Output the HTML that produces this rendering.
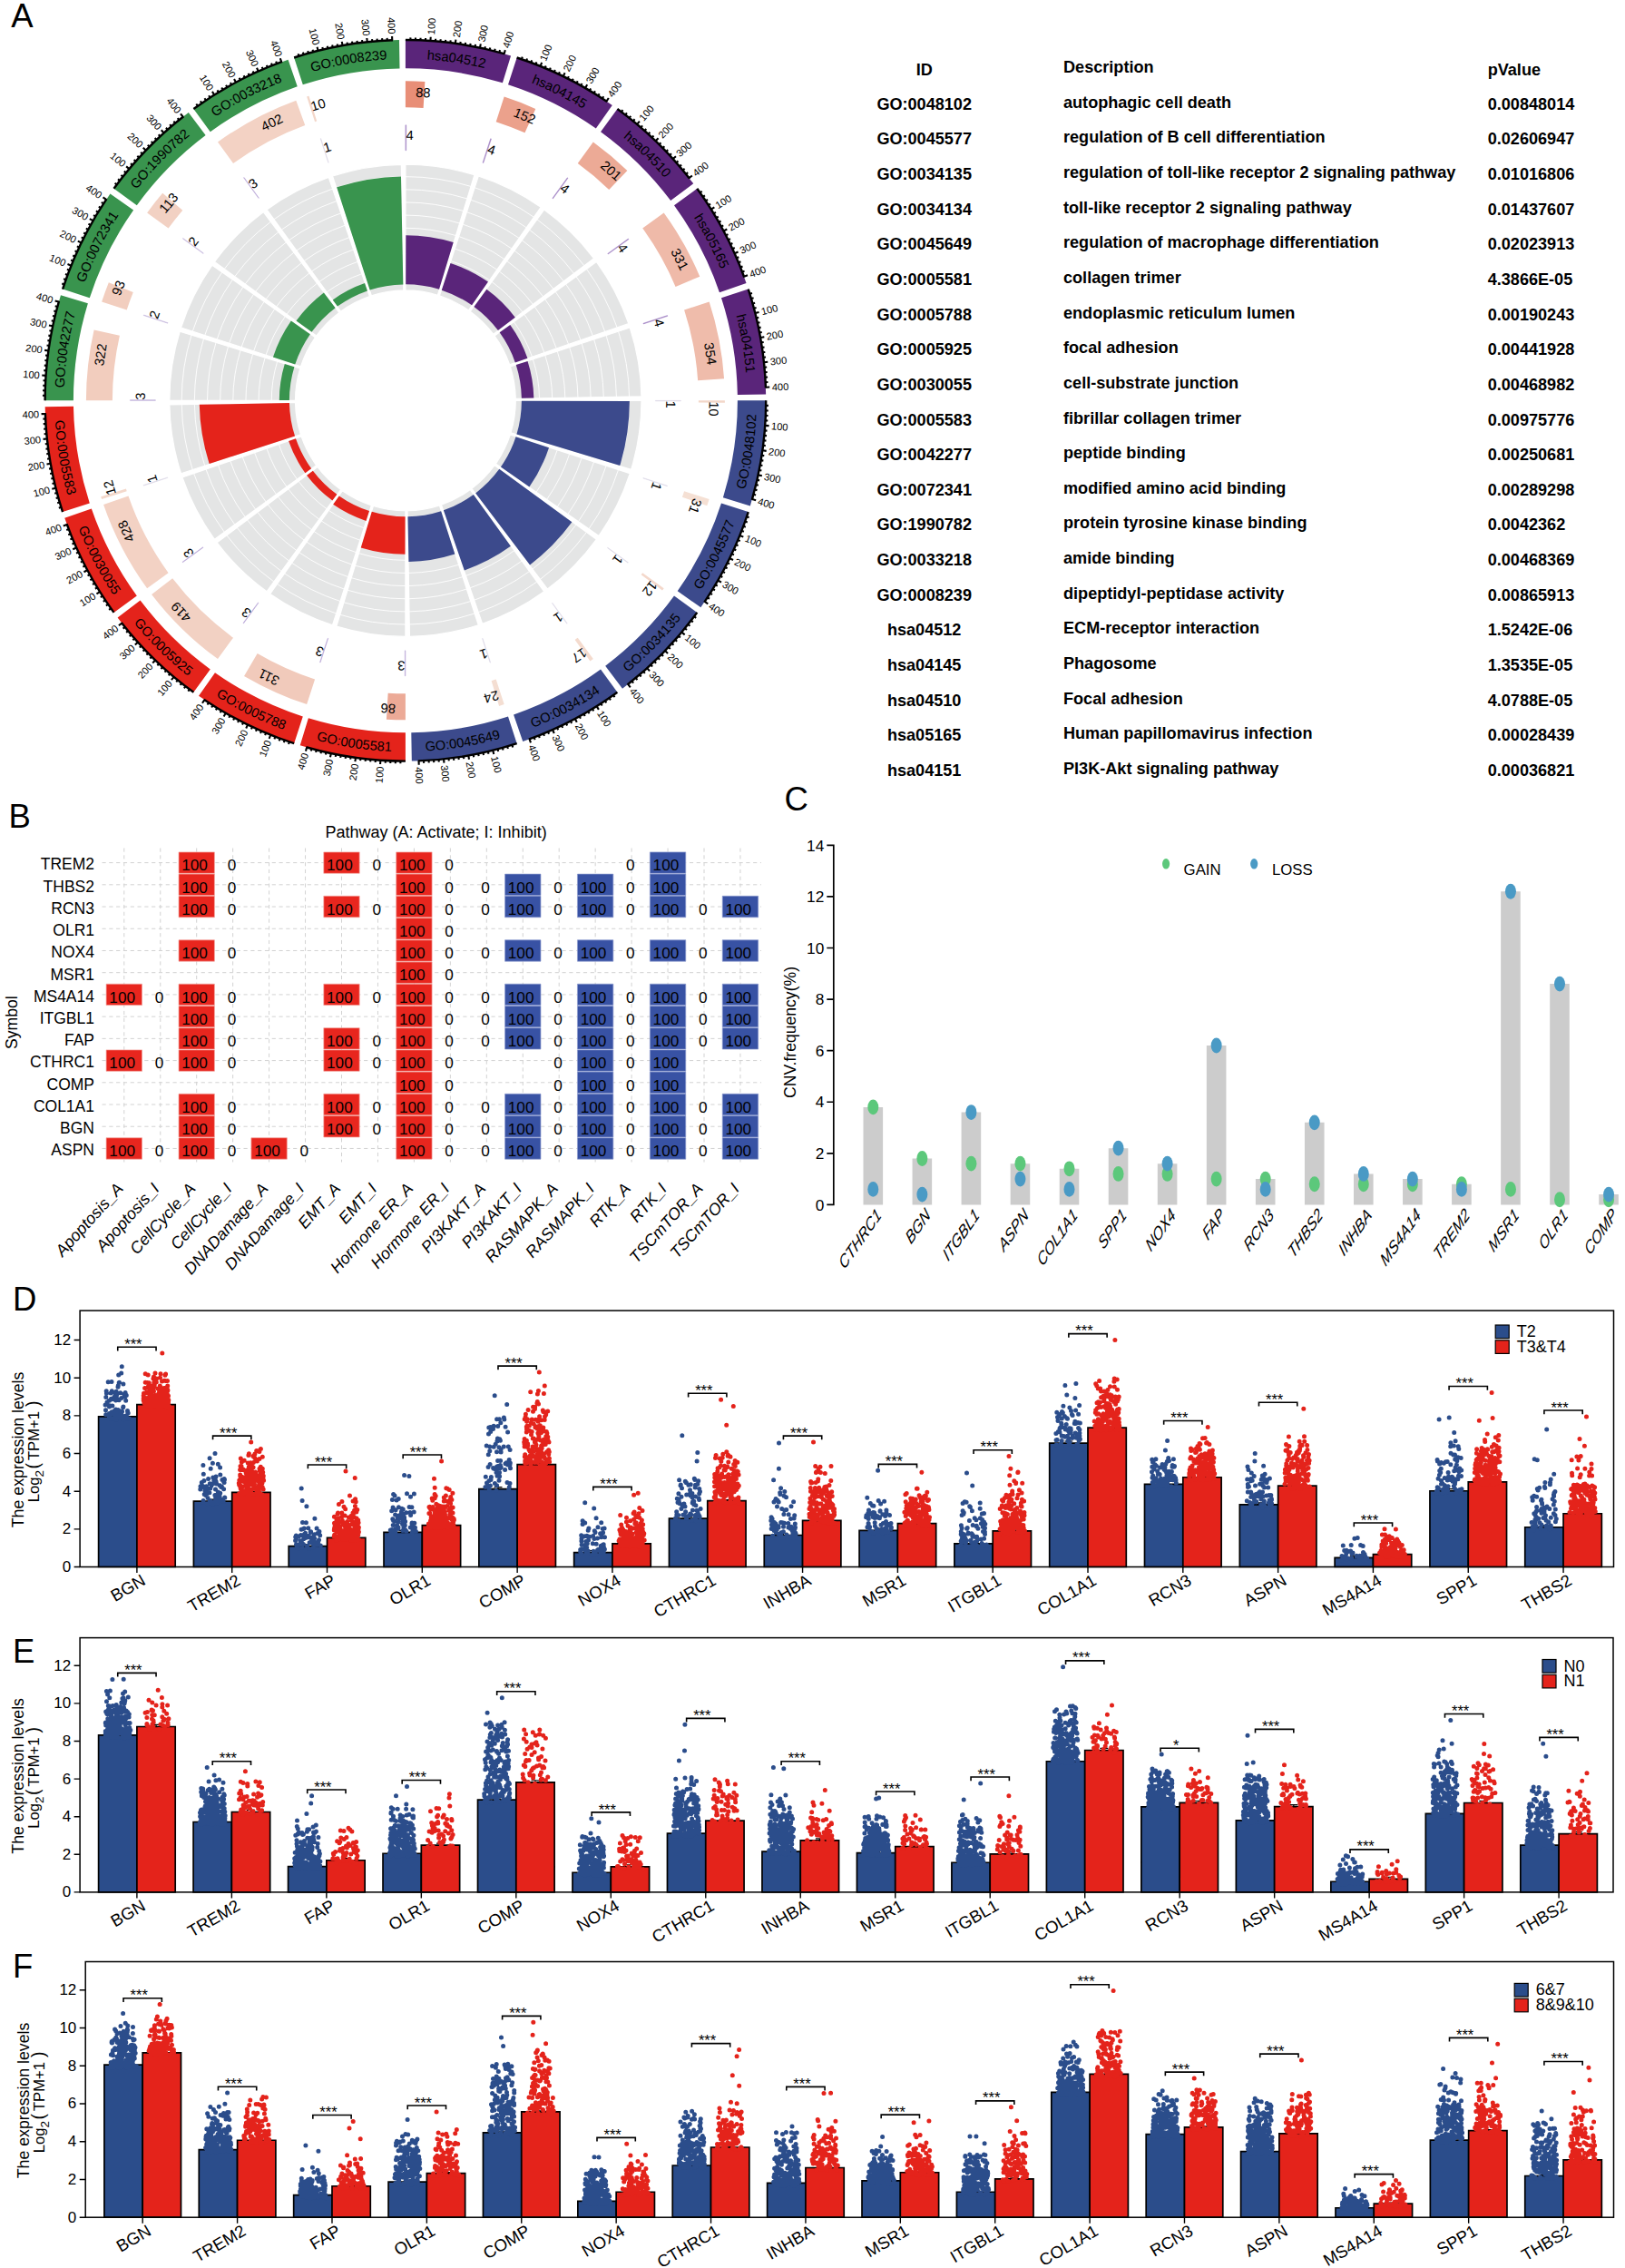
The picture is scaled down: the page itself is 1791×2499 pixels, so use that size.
<!DOCTYPE html>
<html lang="en"><head><meta charset="utf-8"><title>Figure</title>
<style>html,body{margin:0;padding:0;background:#fff}svg{display:block}text{fill:#000}</style></head>
<body>
<svg width="1791" height="2499" viewBox="0 0 1791 2499">
<rect width="1791" height="2499" fill="#fff"/>
<g font-family="'Liberation Sans', Arial, Helvetica, sans-serif" font-size="36.5">
<text x="12.3" y="29.5">A</text>
<text x="9.5" y="911.8">B</text>
<text x="864.5" y="893.4">C</text>
<text x="14" y="1443.8">D</text>
<text x="14" y="1831.5">E</text>
<text x="14" y="2178.5">F</text>
</g>
<g font-family="'Liberation Sans', Arial, Helvetica, sans-serif">
<path d="M446.9 181.25A260.1 260.1 0 0 1 522.95 192.62L482.39 325.25A121.4 121.4 0 0 0 446.9 319.95ZM527.28 193.98A260.1 260.1 0 0 1 596.09 228.29L516.53 341.9A121.4 121.4 0 0 0 484.41 325.89ZM599.78 230.92A260.1 260.1 0 0 1 654.63 284.82L543.85 368.29A121.4 121.4 0 0 0 518.26 343.14ZM657.33 288.47A260.1 260.1 0 0 1 692.83 356.67L561.69 401.83A121.4 121.4 0 0 0 545.11 369.99ZM694.27 360.97A260.1 260.1 0 0 1 706.96 436.81L568.28 439.23A121.4 121.4 0 0 0 562.36 403.84ZM707 441.35A260.1 260.1 0 0 1 695.63 517.4L563 476.84A121.4 121.4 0 0 0 568.3 441.35ZM694.27 521.73A260.1 260.1 0 0 1 659.96 590.54L546.35 510.98A121.4 121.4 0 0 0 562.36 478.86ZM657.33 594.23A260.1 260.1 0 0 1 603.43 649.08L519.96 538.3A121.4 121.4 0 0 0 545.11 512.71ZM599.78 651.78A260.1 260.1 0 0 1 531.58 687.28L486.42 556.14A121.4 121.4 0 0 0 518.26 539.56ZM527.28 688.72A260.1 260.1 0 0 1 451.44 701.41L449.02 562.73A121.4 121.4 0 0 0 484.41 556.81ZM446.9 701.45A260.1 260.1 0 0 1 370.85 690.08L411.41 557.45A121.4 121.4 0 0 0 446.9 562.75ZM366.52 688.72A260.1 260.1 0 0 1 297.71 654.41L377.27 540.8A121.4 121.4 0 0 0 409.39 556.81ZM294.02 651.78A260.1 260.1 0 0 1 239.17 597.88L349.95 514.41A121.4 121.4 0 0 0 375.54 539.56ZM236.47 594.23A260.1 260.1 0 0 1 200.97 526.03L332.11 480.87A121.4 121.4 0 0 0 348.69 512.71ZM199.53 521.73A260.1 260.1 0 0 1 186.84 445.89L325.52 443.47A121.4 121.4 0 0 0 331.44 478.86ZM186.8 441.35A260.1 260.1 0 0 1 198.17 365.3L330.8 405.86A121.4 121.4 0 0 0 325.5 441.35ZM199.53 360.97A260.1 260.1 0 0 1 233.84 292.16L347.45 371.72A121.4 121.4 0 0 0 331.44 403.84ZM236.47 288.47A260.1 260.1 0 0 1 290.37 233.62L373.84 344.4A121.4 121.4 0 0 0 348.69 369.99ZM294.02 230.92A260.1 260.1 0 0 1 362.22 195.42L407.38 326.56A121.4 121.4 0 0 0 375.54 343.14ZM366.52 193.98A260.1 260.1 0 0 1 442.36 181.29L444.78 319.97A121.4 121.4 0 0 0 409.39 325.89Z" fill="#e4e5e5" stroke="#fff" stroke-width="1.2"/>
<path d="M446.9 194.65A246.7 246.7 0 0 1 519.03 205.43M446.9 208.8A232.55 232.55 0 0 1 514.89 218.96M446.9 222.95A218.4 218.4 0 0 1 510.75 232.49M446.9 237.1A204.25 204.25 0 0 1 506.62 246.02M446.9 251.25A190.1 190.1 0 0 1 502.48 259.56M446.9 265.4A175.95 175.95 0 0 1 498.34 273.09M446.9 279.55A161.8 161.8 0 0 1 494.21 286.62M446.9 293.7A147.65 147.65 0 0 1 490.07 300.15M446.9 307.85A133.5 133.5 0 0 1 485.93 313.68M523.13 206.72A246.7 246.7 0 0 1 588.4 239.27M518.76 220.18A232.55 232.55 0 0 1 580.29 250.86M514.39 233.64A218.4 218.4 0 0 1 572.17 262.45M510.02 247.1A204.25 204.25 0 0 1 564.05 274.04M505.64 260.55A190.1 190.1 0 0 1 555.94 285.63M501.27 274.01A175.95 175.95 0 0 1 547.82 297.22M496.9 287.47A161.8 161.8 0 0 1 539.7 308.81M492.53 300.93A147.65 147.65 0 0 1 531.59 320.4M488.15 314.38A133.5 133.5 0 0 1 523.47 331.99M591.91 241.77A246.7 246.7 0 0 1 643.92 292.88M583.59 253.21A232.55 232.55 0 0 1 632.62 301.4M575.27 264.66A218.4 218.4 0 0 1 621.32 309.91M566.96 276.11A204.25 204.25 0 0 1 610.02 318.43M558.64 287.56A190.1 190.1 0 0 1 598.72 326.94M550.32 299A175.95 175.95 0 0 1 587.42 335.46M542 310.45A161.8 161.8 0 0 1 576.12 343.98M533.69 321.9A147.65 147.65 0 0 1 564.82 352.49M525.37 333.35A133.5 133.5 0 0 1 553.52 361.01M646.48 296.34A246.7 246.7 0 0 1 680.16 361.03M635.04 304.66A232.55 232.55 0 0 1 666.78 365.64M623.59 312.98A218.4 218.4 0 0 1 653.4 370.25M612.14 321.29A204.25 204.25 0 0 1 640.02 374.85M600.69 329.61A190.1 190.1 0 0 1 626.64 379.46M589.25 337.93A175.95 175.95 0 0 1 613.26 384.07M577.8 346.25A161.8 161.8 0 0 1 599.88 388.67M566.35 354.56A147.65 147.65 0 0 1 586.51 393.28M554.9 362.88A133.5 133.5 0 0 1 573.13 397.89M681.53 365.12A246.7 246.7 0 0 1 693.56 437.04M668.07 369.49A232.55 232.55 0 0 1 679.41 437.29M654.61 373.86A218.4 218.4 0 0 1 665.27 437.54M641.15 378.23A204.25 204.25 0 0 1 651.12 437.79M627.7 382.61A190.1 190.1 0 0 1 636.97 438.03M614.24 386.98A175.95 175.95 0 0 1 622.82 438.28M600.78 391.35A161.8 161.8 0 0 1 608.68 438.53M587.32 395.72A147.65 147.65 0 0 1 594.53 438.77M573.87 400.1A133.5 133.5 0 0 1 580.38 439.02M693.6 441.35A246.7 246.7 0 0 1 682.82 513.48M679.45 441.35A232.55 232.55 0 0 1 669.29 509.34M665.3 441.35A218.4 218.4 0 0 1 655.76 505.2M651.15 441.35A204.25 204.25 0 0 1 642.23 501.07M637 441.35A190.1 190.1 0 0 1 628.69 496.93M622.85 441.35A175.95 175.95 0 0 1 615.16 492.79M608.7 441.35A161.8 161.8 0 0 1 601.63 488.66M594.55 441.35A147.65 147.65 0 0 1 588.1 484.52M580.4 441.35A133.5 133.5 0 0 1 574.57 480.38M681.53 517.58A246.7 246.7 0 0 1 648.98 582.85M668.07 513.21A232.55 232.55 0 0 1 637.39 574.74M654.61 508.84A218.4 218.4 0 0 1 625.8 566.62M641.15 504.47A204.25 204.25 0 0 1 614.21 558.5M627.7 500.09A190.1 190.1 0 0 1 602.62 550.39M614.24 495.72A175.95 175.95 0 0 1 591.03 542.27M600.78 491.35A161.8 161.8 0 0 1 579.44 534.15M587.32 486.98A147.65 147.65 0 0 1 567.85 526.04M573.87 482.6A133.5 133.5 0 0 1 556.26 517.92M646.48 586.36A246.7 246.7 0 0 1 595.37 638.37M635.04 578.04A232.55 232.55 0 0 1 586.85 627.07M623.59 569.72A218.4 218.4 0 0 1 578.34 615.77M612.14 561.41A204.25 204.25 0 0 1 569.82 604.47M600.69 553.09A190.1 190.1 0 0 1 561.31 593.17M589.25 544.77A175.95 175.95 0 0 1 552.79 581.87M577.8 536.45A161.8 161.8 0 0 1 544.27 570.57M566.35 528.14A147.65 147.65 0 0 1 535.76 559.27M554.9 519.82A133.5 133.5 0 0 1 527.24 547.97M591.91 640.93A246.7 246.7 0 0 1 527.22 674.61M583.59 629.49A232.55 232.55 0 0 1 522.61 661.23M575.27 618.04A218.4 218.4 0 0 1 518 647.85M566.96 606.59A204.25 204.25 0 0 1 513.4 634.47M558.64 595.14A190.1 190.1 0 0 1 508.79 621.09M550.32 583.7A175.95 175.95 0 0 1 504.18 607.71M542 572.25A161.8 161.8 0 0 1 499.58 594.33M533.69 560.8A147.65 147.65 0 0 1 494.97 580.96M525.37 549.35A133.5 133.5 0 0 1 490.36 567.58M523.13 675.98A246.7 246.7 0 0 1 451.21 688.01M518.76 662.52A232.55 232.55 0 0 1 450.96 673.86M514.39 649.06A218.4 218.4 0 0 1 450.71 659.72M510.02 635.6A204.25 204.25 0 0 1 450.46 645.57M505.64 622.15A190.1 190.1 0 0 1 450.22 631.42M501.27 608.69A175.95 175.95 0 0 1 449.97 617.27M496.9 595.23A161.8 161.8 0 0 1 449.72 603.13M492.53 581.77A147.65 147.65 0 0 1 449.48 588.98M488.15 568.32A133.5 133.5 0 0 1 449.23 574.83M446.9 688.05A246.7 246.7 0 0 1 374.77 677.27M446.9 673.9A232.55 232.55 0 0 1 378.91 663.74M446.9 659.75A218.4 218.4 0 0 1 383.05 650.21M446.9 645.6A204.25 204.25 0 0 1 387.18 636.68M446.9 631.45A190.1 190.1 0 0 1 391.32 623.14M446.9 617.3A175.95 175.95 0 0 1 395.46 609.61M446.9 603.15A161.8 161.8 0 0 1 399.59 596.08M446.9 589A147.65 147.65 0 0 1 403.73 582.55M446.9 574.85A133.5 133.5 0 0 1 407.87 569.02M370.67 675.98A246.7 246.7 0 0 1 305.4 643.43M375.04 662.52A232.55 232.55 0 0 1 313.51 631.84M379.41 649.06A218.4 218.4 0 0 1 321.63 620.25M383.78 635.6A204.25 204.25 0 0 1 329.75 608.66M388.16 622.15A190.1 190.1 0 0 1 337.86 597.07M392.53 608.69A175.95 175.95 0 0 1 345.98 585.48M396.9 595.23A161.8 161.8 0 0 1 354.1 573.89M401.27 581.77A147.65 147.65 0 0 1 362.21 562.3M405.65 568.32A133.5 133.5 0 0 1 370.33 550.71M301.89 640.93A246.7 246.7 0 0 1 249.88 589.82M310.21 629.49A232.55 232.55 0 0 1 261.18 581.3M318.53 618.04A218.4 218.4 0 0 1 272.48 572.79M326.84 606.59A204.25 204.25 0 0 1 283.78 564.27M335.16 595.14A190.1 190.1 0 0 1 295.08 555.76M343.48 583.7A175.95 175.95 0 0 1 306.38 547.24M351.8 572.25A161.8 161.8 0 0 1 317.68 538.72M360.11 560.8A147.65 147.65 0 0 1 328.98 530.21M368.43 549.35A133.5 133.5 0 0 1 340.28 521.69M247.32 586.36A246.7 246.7 0 0 1 213.64 521.67M258.76 578.04A232.55 232.55 0 0 1 227.02 517.06M270.21 569.72A218.4 218.4 0 0 1 240.4 512.45M281.66 561.41A204.25 204.25 0 0 1 253.78 507.85M293.11 553.09A190.1 190.1 0 0 1 267.16 503.24M304.55 544.77A175.95 175.95 0 0 1 280.54 498.63M316 536.45A161.8 161.8 0 0 1 293.92 494.03M327.45 528.14A147.65 147.65 0 0 1 307.29 489.42M338.9 519.82A133.5 133.5 0 0 1 320.67 484.81M212.27 517.58A246.7 246.7 0 0 1 200.24 445.66M225.73 513.21A232.55 232.55 0 0 1 214.39 445.41M239.19 508.84A218.4 218.4 0 0 1 228.53 445.16M252.65 504.47A204.25 204.25 0 0 1 242.68 444.91M266.1 500.09A190.1 190.1 0 0 1 256.83 444.67M279.56 495.72A175.95 175.95 0 0 1 270.98 444.42M293.02 491.35A161.8 161.8 0 0 1 285.12 444.17M306.48 486.98A147.65 147.65 0 0 1 299.27 443.93M319.93 482.6A133.5 133.5 0 0 1 313.42 443.68M200.2 441.35A246.7 246.7 0 0 1 210.98 369.22M214.35 441.35A232.55 232.55 0 0 1 224.51 373.36M228.5 441.35A218.4 218.4 0 0 1 238.04 377.5M242.65 441.35A204.25 204.25 0 0 1 251.57 381.63M256.8 441.35A190.1 190.1 0 0 1 265.11 385.77M270.95 441.35A175.95 175.95 0 0 1 278.64 389.91M285.1 441.35A161.8 161.8 0 0 1 292.17 394.04M299.25 441.35A147.65 147.65 0 0 1 305.7 398.18M313.4 441.35A133.5 133.5 0 0 1 319.23 402.32M212.27 365.12A246.7 246.7 0 0 1 244.82 299.85M225.73 369.49A232.55 232.55 0 0 1 256.41 307.96M239.19 373.86A218.4 218.4 0 0 1 268 316.08M252.65 378.23A204.25 204.25 0 0 1 279.59 324.2M266.1 382.61A190.1 190.1 0 0 1 291.18 332.31M279.56 386.98A175.95 175.95 0 0 1 302.77 340.43M293.02 391.35A161.8 161.8 0 0 1 314.36 348.55M306.48 395.72A147.65 147.65 0 0 1 325.95 356.66M319.93 400.1A133.5 133.5 0 0 1 337.54 364.78M247.32 296.34A246.7 246.7 0 0 1 298.43 244.33M258.76 304.66A232.55 232.55 0 0 1 306.95 255.63M270.21 312.98A218.4 218.4 0 0 1 315.46 266.93M281.66 321.29A204.25 204.25 0 0 1 323.98 278.23M293.11 329.61A190.1 190.1 0 0 1 332.49 289.53M304.55 337.93A175.95 175.95 0 0 1 341.01 300.83M316 346.25A161.8 161.8 0 0 1 349.53 312.13M327.45 354.56A147.65 147.65 0 0 1 358.04 323.43M338.9 362.88A133.5 133.5 0 0 1 366.56 334.73M301.89 241.77A246.7 246.7 0 0 1 366.58 208.09M310.21 253.21A232.55 232.55 0 0 1 371.19 221.47M318.53 264.66A218.4 218.4 0 0 1 375.8 234.85M326.84 276.11A204.25 204.25 0 0 1 380.4 248.23M335.16 287.56A190.1 190.1 0 0 1 385.01 261.61M343.48 299A175.95 175.95 0 0 1 389.62 274.99M351.8 310.45A161.8 161.8 0 0 1 394.22 288.37M360.11 321.9A147.65 147.65 0 0 1 398.83 301.74M368.43 333.35A133.5 133.5 0 0 1 403.44 315.12M370.67 206.72A246.7 246.7 0 0 1 442.59 194.69M375.04 220.18A232.55 232.55 0 0 1 442.84 208.84M379.41 233.64A218.4 218.4 0 0 1 443.09 222.98M383.78 247.1A204.25 204.25 0 0 1 443.34 237.13M388.16 260.55A190.1 190.1 0 0 1 443.58 251.28M392.53 274.01A175.95 175.95 0 0 1 443.83 265.43M396.9 287.47A161.8 161.8 0 0 1 444.08 279.57M401.27 300.93A147.65 147.65 0 0 1 444.32 293.72M405.65 314.38A133.5 133.5 0 0 1 444.57 307.87" fill="none" stroke="#fff" stroke-width="0.9"/>
<path d="M446.9 44.05A397.3 397.3 0 0 1 563.06 61.41L553.91 91.34A366 366 0 0 0 446.9 75.35ZM569.67 63.5A397.3 397.3 0 0 1 674.78 115.9L656.83 141.54A366 366 0 0 0 560 93.26ZM680.43 119.93A397.3 397.3 0 0 1 764.2 202.25L739.2 221.09A366 366 0 0 0 662.03 145.25ZM768.32 207.82A397.3 397.3 0 0 1 822.55 312L792.96 322.19A366 366 0 0 0 743 226.22ZM824.75 318.58A397.3 397.3 0 0 1 844.14 434.42L812.84 434.96A366 366 0 0 0 794.99 328.25Z" fill="#5a257a"/>
<path d="M447.34 259.26A182.09 182.09 0 0 1 499.71 267.09L484.02 318.85A128 128 0 0 0 447.21 313.35ZM496.5 289.95A159.32 159.32 0 0 1 537.96 310.62L520.06 336.32A128 128 0 0 0 486.75 319.71ZM536.36 318.86A151.68 151.68 0 0 1 567.81 349.77L548.94 364.07A128 128 0 0 0 522.39 337.98ZM562.29 357.94A142.38 142.38 0 0 1 581.41 394.67L567.82 399.38A128 128 0 0 0 550.64 366.37ZM581.53 397.97A141.45 141.45 0 0 1 588.32 438.54L574.87 438.8A128 128 0 0 0 568.73 402.09Z" fill="#5a257a"/>
<path d="M844.2 441.35A397.3 397.3 0 0 1 826.84 557.51L796.91 548.36A366 366 0 0 0 812.9 441.35ZM824.75 564.12A397.3 397.3 0 0 1 772.35 669.23L746.71 651.28A366 366 0 0 0 794.99 554.45ZM768.32 674.88A397.3 397.3 0 0 1 686 758.65L667.16 733.65A366 366 0 0 0 743 656.48ZM680.43 762.77A397.3 397.3 0 0 1 576.25 817L566.06 787.41A366 366 0 0 0 662.03 737.45ZM569.67 819.2A397.3 397.3 0 0 1 453.83 838.59L453.29 807.29A366 366 0 0 0 560 789.44Z" fill="#3c4a8c"/>
<path d="M693.9 441.95A247 247 0 0 1 683.28 512.99L569.4 478.47A128 128 0 0 0 574.9 441.66ZM605.02 493.15A166.39 166.39 0 0 1 583.43 536.45L551.93 514.51A128 128 0 0 0 568.54 481.2ZM630.35 575.32A227.17 227.17 0 0 1 584.06 622.44L524.18 543.39A128 128 0 0 0 550.27 516.84ZM562.89 601.82A198 198 0 0 1 511.82 628.4L488.87 562.27A128 128 0 0 0 521.88 545.09ZM501.36 610.38A177.58 177.58 0 0 1 450.43 618.9L449.45 569.32A128 128 0 0 0 486.16 563.18Z" fill="#3c4a8c"/>
<path d="M446.9 838.65A397.3 397.3 0 0 1 330.74 821.29L339.89 791.36A366 366 0 0 0 446.9 807.35ZM324.13 819.2A397.3 397.3 0 0 1 219.02 766.8L236.97 741.16A366 366 0 0 0 333.8 789.44ZM213.37 762.77A397.3 397.3 0 0 1 129.6 680.45L154.6 661.61A366 366 0 0 0 231.77 737.45ZM125.48 674.88A397.3 397.3 0 0 1 71.25 570.7L100.84 560.51A366 366 0 0 0 150.8 656.48ZM69.05 564.12A397.3 397.3 0 0 1 49.66 448.28L80.96 447.74A366 366 0 0 0 98.81 554.45Z" fill="#e4231b"/>
<path d="M446.49 610.86A169.51 169.51 0 0 1 397.74 603.58L409.78 563.85A128 128 0 0 0 446.59 569.35ZM403.47 573.9A139.48 139.48 0 0 1 367.18 555.8L373.74 546.38A128 128 0 0 0 407.05 562.99ZM366.39 551.6A136.52 136.52 0 0 1 338.07 523.78L344.86 518.63A128 128 0 0 0 371.41 544.72ZM336.4 521.22A136.34 136.34 0 0 1 318.1 486.05L325.98 483.32A128 128 0 0 0 343.16 516.33ZM230.68 511.02A227.17 227.17 0 0 1 219.78 445.87L318.93 443.9A128 128 0 0 0 325.07 480.61Z" fill="#e4231b"/>
<path d="M49.6 441.35A397.3 397.3 0 0 1 66.96 325.19L96.89 334.34A366 366 0 0 0 80.9 441.35ZM69.05 318.58A397.3 397.3 0 0 1 121.45 213.47L147.09 231.42A366 366 0 0 0 98.81 328.25ZM125.48 207.82A397.3 397.3 0 0 1 207.8 124.05L226.64 149.05A366 366 0 0 0 150.8 226.22ZM213.37 119.93A397.3 397.3 0 0 1 317.55 65.7L327.74 95.29A366 366 0 0 0 231.77 145.25ZM324.13 63.5A397.3 397.3 0 0 1 439.97 44.11L440.51 75.41A366 366 0 0 0 333.8 93.26Z" fill="#39944e"/>
<path d="M307.81 441.01A139.09 139.09 0 0 1 313.79 401.01L324.4 404.23A128 128 0 0 0 318.9 441.04ZM300.94 393.53A153.59 153.59 0 0 1 320.87 353.56L341.87 368.19A128 128 0 0 0 325.26 401.5ZM326.52 353.44A149.06 149.06 0 0 1 356.9 322.52L369.62 339.31A128 128 0 0 0 343.53 365.86ZM366.71 330.42A136.88 136.88 0 0 1 402.02 312.04L404.93 320.43A128 128 0 0 0 371.92 337.61ZM371.15 206.25A247 247 0 0 1 441.99 194.4L444.35 313.38A128 128 0 0 0 407.64 319.52Z" fill="#39944e"/>
<path d="M446.9 89.35A352 352 0 0 1 468.36 90L466.59 118.95A323 323 0 0 0 446.9 118.35Z" fill="#e88e77"/>
<path d="M446.9 137.85A303.5 303.5 0 0 1 447.74 137.85L447.66 165.85A275.5 275.5 0 0 0 446.9 165.85Z" fill="#a284c4" stroke="#a284c4" stroke-width="0.5"/>
<path d="M555.67 106.58A352 352 0 0 1 590.28 119.88L578.47 146.36A323 323 0 0 0 546.71 134.16Z" fill="#eba18c"/>
<path d="M540.69 152.7A303.5 303.5 0 0 1 541.49 152.97L532.76 179.57A275.5 275.5 0 0 0 532.03 179.33Z" fill="#a284c4" stroke="#a284c4" stroke-width="0.5"/>
<path d="M653.8 156.58A352 352 0 0 1 691.35 188.07L671.21 208.94A323 323 0 0 0 636.75 180.04Z" fill="#ecaa96"/>
<path d="M625.29 195.81A303.5 303.5 0 0 1 625.97 196.31L609.45 218.92A275.5 275.5 0 0 0 608.83 218.47Z" fill="#a284c4" stroke="#a284c4" stroke-width="0.5"/>
<path d="M731.67 234.45A352 352 0 0 1 771.27 304.65L744.55 315.91A323 323 0 0 0 708.21 251.5Z" fill="#efbaa9"/>
<path d="M692.44 262.96A303.5 303.5 0 0 1 692.93 263.64L670.23 280.03A275.5 275.5 0 0 0 669.78 279.42Z" fill="#a284c4" stroke="#a284c4" stroke-width="0.5"/>
<path d="M781.67 332.58A352 352 0 0 1 798.07 417.17L769.14 419.16A323 323 0 0 0 754.09 341.54Z" fill="#efbcab"/>
<path d="M735.55 347.56A303.5 303.5 0 0 1 735.8 348.36L709.15 356.94A275.5 275.5 0 0 0 708.92 356.22Z" fill="#a284c4" stroke="#a284c4" stroke-width="0.5"/>
<path d="M798.9 441.35A352 352 0 0 1 798.89 443.79L769.89 443.59A323 323 0 0 0 769.9 441.35Z" fill="#f3d7c9"/>
<path d="M750.4 441.35A303.5 303.5 0 0 1 750.4 441.99L722.4 441.93A275.5 275.5 0 0 0 722.4 441.35Z" fill="#dcd8e6" stroke="#dcd8e6" stroke-width="0.5"/>
<path d="M781.67 550.12A352 352 0 0 1 779.26 557.29L751.88 547.74A323 323 0 0 0 754.09 541.16Z" fill="#f5e0d4"/>
<path d="M735.55 535.14A303.5 303.5 0 0 1 735.35 535.74L708.74 527.03A275.5 275.5 0 0 0 708.92 526.48Z" fill="#dcd8e6" stroke="#dcd8e6" stroke-width="0.5"/>
<path d="M731.67 648.25A352 352 0 0 1 729.94 650.61L706.62 633.37A323 323 0 0 0 708.21 631.2Z" fill="#f4d8cb"/>
<path d="M692.44 619.74A303.5 303.5 0 0 1 692.06 620.26L669.44 603.75A275.5 275.5 0 0 0 669.78 603.28Z" fill="#dcd8e6" stroke="#dcd8e6" stroke-width="0.5"/>
<path d="M653.8 726.12A352 352 0 0 1 650.43 728.54L633.66 704.88A323 323 0 0 0 636.75 702.66Z" fill="#f4dbce"/>
<path d="M625.29 686.89A303.5 303.5 0 0 1 624.78 687.26L608.37 664.57A275.5 275.5 0 0 0 608.83 664.23Z" fill="#dcd8e6" stroke="#dcd8e6" stroke-width="0.5"/>
<path d="M555.67 776.12A352 352 0 0 1 550.09 777.89L541.59 750.16A323 323 0 0 0 546.71 748.54Z" fill="#f4ded2"/>
<path d="M540.69 730A303.5 303.5 0 0 1 540.08 730.19L531.49 703.54A275.5 275.5 0 0 0 532.03 703.37Z" fill="#dcd8e6" stroke="#dcd8e6" stroke-width="0.5"/>
<path d="M446.9 793.35A352 352 0 0 1 425.93 792.72L427.65 763.78A323 323 0 0 0 446.9 764.35Z" fill="#ecaa97"/>
<path d="M446.9 744.85A303.5 303.5 0 0 1 446.26 744.85L446.32 716.85A275.5 275.5 0 0 0 446.9 716.85Z" fill="#b9a6d6" stroke="#b9a6d6" stroke-width="0.5"/>
<path d="M338.13 776.12A352 352 0 0 1 269.03 745.1L283.68 720.08A323 323 0 0 0 347.09 748.54Z" fill="#f1cabb"/>
<path d="M353.11 730A303.5 303.5 0 0 1 352.51 729.8L361.22 703.19A275.5 275.5 0 0 0 361.77 703.37Z" fill="#b9a6d6" stroke="#b9a6d6" stroke-width="0.5"/>
<path d="M240 726.12A352 352 0 0 1 167.11 654.94L190.16 637.34A323 323 0 0 0 257.05 702.66Z" fill="#f2d1c3"/>
<path d="M268.51 686.89A303.5 303.5 0 0 1 267.99 686.51L284.5 663.89A275.5 275.5 0 0 0 284.97 664.23Z" fill="#b9a6d6" stroke="#b9a6d6" stroke-width="0.5"/>
<path d="M162.13 648.25A352 352 0 0 1 114.08 555.95L141.5 546.51A323 323 0 0 0 185.59 631.2Z" fill="#f3d2c4"/>
<path d="M201.36 619.74A303.5 303.5 0 0 1 200.99 619.23L223.68 602.82A275.5 275.5 0 0 0 224.02 603.28Z" fill="#b9a6d6" stroke="#b9a6d6" stroke-width="0.5"/>
<path d="M112.13 550.12A352 352 0 0 1 111.23 547.34L138.89 538.6A323 323 0 0 0 139.71 541.16Z" fill="#f3d8cb"/>
<path d="M158.25 535.14A303.5 303.5 0 0 1 158.06 534.53L184.71 525.94A275.5 275.5 0 0 0 184.88 526.48Z" fill="#dcd8e6" stroke="#dcd8e6" stroke-width="0.5"/>
<path d="M94.9 441.35A352 352 0 0 1 103.63 363.43L131.91 369.85A323 323 0 0 0 123.9 441.35Z" fill="#f2cdbe"/>
<path d="M143.4 441.35A303.5 303.5 0 0 1 143.4 440.71L171.4 440.77A275.5 275.5 0 0 0 171.4 441.35Z" fill="#b9a6d6" stroke="#b9a6d6" stroke-width="0.5"/>
<path d="M112.13 332.58A352 352 0 0 1 119.83 311.23L146.78 321.95A323 323 0 0 0 139.71 341.54Z" fill="#f2cebf"/>
<path d="M158.25 347.56A303.5 303.5 0 0 1 158.45 346.96L185.06 355.67A275.5 275.5 0 0 0 184.88 356.22Z" fill="#c4b6dc" stroke="#c4b6dc" stroke-width="0.5"/>
<path d="M162.13 234.45A352 352 0 0 1 179.19 212.8L201.25 231.63A323 323 0 0 0 185.59 251.5Z" fill="#f2d1c3"/>
<path d="M201.36 262.96A303.5 303.5 0 0 1 201.74 262.44L224.36 278.95A275.5 275.5 0 0 0 224.02 279.42Z" fill="#c4b6dc" stroke="#c4b6dc" stroke-width="0.5"/>
<path d="M240 156.58A352 352 0 0 1 326.32 110.65L336.25 137.89A323 323 0 0 0 257.05 180.04Z" fill="#f3d2c4"/>
<path d="M268.51 195.81A303.5 303.5 0 0 1 269.02 195.44L285.43 218.13A275.5 275.5 0 0 0 284.97 218.47Z" fill="#b9a6d6" stroke="#b9a6d6" stroke-width="0.5"/>
<path d="M338.13 106.58A352 352 0 0 1 340.45 105.83L349.22 133.47A323 323 0 0 0 347.09 134.16Z" fill="#f3d7ca"/>
<path d="M353.11 152.7A303.5 303.5 0 0 1 353.72 152.51L362.31 179.16A275.5 275.5 0 0 0 361.77 179.33Z" fill="#dcd8e6" stroke="#dcd8e6" stroke-width="0.5"/>
<path d="M446.9 44.05A397.3 397.3 0 0 1 556.46 59.46M569.67 63.5A397.3 397.3 0 0 1 669.11 112M680.43 119.93A397.3 397.3 0 0 1 760.01 196.79M768.32 207.82A397.3 397.3 0 0 1 820.26 305.52M824.75 318.58A397.3 397.3 0 0 1 843.96 427.54M844.2 441.35A397.3 397.3 0 0 1 828.79 550.91M824.75 564.12A397.3 397.3 0 0 1 776.25 663.56M768.32 674.88A397.3 397.3 0 0 1 691.46 754.46M680.43 762.77A397.3 397.3 0 0 1 582.73 814.71M569.67 819.2A397.3 397.3 0 0 1 460.71 838.41M446.9 838.65A397.3 397.3 0 0 1 337.34 823.24M324.13 819.2A397.3 397.3 0 0 1 224.69 770.7M213.37 762.77A397.3 397.3 0 0 1 133.79 685.91M125.48 674.88A397.3 397.3 0 0 1 73.54 577.18M69.05 564.12A397.3 397.3 0 0 1 49.84 455.16M49.6 441.35A397.3 397.3 0 0 1 65.01 331.79M69.05 318.58A397.3 397.3 0 0 1 117.55 219.14M125.48 207.82A397.3 397.3 0 0 1 202.34 128.24M213.37 119.93A397.3 397.3 0 0 1 311.07 67.99M324.13 63.5A397.3 397.3 0 0 1 433.09 44.29" fill="none" stroke="#000" stroke-width="2.4"/>
<path d="M452.41 44.09L452.45 41.39M457.92 44.2L457.99 41.5M463.42 44.39L463.53 41.7M468.92 44.66L469.07 41.96M474.42 45L474.72 40.71M479.91 45.42L480.14 42.73M485.4 45.92L485.66 43.23M490.88 46.49L491.18 43.81M496.35 47.14L496.68 44.46M501.81 47.86L502.4 43.6M507.26 48.66L507.67 45.99M512.7 49.54L513.14 46.87M518.12 50.49L518.61 47.83M523.54 51.51L524.06 48.86M528.93 52.61L529.82 48.4M534.31 53.79L534.91 51.15M539.68 55.03L540.31 52.41M545.03 56.36L545.69 53.74M550.35 57.76L551.06 55.15M555.66 59.23L556.84 55.09M574.9 65.23L575.77 62.68M580.1 67.04L581.01 64.5M585.28 68.93L586.22 66.4M590.43 70.88L591.4 68.36M595.55 72.91L597.16 68.92M600.64 75L601.69 72.51M605.71 77.17L606.79 74.7M610.74 79.41L611.86 76.95M615.75 81.71L616.89 79.27M620.72 84.09L622.6 80.22M625.65 86.53L626.87 84.12M630.55 89.05L631.8 86.65M635.42 91.63L636.7 89.25M640.25 94.27L641.57 91.91M645.04 96.99L647.19 93.26M649.8 99.77L651.18 97.45M654.52 102.61L655.93 100.31M659.19 105.52L660.64 103.24M663.83 108.5L665.3 106.24M668.42 111.54L670.82 107.97M684.86 123.2L686.48 121.03M689.25 126.53L690.9 124.39M693.59 129.92L695.27 127.8M697.88 133.37L699.59 131.27M702.13 136.88L704.89 133.58M706.33 140.44L708.09 138.4M710.47 144.07L712.27 142.05M714.57 147.75L716.39 145.76M718.62 151.49L720.46 149.52M722.61 155.29L725.59 152.19M726.55 159.14L728.45 157.22M730.43 163.04L732.36 161.15M734.26 167L736.22 165.13M738.04 171.01L740.02 169.17M741.76 175.07L744.95 172.19M745.42 179.18L747.45 177.4M749.03 183.35L751.08 181.6M752.58 187.56L754.66 185.84M756.07 191.82L758.17 190.13M759.5 196.14L762.88 193.48M771.53 212.3L773.74 210.75M774.67 216.82L776.9 215.3M777.76 221.39L780 219.9M780.77 226L783.04 224.54M783.73 230.65L787.37 228.37M786.62 235.34L788.92 233.94M789.44 240.07L791.77 238.7M792.2 244.84L794.54 243.5M794.89 249.64L797.25 248.34M797.51 254.49L801.31 252.46M800.07 259.36L802.47 258.13M802.56 264.28L804.98 263.08M804.98 269.23L807.41 268.06M807.33 274.21L809.78 273.07M809.61 279.22L813.54 277.47M811.83 284.27L814.31 283.2M813.97 289.34L816.46 288.31M816.04 294.44L818.55 293.45M818.04 299.58L820.57 298.61M819.97 304.73L824.01 303.26M826.42 323.83L829 323.03M828.01 329.1L830.6 328.34M829.53 334.4L832.13 333.67M830.98 339.71L833.59 339.02M832.35 345.05L836.52 344M833.65 350.4L836.28 349.78M834.87 355.77L837.51 355.19M836.02 361.16L838.67 360.61M837.1 366.56L839.75 366.05M838.1 371.98L842.33 371.23M839.02 377.41L841.69 376.97M839.87 382.85L842.54 382.45M840.64 388.3L843.32 387.94M841.34 393.77L844.02 393.44M841.96 399.24L846.24 398.79M842.51 404.72L845.2 404.47M842.98 410.21L845.67 410M843.37 415.7L846.07 415.53M843.69 421.2L846.39 421.07M843.93 426.71L848.23 426.55M844.16 446.86L846.86 446.9M844.05 452.37L846.75 452.44M843.86 457.87L846.55 457.98M843.59 463.37L846.29 463.52M843.25 468.87L847.54 469.17M842.83 474.36L845.52 474.59M842.33 479.85L845.02 480.11M841.76 485.33L844.44 485.63M841.11 490.8L843.79 491.13M840.39 496.26L844.65 496.85M839.59 501.71L842.26 502.12M838.71 507.15L841.38 507.59M837.76 512.57L840.42 513.06M836.74 517.99L839.39 518.51M835.64 523.38L839.85 524.27M834.46 528.76L837.1 529.36M833.22 534.13L835.84 534.76M831.89 539.48L834.51 540.14M830.49 544.8L833.1 545.51M829.02 550.11L833.16 551.29M823.02 569.35L825.57 570.22M821.21 574.55L823.75 575.46M819.32 579.73L821.85 580.67M817.37 584.88L819.89 585.85M815.34 590L819.33 591.61M813.25 595.09L815.74 596.14M811.08 600.16L813.55 601.24M808.84 605.19L811.3 606.31M806.54 610.2L808.98 611.34M804.16 615.17L808.03 617.05M801.72 620.1L804.13 621.32M799.2 625L801.6 626.25M796.62 629.87L799 631.15M793.98 634.7L796.34 636.02M791.26 639.49L794.99 641.64M788.48 644.25L790.8 645.63M785.64 648.97L787.94 650.38M782.73 653.64L785.01 655.09M779.75 658.28L782.01 659.75M776.71 662.87L780.28 665.27M765.05 679.31L767.22 680.93M761.72 683.7L763.86 685.35M758.33 688.04L760.45 689.72M754.88 692.33L756.98 694.04M751.37 696.58L754.67 699.34M747.81 700.78L749.85 702.54M744.18 704.92L746.2 706.72M740.5 709.02L742.49 710.84M736.76 713.07L738.73 714.91M732.96 717.06L736.06 720.04M729.11 721L731.03 722.9M725.21 724.88L727.1 726.81M721.25 728.71L723.12 730.67M717.24 732.49L719.08 734.47M713.18 736.21L716.06 739.4M709.07 739.87L710.85 741.9M704.9 743.48L706.65 745.53M700.69 747.03L702.41 749.11M696.43 750.52L698.12 752.62M692.11 753.95L694.77 757.33M675.95 765.98L677.5 768.19M671.43 769.12L672.95 771.35M666.86 772.21L668.35 774.45M662.25 775.22L663.71 777.49M657.6 778.18L659.88 781.82M652.91 781.07L654.31 783.37M648.18 783.89L649.55 786.22M643.41 786.65L644.75 788.99M638.61 789.34L639.91 791.7M633.76 791.96L635.79 795.76M628.89 794.52L630.12 796.92M623.97 797.01L625.17 799.43M619.02 799.43L620.19 801.86M614.04 801.78L615.18 804.23M609.03 804.06L610.78 807.99M603.98 806.28L605.05 808.76M598.91 808.42L599.94 810.91M593.81 810.49L594.8 813M588.67 812.49L589.64 815.02M583.52 814.42L584.99 818.46M564.42 820.87L565.22 823.45M559.15 822.46L559.91 825.05M553.85 823.98L554.58 826.58M548.54 825.43L549.23 828.04M543.2 826.8L544.25 830.97M537.85 828.1L538.47 830.73M532.48 829.32L533.06 831.96M527.09 830.47L527.64 833.12M521.69 831.55L522.2 834.2M516.27 832.55L517.02 836.78M510.84 833.47L511.28 836.14M505.4 834.32L505.8 836.99M499.95 835.09L500.31 837.77M494.48 835.79L494.81 838.47M489.01 836.41L489.46 840.69M483.53 836.96L483.78 839.65M478.04 837.43L478.25 840.12M472.55 837.82L472.72 840.52M467.05 838.14L467.18 840.84M461.54 838.38L461.7 842.68M441.39 838.61L441.35 841.31M435.88 838.5L435.81 841.2M430.38 838.31L430.27 841M424.88 838.04L424.73 840.74M419.38 837.7L419.08 841.99M413.89 837.28L413.66 839.97M408.4 836.78L408.14 839.47M402.92 836.21L402.62 838.89M397.45 835.56L397.12 838.24M391.99 834.84L391.4 839.1M386.54 834.04L386.13 836.71M381.1 833.16L380.66 835.83M375.68 832.21L375.19 834.87M370.26 831.19L369.74 833.84M364.87 830.09L363.98 834.3M359.49 828.91L358.89 831.55M354.12 827.67L353.49 830.29M348.77 826.34L348.11 828.96M343.45 824.94L342.74 827.55M338.14 823.47L336.96 827.61M318.9 817.47L318.03 820.02M313.7 815.66L312.79 818.2M308.52 813.77L307.58 816.3M303.37 811.82L302.4 814.34M298.25 809.79L296.64 813.78M293.16 807.7L292.11 810.19M288.09 805.53L287.01 808M283.06 803.29L281.94 805.75M278.05 800.99L276.91 803.43M273.08 798.61L271.2 802.48M268.15 796.17L266.93 798.58M263.25 793.65L262 796.05M258.38 791.07L257.1 793.45M253.55 788.43L252.23 790.79M248.76 785.71L246.61 789.44M244 782.93L242.62 785.25M239.28 780.09L237.87 782.39M234.61 777.18L233.16 779.46M229.97 774.2L228.5 776.46M225.38 771.16L222.98 774.73M208.94 759.5L207.32 761.67M204.55 756.17L202.9 758.31M200.21 752.78L198.53 754.9M195.92 749.33L194.21 751.43M191.67 745.82L188.91 749.12M187.47 742.26L185.71 744.3M183.33 738.63L181.53 740.65M179.23 734.95L177.41 736.94M175.18 731.21L173.34 733.18M171.19 727.41L168.21 730.51M167.25 723.56L165.35 725.48M163.37 719.66L161.44 721.55M159.54 715.7L157.58 717.57M155.76 711.69L153.78 713.53M152.04 707.63L148.85 710.51M148.38 703.52L146.35 705.3M144.77 699.35L142.72 701.1M141.22 695.14L139.14 696.86M137.73 690.88L135.63 692.57M134.3 686.56L130.92 689.22M122.27 670.4L120.06 671.95M119.13 665.88L116.9 667.4M116.04 661.31L113.8 662.8M113.03 656.7L110.76 658.16M110.07 652.05L106.43 654.33M107.18 647.36L104.88 648.76M104.36 642.63L102.03 644M101.6 637.86L99.26 639.2M98.91 633.06L96.55 634.36M96.29 628.21L92.49 630.24M93.73 623.34L91.33 624.57M91.24 618.42L88.82 619.62M88.82 613.47L86.39 614.64M86.47 608.49L84.02 609.63M84.19 603.48L80.26 605.23M81.97 598.43L79.49 599.5M79.83 593.36L77.34 594.39M77.76 588.26L75.25 589.25M75.76 583.12L73.23 584.09M73.83 577.97L69.79 579.44M67.38 558.87L64.8 559.67M65.79 553.6L63.2 554.36M64.27 548.3L61.67 549.03M62.82 542.99L60.21 543.68M61.45 537.65L57.28 538.7M60.15 532.3L57.52 532.92M58.93 526.93L56.29 527.51M57.78 521.54L55.13 522.09M56.7 516.14L54.05 516.65M55.7 510.72L51.47 511.47M54.78 505.29L52.11 505.73M53.93 499.85L51.26 500.25M53.16 494.4L50.48 494.76M52.46 488.93L49.78 489.26M51.84 483.46L47.56 483.91M51.29 477.98L48.6 478.23M50.82 472.49L48.13 472.7M50.43 467L47.73 467.17M50.11 461.5L47.41 461.63M49.87 455.99L45.57 456.15M49.64 435.84L46.94 435.8M49.75 430.33L47.05 430.26M49.94 424.83L47.25 424.72M50.21 419.33L47.51 419.18M50.55 413.83L46.26 413.53M50.97 408.34L48.28 408.11M51.47 402.85L48.78 402.59M52.04 397.37L49.36 397.07M52.69 391.9L50.01 391.57M53.41 386.44L49.15 385.85M54.21 380.99L51.54 380.58M55.09 375.55L52.42 375.11M56.04 370.13L53.38 369.64M57.06 364.71L54.41 364.19M58.16 359.32L53.95 358.43M59.34 353.94L56.7 353.34M60.58 348.57L57.96 347.94M61.91 343.22L59.29 342.56M63.31 337.9L60.7 337.19M64.78 332.59L60.64 331.41M70.78 313.35L68.23 312.48M72.59 308.15L70.05 307.24M74.48 302.97L71.95 302.03M76.43 297.82L73.91 296.85M78.46 292.7L74.47 291.09M80.55 287.61L78.06 286.56M82.72 282.54L80.25 281.46M84.96 277.51L82.5 276.39M87.26 272.5L84.82 271.36M89.64 267.53L85.77 265.65M92.08 262.6L89.67 261.38M94.6 257.7L92.2 256.45M97.18 252.83L94.8 251.55M99.82 248L97.46 246.68M102.54 243.21L98.81 241.06M105.32 238.45L103 237.07M108.16 233.73L105.86 232.32M111.07 229.06L108.79 227.61M114.05 224.42L111.79 222.95M117.09 219.83L113.52 217.43M128.75 203.39L126.58 201.77M132.08 199L129.94 197.35M135.47 194.66L133.35 192.98M138.92 190.37L136.82 188.66M142.43 186.12L139.13 183.36M145.99 181.92L143.95 180.16M149.62 177.78L147.6 175.98M153.3 173.68L151.31 171.86M157.04 169.63L155.07 167.79M160.84 165.64L157.74 162.66M164.69 161.7L162.77 159.8M168.59 157.82L166.7 155.89M172.55 153.99L170.68 152.03M176.56 150.21L174.72 148.23M180.62 146.49L177.74 143.3M184.73 142.83L182.95 140.8M188.9 139.22L187.15 137.17M193.11 135.67L191.39 133.59M197.37 132.18L195.68 130.08M201.69 128.75L199.03 125.37M217.85 116.72L216.3 114.51M222.37 113.58L220.85 111.35M226.94 110.49L225.45 108.25M231.55 107.48L230.09 105.21M236.2 104.52L233.92 100.88M240.89 101.63L239.49 99.33M245.62 98.81L244.25 96.48M250.39 96.05L249.05 93.71M255.19 93.36L253.89 91M260.04 90.74L258.01 86.94M264.91 88.18L263.68 85.78M269.83 85.69L268.63 83.27M274.78 83.27L273.61 80.84M279.76 80.92L278.62 78.47M284.77 78.64L283.02 74.71M289.82 76.42L288.75 73.94M294.89 74.28L293.86 71.79M299.99 72.21L299 69.7M305.13 70.21L304.16 67.68M310.28 68.28L308.81 64.24M329.38 61.83L328.58 59.25M334.65 60.24L333.89 57.65M339.95 58.72L339.22 56.12M345.26 57.27L344.57 54.66M350.6 55.9L349.55 51.73M355.95 54.6L355.33 51.97M361.32 53.38L360.74 50.74M366.71 52.23L366.16 49.58M372.11 51.15L371.6 48.5M377.53 50.15L376.78 45.92M382.96 49.23L382.52 46.56M388.4 48.38L388 45.71M393.85 47.61L393.49 44.93M399.32 46.91L398.99 44.23M404.79 46.29L404.34 42.01M410.27 45.74L410.02 43.05M415.76 45.27L415.55 42.58M421.25 44.88L421.08 42.18M426.75 44.56L426.62 41.86M432.26 44.32L432.1 40.02" fill="none" stroke="#000" stroke-width="2.1"/>
<g font-size="11.1">
<text transform="translate(474.89 38.22) rotate(-86.03)" text-anchor="start" dy="0.36em">100</text>
<text transform="translate(502.75 41.13) rotate(-82.06)" text-anchor="start" dy="0.36em">200</text>
<text transform="translate(530.34 45.96) rotate(-78.08)" text-anchor="start" dy="0.36em">300</text>
<text transform="translate(557.52 52.69) rotate(-74.11)" text-anchor="start" dy="0.36em">400</text>
<text transform="translate(598.1 66.6) rotate(-68.03)" text-anchor="start" dy="0.36em">100</text>
<text transform="translate(623.69 77.97) rotate(-64.06)" text-anchor="start" dy="0.36em">200</text>
<text transform="translate(648.44 91.09) rotate(-60.08)" text-anchor="start" dy="0.36em">300</text>
<text transform="translate(672.21 105.89) rotate(-56.11)" text-anchor="start" dy="0.36em">400</text>
<text transform="translate(706.5 131.66) rotate(-50.03)" text-anchor="start" dy="0.36em">100</text>
<text transform="translate(727.33 150.39) rotate(-46.06)" text-anchor="start" dy="0.36em">200</text>
<text transform="translate(746.81 170.51) rotate(-42.08)" text-anchor="start" dy="0.36em">300</text>
<text transform="translate(764.85 191.94) rotate(-38.11)" text-anchor="start" dy="0.36em">400</text>
<text transform="translate(789.49 227.04) rotate(-32.03)" text-anchor="start" dy="0.36em">100</text>
<text transform="translate(803.51 251.29) rotate(-28.06)" text-anchor="start" dy="0.36em">200</text>
<text transform="translate(815.82 276.45) rotate(-24.08)" text-anchor="start" dy="0.36em">300</text>
<text transform="translate(826.36 302.4) rotate(-20.11)" text-anchor="start" dy="0.36em">400</text>
<text transform="translate(838.95 343.4) rotate(-14.03)" text-anchor="start" dy="0.36em">100</text>
<text transform="translate(844.79 370.79) rotate(-10.06)" text-anchor="start" dy="0.36em">200</text>
<text transform="translate(848.72 398.52) rotate(-6.08)" text-anchor="start" dy="0.36em">300</text>
<text transform="translate(850.73 426.46) rotate(-2.11)" text-anchor="start" dy="0.36em">400</text>
<text transform="translate(850.03 469.34) rotate(3.97)" text-anchor="start" dy="0.36em">100</text>
<text transform="translate(847.12 497.2) rotate(7.94)" text-anchor="start" dy="0.36em">200</text>
<text transform="translate(842.29 524.79) rotate(11.92)" text-anchor="start" dy="0.36em">300</text>
<text transform="translate(835.56 551.97) rotate(15.89)" text-anchor="start" dy="0.36em">400</text>
<text transform="translate(821.65 592.55) rotate(21.97)" text-anchor="start" dy="0.36em">100</text>
<text transform="translate(810.28 618.14) rotate(25.94)" text-anchor="start" dy="0.36em">200</text>
<text transform="translate(797.16 642.89) rotate(29.92)" text-anchor="start" dy="0.36em">300</text>
<text transform="translate(782.36 666.66) rotate(33.89)" text-anchor="start" dy="0.36em">400</text>
<text transform="translate(756.59 700.95) rotate(39.97)" text-anchor="start" dy="0.36em">100</text>
<text transform="translate(737.86 721.78) rotate(43.94)" text-anchor="start" dy="0.36em">200</text>
<text transform="translate(717.74 741.26) rotate(47.92)" text-anchor="start" dy="0.36em">300</text>
<text transform="translate(696.31 759.3) rotate(51.89)" text-anchor="start" dy="0.36em">400</text>
<text transform="translate(661.21 783.94) rotate(57.97)" text-anchor="start" dy="0.36em">100</text>
<text transform="translate(636.96 797.96) rotate(61.94)" text-anchor="start" dy="0.36em">200</text>
<text transform="translate(611.8 810.27) rotate(65.92)" text-anchor="start" dy="0.36em">300</text>
<text transform="translate(585.85 820.81) rotate(69.89)" text-anchor="start" dy="0.36em">400</text>
<text transform="translate(544.85 833.4) rotate(75.97)" text-anchor="start" dy="0.36em">100</text>
<text transform="translate(517.46 839.24) rotate(79.94)" text-anchor="start" dy="0.36em">200</text>
<text transform="translate(489.73 843.17) rotate(83.92)" text-anchor="start" dy="0.36em">300</text>
<text transform="translate(461.79 845.18) rotate(87.89)" text-anchor="start" dy="0.36em">400</text>
<text transform="translate(418.91 844.48) rotate(273.97)" text-anchor="end" dy="0.36em">100</text>
<text transform="translate(391.05 841.57) rotate(277.94)" text-anchor="end" dy="0.36em">200</text>
<text transform="translate(363.46 836.74) rotate(281.92)" text-anchor="end" dy="0.36em">300</text>
<text transform="translate(336.28 830.01) rotate(285.89)" text-anchor="end" dy="0.36em">400</text>
<text transform="translate(295.7 816.1) rotate(291.97)" text-anchor="end" dy="0.36em">100</text>
<text transform="translate(270.11 804.73) rotate(295.94)" text-anchor="end" dy="0.36em">200</text>
<text transform="translate(245.36 791.61) rotate(299.92)" text-anchor="end" dy="0.36em">300</text>
<text transform="translate(221.59 776.81) rotate(303.89)" text-anchor="end" dy="0.36em">400</text>
<text transform="translate(187.3 751.04) rotate(309.97)" text-anchor="end" dy="0.36em">100</text>
<text transform="translate(166.47 732.31) rotate(313.94)" text-anchor="end" dy="0.36em">200</text>
<text transform="translate(146.99 712.19) rotate(317.92)" text-anchor="end" dy="0.36em">300</text>
<text transform="translate(128.95 690.76) rotate(321.89)" text-anchor="end" dy="0.36em">400</text>
<text transform="translate(104.31 655.66) rotate(327.97)" text-anchor="end" dy="0.36em">100</text>
<text transform="translate(90.29 631.41) rotate(331.94)" text-anchor="end" dy="0.36em">200</text>
<text transform="translate(77.98 606.25) rotate(335.92)" text-anchor="end" dy="0.36em">300</text>
<text transform="translate(67.44 580.3) rotate(339.89)" text-anchor="end" dy="0.36em">400</text>
<text transform="translate(54.85 539.3) rotate(345.97)" text-anchor="end" dy="0.36em">100</text>
<text transform="translate(49.01 511.91) rotate(349.94)" text-anchor="end" dy="0.36em">200</text>
<text transform="translate(45.08 484.18) rotate(353.92)" text-anchor="end" dy="0.36em">300</text>
<text transform="translate(43.07 456.24) rotate(357.89)" text-anchor="end" dy="0.36em">400</text>
<text transform="translate(43.77 413.36) rotate(3.97)" text-anchor="end" dy="0.36em">100</text>
<text transform="translate(46.68 385.5) rotate(7.94)" text-anchor="end" dy="0.36em">200</text>
<text transform="translate(51.51 357.91) rotate(11.92)" text-anchor="end" dy="0.36em">300</text>
<text transform="translate(58.24 330.73) rotate(15.89)" text-anchor="end" dy="0.36em">400</text>
<text transform="translate(72.15 290.15) rotate(21.97)" text-anchor="end" dy="0.36em">100</text>
<text transform="translate(83.52 264.56) rotate(25.94)" text-anchor="end" dy="0.36em">200</text>
<text transform="translate(96.64 239.81) rotate(29.92)" text-anchor="end" dy="0.36em">300</text>
<text transform="translate(111.44 216.04) rotate(33.89)" text-anchor="end" dy="0.36em">400</text>
<text transform="translate(137.21 181.75) rotate(39.97)" text-anchor="end" dy="0.36em">100</text>
<text transform="translate(155.94 160.92) rotate(43.94)" text-anchor="end" dy="0.36em">200</text>
<text transform="translate(176.06 141.44) rotate(47.92)" text-anchor="end" dy="0.36em">300</text>
<text transform="translate(197.49 123.4) rotate(51.89)" text-anchor="end" dy="0.36em">400</text>
<text transform="translate(232.59 98.76) rotate(57.97)" text-anchor="end" dy="0.36em">100</text>
<text transform="translate(256.84 84.74) rotate(61.94)" text-anchor="end" dy="0.36em">200</text>
<text transform="translate(282 72.43) rotate(65.92)" text-anchor="end" dy="0.36em">300</text>
<text transform="translate(307.95 61.89) rotate(69.89)" text-anchor="end" dy="0.36em">400</text>
<text transform="translate(348.95 49.3) rotate(75.97)" text-anchor="end" dy="0.36em">100</text>
<text transform="translate(376.34 43.46) rotate(79.94)" text-anchor="end" dy="0.36em">200</text>
<text transform="translate(404.07 39.53) rotate(83.92)" text-anchor="end" dy="0.36em">300</text>
<text transform="translate(432.01 37.52) rotate(87.89)" text-anchor="end" dy="0.36em">400</text>
</g>
<defs>
<path id="sp0" d="M420.64 65.82A376.45 376.45 0 0 1 581.81 89.9"/>
<path id="sp1" d="M537.97 76.08A376.45 376.45 0 0 1 683.81 148.79"/>
<path id="sp2" d="M646.39 122.1A376.45 376.45 0 0 1 762.62 236.32"/>
<path id="sp3" d="M735.28 199.37A376.45 376.45 0 0 1 810.52 343.92"/>
<path id="sp4" d="M795.94 300.33A376.45 376.45 0 0 1 822.83 461.05"/>
<path id="sp5" d="M808.06 579.98A386.85 386.85 0 0 0 832.81 414.36"/>
<path id="sp6" d="M747.54 684.8A386.85 386.85 0 0 0 822.26 534.94"/>
<path id="sp7" d="M657.59 765.79A386.85 386.85 0 0 0 774.97 646.35"/>
<path id="sp8" d="M547.02 815.02A386.85 386.85 0 0 0 695.56 737.69"/>
<path id="sp9" d="M426.65 827.67A386.85 386.85 0 0 0 591.82 800.03"/>
<path id="sp10" d="M308.27 802.51A386.85 386.85 0 0 0 473.89 827.26"/>
<path id="sp11" d="M203.45 741.99A386.85 386.85 0 0 0 353.31 816.71"/>
<path id="sp12" d="M122.46 652.04A386.85 386.85 0 0 0 241.9 769.42"/>
<path id="sp13" d="M73.23 541.47A386.85 386.85 0 0 0 150.56 690.01"/>
<path id="sp14" d="M60.58 421.1A386.85 386.85 0 0 0 88.22 586.27"/>
<path id="sp15" d="M71.37 467.61A376.45 376.45 0 0 1 95.45 306.44"/>
<path id="sp16" d="M81.63 350.28A376.45 376.45 0 0 1 154.34 204.44"/>
<path id="sp17" d="M127.65 241.86A376.45 376.45 0 0 1 241.87 125.63"/>
<path id="sp18" d="M204.92 152.97A376.45 376.45 0 0 1 349.47 77.73"/>
<path id="sp19" d="M305.88 92.31A376.45 376.45 0 0 1 466.6 65.42"/>
</defs>
<g font-size="14.7" text-anchor="middle">
<text><textPath href="#sp0" startOffset="50%">hsa04512</textPath></text>
<text><textPath href="#sp1" startOffset="50%">hsa04145</textPath></text>
<text><textPath href="#sp2" startOffset="50%">hsa04510</textPath></text>
<text><textPath href="#sp3" startOffset="50%">hsa05165</textPath></text>
<text><textPath href="#sp4" startOffset="50%">hsa04151</textPath></text>
<text><textPath href="#sp5" startOffset="50%">GO:0048102</textPath></text>
<text><textPath href="#sp6" startOffset="50%">GO:0045577</textPath></text>
<text><textPath href="#sp7" startOffset="50%">GO:0034135</textPath></text>
<text><textPath href="#sp8" startOffset="50%">GO:0034134</textPath></text>
<text><textPath href="#sp9" startOffset="50%">GO:0045649</textPath></text>
<text><textPath href="#sp10" startOffset="50%">GO:0005581</textPath></text>
<text><textPath href="#sp11" startOffset="50%">GO:0005788</textPath></text>
<text><textPath href="#sp12" startOffset="50%">GO:0005925</textPath></text>
<text><textPath href="#sp13" startOffset="50%">GO:0030055</textPath></text>
<text><textPath href="#sp14" startOffset="50%">GO:0005583</textPath></text>
<text><textPath href="#sp15" startOffset="50%">GO:0042277</textPath></text>
<text><textPath href="#sp16" startOffset="50%">GO:0072341</textPath></text>
<text><textPath href="#sp17" startOffset="50%">GO:1990782</textPath></text>
<text><textPath href="#sp18" startOffset="50%">GO:0033218</textPath></text>
<text><textPath href="#sp19" startOffset="50%">GO:0008239</textPath></text>
<text transform="translate(466.39 101.81) rotate(3.29)" dy="0.36em">88</text>
<text transform="translate(451.77 148.89) rotate(0.95)" dy="0.36em">4</text>
<text transform="translate(578.27 127.64) rotate(22.72)" dy="0.36em">152</text>
<text transform="translate(541.9 164.71) rotate(18.95)" dy="0.36em">4</text>
<text transform="translate(673.68 187.9) rotate(41.82)" dy="0.36em">201</text>
<text transform="translate(622.74 207.61) rotate(36.95)" dy="0.36em">4</text>
<text transform="translate(749.22 285.57) rotate(62.74)" dy="0.36em">331</text>
<text transform="translate(686.37 273.38) rotate(54.95)" dy="0.36em">4</text>
<text transform="translate(783.05 389.64) rotate(81.26)" dy="0.36em">354</text>
<text transform="translate(726.55 355.6) rotate(72.95)" dy="0.36em">4</text>
<text transform="translate(786.88 450.46) rotate(91.54)" dy="0.36em">10</text>
<text transform="translate(739.37 445.61) rotate(90.83)" dy="0.36em">1</text>
<text transform="translate(766.48 557.71) rotate(110.01)" dy="0.36em">31</text>
<text transform="translate(723.74 535.78) rotate(108.83)" dy="0.36em">1</text>
<text transform="translate(716.43 648.77) rotate(127.58)" dy="0.36em">12</text>
<text transform="translate(681.01 616.7) rotate(126.83)" dy="0.36em">1</text>
<text transform="translate(638.59 722.28) rotate(145.69)" dy="0.36em">17</text>
<text transform="translate(615.36 680.47) rotate(144.83)" dy="0.36em">1</text>
<text transform="translate(541.5 768.03) rotate(163.85)" dy="0.36em">24</text>
<text transform="translate(533.23 720.82) rotate(162.83)" dy="0.36em">1</text>
<text transform="translate(427.67 780.91) rotate(183.24)" dy="0.36em">86</text>
<text transform="translate(442.24 733.81) rotate(180.91)" dy="0.36em">3</text>
<text transform="translate(296.26 746.27) rotate(206.29)" dy="0.36em">311</text>
<text transform="translate(352.09 718.06) rotate(198.91)" dy="0.36em">3</text>
<text transform="translate(199.33 674.54) rotate(226.71)" dy="0.36em">419</text>
<text transform="translate(271.22 675.22) rotate(216.91)" dy="0.36em">3</text>
<text transform="translate(138.88 585.54) rotate(244.92)" dy="0.36em">428</text>
<text transform="translate(207.55 609.48) rotate(234.91)" dy="0.36em">3</text>
<text transform="translate(120.67 537.49) rotate(253.58)" dy="0.36em">12</text>
<text transform="translate(167.43 527.68) rotate(252.83)" dy="0.36em">1</text>
<text transform="translate(110.57 390.86) rotate(278.54)" dy="0.36em">322</text>
<text transform="translate(154.44 436.69) rotate(270.91)" dy="0.36em">3</text>
<text transform="translate(130.24 317.27) rotate(291.4)" dy="0.36em">93</text>
<text transform="translate(170.13 346.73) rotate(288.87)" dy="0.36em">2</text>
<text transform="translate(185.78 223.44) rotate(309.85)" dy="0.36em">113</text>
<text transform="translate(212.91 265.83) rotate(306.87)" dy="0.36em">2</text>
<text transform="translate(299.59 134.81) rotate(334.33)" dy="0.36em">402</text>
<text transform="translate(278.77 202) rotate(324.91)" dy="0.36em">3</text>
<text transform="translate(350.51 115.2) rotate(343.54)" dy="0.36em">10</text>
<text transform="translate(360.57 161.88) rotate(342.83)" dy="0.36em">1</text>
</g>
<g font-size="18.1" font-weight="bold">
<text x="1018.7" y="82.6" text-anchor="middle">ID</text>
<text x="1172" y="80.3">Description</text>
<text x="1639.7" y="82.6">pValue</text>
<text x="1018.7" y="120.8" text-anchor="middle">GO:0048102</text>
<text x="1172" y="118.8">autophagic cell death</text>
<text x="1639.7" y="120.8">0.00848014</text>
<text x="1018.7" y="159.44" text-anchor="middle">GO:0045577</text>
<text x="1172" y="157.44">regulation of B cell differentiation</text>
<text x="1639.7" y="159.44">0.02606947</text>
<text x="1018.7" y="198.08" text-anchor="middle">GO:0034135</text>
<text x="1172" y="196.08">regulation of toll-like receptor 2 signaling pathway</text>
<text x="1639.7" y="198.08">0.01016806</text>
<text x="1018.7" y="236.72" text-anchor="middle">GO:0034134</text>
<text x="1172" y="234.72">toll-like receptor 2 signaling pathway</text>
<text x="1639.7" y="236.72">0.01437607</text>
<text x="1018.7" y="275.36" text-anchor="middle">GO:0045649</text>
<text x="1172" y="273.36">regulation of macrophage differentiation</text>
<text x="1639.7" y="275.36">0.02023913</text>
<text x="1018.7" y="314" text-anchor="middle">GO:0005581</text>
<text x="1172" y="312">collagen trimer</text>
<text x="1639.7" y="314">4.3866E-05</text>
<text x="1018.7" y="352.64" text-anchor="middle">GO:0005788</text>
<text x="1172" y="350.64">endoplasmic reticulum lumen</text>
<text x="1639.7" y="352.64">0.00190243</text>
<text x="1018.7" y="391.28" text-anchor="middle">GO:0005925</text>
<text x="1172" y="389.28">focal adhesion</text>
<text x="1639.7" y="391.28">0.00441928</text>
<text x="1018.7" y="429.92" text-anchor="middle">GO:0030055</text>
<text x="1172" y="427.92">cell-substrate junction</text>
<text x="1639.7" y="429.92">0.00468982</text>
<text x="1018.7" y="468.56" text-anchor="middle">GO:0005583</text>
<text x="1172" y="466.56">fibrillar collagen trimer</text>
<text x="1639.7" y="468.56">0.00975776</text>
<text x="1018.7" y="507.2" text-anchor="middle">GO:0042277</text>
<text x="1172" y="505.2">peptide binding</text>
<text x="1639.7" y="507.2">0.00250681</text>
<text x="1018.7" y="545.84" text-anchor="middle">GO:0072341</text>
<text x="1172" y="543.84">modified amino acid binding</text>
<text x="1639.7" y="545.84">0.00289298</text>
<text x="1018.7" y="584.48" text-anchor="middle">GO:1990782</text>
<text x="1172" y="582.48">protein tyrosine kinase binding</text>
<text x="1639.7" y="584.48">0.0042362</text>
<text x="1018.7" y="623.12" text-anchor="middle">GO:0033218</text>
<text x="1172" y="621.12">amide binding</text>
<text x="1639.7" y="623.12">0.00468369</text>
<text x="1018.7" y="661.76" text-anchor="middle">GO:0008239</text>
<text x="1172" y="659.76">dipeptidyl-peptidase activity</text>
<text x="1639.7" y="661.76">0.00865913</text>
<text x="1018.7" y="700.4" text-anchor="middle">hsa04512</text>
<text x="1172" y="698.4">ECM-receptor interaction</text>
<text x="1639.7" y="700.4">1.5242E-06</text>
<text x="1018.7" y="739.04" text-anchor="middle">hsa04145</text>
<text x="1172" y="737.04">Phagosome</text>
<text x="1639.7" y="739.04">1.3535E-05</text>
<text x="1018.7" y="777.68" text-anchor="middle">hsa04510</text>
<text x="1172" y="775.68">Focal adhesion</text>
<text x="1639.7" y="777.68">4.0788E-05</text>
<text x="1018.7" y="816.32" text-anchor="middle">hsa05165</text>
<text x="1172" y="814.32">Human papillomavirus infection</text>
<text x="1639.7" y="816.32">0.00028439</text>
<text x="1018.7" y="854.96" text-anchor="middle">hsa04151</text>
<text x="1172" y="852.96">PI3K-Akt signaling pathway</text>
<text x="1639.7" y="854.96">0.00036821</text>
</g>
</g>
<g font-family="'Liberation Sans', Arial, Helvetica, sans-serif">
<path d="M112.5 950.6H839M112.5 974.82H839M112.5 999.04H839M112.5 1023.26H839M112.5 1047.48H839M112.5 1071.7H839M112.5 1095.92H839M112.5 1120.14H839M112.5 1144.36H839M112.5 1168.58H839M112.5 1192.8H839M112.5 1217.02H839M112.5 1241.24H839M112.5 1265.46H839M136.8 934.5V1280.5M176.75 934.5V1280.5M216.7 934.5V1280.5M256.65 934.5V1280.5M296.6 934.5V1280.5M336.55 934.5V1280.5M376.5 934.5V1280.5M416.45 934.5V1280.5M456.4 934.5V1280.5M496.35 934.5V1280.5M536.3 934.5V1280.5M576.25 934.5V1280.5M616.2 934.5V1280.5M656.15 934.5V1280.5M696.1 934.5V1280.5M736.05 934.5V1280.5M776 934.5V1280.5M815.95 934.5V1280.5" stroke="#d2d2d2" stroke-width="1" stroke-dasharray="4.2 3.6" fill="none"/>
<path d="M197 938.9h39.4v23.4h-39.4zM356.8 938.9h39.4v23.4h-39.4zM436.7 938.9h39.4v23.4h-39.4zM197 963.12h39.4v23.4h-39.4zM436.7 963.12h39.4v23.4h-39.4zM197 987.34h39.4v23.4h-39.4zM356.8 987.34h39.4v23.4h-39.4zM436.7 987.34h39.4v23.4h-39.4zM436.7 1011.56h39.4v23.4h-39.4zM197 1035.78h39.4v23.4h-39.4zM436.7 1035.78h39.4v23.4h-39.4zM436.7 1060h39.4v23.4h-39.4zM117.1 1084.22h39.4v23.4h-39.4zM197 1084.22h39.4v23.4h-39.4zM356.8 1084.22h39.4v23.4h-39.4zM436.7 1084.22h39.4v23.4h-39.4zM197 1108.44h39.4v23.4h-39.4zM436.7 1108.44h39.4v23.4h-39.4zM197 1132.66h39.4v23.4h-39.4zM356.8 1132.66h39.4v23.4h-39.4zM436.7 1132.66h39.4v23.4h-39.4zM117.1 1156.88h39.4v23.4h-39.4zM197 1156.88h39.4v23.4h-39.4zM356.8 1156.88h39.4v23.4h-39.4zM436.7 1156.88h39.4v23.4h-39.4zM436.7 1181.1h39.4v23.4h-39.4zM197 1205.32h39.4v23.4h-39.4zM356.8 1205.32h39.4v23.4h-39.4zM436.7 1205.32h39.4v23.4h-39.4zM197 1229.54h39.4v23.4h-39.4zM356.8 1229.54h39.4v23.4h-39.4zM436.7 1229.54h39.4v23.4h-39.4zM117.1 1253.76h39.4v23.4h-39.4zM197 1253.76h39.4v23.4h-39.4zM276.9 1253.76h39.4v23.4h-39.4zM436.7 1253.76h39.4v23.4h-39.4z" fill="#e8261e" stroke="#f3a59f" stroke-width="0.7"/>
<path d="M716.35 938.9h39.4v23.4h-39.4zM556.55 963.12h39.4v23.4h-39.4zM636.45 963.12h39.4v23.4h-39.4zM716.35 963.12h39.4v23.4h-39.4zM556.55 987.34h39.4v23.4h-39.4zM636.45 987.34h39.4v23.4h-39.4zM716.35 987.34h39.4v23.4h-39.4zM796.25 987.34h39.4v23.4h-39.4zM556.55 1035.78h39.4v23.4h-39.4zM636.45 1035.78h39.4v23.4h-39.4zM716.35 1035.78h39.4v23.4h-39.4zM796.25 1035.78h39.4v23.4h-39.4zM556.55 1084.22h39.4v23.4h-39.4zM636.45 1084.22h39.4v23.4h-39.4zM716.35 1084.22h39.4v23.4h-39.4zM796.25 1084.22h39.4v23.4h-39.4zM556.55 1108.44h39.4v23.4h-39.4zM636.45 1108.44h39.4v23.4h-39.4zM716.35 1108.44h39.4v23.4h-39.4zM796.25 1108.44h39.4v23.4h-39.4zM556.55 1132.66h39.4v23.4h-39.4zM636.45 1132.66h39.4v23.4h-39.4zM716.35 1132.66h39.4v23.4h-39.4zM796.25 1132.66h39.4v23.4h-39.4zM636.45 1156.88h39.4v23.4h-39.4zM716.35 1156.88h39.4v23.4h-39.4zM636.45 1181.1h39.4v23.4h-39.4zM716.35 1181.1h39.4v23.4h-39.4zM556.55 1205.32h39.4v23.4h-39.4zM636.45 1205.32h39.4v23.4h-39.4zM716.35 1205.32h39.4v23.4h-39.4zM796.25 1205.32h39.4v23.4h-39.4zM556.55 1229.54h39.4v23.4h-39.4zM636.45 1229.54h39.4v23.4h-39.4zM716.35 1229.54h39.4v23.4h-39.4zM796.25 1229.54h39.4v23.4h-39.4zM556.55 1253.76h39.4v23.4h-39.4zM636.45 1253.76h39.4v23.4h-39.4zM716.35 1253.76h39.4v23.4h-39.4zM796.25 1253.76h39.4v23.4h-39.4z" fill="#3852a4" stroke="#8c9bd0" stroke-width="0.7"/>
<g font-size="17.2" text-anchor="middle">
<text x="214.6" y="959.3">100</text>
<text x="374.4" y="959.3">100</text>
<text x="454.3" y="959.3">100</text>
<text x="733.95" y="959.3">100</text>
<text x="214.6" y="983.52">100</text>
<text x="454.3" y="983.52">100</text>
<text x="574.15" y="983.52">100</text>
<text x="654.05" y="983.52">100</text>
<text x="733.95" y="983.52">100</text>
<text x="214.6" y="1007.74">100</text>
<text x="374.4" y="1007.74">100</text>
<text x="454.3" y="1007.74">100</text>
<text x="574.15" y="1007.74">100</text>
<text x="654.05" y="1007.74">100</text>
<text x="733.95" y="1007.74">100</text>
<text x="813.85" y="1007.74">100</text>
<text x="454.3" y="1031.96">100</text>
<text x="214.6" y="1056.18">100</text>
<text x="454.3" y="1056.18">100</text>
<text x="574.15" y="1056.18">100</text>
<text x="654.05" y="1056.18">100</text>
<text x="733.95" y="1056.18">100</text>
<text x="813.85" y="1056.18">100</text>
<text x="454.3" y="1080.4">100</text>
<text x="134.7" y="1104.62">100</text>
<text x="214.6" y="1104.62">100</text>
<text x="374.4" y="1104.62">100</text>
<text x="454.3" y="1104.62">100</text>
<text x="574.15" y="1104.62">100</text>
<text x="654.05" y="1104.62">100</text>
<text x="733.95" y="1104.62">100</text>
<text x="813.85" y="1104.62">100</text>
<text x="214.6" y="1128.84">100</text>
<text x="454.3" y="1128.84">100</text>
<text x="574.15" y="1128.84">100</text>
<text x="654.05" y="1128.84">100</text>
<text x="733.95" y="1128.84">100</text>
<text x="813.85" y="1128.84">100</text>
<text x="214.6" y="1153.06">100</text>
<text x="374.4" y="1153.06">100</text>
<text x="454.3" y="1153.06">100</text>
<text x="574.15" y="1153.06">100</text>
<text x="654.05" y="1153.06">100</text>
<text x="733.95" y="1153.06">100</text>
<text x="813.85" y="1153.06">100</text>
<text x="134.7" y="1177.28">100</text>
<text x="214.6" y="1177.28">100</text>
<text x="374.4" y="1177.28">100</text>
<text x="454.3" y="1177.28">100</text>
<text x="654.05" y="1177.28">100</text>
<text x="733.95" y="1177.28">100</text>
<text x="454.3" y="1201.5">100</text>
<text x="654.05" y="1201.5">100</text>
<text x="733.95" y="1201.5">100</text>
<text x="214.6" y="1225.72">100</text>
<text x="374.4" y="1225.72">100</text>
<text x="454.3" y="1225.72">100</text>
<text x="574.15" y="1225.72">100</text>
<text x="654.05" y="1225.72">100</text>
<text x="733.95" y="1225.72">100</text>
<text x="813.85" y="1225.72">100</text>
<text x="214.6" y="1249.94">100</text>
<text x="374.4" y="1249.94">100</text>
<text x="454.3" y="1249.94">100</text>
<text x="574.15" y="1249.94">100</text>
<text x="654.05" y="1249.94">100</text>
<text x="733.95" y="1249.94">100</text>
<text x="813.85" y="1249.94">100</text>
<text x="134.7" y="1274.16">100</text>
<text x="214.6" y="1274.16">100</text>
<text x="294.5" y="1274.16">100</text>
<text x="454.3" y="1274.16">100</text>
<text x="574.15" y="1274.16">100</text>
<text x="654.05" y="1274.16">100</text>
<text x="733.95" y="1274.16">100</text>
<text x="813.85" y="1274.16">100</text>
<text x="255.45" y="959.3">0</text>
<text x="415.25" y="959.3">0</text>
<text x="495.15" y="959.3">0</text>
<text x="694.9" y="959.3">0</text>
<text x="255.45" y="983.52">0</text>
<text x="495.15" y="983.52">0</text>
<text x="535.1" y="983.52">0</text>
<text x="615" y="983.52">0</text>
<text x="694.9" y="983.52">0</text>
<text x="255.45" y="1007.74">0</text>
<text x="415.25" y="1007.74">0</text>
<text x="495.15" y="1007.74">0</text>
<text x="535.1" y="1007.74">0</text>
<text x="615" y="1007.74">0</text>
<text x="694.9" y="1007.74">0</text>
<text x="774.8" y="1007.74">0</text>
<text x="495.15" y="1031.96">0</text>
<text x="255.45" y="1056.18">0</text>
<text x="495.15" y="1056.18">0</text>
<text x="535.1" y="1056.18">0</text>
<text x="615" y="1056.18">0</text>
<text x="694.9" y="1056.18">0</text>
<text x="774.8" y="1056.18">0</text>
<text x="495.15" y="1080.4">0</text>
<text x="175.55" y="1104.62">0</text>
<text x="255.45" y="1104.62">0</text>
<text x="415.25" y="1104.62">0</text>
<text x="495.15" y="1104.62">0</text>
<text x="535.1" y="1104.62">0</text>
<text x="615" y="1104.62">0</text>
<text x="694.9" y="1104.62">0</text>
<text x="774.8" y="1104.62">0</text>
<text x="255.45" y="1128.84">0</text>
<text x="495.15" y="1128.84">0</text>
<text x="535.1" y="1128.84">0</text>
<text x="615" y="1128.84">0</text>
<text x="694.9" y="1128.84">0</text>
<text x="774.8" y="1128.84">0</text>
<text x="255.45" y="1153.06">0</text>
<text x="415.25" y="1153.06">0</text>
<text x="495.15" y="1153.06">0</text>
<text x="535.1" y="1153.06">0</text>
<text x="615" y="1153.06">0</text>
<text x="694.9" y="1153.06">0</text>
<text x="774.8" y="1153.06">0</text>
<text x="175.55" y="1177.28">0</text>
<text x="255.45" y="1177.28">0</text>
<text x="415.25" y="1177.28">0</text>
<text x="495.15" y="1177.28">0</text>
<text x="615" y="1177.28">0</text>
<text x="694.9" y="1177.28">0</text>
<text x="495.15" y="1201.5">0</text>
<text x="615" y="1201.5">0</text>
<text x="694.9" y="1201.5">0</text>
<text x="255.45" y="1225.72">0</text>
<text x="415.25" y="1225.72">0</text>
<text x="495.15" y="1225.72">0</text>
<text x="535.1" y="1225.72">0</text>
<text x="615" y="1225.72">0</text>
<text x="694.9" y="1225.72">0</text>
<text x="774.8" y="1225.72">0</text>
<text x="255.45" y="1249.94">0</text>
<text x="415.25" y="1249.94">0</text>
<text x="495.15" y="1249.94">0</text>
<text x="535.1" y="1249.94">0</text>
<text x="615" y="1249.94">0</text>
<text x="694.9" y="1249.94">0</text>
<text x="774.8" y="1249.94">0</text>
<text x="175.55" y="1274.16">0</text>
<text x="255.45" y="1274.16">0</text>
<text x="335.35" y="1274.16">0</text>
<text x="495.15" y="1274.16">0</text>
<text x="535.1" y="1274.16">0</text>
<text x="615" y="1274.16">0</text>
<text x="694.9" y="1274.16">0</text>
<text x="774.8" y="1274.16">0</text>
</g>
<g font-size="17.5" text-anchor="end">
<text x="104" y="958.4">TREM2</text>
<text x="104" y="982.62">THBS2</text>
<text x="104" y="1006.84">RCN3</text>
<text x="104" y="1031.06">OLR1</text>
<text x="104" y="1055.28">NOX4</text>
<text x="104" y="1079.5">MSR1</text>
<text x="104" y="1103.72">MS4A14</text>
<text x="104" y="1127.94">ITGBL1</text>
<text x="104" y="1152.16">FAP</text>
<text x="104" y="1176.38">CTHRC1</text>
<text x="104" y="1200.6">COMP</text>
<text x="104" y="1224.82">COL1A1</text>
<text x="104" y="1249.04">BGN</text>
<text x="104" y="1273.26">ASPN</text>
</g>
<text x="480.6" y="923.3" font-size="18" text-anchor="middle">Pathway (A: Activate; I: Inhibit)</text>
<text transform="translate(19 1126.7) rotate(-90)" font-size="17.6" text-anchor="middle">Symbol</text>
<g font-size="18" font-style="italic" text-anchor="end">
<text transform="translate(126.8 1301.5) rotate(-48)" dy="0.74em">Apoptosis_A</text>
<text transform="translate(166.75 1301.5) rotate(-48)" dy="0.74em">Apoptosis_I</text>
<text transform="translate(206.7 1301.5) rotate(-48)" dy="0.74em">CellCycle_A</text>
<text transform="translate(246.65 1301.5) rotate(-48)" dy="0.74em">CellCycle_I</text>
<text transform="translate(286.6 1301.5) rotate(-48)" dy="0.74em">DNADamage_A</text>
<text transform="translate(326.55 1301.5) rotate(-48)" dy="0.74em">DNADamage_I</text>
<text transform="translate(366.5 1301.5) rotate(-48)" dy="0.74em">EMT_A</text>
<text transform="translate(406.45 1301.5) rotate(-48)" dy="0.74em">EMT_I</text>
<text transform="translate(446.4 1301.5) rotate(-48)" dy="0.74em">Hormone ER_A</text>
<text transform="translate(486.35 1301.5) rotate(-48)" dy="0.74em">Hormone ER_I</text>
<text transform="translate(526.3 1301.5) rotate(-48)" dy="0.74em">PI3KAKT_A</text>
<text transform="translate(566.25 1301.5) rotate(-48)" dy="0.74em">PI3KAKT_I</text>
<text transform="translate(606.2 1301.5) rotate(-48)" dy="0.74em">RASMAPK_A</text>
<text transform="translate(646.15 1301.5) rotate(-48)" dy="0.74em">RASMAPK_I</text>
<text transform="translate(686.1 1301.5) rotate(-48)" dy="0.74em">RTK_A</text>
<text transform="translate(726.05 1301.5) rotate(-48)" dy="0.74em">RTK_I</text>
<text transform="translate(766 1301.5) rotate(-48)" dy="0.74em">TSCmTOR_A</text>
<text transform="translate(805.95 1301.5) rotate(-48)" dy="0.74em">TSCmTOR_I</text>
</g></g>
<g font-family="'Liberation Sans', Arial, Helvetica, sans-serif">
<path d="M951.5 1327.4v-107.5h21.6v107.5zM1005.55 1327.4v-50.92h21.6v50.92zM1059.6 1327.4v-101.84h21.6v101.84zM1113.65 1327.4v-45.26h21.6v45.26zM1167.7 1327.4v-39.61h21.6v39.61zM1221.75 1327.4v-62.24h21.6v62.24zM1275.8 1327.4v-45.26h21.6v45.26zM1329.85 1327.4v-175.4h21.6v175.4zM1383.9 1327.4v-28.29h21.6v28.29zM1437.95 1327.4v-90.53h21.6v90.53zM1492 1327.4v-33.95h21.6v33.95zM1546.05 1327.4v-28.29h21.6v28.29zM1600.1 1327.4v-22.63h21.6v22.63zM1654.15 1327.4v-345.14h21.6v345.14zM1708.2 1327.4v-243.29h21.6v243.29zM1762.25 1327.4v-11.32h21.6v11.32z" fill="#cccccc"/>
<ellipse cx="962.3" cy="1219.9" rx="6" ry="8.4" fill="#5cc87b"/>
<ellipse cx="962.3" cy="1310.43" rx="6" ry="8.4" fill="#4a9ac5"/>
<ellipse cx="1016.35" cy="1276.48" rx="6" ry="8.4" fill="#5cc87b"/>
<ellipse cx="1016.35" cy="1316.08" rx="6" ry="8.4" fill="#4a9ac5"/>
<ellipse cx="1070.4" cy="1282.14" rx="6" ry="8.4" fill="#5cc87b"/>
<ellipse cx="1070.4" cy="1225.56" rx="6" ry="8.4" fill="#4a9ac5"/>
<ellipse cx="1124.45" cy="1282.14" rx="6" ry="8.4" fill="#5cc87b"/>
<ellipse cx="1124.45" cy="1299.11" rx="6" ry="8.4" fill="#4a9ac5"/>
<ellipse cx="1178.5" cy="1287.79" rx="6" ry="8.4" fill="#5cc87b"/>
<ellipse cx="1178.5" cy="1310.43" rx="6" ry="8.4" fill="#4a9ac5"/>
<ellipse cx="1232.55" cy="1293.45" rx="6" ry="8.4" fill="#5cc87b"/>
<ellipse cx="1232.55" cy="1265.16" rx="6" ry="8.4" fill="#4a9ac5"/>
<ellipse cx="1286.6" cy="1293.45" rx="6" ry="8.4" fill="#5cc87b"/>
<ellipse cx="1286.6" cy="1282.14" rx="6" ry="8.4" fill="#4a9ac5"/>
<ellipse cx="1340.65" cy="1299.11" rx="6" ry="8.4" fill="#5cc87b"/>
<ellipse cx="1340.65" cy="1152" rx="6" ry="8.4" fill="#4a9ac5"/>
<ellipse cx="1394.7" cy="1299.11" rx="6" ry="8.4" fill="#5cc87b"/>
<ellipse cx="1394.7" cy="1310.43" rx="6" ry="8.4" fill="#4a9ac5"/>
<ellipse cx="1448.75" cy="1304.77" rx="6" ry="8.4" fill="#5cc87b"/>
<ellipse cx="1448.75" cy="1236.87" rx="6" ry="8.4" fill="#4a9ac5"/>
<ellipse cx="1502.8" cy="1304.77" rx="6" ry="8.4" fill="#5cc87b"/>
<ellipse cx="1502.8" cy="1293.45" rx="6" ry="8.4" fill="#4a9ac5"/>
<ellipse cx="1556.85" cy="1304.77" rx="6" ry="8.4" fill="#5cc87b"/>
<ellipse cx="1556.85" cy="1299.11" rx="6" ry="8.4" fill="#4a9ac5"/>
<ellipse cx="1610.9" cy="1304.77" rx="6" ry="8.4" fill="#5cc87b"/>
<ellipse cx="1610.9" cy="1310.43" rx="6" ry="8.4" fill="#4a9ac5"/>
<ellipse cx="1664.95" cy="1310.43" rx="6" ry="8.4" fill="#5cc87b"/>
<ellipse cx="1664.95" cy="982.26" rx="6" ry="8.4" fill="#4a9ac5"/>
<ellipse cx="1719" cy="1321.74" rx="6" ry="8.4" fill="#5cc87b"/>
<ellipse cx="1719" cy="1084.11" rx="6" ry="8.4" fill="#4a9ac5"/>
<ellipse cx="1773.05" cy="1321.74" rx="6" ry="8.4" fill="#5cc87b"/>
<ellipse cx="1773.05" cy="1316.08" rx="6" ry="8.4" fill="#4a9ac5"/>
<path d="M918.8 930.54V1328.2M918.8 1327.4h-7.5M918.8 1270.82h-7.5M918.8 1214.24h-7.5M918.8 1157.66h-7.5M918.8 1101.08h-7.5M918.8 1044.5h-7.5M918.8 987.92h-7.5M918.8 931.34h-7.5" stroke="#000" stroke-width="1.7" fill="none"/>
<g font-size="17.3" text-anchor="end">
<text x="908.3" y="1333.6">0</text>
<text x="908.3" y="1277.02">2</text>
<text x="908.3" y="1220.44">4</text>
<text x="908.3" y="1163.86">6</text>
<text x="908.3" y="1107.28">8</text>
<text x="908.3" y="1050.7">10</text>
<text x="908.3" y="994.12">12</text>
<text x="908.3" y="937.54">14</text>
</g>
<text transform="translate(876.5 1137.5) rotate(-90)" font-size="17.6" text-anchor="middle">CNV.frequency(%)</text>
<ellipse cx="1285.1" cy="951.8" rx="4.1" ry="5.8" fill="#5cc87b"/>
<ellipse cx="1382.2" cy="951.8" rx="4.1" ry="5.8" fill="#4a9ac5"/>
<text x="1304.6" y="963.6" font-size="16.8">GAIN</text>
<text x="1401.9" y="963.6" font-size="16.8">LOSS</text>
<g font-size="17.3" font-style="italic" text-anchor="end">
<text transform="translate(964.8 1329.5) scale(0.84 1.2) rotate(-45)" dy="0.72em">CTHRC1</text>
<text transform="translate(1018.85 1329.5) scale(0.84 1.2) rotate(-45)" dy="0.72em">BGN</text>
<text transform="translate(1072.9 1329.5) scale(0.84 1.2) rotate(-45)" dy="0.72em">ITGBL1</text>
<text transform="translate(1126.95 1329.5) scale(0.84 1.2) rotate(-45)" dy="0.72em">ASPN</text>
<text transform="translate(1181 1329.5) scale(0.84 1.2) rotate(-45)" dy="0.72em">COL1A1</text>
<text transform="translate(1235.05 1329.5) scale(0.84 1.2) rotate(-45)" dy="0.72em">SPP1</text>
<text transform="translate(1289.1 1329.5) scale(0.84 1.2) rotate(-45)" dy="0.72em">NOX4</text>
<text transform="translate(1343.15 1329.5) scale(0.84 1.2) rotate(-45)" dy="0.72em">FAP</text>
<text transform="translate(1397.2 1329.5) scale(0.84 1.2) rotate(-45)" dy="0.72em">RCN3</text>
<text transform="translate(1451.25 1329.5) scale(0.84 1.2) rotate(-45)" dy="0.72em">THBS2</text>
<text transform="translate(1505.3 1329.5) scale(0.84 1.2) rotate(-45)" dy="0.72em">INHBA</text>
<text transform="translate(1559.35 1329.5) scale(0.84 1.2) rotate(-45)" dy="0.72em">MS4A14</text>
<text transform="translate(1613.4 1329.5) scale(0.84 1.2) rotate(-45)" dy="0.72em">TREM2</text>
<text transform="translate(1667.45 1329.5) scale(0.84 1.2) rotate(-45)" dy="0.72em">MSR1</text>
<text transform="translate(1721.5 1329.5) scale(0.84 1.2) rotate(-45)" dy="0.72em">OLR1</text>
<text transform="translate(1775.55 1329.5) scale(0.84 1.2) rotate(-45)" dy="0.72em">COMP</text>
</g></g>
<g font-family="'Liberation Sans', Arial, Helvetica, sans-serif">
<path d="M108.6 1726.5v-165.6h42.3v165.6zM213.41 1726.5v-72.28h42.3v72.28zM318.22 1726.5v-22.91h42.3v22.91zM423.03 1726.5v-38.12h42.3v38.12zM527.84 1726.5v-85.82h42.3v85.82zM632.65 1726.5v-15.83h42.3v15.83zM737.46 1726.5v-53.32h42.3v53.32zM842.27 1726.5v-34.99h42.3v34.99zM947.08 1726.5v-40.2h42.3v40.2zM1051.89 1726.5v-25.62h42.3v25.62zM1156.7 1726.5v-136.44h42.3v136.44zM1261.51 1726.5v-91.03h42.3v91.03zM1366.32 1726.5v-68.53h42.3v68.53zM1471.13 1726.5v-10.21h42.3v10.21zM1575.94 1726.5v-83.74h42.3v83.74zM1680.75 1726.5v-43.74h42.3v43.74z" fill="#2b4d8b" stroke="#000" stroke-width="1.7"/>
<path d="M150.9 1726.5v-178.93h42.3v178.93zM255.71 1726.5v-82.07h42.3v82.07zM360.52 1726.5v-32.08h42.3v32.08zM465.33 1726.5v-45.83h42.3v45.83zM570.14 1726.5v-112.9h42.3v112.9zM674.95 1726.5v-25.62h42.3v25.62zM779.76 1726.5v-72.91h42.3v72.91zM884.57 1726.5v-51.03h42.3v51.03zM989.38 1726.5v-47.91h42.3v47.91zM1094.19 1726.5v-39.58h42.3v39.58zM1199 1726.5v-153.31h42.3v153.31zM1303.81 1726.5v-98.73h42.3v98.73zM1408.62 1726.5v-89.36h42.3v89.36zM1513.43 1726.5v-13.96h42.3v13.96zM1618.24 1726.5v-93.53h42.3v93.53zM1723.05 1726.5v-58.74h42.3v58.74z" fill="#e4231b" stroke="#000" stroke-width="1.7"/>
<path d="M129.75 1560.9v-2.08m-4.5 0h9M172.05 1547.57v-1.04m-4.5 0h9M234.56 1654.22v-2.08m-4.5 0h9M276.86 1644.43v-1.04m-4.5 0h9M339.37 1703.59v-2.08m-4.5 0h9M381.67 1694.42v-1.04m-4.5 0h9M444.18 1688.38v-2.08m-4.5 0h9M486.48 1680.67v-1.04m-4.5 0h9M548.99 1640.68v-2.08m-4.5 0h9M591.29 1613.6v-1.04m-4.5 0h9M653.8 1710.67v-2.08m-4.5 0h9M696.1 1700.88v-1.04m-4.5 0h9M758.61 1673.18v-2.08m-4.5 0h9M800.91 1653.6v-1.04m-4.5 0h9M863.42 1691.51v-2.08m-4.5 0h9M905.72 1675.47v-1.04m-4.5 0h9M968.23 1686.3v-2.08m-4.5 0h9M1010.53 1678.59v-1.04m-4.5 0h9M1073.04 1700.88v-2.08m-4.5 0h9M1115.34 1686.92v-1.04m-4.5 0h9M1177.85 1590.06v-2.08m-4.5 0h9M1220.15 1573.19v-1.04m-4.5 0h9M1282.66 1635.47v-2.08m-4.5 0h9M1324.96 1627.77v-1.04m-4.5 0h9M1387.47 1657.97v-2.08m-4.5 0h9M1429.77 1637.14v-1.04m-4.5 0h9M1492.28 1716.29v-2.08m-4.5 0h9M1534.58 1712.54v-1.04m-4.5 0h9M1597.09 1642.76v-2.08m-4.5 0h9M1639.39 1632.97v-1.04m-4.5 0h9M1701.9 1682.76v-2.08m-4.5 0h9M1744.2 1667.76v-1.04m-4.5 0h9" fill="none" stroke="#000" stroke-width="1.2"/>
<path d="M136.7 1536.3h0m-13.4-3.5h0m10.5 7.7h0m4.3 22.9h0m1.3-3.7h0m-11.6 1.5h0m.4 2.7h0m8-1.3h0m5-5.5h0m-10.3 2.1h0m11.6 3.9h0m-14.9-10.1h0m-11.1 .8h0m13.1 6.1h0m-7.1-18.6h0m6.1 20.9h0m-4.7-13.2h0m7.3-25.6h0m2.6 35.1h0m5.5-20.9h0m-3.4 12.4h0m-.3 .7h0m3.1-7.4h0m-4.1 12h0m5.9-.7h0m-1.5-17.6h0m-21.6-1.7h0m4.9 27.8h0m-1.9-5.6h0m10.7-14.8h0m-4.9 11.9h0m1.9-21.4h0m2.2-6.5h0m-3.6 35.3h0m-10-3.2h0m19 4.9h0m-8.8-28.4h0m-6.6 25.7h0m17.3 2.2h0m-14.6-40.6h0m7.1 30.9h0m-1.4-16.5h0m-5.5 18.7h0m-7.1-7.7h0m24.6 7.7h0m-4.8-30.7h0m-4.4 29.6h0m-3.7-14.8h0m3.7-16.6h0m-10.1 25.8h0m4.5-9.8h0m-.6 24.1h0m7.4-28.5h0m-4.1 22h0m-7.8-8.1h0m11.4 12.6h0m5.5-22h0m.4-4.8h0m-3.3 28.2h0m-15.6-40h0m17.9 37.7h0m-14.6 3.2h0m3.1-22.9h0m-7.6 4.2h0m2.5 5h0m3.1-8.1h0m1.1 16.6h0m4.3-17.4h0m-1.4 2h0m-6.8 17.9h0m9.2-32.7h0m-7.9 6.7h0m-4.9-2.1h0m-.4 6.8h0m3.7 3.7h0m13.8-37.6h0m-.6 7.3h0m-3 2.1h0m105.1 116.3h0m11.3 2.1h0m-23 19.9h0m5.5-23.8h0m5 27.7h0m-13.8-16.2h0m12.2-4.2h0m-1.2 3.2h0m10.8 11.6h0m-3.9-4.4h0m-7.4-12.6h0m-3.2 22.1h0m9.3-1.3h0m-2.6-27.6h0m12.7 2.4h0m-15.3-12.1h0m9.3 29.5h0m-16-8.4h0m12.5 16.6h0m-17-18.2h0m10.4 15.8h0m13-15.5h0m-7.5 9.6h0m4.8 5.1h0m-7.3-40.5h0m4.5 44.3h0m-.9-29.5h0m.1 5.4h0m8.5 8.4h0m-4.5 8.2h0m.5-31.9h0m-14.5 24.7h0m12.3 3.4h0m-15.4-6.6h0m18.7-.2h0m-21.4-4.8h0m12.6 21.4h0m-4.5 1.6h0m8.4-21.5h0m7.7-2.8h0m-6.5 21.9h0m-2.6-23.4h0m-10.8 7.8h0m1.5 7.1h0m-4.2-31.1h0m7 30.2h0m4-10.1h0m4.1 21.6h0m1.5-11.8h0m-2.8 6.2h0m-10.5-8.8h0m15.5 3.3h0m2.4 7.3h0m2.6-2.4h0m-7.4-6h0m5.8 10.3h0m-8-1.5h0m3.8-4.7h0m.4-11.5h0m-17.1 9.7h0m21.9-16.8h0m-6.8-16.3h0m-2.8 27.7h0m-13.4 14.4h0m.8-24h0m16.9 21.6h0m-14.3-15.3h0m1.5 12.9h0m-4.7-26.4h0m-.6 13.4h0m2.2 4.8h0m19-12h0m-18.3 17.2h0m16.2-22.6h0m5 25.2h0m-10.8-48.7h0m-5.9 5.2h0m100.5 84.9h0m15 3.4h0m-21 2.5h0m27.1-5.8h0m-.8-4.2h0m-18.4-9.9h0m12.9 13.2h0m2.8 11.8h0m-3.9 2.5h0m-8.4-10.5h0m4.2 5.2h0m1.1-.4h0m.1-10.9h0m-13 13.5h0m15.5-5.9h0m-12 4.2h0m5.7 3.2h0m-3.6-11h0m15.2 6.6h0m-5.2 1.7h0m-10.5 .7h0m10.5 4.1h0m5-16h0m-15.4-5h0m-5.3 8.5h0m-.3 13.1h0m11.6 .2h0m4.6-6.2h0m-13-14.9h0m-1.2 12.5h0m6.5-20h0m-11.7 15.8h0m16.8 .2h0m-15.2 11.3h0m26-2.1h0m-18.1-19.1h0m-8.8 8h0m8.2 3.9h0m12.4 3.5h0m-2.5-1.5h0m1.3 3h0m-17.9 4.3h0m-1.4-3.3h0m-.2-6.1h0m25.2 1.1h0m-8.3-1.9h0m-10.4 10.7h0m7-21.9h0m-4.4 6.8h0m11.5-17.3h0m-4.7 14.9h0m6.9-4.2h0m-6.5 3.8h0m-2.5 6.1h0m-3.6-4.5h0m14.1 10h0m-23.5-5.5h0m12.5-1.4h0m-7.4-52.3h0m.9 13.5h0m4.8 6.2h0m107.7 12.2h0m-3.4-4.1h0m4.4 8.6h0m.1 9.3h0m7.3-7h0m-1.7 4.2h0m6.2 4.4h0m-6.6-21h0m-5.6 14.4h0m-16 5.2h0m10.3-12.7h0m5 5.4h0m-1.8-8.3h0m4-3.6h0m-3.6 9.4h0m8.4-6.6h0m-13.3 7.4h0m-3.4 14.2h0m-2.7-10.7h0m5.8 2.5h0m17.4-37.1h0m-2.1 43.1h0m-22.6-2.8h0m16.2 1h0m9.6-3.9h0m-11.9-9.3h0m-12.5-13h0m2 15.2h0m-2.3-2.5h0m5.2 10.2h0m-2.2 4.7h0m2.3-16.1h0m1.1-20.9h0m15.7 35h0m-21.3-40.2h0m5.3 38.2h0m-3.9-36.6h0m7.6 21.6h0m-10.9-4.9h0m7.7-4h0m-8.6 30.7h0m23.1-30.7h0m-11.8 11.7h0m-8.5 3h0m-.1 13.4h0m4.1-8h0m-2.1 4.2h0m4.2-14.9h0m-2.6-17h0m19.3 29.6h0m-25.6 4.7h0m-.9 3.5h0m21.2-30.5h0m-18.7-7.9h0m12.5 16h0m-1 17.9h0m-3.2-14.5h0m-4.6-8.2h0m-.5 5.3h0m20.8 14.2h0m-14.2-10.6h0m-11.7 13.7h0m2.2 4.3h0m23.5-24.7h0m-13.8-.2h0m-10.4 19.9h0m10-15.9h0m14.8 8.5h0m-4.3-29h0m-8.3 13.7h0m-.6 16.5h0m10.5-1.5h0m-11.2-15.6h0m5.6-16.5h0m-3.6 37.3h0m.7-57.6h0m5.3 1h0m108.7-48.6h0m-2.6 34.9h0m-20.8-19.8h0m14.3 29.6h0m-9.9-50.2h0m10.8 42h0m5.7-42.2h0m-9.8 47.6h0m-3.7-2.4h0m-5.1-37.5h0m.7 61.7h0m8.3-41.9h0m3.2-13.9h0m-2 29.6h0m-13.8 23h0m1.6-4.3h0m25.8-22h0m-.2-14.5h0m.4 20.1h0m-18.2 .5h0m7.8-18.2h0m-5.1 22.5h0m.9-34.4h0m4.3 28.6h0m9.8 17.9h0m-18.5-60h0m-3.7 24.1h0m-1.7 39.7h0m17.1-44.5h0m-3.1 3.1h0m-4.5-33.3h0m10.5 48.1h0m-19.3-38.8h0m7.1 45.8h0m1.7-2.9h0m11.4 17.5h0m3-19.6h0m-14.4 23h0m8.2-72.7h0m-15.1 13.5h0m15.9 42h0m-6 7.1h0m10.7 11.9h0m-19.9-11.2h0m18.2-13.3h0m-21.3-11.3h0m22-8.8h0m-12.3 32.3h0m2.1-10.6h0m-3.2 26.8h0m1.5-57.5h0m-8.6 8.9h0m12-26.1h0m-10.8 62.6h0m-2.9-14h0m1 15.1h0m6.3 3h0m-10.1-7.3h0m13.3-17.7h0m-4.5-38.3h0m7.1 46.6h0m-11.1-4.3h0m8.6-42.1h0m1.3 23.4h0m0 31.6h0m11.2-18h0m-10.8-44.6h0m-6.2 30.4h0m7.2-7h0m-5.2 4.1h0m3.8 39.9h0m-9.6 5.7h0m11.2-27.3h0m9.1 31.8h0m-5.3-79.3h0m-10.2-24.3h0m13.5 9.6h0m97.8 162.3h0m-9.2-9h0m14.6 9.2h0m-17.9-3.3h0m22.4 .5h0m-2.2-22.6h0m.4 4.3h0m-3 21.1h0m-13.4-23.6h0m14.2 19.3h0m-20.3-29.9h0m13.9 12.7h0m10.5 5.3h0m-12.9-1.3h0m-13.2 14.6h0m21.9-3.7h0m-3.6 4.4h0m6.6 2.2h0m-15.6-16.6h0m-8.6 8.6h0m7.2 7.2h0m-.1 2.4h0m14.9-21h0m.9 17.7h0m.3-5.9h0m-17.2-9.8h0m10-19.7h0m1.9 10h0m3.7 10.9h0m-23 13.7h0m13.6-6.7h0m-8.9-8h0m2.5-.5h0m-1.5 14.5h0m-.9-4.2h0m18.2-24.8h0m-5.5 23.6h0m-11.3-2.7h0m-3.8-19.2h0m17.4 27.9h0m-10.6-23.2h0m5.2 25.1h0m7.5-19.5h0m-20 17.3h0m4.4 4.4h0m9.3-24.6h0m-15.6 23h0m15.2-14.2h0m-9.9 12.6h0m11.9 5.1h0m8.3-11.5h0m-17.6 10.6h0m-6.7-14.5h0m25.2-14h0m-25.5 27.9h0m7.9-14.7h0m-1.8 7.9h0m-1.5 1.1h0m20.1-.5h0m-6.9-10.6h0m-17.4 .5h0m5 14.2h0m7.1 3.5h0m-12.4-21.4h0m4-13.9h0m20.7 26.6h0m-20.7-48.8h0m10 6.2h0m110-4.1h0m-3.9-13.3h0m2.7 10.2h0m3.1 18.4h0m-10.2-39.4h0m-.8 32.1h0m16.5-3.3h0m-9.2-17.1h0m-1.6-9.7h0m10.5 39.7h0m-7-21.2h0m2.1 4.5h0m-4.4 16.5h0m-10.2-15.6h0m-7.8 13.4h0m3.8-18.2h0m-.2-2.3h0m21.6-20.7h0m-24 34h0m2.9-35.1h0m-2.3 20.6h0m9.9 20.3h0m11.4-2.4h0m1.3-34h0m1.9 5.3h0m-20.8-3.8h0m10.5 5h0m-10.2-5.6h0m16.6 .2h0m-.4 12.8h0m-3.3 6.9h0m6.9-5.3h0m-25.4 22.3h0m16-5.1h0m8.4-1.4h0m-23.3 2.7h0m25.2 2.4h0m-.4-19h0m-22.9 16.9h0m23-23.8h0m-4.2 23.9h0m-7.6-33.3h0m-3.6-4.1h0m1.3 40.9h0m6.8-9h0m2.7 8h0m-15.1-22.9h0m-.1 13.3h0m11 6.5h0m-7.3 .5h0m2.1-22.6h0m5.2-.8h0m-9.1 23.1h0m6.2 1.1h0m9.2-.1h0m-16.6-12.3h0m19.9-14.4h0m-6.2-14.2h0m-17.4 16.4h0m18.3-6.6h0m-9.7 34h0m-7.6-16.5h0m14.1-6.6h0m2.9-19.4h0m2.1 33.7h0m-14.1-7.2h0m-5.5 18.5h0m3.1-35.9h0m9.6 8.3h0m10 23.1h0m-3.8 4.7h0m2.9-6.6h0m-23.2-13.7h0m8 4.4h0m11.5-23.6h0m-14.7-54.6h0m17 18.8h0m-.7 9.4h0m82.9 74.7h0m7.1-1.7h0m.1-27.9h0m12.7 38.6h0m-12.5-3.1h0m5.2 3.7h0m6.5-12.1h0m-19.9-7.7h0m14.5-10.5h0m-3.4 30h0m.4-31.4h0m14.6 16.4h0m-9.2 12.3h0m9.8 3h0m-3.9-9.7h0m-22.5-4.5h0m22.6 6.4h0m-18.7-3.5h0m9.1-.6h0m5.3-3.8h0m7.2 5.9h0m-2.8 9.4h0m-12.4-4.1h0m15.9-.6h0m-21.7-10h0m22.1 10.9h0m-2-17.1h0m-3.1-13.2h0m.1 22.6h0m-15.6-22.3h0m-3.6 19.4h0m18.1 4.8h0m-4.5-34.5h0m-14.9 42.5h0m12.9-14h0m-3.7 13.5h0m10.6-18.3h0m-2.2-4.6h0m5.4-14h0m-14.7-8.4h0m.8 31.1h0m12.6 14.7h0m-23.2-20.5h0m5.3 9.2h0m11.3-17.5h0m-13.7-8.5h0m5 26.8h0m-2.9-30.1h0m.3 37.1h0m21.1-5.6h0m-25.4-9.5h0m11.3 4.2h0m14.5 14.9h0m-12.8-44.5h0m10.3 35.5h0m-17.4-30.4h0m18 31.8h0m-14.1 3.6h0m2.5-1h0m-2.8-47.9h0m-4.3 45.4h0m7.6-16.7h0m-14.1 6.9h0m3.7 11.1h0m21.9 0h0m-21-32.9h0m5.3-8.8h0m16 25h0m-10.9-26.4h0m9.2 46h0m-20.8-2.8h0m15.7-3.7h0m-15.5-5.3h0m21.1 12.7h0m-24.3-5.7h0m8.3-94.5h0m-.1 28.1h0m-5.8 12.5h0m122 23.6h0m-18.7 28.4h0m14.1-17.5h0m-5.6 16.2h0m11.2-11h0m-16.2-2.3h0m14 17.9h0m-10.7 3.2h0m9.9-.2h0m-14.2-21.7h0m3.2-8.3h0m18 20.4h0m-11.2 7.3h0m6.5-17.4h0m-5.5 3.4h0m-2.9-.7h0m-4.2-5.5h0m2.6 3.1h0m15.6-.1h0m-14 14.9h0m-7.2-27.8h0m13.6 12.2h0m-8.8 3.6h0m6.8 15.4h0m2.4-9.3h0m-9.7-7h0m12.9 5.1h0m-20.1-7.4h0m20.5-2.7h0m-20.1 .7h0m-2.2 4.6h0m1.9 10.2h0m22.2 6h0m3.7-5h0m-16.2 4.4h0m-2-9.6h0m12.7-13.9h0m-12.6 6.4h0m1.7 15.1h0m-8.9-7h0m-2.2-8.6h0m20.9 13.9h0m-4.8-3.4h0m2.1 7.4h0m-14.5-5.2h0m5-15.8h0m13.4 20h0m-1-17.9h0m-9.1 1.8h0m15.1 8h0m-10.2 7.8h0m-14.6-7.6h0m4 9h0m8.9-23h0m-1.9-11.3h0m11.3 27h0m-7.2 4.2h0m-13.4 1.9h0m11.7-29.6h0m10 23.6h0m-21.2 6.6h0m2.6-15.8h0m-4.7-2.2h0m19.7 14.5h0m-7.5-11.9h0m7.9 8.4h0m4.7 4.3h0m-24.9-11h0m18.7 14.2h0m-18.4-23.6h0m23.8 15.3h0m-25.5-29.1h0m7.1 8.9h0m4.7-38.9h0m103.8 44.4h0m4.5 10.1h0m-4.1 17.8h0m-3.1-32.9h0m8 38.2h0m-15.6-33.1h0m19.1-8.9h0m-20.9 31.6h0m9.1-12.1h0m7.9 5.8h0m-17.1 16.8h0m24-15.7h0m-13.1 14.7h0m13.4-9.4h0m-10.9 13.5h0m-5.5-12.2h0m-4.2 2.7h0m0 1.1h0m0 6.3h0m1.5 1.1h0m-3.3-43.6h0m24.7 22.7h0m-4.6 16.7h0m-21.8-15.2h0m11.3 18.8h0m12.7 2.9h0m-7.1-20.3h0m6-14.1h0m-20.2 22.4h0m18.1-28.1h0m2 38.2h0m-8.6-7.2h0m1.4 5.6h0m9.5 3.4h0m-1.1-19.8h0m3.8 21.1h0m-24.9-36.8h0m8.6 22.9h0m7-5.4h0m-17.8-.6h0m.1 12.1h0m5.4-11.6h0m-6.5 18.3h0m13.2-11h0m-6.9 5.9h0m-3.5-29.2h0m14.8 26.5h0m10.6 7.3h0m-22.2-46.7h0m9.1 17.4h0m10.4 22.5h0m-24.5-25.7h0m12.1 10.9h0m-11.4 19.1h0m24.7-9h0m-5.1-17.7h0m1 5.9h0m-9.6 12.9h0m12.7-24h0m1 16.1h0m-16.1-23.2h0m13.3 42.4h0m-6.3-.2h0m9-14.8h0m-.9-10.9h0m-18.3 6.6h0m-7.5 19.2h0m17.9-9.6h0m-17.4-2.8h0m23.4-15.8h0m-15.6 15.4h0m-3.8-35.3h0m-2.2 42h0m2.9-1.6h0m-4-3.3h0m5.6-68.8h0m6.2 13.9h0m92.5-44.8h0m6.1-9.8h0m19.6 0h0m-11.2-3.4h0m-12.7-13.4h0m15.7 18.9h0m-8.3-23.9h0m15.2 12.9h0m-23.8-17.1h0m15.3 17.7h0m-16.2 5.4h0m.2 7.3h0m6.2-23.6h0m11.8-3.7h0m7 28.1h0m-8.8-11.5h0m-11.5-3.3h0m18.5 8.4h0m-22.1 5.3h0m2.8-8.3h0m21.9-2.9h0m-4.7 3.7h0m5.2-10.8h0m-.8-19.7h0m-1 9.8h0m-20 34.9h0m5.1-19.9h0m-3.3 19.7h0m-.2-10.8h0m.3-26.7h0m1.4-6.2h0m15 42.5h0m3.5-6h0m-6.1-17.2h0m-10.4 14.7h0m11-42.6h0m-15.1 27.6h0m8.4 23.4h0m-7.7-19.2h0m8.5 16.9h0m5.9-23.1h0m5 12.9h0m-22.8-18.7h0m2.2 30.2h0m.7-21h0m8.6 4.2h0m9.5 18.3h0m-7.6-37.5h0m-14.1 38.1h0m15-34.3h0m4.8 25.9h0m-12-9.3h0m1.6-12.5h0m9.8-8.5h0m2.5 38.8h0m-21.8-15.4h0m11.3-.7h0m-6.2-19.9h0m3.8 12.6h0m1.6 18.7h0m-6.6-.6h0m-2.2-13.4h0m20-6.6h0m-9.1-16.6h0m1.2 27.5h0m-3.6-15.1h0m-3.9 19.1h0m-2.2-10.1h0m-4.9-10.7h0m19.9 6.9h0m-3.1 13.5h0m-14-23.8h0m9.6 26.9h0m-1.5-2.8h0m-.6-45.3h0m10.1-12.6h0m-12 2.1h0m96.8 99.5h0m21.5-11.5h0m-4.5-8h0m-4.5 12.7h0m.7 9.9h0m2.4-18.7h0m-3.6 23.7h0m5.6-5.8h0m-2.5-5.7h0m-16.1-14.3h0m24.2 7.9h0m-23.9 12h0m13.6-8.7h0m-2-2.3h0m-11.8-.9h0m.4 17.3h0m3.3-1.4h0m1-16.9h0m12.9 11.7h0m-8.8-9.9h0m14.2 13.6h0m-20.9-11.6h0m20.9 7.2h0m1.4 .3h0m-23.1 8.9h0m14.9-10.1h0m-1.6-27.4h0m.4 15.3h0m-3.9 19.2h0m10 5.2h0m-7.4-20.4h0m-7.2 7h0m15.9 5.3h0m-21.7-18.7h0m11.9 6.2h0m12.1-1.6h0m-5.8 9.3h0m-1.7-15.3h0m-6 4h0m-5.6 17.9h0m12.2-.3h0m-12.1 5.6h0m2.7-12.2h0m15.2-16.8h0m2.6 23.1h0m-18.3 .6h0m7.3 .4h0m11.3 2.3h0m-11.7-13.7h0m5.7 10.2h0m-17.3-16.8h0m19 2.4h0m-5.2 18.6h0m-17.1 3.7h0m21.7-16.9h0m-13.7 10.3h0m17.9-3.3h0m-7.1-19.1h0m-14.3 19.2h0m5.3 .3h0m-3.2 5h0m-2.4-26.2h0m11.7 14.5h0m-14.1-13.4h0m12.4 10.7h0m-8.2 1.5h0m8.2-4.2h0m-12.5 21.6h0m17.1-17.2h0m-9.4 14.1h0m2.1 1.8h0m-9.5-7.4h0m3.9 3h0m-6.1-11h0m16.2 15.3h0m.9-49.5h0m92.9 59h0m22 5.8h0m-19.9-4.1h0m9.7-22.2h0m-16.6 4h0m15.1 27.7h0m.7-10.1h0m1.4 1.4h0m-13 8.2h0m14.3-27.3h0m-3 .3h0m-11.3 14.7h0m20.5-16.1h0m-9.6 23h0m9.4 1.7h0m-7.7 7.3h0m2.2-1.6h0m-5.1-13.2h0m-3.8 .4h0m13.6 9.2h0m-7.9-6.7h0m-6.3-2.6h0m-7.7-8.4h0m2.2 11.4h0m21.5 7.3h0m-6.3-24.4h0m-11.7-5.8h0m9.9 10.8h0m4.4-6h0m-4.9 29.2h0m4.4-30h0m-7.6 13.2h0m10.7 9.4h0m-7-4.3h0m3.8-.9h0m-20.5-9.5h0m18.7-14.2h0m-1.5-8.9h0m-17.3 28.8h0m26.3 12.6h0m-27.3-2.9h0m4.4-22h0m.6-8.8h0m12.2 20.9h0m-15.6-24.3h0m15 15.7h0m6.8 3.8h0m-6.7 9.7h0m-2.4-13.6h0m-8.6 21.7h0m-1.4-12.8h0m20.2 3.3h0m-15.3-10.5h0m16 21.9h0m-12.8-12.1h0m6.8-7.7h0m-.2 17.6h0m-10.7-3h0m-5 1.9h0m1.1 3h0m7.9-13.1h0m-6.4-14.1h0m-1.5-1.8h0m7.5 19.2h0m-11.2-32.7h0m.3 19.5h0m18 18.6h0m-8.6 .4h0m7.7-27.3h0m3.6 6.4h0m-11.7 21.4h0m-2-3.6h0m18.5-3.8h0m.6 3.9h0m-11.4-1.8h0m-6.8-48.2h0m-.3 8.4h0m115.3 107.6h0m-3-3.2h0m11.4 2.7h0m-22.5 .9h0m15.5-15.5h0m-10.4 0h0m10.7 14.5h0m3.4 1.7h0m-17-9.1h0m16.2 .9h0m-20.8-1.9h0m20.4 4.9h0m-3.3 .8h0m-8.8-2.2h0m14.6 2.7h0m-24.3-11.7h0m22.8 16.3h0m-23-2.4h0m15-1.9h0m-16.8 4.2h0m5.7-10.9h0m5.3 9.4h0m-3.7-.6h0m16.6-13.7h0m-11.2 7.5h0m-12 3.5h0m10.7 2.7h0m-6.6-2.3h0m.6-2.7h0m4.9-3h0m15.4 3.5h0m-7.8-18h0m-3.3 .7h0m91.6-51.4h0m26-17.5h0m-9.4 5.9h0m1.6-11.5h0m8-.8h0m-.5-13.6h0m-6.7-3.3h0m3.9 23.2h0m-17.5 19.1h0m-1.5-34h0m-2 13.9h0m17.1 14.9h0m.6-23.3h0m-17.4 3.7h0m5 22.4h0m12-13.2h0m-8.1 12.6h0m1.4-12.5h0m1.7-36.2h0m-13.1 46.8h0m4.3-5.8h0m-5.9 8h0m27-2h0m-8.7-3.2h0m1.4-4.6h0m2.1-23.1h0m-2.1-1.7h0m4.1-11.6h0m-3.7-8.8h0m-15.8 30.5h0m6.9 23.2h0m6.6-38.5h0m-7.4 41.6h0m12.5-14.8h0m-10.8 8.1h0m4.2-10.6h0m-9-14.9h0m.9 16.2h0m16.6-10.4h0m-9.9-28.3h0m-10.4 45.5h0m18.7-41.6h0m-23.8 49.2h0m11.9-11.9h0m11.6-10.8h0m-11.7-9.7h0m-1.9 .3h0m-3 30.3h0m2.1-4.4h0m-4.7-14.2h0m22.4 22.1h0m-4.7-30.6h0m-9.3 8.4h0m-10.8 17h0m-1.2-30.9h0m20.9 36.8h0m-11.7-4.3h0m-9.1-2.2h0m24.6 2.8h0m-20.3-10h0m10.5-30.4h0m4.5 33.9h0m-4.6-21.3h0m-.5 16.7h0m2.2-2.9h0m-16.2-17.5h0m12.1 16.8h0m11.6-5.1h0m-15.1 22.1h0m9.3-50.9h0m-15.7 20h0m20.4-7.2h0m-.5 36.8h0m-21.4-13.3h0m-1.9 15.9h0m14-83.3h0m-11.1 2.1h0m16.6 14.6h0m96.2 73.6h0m-1.1 12.1h0m-7.3 21.4h0m3.2-36.4h0m13 27.8h0m-4.7-11.1h0m-7.7-25.5h0m8.3 22.1h0m11.7 .4h0m-22.4 11.4h0m17.3-44.4h0m-4.7 51h0m-12.9 .5h0m1.3-15.8h0m-4.2-15.9h0m15.4 11.2h0m9.2-6.7h0m-4.8-20.9h0m.3 49.5h0m-7.9-10.3h0m13.1-3h0m1.3 4h0m-4.2-21.9h0m-6.8 30.2h0m-13.5-14.2h0m13.2 7.5h0m-10.3-10.8h0m8.7-26.2h0m10.3-14h0m-3.4 56.9h0m-7.4-16.6h0m-2.9 15.6h0m14.9-36.7h0m-15.4 9.9h0m-8.2-4.4h0m6.8 28.9h0m-5.8-.9h0m7.7-14.4h0m-.8 20.1h0m14.1-24.7h0m-20.3 19.5h0m10.9-44h0m-3.4 22.6h0m8.3 6.4h0m-11.1-23.1h0m-7.7 43h0m.2-29.1h0m6.5 20h0m11.9 11.6h0m-8.6-17.5h0m9.4-31.6h0m.9 36.6h0m-4.3-12.3h0m-5.4-2.7h0m-7 17.7h0m-4.5 2.6h0m14.6-4.9h0m1.2 9h0m-.4-11.9h0m9.1-21.4h0m-21.9-.2h0m19 35.8h0m-11.7 .3h0m-6.4-3.3h0m3.5-39h0m17.3 4.9h0m-9.6-7.4h0m11.6 37.3h0m-1.5-31.8h0m-20.7 24.8h0m1.4-9.3h0m-.4 20.9h0m8.9-20.2h0m10.3 6.6h0m-19.1 4h0m11.4-96.7h0m-13.5 32.7h0m3.1 1h0" stroke="#2b4d8b" stroke-width="5" stroke-linecap="round" fill="none"/>
<path d="M164.5 1527.9h0m8-9h0m-8.4 26.9h0m10.1-5.8h0m-7.1-3.8h0m-.8 10.2h0m19.2-.3h0m-3.4-6.3h0m-15.4 .1h0m3.1-16.7h0m-4.7 16.5h0m-4.9-25.9h0m21.1 34.9h0m-18.1-20.7h0m19.4 17.2h0m-10.3-22.2h0m-3.7 23.1h0m8.4-2.4h0m-6.8-3h0m6.6 7.1h0m-10.5-5h0m16-8.1h0m1.4 16h0m-16.5-12h0m19 10.6h0m-22.4-1.9h0m13.1-12.7h0m-9.1-5.8h0m14.1-13.7h0m3.9 27.5h0m-21-11.1h0m-2.3 17.9h0m21.2-6.3h0m-8.8 .5h0m6.1-22.5h0m-14.8 18.4h0m16.1-1h0m-.3-23.4h0m-19.6 8.4h0m-3.4 19.1h0m.7 5.3h0m21.3-18.4h0m-13.2-2.5h0m1 .1h0m5.2 2.7h0m-8.7 19.6h0m17.9-6.1h0m-12.2-30.3h0m-5.1 21.5h0m-7.7 8.3h0m18.3-25h0m6.5 25.3h0m-24.1 2.7h0m10.9 1.3h0m-5.1-4.6h0m14.3 .9h0m-10.1-24.4h0m15.8 7.8h0m-19.5 11.2h0m6.2 4.5h0m-11.8-13h0m-1.1 5.7h0m16.2 .4h0m-4.1 13.4h0m13.4-.9h0m1.5-3.5h0m-21.5-2.6h0m11.5 6.9h0m1.6-20.6h0m-.4 19.5h0m-10.2 1.5h0m-1.3-21.1h0m20.3 9.7h0m-14.9 5.6h0m13.7-7.8h0m-15.2-6.2h0m-2.3 15.5h0m14.9-9.4h0m-14.3 3h0m5.9 2.5h0m-8.2-11.8h0m-6.5 9.8h0m14.9 11.2h0m-13.7-6.7h0m6.6-15.7h0m13.8 11.1h0m-17-24.2h0m8.9 34.3h0m12.9-.5h0m-22.2-4.9h0m18.3-1.6h0m-8.6 4.9h0m11.4-4.1h0m-21.9-2.6h0m20.6-26.4h0m.6 21.3h0m-2.4 12.3h0m-2.3-25.7h0m-1.3 9.8h0m-14.8 10.6h0m15.6-8.8h0m-18.3 10.4h0m25.3-5.1h0m-11.8 3.8h0m8.4-13.1h0m-14 3.9h0m-2.5 12.1h0m4.7-20.4h0m4.3 21.6h0m-12-11.6h0m-.7 9.2h0m7.7 4.5h0m.4-31.8h0m-11.3 23.7h0m14.7 1.5h0m-2.5-17.5h0m7.1 25.8h0m-5.6-1.3h0m-.4-11.7h0m2.3 10.3h0m9.4-15.4h0m-7.1 5.8h0m-16.9 5.4h0m23.1-12.3h0m-19.9 10h0m4.2 5.7h0m10.4-33.3h0m.7 26.9h0m.9-4h0m3.9-15.2h0m2.1 9.5h0m-19.6 9.7h0m-1 5.3h0m-3.8-22.6h0m16.9 14.6h0m-4.6 9.4h0m-9.7-12.9h0m23.2 15.6h0m-5.1-4.4h0m2.8-4.7h0m1.3-.4h0m-3.6-9.7h0m-5.1-3.9h0m7.9 17.8h0m.7-12.6h0m-14.7-5.3h0m-7.2 2.1h0m20.8 17.5h0m1.3-4h0m-15.6-9.5h0m-8 1.2h0m17.7 12.8h0m-21-9.2h0m.2 5.9h0m17.1-10.9h0m-11.2-8.9h0m1.9 5.9h0m8.2 7.1h0m-9.5 10.1h0m15.8-9.1h0m3.8-16.2h0m-2.8 9.1h0m-2 14.1h0m-13.6-10.1h0m-5.2 8.4h0m17.9-52h0m103.6 150.3h0m-17-3.8h0m8.1-12.1h0m-5.8 6h0m8.1 11.1h0m3.1-38h0m-6.8 34.2h0m7.2-27.2h0m-14-4.5h0m6.5 26.9h0m2.1-30.5h0m.5-1.7h0m12.7 20.5h0m1.8 24.5h0m-25.6-12.6h0m1.5-7.8h0m8.8-6.1h0m12.6 9.4h0m1.8-1.1h0m-1.5 10.9h0m-22.9 6.2h0m1.4 .1h0m-1.4-9.8h0m18.3-13.5h0m4.1-4.3h0m-5.5 17.3h0m9.2-7.8h0m-25.2 8.9h0m24.5-2.6h0m-9.2-4.7h0m-1.2 6.6h0m-5.9 3.5h0m1.6 7h0m.5-13.9h0m6.1-30.6h0m2.2 36.9h0m.3-28.7h0m-16.7 36.8h0m19.2-39.3h0m-21.2 17.5h0m11.4-13.4h0m-2.7 12.7h0m4.4 16.5h0m-2.6 6h0m7.4-15.6h0m4.8-.6h0m-21.4-11.3h0m19.5 23.8h0m-12-.9h0m10.1 2.1h0m1.7-1.6h0m.2-6.6h0m-10.7-.9h0m-5-3.4h0m2.6-3.9h0m12.5 12.2h0m-18.5-22.4h0m14.8 21.4h0m1.6-13.7h0m-5 3.6h0m9.5-12.8h0m-20.1 21.8h0m6.1-7.4h0m-.8 6.4h0m6.5 9.1h0m1.7-39.9h0m-9.1 29.7h0m.3 5.1h0m11.7-14.3h0m-16.1-7.8h0m21.4 28.4h0m-24.2-9.3h0m25.3-9h0m-2.6-32.7h0m2.8 44.6h0m-1.9-14.8h0m-4-27.4h0m-5.4 29.9h0m11.4-2.4h0m-6.4 13.6h0m-10.6-27.9h0m1 4.2h0m1.6 19.5h0m-7.9-16.7h0m-1.3 24.9h0m21.6-7.9h0m-19.8-16.2h0m-3.5-4.2h0m.9 12h0m.1 2.4h0m4 12.4h0m-4.7-14.1h0m-.1-1.8h0m2.7 1.3h0m18.6-7.3h0m-.2 4.9h0m-3.4 19.1h0m-3.3-7.3h0m6.3-37.7h0m-4.2 28.9h0m-3.6 3.8h0m4.5-23.9h0m3 25.1h0m-17-3.8h0m15.4 17.7h0m-7.5-3.3h0m-2.2-24.3h0m4.8-3h0m-14.5 2.9h0m3.7 12.6h0m3.1-5.4h0m-5.6 19.9h0m5.4-1.4h0m18.1-27.1h0m-11.3 4.2h0m-.5-1.4h0m.5 13.6h0m-3.6-11.2h0m-3.1 10.5h0m5.7-.9h0m12.7-10.7h0m-22.2 10h0m15.2-33.9h0m-8.5 28.7h0m15 11.5h0m-1.7-18.5h0m.9 6.2h0m-12.5 8.2h0m9.1-5.8h0m-8.6-8.2h0m-3.9-.8h0m.3 16.7h0m1.6 8h0m-4.2-11.1h0m17 12.6h0m3.4-14.6h0m-20.6 6h0m11.8-27.9h0m-6.9 34.8h0m8.1-1.2h0m-6.4-22h0m-10.3-9.9h0m0 29.9h0m-2.5-9.9h0m6 12.9h0m4.2-3.7h0m-8.8-.1h0m14.5-36.3h0m-1.9 14.2h0m-5.4 28.7h0m-6.4-19.7h0m15.5-2.6h0m-15.5 15.1h0m10.3 6.1h0m8.6-16.9h0m-3.3-6.9h0m-15.6-6.3h0m5.4 5.3h0m5.7 4.5h0m9.8 12.6h0m-21.3 3h0m3.6-31.7h0m8.2 5.1h0m11.9-9.1h0m-18.1 17.8h0m5.5-34.1h0m98.6 95.9h0m7.2 8.9h0m-11.7-13.7h0m7.2 14.5h0m4.9-9.4h0m8.2-5.6h0m-22.9 13.5h0m8.3-21.6h0m17 21.9h0m-21.9-5.1h0m19.7 .4h0m.2 .5h0m-19.1-10.3h0m18.4-12.6h0m-19.8 17.5h0m13.5 1.1h0m5.8 9.5h0m-5.9-22.4h0m7.8-17.3h0m-6.4 40.6h0m6.4-14h0m-11.7 .9h0m-1.1 11.1h0m14-18.8h0m-23.9 3.2h0m11.4 6.9h0m-12.5-13.4h0m.2 20h0m13.3-1h0m-4.3 1.2h0m15.7-.4h0m-7.8-42.9h0m-11 39.1h0m15.3-20.1h0m-12.2 29h0m-5.2-20.8h0m4 15.7h0m15-31.6h0m4 23.7h0m-6.3-6.5h0m-10.8 3.5h0m-2.5 11.1h0m11.5-1.2h0m-1.9-9.6h0m1.2 11.3h0m6.4 5.1h0m-11.7-11h0m-3.9-10.3h0m-9.1 10.4h0m23.3-34.2h0m-18.7 21.4h0m14.6 2.4h0m7.3 9.3h0m-8.7 3.5h0m-5.3 5.1h0m.7-14.7h0m-8.6 14.8h0m7.2-23.5h0m13.1 5.7h0m-1.8 15.9h0m-20.7-4h0m-2.2-3.7h0m20.7 3.8h0m-2.7 4.9h0m-14.7 .7h0m23-9.4h0m-26.3-5.7h0m10.5-18h0m14 18.4h0m-10.3-2.2h0m7.8 19.8h0m5.1 .2h0m-18.2-20.2h0m-3 7.3h0m20.4 7.7h0m-21.4-33.8h0m6.3 22.2h0m10.2 7.3h0m-2.9-15h0m0 14.7h0m-12.4-1.3h0m14.7-5.5h0m-10.7-.6h0m4.7 1.4h0m11.7 4.4h0m-20.5-2.9h0m2.4-27.7h0m-1.6 39.8h0m19.6-16.8h0m-7.4 8.3h0m-7.3 2.9h0m1.5-10.6h0m-3 10.4h0m-.2 3.9h0m-.8-4.5h0m-5.2-20.8h0m16.5-.1h0m-3.9 17h0m-13.8 11.8h0m3.6-13.8h0m5.9 7.4h0m-9-3.2h0m1.3 2.4h0m17.1-.6h0m-10.5-1.6h0m12.7 8.5h0m-13.7-16.8h0m-5.6 9.2h0m16.8 5.4h0m-20.9 0h0m18 4.6h0m-2.8-16.7h0m-14.3 2.2h0m4.6-.8h0m11.7 5.2h0m9.2 .8h0m-21.2-11h0m13.1-5.3h0m-17.1 13.5h0m20.5-5.1h0m-15 12.6h0m14.5-13.8h0m-1.6-1.3h0m-13.8 6.8h0m2-17.2h0m13.6 18.8h0m-19.4-11.9h0m20.8 17h0m-18.4-2.2h0m8.5-1h0m5.3-17.5h0m3 1.1h0m-18.2-3.2h0m15.4 3.1h0m-16.8 26.2h0m2.4-1.4h0m8.1 0h0m3.7-15.4h0m1.8 14.1h0m6.4-21.9h0m.8-9.5h0m-4.3 33.5h0m-19.1-11.5h0m20.7 5.6h0m-10.7-8.7h0m-11.3-.9h0m13.7 9h0m10-24.4h0m-6.1 25.1h0m-18.2 2.2h0m25.8-12.3h0m-9.9 7.8h0m-2.1 1.1h0m-8.9-11.6h0m21.3-3.4h0m-5.7-4.8h0m-8.4-7.3h0m10.3 19.9h0m2.4 10.5h0m-17.7-4.5h0m19.5-10.9h0m-3.8 14.3h0m-2.2-38.1h0m1.5 10.3h0m2.5 22.7h0m-12.1-66.1h0m10.2 7.7h0m89.9 42.2h0m8.3 2.6h0m7.8-12.3h0m-18.4 16h0m19.1-24.5h0m-5.9 19.8h0m-7.3-3.4h0m5.8-.2h0m-17.5-8.3h0m20.3-6.2h0m-20.9 28.6h0m9.6-17.4h0m14.4-13.6h0m-18 11.9h0m22 10.6h0m-9.8 4.1h0m8.5-17.4h0m-9.7-1h0m2.8 17.7h0m-13.7-48.6h0m10.1 52h0m-5.8-22.6h0m4.4 19.1h0m-1.8-15.4h0m-7.5 15.9h0m21.1-.7h0m-9-16.8h0m-10.6 4.5h0m-2.7 7h0m23.7 2.6h0m-28.3 7.3h0m19.7-42.3h0m-.3 35.1h0m-17.9-14.6h0m23.3 4.8h0m-10.1-1.1h0m2 7.8h0m-8-14.6h0m-7.9 10.2h0m8.2 11.3h0m5.4-16.2h0m10.4 8.4h0m3.8 12.4h0m-20.5-35.1h0m-5 24.8h0m11.7-.3h0m11.5-.2h0m1.9 10.5h0m-26.5-.8h0m19.4 .9h0m-20.8-4.1h0m15.2-1.5h0m-15.3 4.2h0m5.9-1.5h0m9.7-1.9h0m-8.3-11.6h0m18.1 15.6h0m-18.5-13.2h0m2.6-7.4h0m2 14.1h0m6.6-5.6h0m3.6 12.2h0m4.2-1.2h0m-23-10.5h0m1.3 .9h0m18.7-30h0m-14.9 38.5h0m1.7-1.4h0m12.6-14.5h0m-3.5 7.2h0m2.3 1.8h0m-17.8 .8h0m3.5-27.6h0m1.3 25.9h0m-1.2 11.2h0m-5.6-22.2h0m8.5 22.3h0m3.1-13.9h0m4.5-8h0m6.8-.2h0m-17.1 5.2h0m16.3 2.3h0m-6.4-19h0m-13.1 1h0m20.5-1.6h0m-9.3 17.6h0m5.7-26.7h0m-10.2 19.9h0m.7 4.4h0m2.1 13.8h0m-8.6-5.7h0m11.3 9.9h0m-11.5-22.2h0m8.4-1h0m-10.8 16.4h0m15.2-.3h0m-12.7 5.5h0m19.1-27.9h0m-8.2 22.4h0m9.2-12.8h0m-5.7-14.7h0m-16.8 15.1h0m25.6 10.4h0m-7.5-14.1h0m7 17.2h0m-13-11.6h0m7.4-10.2h0m-4.2-1.8h0m-14.2 20.9h0m23.3-7h0m-9.3 .2h0m10.2 13.2h0m-3.4-.5h0m-14.9-11.6h0m-7.7-1h0m25 5h0m-24.1 10.8h0m1.2-1.6h0m.8-28.2h0m2.4-2.5h0m18.7 23.5h0m-10.3-14.1h0m-3 1.7h0m12.3 6.7h0m-10.1-6h0m-4.4 9.5h0m-4.3 4.1h0m15.9 4.3h0m-17.1-6.4h0m5.7-1.1h0m6.9-8.4h0m2.1 13.1h0m-1 0h0m-12.8-.6h0m18.1-8.6h0m-4.7-8h0m-10 19.3h0m4.7 3.7h0m-3.2-6.4h0m5.5 5.2h0m-6.9-3.7h0m12.1-.8h0m-4.1-23.7h0m-3.3 8.2h0m-1.9 3.8h0m6.9 10.8h0m5.8 3.6h0m-15.2-10h0m-.5 11.8h0m-.1-6.6h0m5.1-5.9h0m4.1-3h0m-16.6 11.7h0m5.6-39.2h0m3.3 24.1h0m6.1 4.8h0m.9-7.1h0m-7.2 14.3h0m1.3-8.4h0m13-10.5h0m-13.1 23.5h0m15.4-34.6h0m-19.7 25.8h0m14.2 10.7h0m-19.8-14h0m13-57.9h0m107.4-13.2h0m1.7-9.7h0m4.8-26.2h0m-15 19.9h0m11.5 30h0m-1.1-31.6h0m6.7 20.7h0m1.2-16.6h0m-3.6-18.7h0m-16.4 12.1h0m4.4-7.5h0m9 26.7h0m2.8 10h0m-19.7-27.9h0m11.9 20.6h0m5.7 6.3h0m-15.8-51.2h0m7.4 58h0m7.1-46.9h0m8.1 37.9h0m-22.9-10.1h0m22.9 15h0m-23.4-43.8h0m12.1-31.1h0m-6.8 70.2h0m13-.9h0m-18.6 5.1h0m6.4-21.9h0m3.8 18.9h0m-.2-11.9h0m1.2 10.1h0m.9 6.9h0m-11.9-14.7h0m20.9-5.6h0m-11.5 19.9h0m1.5-3.3h0m-8.7-34.5h0m18.9 6.6h0m-22.9-19.3h0m21.1 56.7h0m-.5-23.3h0m-1.7-37.7h0m-17.9 33.4h0m17 5h0m-2.1-21.6h0m.8 44.3h0m-9-21h0m11.1-5.8h0m-5.6-2.3h0m-9.5 11.7h0m-5.1-6.5h0m18.1 14.5h0m-3-39.4h0m-14.4 36.5h0m-1-13.8h0m11.8-36.4h0m12.1 55.5h0m-5-29.5h0m2.2-5.6h0m-5.3-25.8h0m2.9 29.8h0m-4.5 27.6h0m8.8-18h0m-16.6 12.4h0m-2.5-8.1h0m-3.5-5.2h0m12.4 9.7h0m-12.4-1.3h0m25.6-38.9h0m-14.3 34h0m-8.8-22.9h0m11.8 40.8h0m2.7-32.1h0m-2.7-39h0m-.5 10.4h0m-1.2 25.8h0m-11.9 40.5h0m15-36.3h0m-13.7 16.2h0m.3-2.9h0m15.2 11.8h0m-16 5.1h0m5.1-72.8h0m1.1 76.6h0m7.1-31.4h0m-4.6 6h0m-2.9-17.4h0m9.3 36.3h0m10.3-14.8h0m-18.8 16.3h0m6-31h0m-7.5 34.6h0m5.4-19.5h0m3.4-25.3h0m2.2 34h0m2.6-22.6h0m-1.8 21.6h0m-2.6-14.2h0m-7.7-19h0m-7.4 45.3h0m22.7-53.3h0m-2.1-20.5h0m.2 77.2h0m-7.3-68.1h0m13.3 66.3h0m-.3-11.1h0m-7.6-7.3h0m4.8-8.8h0m2.1 14.2h0m-12.2 13.8h0m-13.6-1.4h0m11.5-45.9h0m13.7 22.7h0m-7.2 27.5h0m-.3-14.7h0m-2.2 9.5h0m8.6-30.1h0m-13-6.4h0m3.8 8.3h0m2.5 5.8h0m-15.9 25h0m-2-7h0m20.8-18.6h0m-17.4 19.5h0m-1.4-33.6h0m7.2-16.9h0m-2.8 43.5h0m-3.2-27.3h0m19.7 20h0m-16.6 11.8h0m9.9 6.2h0m-9.5 4h0m14.6-36.8h0m-17.3 33.6h0m12.9 5.3h0m5.3-8.8h0m-12.9-56.6h0m-.3 34.9h0m11.5-29.7h0m-11.3 49.7h0m12.8-78h0m-15.9 78.1h0m12.2-12.3h0m-15.8-21.7h0m15.8 39.6h0m-18.4-47.1h0m8 13.7h0m19.2 29.6h0m-3.7-48.3h0m-13.8 40.8h0m-8.8-38h0m22.7 50.5h0m-20.4-36.8h0m20.4 7.5h0m-5.1-8.6h0m-16.2 .6h0m3.6 24.2h0m3.2-3.3h0m8.1 10.4h0m-5.8-55.6h0m3.1 21.4h0m1.9-11h0m8.9 26h0m-18.1 17.5h0m9.2-2.9h0m-.3-89.4h0m92.9 191.1h0m2.2-12.3h0m7.9 12.5h0m-.3-13.4h0m-7-.2h0m3.1 6.4h0m14.1-8.9h0m-24.1 15.8h0m7.7-2.6h0m16.2 .4h0m-4.6-12.9h0m3.8-9.5h0m-22.1 8.6h0m9.4 13.8h0m-.5-4.8h0m-5.8 7.3h0m14.8-4.2h0m-18.3-29.6h0m14.4 25h0m-1 2.3h0m-10.3-11.2h0m-3.1 2.5h0m22 6.1h0m-.9 7.6h0m1.1 .4h0m-10.5-19.2h0m-8.6 15.6h0m18.1-3.4h0m3.1-10.3h0m-1.9-4.5h0m-22.5 19.1h0m12.8-5.2h0m-4-6.1h0m13.5 7h0m-11.4-10.9h0m15.3 5.4h0m-11.8 8.8h0m-12.8-10.8h0m16.1 .5h0m-16.6-8.1h0m9.2 6.6h0m9.7 12.4h0m4 1.9h0m.6-16.5h0m-13.3-.2h0m5.8-14.3h0m-11 31.5h0m15.7-21.1h0m-19.6 8.8h0m16.3 2.4h0m.2-9.2h0m6.5 5.6h0m-19.8 14.9h0m-5 .3h0m15.7-2.8h0m3.3-2.4h0m-16.2-3.8h0m17-6.3h0m-9-.6h0m6 10.1h0m4.5-10.6h0m2.6-2.2h0m-25 11.4h0m7.8 3.6h0m6.5 3.9h0m-14.3-17.7h0m23.5 1.6h0m-14.7 13.3h0m13.1-39.2h0m-8.4 41.7h0m-3.4-2.6h0m.2-8.4h0m-6.6 11.3h0m12.8-19.8h0m-13.1 19.7h0m22.3-5.4h0m-7.6-3.9h0m4.4-7.3h0m-6.3 14.1h0m-2.7-.6h0m-6.6-12.7h0m-5.2-2.9h0m20.2-12.4h0m-10.7 31.7h0m11.5-9.7h0m-9.4-9.7h0m-9.6 18.3h0m3.8-25.9h0m1.3 25.4h0m5.9-7.1h0m-7.1-23.1h0m16.4 18.9h0m-5.2-3h0m-1 15.4h0m-11.4-2.7h0m20.9-3.7h0m-5.5 .2h0m.7 6.7h0m-20.5-2.9h0m2-6.4h0m-2.1-3.8h0m19-9.6h0m-20.3 15.5h0m19.2-10.3h0m-14.9 11.7h0m19.7-.7h0m-.7 2h0m-22.3-10.4h0m20.7 8.6h0m-11.1-7.8h0m8 8.7h0m-12.7 3h0m-2.9-14.9h0m21.5-22.2h0m-23.9 25.9h0m14-23h0m10.6 12.4h0m-3.2 8.3h0m-19.9-4.7h0m3 9.4h0m10.5-26.7h0m4.4 16h0m-13 8.4h0m2.7 8.3h0m2.6-2h0m-12 6h0m8.5-2.9h0m2.3-15.9h0m3.9-9.7h0m8.9 .8h0m-.2 14.4h0m-3.5-5.1h0m4.1 8.7h0m-20.6-6.3h0m-5.1 10.9h0m20.1-6.7h0m-8.9 11h0m16-10.5h0m-1.1 9.1h0m-23.5 2h0m8.5-14.6h0m-2.5 14.6h0m10.4-24.8h0m-1.3 1h0m-9.7 21h0m17.6-.1h0m-6.5-28h0m2 12.2h0m-12.3 12h0m10.5-13.2h0m1.8 2.1h0m-8.5-9.1h0m6.7 18.9h0m1.3-.6h0m3.4-3.9h0m2 10.8h0m-4 3h0m-12.1-22.7h0m1.5 7.2h0m10.5-20.6h0m-7.4 26.8h0m2-47.3h0m4.6-2h0m106-1.6h0m-12.6-7.7h0m16-14.9h0m-4.8 13.5h0m-19.1 18h0m20.4-21.1h0m-9 14.3h0m-3.5-5.2h0m7.1 14.8h0m10.1-5.2h0m-5.4-15.3h0m-6.6-18.5h0m2.5 23.7h0m-15.1-6.8h0m21.1 2.5h0m-10.1-8.9h0m-1.7 .6h0m10.4 16.3h0m-4-38.8h0m-11.6 23.6h0m-5.4 15.5h0m7.7-20h0m9.6 27.7h0m-9.7-15.3h0m.5 3.7h0m-1.2-1.8h0m8.1-4.5h0m-2.1-34.1h0m8.8 54.9h0m-13.2-20.5h0m9.3 6.5h0m7.2-5.8h0m-21.2 5.9h0m19.6-11.8h0m2-7.4h0m-17.6 26.2h0m2.9-14.2h0m-8.9 19.8h0m1.4-28.1h0m-3.3 2.8h0m11.2 27.2h0m7.6-24.2h0m-19.4 18.6h0m12.1 6.1h0m8.3-23.5h0m1.1-18.9h0m.4 29.4h0m-14.1 1.3h0m2.8 8.7h0m16.1-2.7h0m-16.3-9.5h0m1.6-20.7h0m-2.4-17.6h0m-3.9 27.5h0m8.3 10.3h0m-2.7-24.8h0m6.6 15.5h0m8.7 22.1h0m.5-15.9h0m-9.5 9.2h0m1.3 9.5h0m-11.4-8.4h0m.1-37.1h0m12.9 13.8h0m-1.4 13.3h0m-18.1 11.6h0m3.8-13.8h0m-4.4 21.1h0m10.5-18.2h0m-10.4-13.6h0m9.8 30.3h0m8.9-11.3h0m-17.6 4h0m16.1 1.5h0m-3.2-32.8h0m-3.5 37.3h0m-10.6-15.7h0m16.4-9.4h0m10.4 27.7h0m-1.5-4.1h0m-15-2.9h0m-8.4-6.1h0m10 5.6h0m5.5-43.2h0m-12.7 36.7h0m2.1-27.1h0m1 13.1h0m-4.6 25.1h0m16.3-13.8h0m-6.2-1.8h0m1.1 8.7h0m-12.9-42.7h0m6.7 50h0m-4.2-13.1h0m6.3-6.6h0m-3.5-6.7h0m13.9 12.1h0m2.6-2.4h0m-15.6 7.6h0m15.5-4.3h0m-6.7-5.9h0m7 17.5h0m-10.6-16.6h0m-9.4 .9h0m-1.9-8.8h0m3.3 26.5h0m17.6-44.2h0m-22.6 23.2h0m18.8 17.8h0m2.9-29.7h0m2.5 4.2h0m-7.8 8.5h0m-3.4 11.1h0m-2.7 2h0m13.6-17.2h0m-5.1-11.2h0m5.9 17.1h0m-21.1-17.5h0m20.1 21.1h0m-20.4-17.7h0m2.5 23.5h0m12.9 1.7h0m-12.9-14.6h0m7.8 4.1h0m8.5 6.5h0m3.5-3.5h0m-10.5-2.1h0m3.3 6.9h0m2-16.7h0m-5.6-23.9h0m-13.8 3.5h0m-.1 38.7h0m7.8-39h0m10.9 44.2h0m-3.7-6.7h0m-14.7 7.2h0m4.5-43.9h0m-.4 46.3h0m5.3-33.7h0m-9.5 27.2h0m12.3-3.9h0m-7.2 1.9h0m-.8-27.9h0m9.2-12.7h0m10.7 6.9h0m-10-.1h0m-5.6 43.2h0m-4.9-27.1h0m10.5 13.6h0m.1-16h0m-.3 17.8h0m-11.8-17.1h0m20.8 15.9h0m-12.3 13.9h0m3.3-24.8h0m11.5-5.5h0m-25.3 6.1h0m21.5-15.6h0m-10.3 1.9h0m-2.7 30.1h0m3-1h0m-5.5-5h0m0 5.4h0m14.8-26.4h0m-10.8 19.5h0m-4.2-97.8h0m13.7 7.2h0m-7.6 20.9h0m95 99h0m8.8 4.6h0m7.4-3.3h0m-16.7 3.1h0m8.5-16.6h0m-3.7 3.7h0m5-3.7h0m-7.1 18.3h0m17.9 2.7h0m-21-44.3h0m25.1 44.6h0m-20.8-44.8h0m12.8 44.3h0m6.6-13.4h0m-20.1-25.1h0m-1.4 17.9h0m1.1-7.1h0m3.3-18.1h0m.2 16.7h0m5.6-3.4h0m-9.4 1.2h0m16.2 23.1h0m-2.7-21.6h0m5.2 8.7h0m-19.8 11.7h0m13.9-30.6h0m6.6 10.5h0m-13.2-32.1h0m-4.9 27.4h0m3.6 20.2h0m3.5-.7h0m2.3-1.4h0m-6.7-32.1h0m10.4 25.6h0m-11.3 15.9h0m-2.9-3.2h0m12.7-2.1h0m-13.2-23.1h0m-1.3 26h0m11.7-24.2h0m-8.4-1.2h0m8.7 22h0m-.9-23.8h0m.4 21.7h0m-14.9 14.9h0m12.7-28.4h0m6.8-.9h0m4.9 23.7h0m2.3-6.4h0m-13.5 7h0m6.1-2.9h0m3.6 4.3h0m-4.2-12.1h0m-14.7 12.8h0m9.7-7.5h0m3.4-4.7h0m-11.6 1.1h0m-.6 8.9h0m12.5 1.2h0m-18-2.8h0m14.8-1.5h0m5.4 5.6h0m-17.8-19.8h0m13.7 3.7h0m-15.3 .8h0m.5-17.1h0m16 20.8h0m9.2 6.5h0m-3-11.9h0m-15.8 11.2h0m-4.6-14.9h0m16.1-11.9h0m-7.8 24.9h0m-5.1 1.4h0m18.2-25.6h0m-18-28.3h0m1.4 40.4h0m7.2 4.2h0m4.3-3.2h0m-17.8 14.8h0m-.8-20.7h0m15.9-12.5h0m-11.6 32.1h0m22.2-8h0m-10.2-39.1h0m5.8 32.5h0m-3 10.8h0m-20.1 1.5h0m7.9-46.4h0m2.2-3.5h0m-7.6 57.8h0m.4-4.1h0m15.8-30.9h0m7.2 17.1h0m-2.9 3.1h0m-12.3-22.1h0m-.6 33.7h0m4-.3h0m-10.1-1.5h0m9.8-7.9h0m11.2 6.7h0m-16.3-48.1h0m-5.3 44.2h0m15.1 5.4h0m-2.6-19.1h0m-9.9 3.9h0m21.6 12.8h0m-2.7 1.4h0m-2.6-19.1h0m-14.3-8.3h0m16.3 31.7h0m-11.9-52.1h0m6.3 31.4h0m3.8 .2h0m.6 5.3h0m-15.7-37.1h0m-3.6 53h0m7.4-9.2h0m-9.6-33.7h0m.2 29.6h0m2.4 8.6h0m17.7-12.1h0m-16 5h0m1.8-1.1h0m-3.8 3.8h0m14.8 11.2h0m.2-19.7h0m-.4-14.7h0m-16.1 22.9h0m20.4 8.2h0m-19.5-26.2h0m5.3-3.9h0m18.7 21.4h0m-18 3.4h0m6-16.6h0m-7.9 11.2h0m16.6-48.1h0m-1.6 40h0m2.8 21h0m-14.7-12.9h0m-5.9-9.4h0m-3.3-14.6h0m16.4 34.4h0m-2 3.7h0m6.3-41h0m-21.3 19h0m10.1-14.3h0m-7.1 3.1h0m6.7 30h0m3.3 2.1h0m9.4-5.4h0m-10.1-25.6h0m-13 17.1h0m12.9 11.6h0m-10.8 4.3h0m10.4-36.1h0m-10.4-8.4h0m22.8 40h0m-2.8-27.9h0m1.7-14.7h0m-14 37.7h0m6.6 4.7h0m7.6-13.6h0m-18.2-14.4h0m3.3 11.4h0m-4.6-68.2h0m127.6 83.8h0m-12.2-.7h0m6.4-11.6h0m-3.8 12.3h0m2.8-10.2h0m-.9-3.3h0m3.5 16.4h0m4.2 5.7h0m-15.5-4.8h0m8.8 2.8h0m3-31.1h0m-7.2 22.4h0m-6.2-9.4h0m-4.6 2.1h0m17.3 5.8h0m-8.7 4.6h0m10.6 5.7h0m-2.3-31.2h0m1.4 16.5h0m-6.5-15h0m4.5 14.3h0m.6 5.5h0m-4.3 1.4h0m8.5-18.5h0m-8.3-.2h0m-10.1 16.8h0m13.5-9.8h0m-12.3 10.3h0m15.5-25.3h0m-1.6 26.6h0m-10.9-19h0m14 8.5h0m-10.2-12.7h0m-11 20.9h0m-1.8 7.8h0m23.6-13h0m-24.8 .8h0m19.5-5.6h0m1.3 16.8h0m-2.7-11.7h0m-11.3-5.6h0m-8-11.4h0m22.4 17.1h0m-21.1-18.3h0m20.3 5h0m-9.2 15.9h0m9.9 14.2h0m.8-17.8h0m-.9 9.8h0m-12.4 4.9h0m-5.5-18.2h0m-1.3 19.6h0m7.4-6h0m-9.6 8.3h0m5-30.1h0m-1.7 6.6h0m17.7 18.1h0m-19.1-10.2h0m7.4 14.4h0m2.4-39.8h0m11.4 32.8h0m-22.5 3.2h0m20.2 4h0m-4.6-4.3h0m-6.3-14.6h0m-4.9 17.5h0m-5.8-.4h0m-.9 0h0m20.3-9.5h0m-16.4 9.2h0m23.1 2.7h0m-24.8-22.1h0m11.9-18.4h0m-2.7 35.3h0m9.5-25.6h0m-10 15.2h0m16.1 9.2h0m-25.2-6.4h0m22.3-4.1h0m2.5-2.4h0m-16.7-9.1h0m4 5.4h0m5.5 22.5h0m-8-10.3h0m8.8-5.4h0m1.9 12.1h0m-12.2-7.2h0m-1.4-15.8h0m.2 11.6h0m15.6 4.2h0m-21.3 8.9h0m9.9-7.1h0m-1.4-8.7h0m4.1-3.1h0m6.5 9.7h0m-12.9 2.8h0m8.5 2.5h0m-4.9-.6h0m-6.5-14.1h0m14.5-10.3h0m6.7 22.2h0m-22.9-12.3h0m2.6 5.2h0m9.6 7.7h0m-14.9-4h0m5.1-3.7h0m-6.5 13.1h0m6.3-16.7h0m-1.4 4.2h0m4.7 13.3h0m-1.3-27.3h0m3.9 5h0m12.3 4.9h0m-21.4 17.9h0m-2.4-8.4h0m18.3 10.7h0m-6.3-15.4h0m-12-11.2h0m14.5 23.1h0m-4.9 1.8h0m.8-2h0m12-11.4h0m-3.5-12.1h0m-16.8 5.3h0m2.3-2.2h0m14-1h0m-12.5-1.6h0m-.1 5h0m17.8 13.1h0m-17.2 7h0m-6.9 0h0m9.4-8.4h0m-10.2-5.1h0m24.8 9.9h0m-21.3-9.1h0m.7-7.7h0m3.3 10.8h0m-2 10.5h0m-.3-2.3h0m20.3-24.7h0m-7.3 1.3h0m-5.6 6.3h0m-10.7 .8h0m24.4 15.9h0m-24.1 .2h0m8.1-1.7h0m-1.5 .4h0m15.8-17h0m-.3 8.2h0m-11.6 7.4h0m3.7-1.3h0m3.8 5.9h0m-4.5-3.2h0m6.9-3h0m-19.1 1.4h0m21.7 1.2h0m-5.1-9.5h0m-14.3 1.3h0m11.1-1.2h0m8.6-4.7h0m-22-2.6h0m12.4 5.7h0m-5.2 4h0m.5-3.2h0m1.1-.8h0m6.7-43.1h0m99.5 56.6h0m5.6-12.2h0m5.7-32.4h0m-.6 25.7h0m-12.1 12.4h0m1.1 15.2h0m4.6-53.8h0m8.1 51.3h0m-19-14.9h0m-6.6-7.8h0m4.4 4.7h0m3.7 22.3h0m-2.2-5h0m13.7 4.1h0m4.6-36.3h0m-11.1 33.6h0m-4.1-9.3h0m11.2 5.3h0m-15.9 5.3h0m7.8-10h0m10.9-18.2h0m-17 20.6h0m1.8 2.1h0m1.6 2.7h0m0-26.6h0m-3 1.2h0m10.4 20.8h0m4.4-37.9h0m-10.7 38h0m1.6 .1h0m-10.9-.2h0m-.1-1.6h0m6.4 1.8h0m8.5-4.5h0m-3.4-16.4h0m-2.8 30.8h0m2.1-26.9h0m5.6 5.1h0m-9.1 9.1h0m-5.2 2.8h0m1.3 3.4h0m11.1-51.6h0m-7.4 36.8h0m-6.2 10.7h0m10.4-25.9h0m-3.9-3.7h0m-5.1 4.4h0m9.7 26h0m10.4 8.8h0m-16.7-41.6h0m1.1 36.2h0m.7-3.3h0m2.1 5.9h0m.2-7.4h0m-8.9-18.1h0m8.1-3.2h0m6.3 14.8h0m-2.8 2.3h0m-11.5-15.3h0m23.9 7.8h0m-20.8-16.3h0m7.2 33.6h0m2.4 3h0m8.7-17.8h0m-4.9-7.9h0m6.6 23.4h0m-5.2 .9h0m-9.5-60.1h0m0 55.5h0m8.4-7.4h0m-17.7 9.7h0m24.6 2.1h0m-1.9-40.7h0m-7.7 20.5h0m6.1-.5h0m-3.5-14.2h0m-13.1 38h0m5.1-52.5h0m-.5 53.3h0m16.1-35.6h0m-23.1 21.4h0m5.2 10.3h0m11.3-63.6h0m-8.8 40.4h0m3.2 8.3h0m5.1 10.1h0m5.3-12.5h0m-15.5-8.5h0m15.8 28.9h0m-12.7-7.7h0m-9.9-28.3h0m11.2-9.6h0m-6.9 24.7h0m5.3 15.7h0m13.8-3h0m-.9-6.5h0m-13.8 9.8h0m-5-22.2h0m2.4 12.6h0m5.3-5.6h0m6.2-21.6h0m1.5 39.9h0m-16-12.3h0m9.6 4.4h0m7.4-10.7h0m-22.5 16.5h0m9.1-6h0m8.6-9.5h0m-6.9-10.3h0m2.7-14.9h0m1.4 38.3h0m5.3 5.6h0m-5.4-12.4h0m6.9 6.5h0m-10.8 2h0m7.4-12.4h0m-2.1 6.9h0m9.9-4.7h0m-15.1-26.3h0m7.9 29.1h0m-9.5-15.1h0m18 25.1h0m-27.8 3.3h0m8.8-29.8h0m15.8 23.2h0m-12.6-1.3h0m9.7-15.1h0m-20.7 9.3h0m10.9-22.6h0m-4.2 35h0m-4.5-22h0m21.4 4.7h0m.7 .7h0m-8.4-5.4h0m1-32.2h0m-14.1 43.7h0m6.7-27.5h0m-7.4 33.9h0m19.7-9.1h0m-6.4-12h0m10.9 6.3h0m-.8 13.7h0m-6.4-61h0m-13.2 38.8h0m10.4 21.6h0m6.3-26.6h0m-8.1 19.7h0m-5.1-27.5h0m5.7 32.2h0m7.4 7.7h0m-9.2-41.9h0m.8 25.5h0m-11.4 2.8h0m9.5-22.5h0m-7.7 17.6h0m9.3-2h0m1.2-11.1h0m-12.6 30.3h0m19.7-7.4h0m4.1-13.2h0m-17-11.4h0m14.6 12.2h0m-7.9-2h0m-11 10.4h0m10.9 6h0m-6.5-77.1h0m1.9 13.6h0m98.8-88.2h0m7.7 25.5h0m-11.6 2.8h0m1.5-28.2h0m17.6-7.9h0m-.1 44.4h0m5.6 .6h0m-3.4 1.7h0m-1.7-41h0m-19.3 17.8h0m18.4 24.1h0m3.8-49.7h0m-12.1 18.6h0m11.2 36.7h0m-18.6-25.9h0m2.3 10.1h0m-3 9.9h0m9.9-38.1h0m11.3 44.2h0m-17.6-1.5h0m11.1-1h0m-11.6 .8h0m17.4-3.1h0m-17.1 1.9h0m6-12.7h0m10.1 5.1h0m-11.7-27.6h0m-11.5 34.5h0m15.8-13.1h0m-6.2 5.4h0m-9.2-10.6h0m2.7 10h0m20.9 2.9h0m-12.2-7.9h0m-3-20.4h0m15.3 5.8h0m-19.3 26.2h0m16.3-13.5h0m-20.8 14h0m13.6 1.3h0m11.9-19.7h0m.6 18.4h0m-23.3-26h0m7.6 29.9h0m-1.3-11.8h0m13.4-18.8h0m-4.5 9.2h0m-12.1-20.4h0m5.2 18.7h0m-10.7 22.2h0m23.5-42.6h0m-19.9-9.6h0m18 25.6h0m-6.3 19h0m-16.5 5.1h0m25.8-1.3h0m-13.3-23.6h0m-1.2 25.6h0m-4-6.3h0m-1.6 3.5h0m12.1-15.6h0m6.8 4.9h0m-16.8 16.5h0m8.9-47.3h0m-8.6 33.4h0m7.7-2.9h0m-11.1 10.8h0m7.6 6.7h0m-6.8-8h0m-4.6-42.9h0m10.4 39.4h0m-5 6.8h0m7.2-21.6h0m-3.5-5.7h0m13-.2h0m-21-16.6h0m3.7 40.7h0m7.1-5h0m-10.1-11h0m23.7 1h0m.6 21.1h0m-.6-34.8h0m-9.3 12.7h0m3 9.2h0m-7.3-25.9h0m3.4 33.2h0m-1.8 2.7h0m-6.7-.6h0m7.6-19.2h0m-6.1 6.8h0m-.6 8.6h0m2.7 5.2h0m2-.6h0m-6.6-20.6h0m19.9 21.5h0m-20.2 4h0m1.1-9.7h0m18 6.8h0m-6.5-19.2h0m-1.1-12.8h0m-3.8-3.9h0m1.2 23.9h0m-1.3 5.5h0m-8.4 2h0m11.9-26h0m-.6 7.3h0m8.6-7.9h0m-9.3 5.7h0m4.6-3.1h0m2.7-3.4h0m-22.4 34.4h0m20.3-7.9h0m1.4-5.5h0m-23.4 3.9h0m25.1-8h0m-22.1 9.1h0m13.6-27.7h0m6.6-.4h0m-14.4 25.3h0m9 10.2h0m-2.1-16.3h0m-5-15.6h0m-1.1 18.6h0m17.4 7.7h0m-16.6-19.1h0m1.6 11.2h0m13.5-8h0m-21.7 14.4h0m21.4-13.8h0m-.6 4.5h0m-13.9-25h0m10.4 36h0m-17.6-1.3h0m.2 4h0m16.9-1.3h0m-17.4 5.1h0m3.4-7.1h0m-2.1-10.8h0m.8 16.7h0m11.3-14.5h0m-3.8-.5h0m4.5-22.7h0m-16.2 19.7h0m13.2-5.4h0m-8-5.7h0m8.3 1.3h0m-.3 7.6h0m5.7-14.7h0m-.8 14.9h0m-3.1-6.5h0m9.3 17.4h0m-17.1-.8h0m13.7 6.7h0m-17.3 3.7h0m16.2-17h0m-3.1 17.2h0m4.2-56h0m-8.4 52.6h0m5.3-34.2h0m8.1 25.7h0m-9.4 4.4h0m1-13.3h0m7.9 2.2h0m-5 6.5h0m-14.1-23.2h0m15.3-63.3h0m96.1 135.9h0m-1.5 2h0m8-1.3h0m1.7 15.1h0m-19-5.1h0m7.4 3.7h0m13.2-9.4h0m-21.2 1h0m16.2-.5h0m7.1-6.3h0m-7.8 18.5h0m-6.7-32.8h0m-.7 31.1h0m-9.2-32.4h0m.6 22h0m9.3-13.1h0m13.3-5.3h0m1.4 6.3h0m-14.7 1.9h0m-11 17.5h0m13.2-2.2h0m-1.7-31.8h0m-6.9 37.1h0m5.5-11.8h0m16.2 2.9h0m-22.3-11.6h0m23.3 15.9h0m-11.3-2.8h0m-14.6-22.4h0m11.8 13h0m13 16.4h0m-5.4 .4h0m-10.2-37.9h0m11.9 32.4h0m-1.4-18h0m2.9 8.9h0m-14.8 7.7h0m16.9-.2h0m-3.2-5h0m-14.5 3.4h0m7.8 3.6h0m-5.7-18.9h0m4.3 26.4h0m.2-2.7h0m9.6-25.6h0m1.4 8.4h0m-26.2 8.5h0m15.5-7.1h0m-6.7-5.4h0m15.3 10.9h0m-7.2-33.4h0m-12.4 41.6h0m11.1-19.6h0m9.5 21h0m-12.1-15.8h0m11.8 15.9h0m-1.5-24.9h0m-21.6 17.3h0m22-2.3h0m-6.9-2.2h0m-10.4-14.8h0m16.7 28.2h0m-21.7-11.6h0m15.5-15.4h0m-8.1-7.6h0m17.9 12.2h0m-5.9 18h0m1.5-7.3h0m-3.7-12.7h0m-9.8-10.9h0m-5 37h0m16.3-13.8h0m2.2-10.7h0m-16 23.7h0m20.2-23.5h0m-16.5-11.1h0m9.1-5.7h0m-1 18.1h0m.6-2.7h0m6.2-3.1h0m-10.6 21.1h0m-14.6 .2h0m-.1 1h0m10.5 2.1h0m4-5.3h0m2.6-10.2h0m-2.5 5.7h0m-9.6 10.9h0m13.4-22.7h0m-15.2-7.3h0m23.6 32.1h0m-18.7-7.2h0m15.8-5.3h0m-6.8 7.9h0m-17.1 2h0m26.1 2.9h0m-13.6-2.2h0m-8.3-4.6h0m5.6-13.1h0m13.2 13h0m-5.6 .6h0m2.9-5.4h0m-15.2-7.7h0m19.2-5.5h0m-22.3 26h0m1.9-6.7h0m3.7-24h0m2.6 27.9h0m4.5-43.1h0m-13.5 32.1h0m1.5 7.2h0m19.4-32.5h0m-7.8 14.7h0m-9.7 23.6h0m17.9-6.9h0m-7.3-4.8h0m-7.3-8.6h0m14.6 21h0m-15.5-18.7h0m8.5 14.4h0m5.3-9.7h0m-8.9-11.8h0m13-4.2h0m-2.9 21.5h0m-8.5 3.3h0m-7.9 4.3h0m12.1-19.2h0m8.4 5.8h0m-5.2-14.9h0m-8.3 28.4h0m8.8-5.5h0m-3-7.2h0m6-7.1h0m-23.4-3h0m10 10.7h0m11.1-18.8h0m-6.1 13.3h0m5.9 18.1h0m-10.9-23.3h0m.2 14.6h0m-1.2 1.5h0m10.7 5h0m-18.9-22.7h0m25.9 18.9h0m-1.8-.8h0m-17.2-11.8h0m-1-15.8h0m12 20.5h0m-3.2-12.5h0m2.3-13.9h0m-15.5 25.1h0m16.1-.4h0m3.3-5.6h0m-16.3 10.6h0m11.1-2.7h0m-4.2-14.2h0m10.9 9.2h0m-3 4.7h0m-5 1.5h0m9.4-20.2h0m-10.4 13.3h0m7.3-4.9h0m-11.5 10h0m6.4 5.3h0m10.1 7.7h0m-7.1-57h0m98.7 29.4h0m11.5 29.4h0m-9.8-5.5h0m.1-9.1h0m-3.6-12.5h0m-9.5 17h0m11.6-13.6h0m-1.5 18.9h0m9.9 11h0m-7-38.8h0m3.8 13.2h0m6.8 12.6h0m-23-2.9h0m12.2 12h0m-5.8 .6h0m15.3-4.4h0m-23.7 2.4h0m21.6-6h0m-10.2-12.6h0m-9.3 2.5h0m13-.6h0m-4.6 14.3h0m2.3 5.7h0m12-17.9h0m-21.5 9.2h0m13.3-15.9h0m5.2 14.2h0m1.6-32.6h0m-3.6 45.5h0m.6-16.5h0m-16.7 14.9h0m-4.5-17h0m11.7 12.3h0m-5.9-31h0m18.3 26.4h0m-1.5 9.4h0m-8.4-7.4h0m-10.2 2h0m1.4-5.3h0m15.5-4.4h0m-17.3 8.8h0m5.1-13.2h0m12.5 18.1h0m-4 5.2h0m-16-20.4h0m10.1 14h0m-10.7-35.5h0m15.4 0h0m5.9 32.9h0m2.6-33.6h0m-20.9 25.6h0m16.5-19.4h0m-5.1-5.3h0m-.1 2.2h0m-7.6 33.5h0m.6-26.7h0m-7.1 22.8h0m8.8 8.3h0m-2.3-23.5h0m11.8 3.1h0m-10.1-5.3h0m17.2-.7h0m-13.1-11.2h0m-2.4 38.6h0m1.8-9.9h0m-1-3.1h0m.7-12.1h0m1.4 14.1h0m-3.7 10.7h0m-9.5-11h0m3.6-25.4h0m17.5 11.2h0m5.5 23.8h0m-24.5-28.8h0m20.1-8.3h0m-23 34.4h0m7.2-8.9h0m2.3-12.7h0m11.3 24.3h0m-13.5-9.2h0m19.8-19.5h0m-16.8 6h0m6.5-22h0m3 45.2h0m-14.9-18.8h0m20.9-14.3h0m-8.4 24.1h0m-11.1-4.1h0m-1.8-24.3h0m14 15.7h0m-2.3-28.4h0m7.6 40.8h0m-4.7-36.6h0m-16.4 30.8h0m13.1 13.1h0m-10-5.5h0m-1.3-2.3h0m3.6-13.9h0m-2 14.9h0m-1.7-46.6h0m21.4 42.5h0m-16.3 9.8h0m15-26h0m-10.1 9.3h0m-5-3.7h0m5.1 9.2h0m-.2-3.2h0m-5.6 11.8h0m-4.2-25.6h0m.1-.4h0m1.6 9.1h0m19.1 14.9h0m-17.9-18.4h0m16.3 .6h0m-6.1-1.1h0m-15.8 .9h0m13.7 14.5h0m-7.6 13h0m-4.2-40.4h0m6.1 40.2h0m-4.9-46.5h0m16.8-5.3h0m.5 30.2h0m-8.7-18.1h0m-3.6 5.6h0m-8.7 25.5h0m17.6-15.6h0m-16.1 2.2h0m0-20.2h0m-2.5 25.3h0m16.5-26.8h0m3.1 24.1h0m-4.5 15h0m3.7-26.1h0m-14.7 10.2h0m-2.6-4.5h0m.1-22.9h0m10.7 11.2h0m-11.5 17.7h0m9.5 5.2h0m7-34.2h0m-3 47.4h0m-9.7-6.9h0m-1.6-9.6h0m12.7 2.3h0m-2.7 0h0m7.5-19.6h0m-5.3 33.1h0m6.1-55.9h0m-15.4 50.8h0m3.1-6.9h0m11.8-10.7h0m-1.2 14.7h0m.6 5.1h0m-18.9-44.4h0m13.5 25.5h0m-7.2 22.5h0m18.7-36.8h0m-11.3 25.7h0m-1.3-18.4h0m9.8 9.2h0m-9.9 8.2h0m-.8-20.4h0m5.7 17.2h0m-15.8-7.8h0m17.9-64.1h0m91.4 162.2h0m2.3 .8h0m2-5.5h0m10.9-5.3h0m-9.8-.9h0m-10.2 8h0m17.4-13.6h0m-14.6 16h0m4.3-20.9h0m11.5 7h0m-19.9 8.4h0m25.1-.7h0m-3.9 2.6h0m-14.3 2.4h0m3.9-.6h0m2.6-3.9h0m-9.2-4.9h0m11 2.7h0m-.3 7.6h0m1.4-28.7h0m-7 11.3h0m-2.9 9.7h0m2 5.2h0m5.2 1.5h0m-6.9-2.2h0m5.4 2.1h0m-3.9-.6h0m8.6-12.5h0m-15.7 3.9h0m.2-12.2h0m1.3 20.1h0m1.8-20.3h0m-3.6 11.1h0m8.6 8h0m-1.1 1.2h0m1.5-1.4h0m15.1 2.3h0m-16 1.7h0m6.5-16.2h0m2.2-1.7h0m-11.3 18.8h0m18.4 .2h0m-20.4-7.9h0m16.1 8.4h0m-19-2.8h0m15.4 1.4h0m-4.4-1.5h0m-7.3-12.1h0m12.6 14h0m8.6-1.9h0m-1 1.3h0m-8.6-10.7h0m-13.1 8.9h0m.7-.9h0m-5.6-.2h0m11.3-17.2h0m-.9-1h0m-1.7 19.8h0m10.4-2.3h0m-6.6-1.2h0m11.6-.5h0m-4.2-5.8h0m-6.4-8.1h0m-7.9 1.4h0m11.6 10.1h0m-13.8-8.2h0m10.8 6.8h0m-7.9-6.8h0m9 12.7h0m-3.8-1.3h0m-2.1-13.1h0m1.8-1.2h0m13.3 7.5h0m-.8 5.7h0m-23.8 2.9h0m15.8 1.1h0m6.6 2.3h0m-21.9-3.6h0m4.3-8.4h0m8-2.4h0m-12.9 10.8h0m6.8-15.5h0m8.1 13.9h0m1.5-9.5h0m7.1 14.8h0m-3.9-15.9h0m-6 13.7h0m-7.6-5.6h0m1.1-6.4h0m-2.2 2.1h0m3.9-6.2h0m17.5 12.7h0m-24.5 3.1h0m5.1 3.2h0m3.4-18.8h0m-3.6 9.9h0m-4.4-2.1h0m-.7 4.6h0m13.6 5.5h0m.4-8.9h0m-3.9-.7h0m4.9 4.4h0m7.1-6.8h0m-9.6 1.9h0m4.6 10.9h0m-11.1-18.1h0m15.2 18h0m-14.5-8.5h0m8.8-4h0m-11.7-17.8h0m108-79h0m4.7-3.9h0m-13.4 20.6h0m16.8 8.1h0m-5.9-7h0m16.6 9.5h0m-18.6-30.8h0m-9 28.7h0m27.3-26.4h0m-9.2 27h0m9.3 .1h0m-21.1-19.8h0m14.1 2h0m-6.1 6.3h0m8.6 2.9h0m-5.1 8.9h0m5.9-33.5h0m-12.2-10.1h0m5.4 19.3h0m-12.7 18.2h0m-2.6 4.2h0m13.5-12.7h0m11.5-35.9h0m-5.5 28.2h0m-10.4 9.9h0m14.2-8.4h0m-.4 23.1h0m-19.4-19.8h0m1.7 19.6h0m14.3-3.9h0m1.8-13.2h0m-20.1 9h0m18.8-6.7h0m-11.4 9.8h0m5.3-14.7h0m-2.8 14.6h0m-9.1-21.8h0m13.4 16.3h0m-6.3 11.4h0m-7.5-27.7h0m-2.7 10.7h0m4.8-13.1h0m-4.1 7.5h0m19.5 10.2h0m-19.5-.1h0m26.6-18.4h0m-14.9-4.9h0m11.1 30.7h0m-3.9-21.6h0m-18 22.6h0m10-3.2h0m1.9-47.7h0m3.7 32.9h0m-1.5 12.3h0m-13.4 4.7h0m18.6-30.1h0m5 22h0m-20.4 10.1h0m14.8 3.3h0m-2.8-22.7h0m.2-4h0m-4.2 6.7h0m4.8 14.4h0m-16.2 3.8h0m21.8-12.3h0m-14.5 14.4h0m6.9-6.7h0m-10.7-7.4h0m-2.8-8.1h0m1.4 .3h0m14.9 17h0m-4.8 .2h0m8.4-17.9h0m-4-1.6h0m1.4-11.4h0m-4.8 22.3h0m-8.6-10.8h0m4.7 2.9h0m-2.6 9.3h0m13.4 3.5h0m-17.6-18.7h0m5.5-5.4h0m8 1.6h0m6.4-8.1h0m.7 2.7h0m-13.7 10.1h0m4.6 16h0m1.2 .6h0m.4-10h0m-3.9 17.9h0m-.1-37h0m-.5 21.5h0m7.9 16.9h0m1.5-51.3h0m-15.9 33.7h0m-2.1-52.3h0m-2.2 51.2h0m-.7-15.1h0m-.2 7.1h0m12.1 9.5h0m-.1 12.6h0m-6.1 4.3h0m16.1-2.3h0m-15-25.7h0m17.2-5.1h0m-19.1-2.7h0m20.4 27.3h0m-7 9.4h0m-17.6-10.8h0m18.3-33.4h0m-16.6 28.7h0m16.4-2.5h0m7.3 6.4h0m-22.9 10.2h0m-4.4-1.5h0m8.7-33.2h0m.7 18.6h0m6.9 .2h0m-4 6h0m5.8-30.1h0m-18.3 19.6h0m13.7-16.8h0m9.2 35.4h0m-16.8-.2h0m12.6 3.1h0m.4-73h0m6.9 36.8h0m-16.2 36.3h0m17-24.7h0m-21.9 6.5h0m16.4 14.4h0m-1.7-17.6h0m-9.3 15.3h0m-2-12.3h0m10.3 10.9h0m-6.3-7.1h0m-4.2 1.1h0m-2-6.7h0m20-20h0m.4 32.2h0m-2.2-20.4h0m-15.3-10h0m9.7 2.7h0m-.4 22.6h0m-16.7-25.6h0m10.7 36.3h0m13-46h0m-21.1 16.3h0m3.5 29h0m2.7-11.2h0m5.8-.7h0m-16.7 9.6h0m7.5-22.1h0m7.9-3.8h0m-4.4-17.6h0m4.8 23.4h0m-10.6 18.9h0m7.9 6.1h0m-4.1-16.7h0m4.5 15.1h0m-5.9-37.8h0m-3.5 37.4h0m19.5-39.9h0m-1.2 13.4h0m-10 25.6h0m6.2-97.7h0m100 122.4h0m-6.5 8.3h0m-3.6-22.7h0m1.9 7.8h0m6.2 11h0m2.6-6.4h0m11.4 5.8h0m-4.7 5.6h0m-16 .1h0m2.8-30.3h0m11.7 11.4h0m-9.9 6.3h0m9-16.9h0m-8.2 1.7h0m1.5 29.3h0m-10.8-5.5h0m4.6-.8h0m9.7-8.3h0m.7 2.5h0m-.6-3.5h0m-3.9 10.5h0m12.7-8.5h0m-19.8-.3h0m14.7 7.5h0m-6.2-11.8h0m-7.6-5.1h0m3.5-.4h0m2.9 4h0m12.6-11.1h0m-22.1 9.9h0m3 14.3h0m18.8 4.4h0m-24.5 .8h0m6.8-4.9h0m10.1-43.2h0m6.7 44.5h0m-22.6-6.6h0m19 12h0m-15.6-31.9h0m5.6-29.5h0m12.5 43.2h0m-13.9 17h0m4.6-4.1h0m-7.1-9.6h0m2.5-9.8h0m-.2-.1h0m-.3 10.4h0m15.9-40.7h0m-19.2 38.4h0m21.6-13.4h0m1.9 27.3h0m-21.7-2.5h0m-1.5-15.6h0m10.2-11.9h0m-7.4-30.5h0m12.2 63.1h0m-17.8-10.9h0m1.2-2h0m5.5-18.7h0m18.2 9.3h0m-2.7 23.5h0m-20.2-29.9h0m6.9 19.9h0m2.2-1.2h0m4.7 0h0m-3.2 2.5h0m-2.7-55.9h0m-3.9 35.4h0m9.8 23.1h0m6.5-37.1h0m-21 41.2h0m11.1-28.4h0m.8 25.5h0m9.5 3.6h0m-9.5-2.8h0m-5.6-56h0m14.1 9.3h0m3.8 26.7h0m-22.5-3.2h0m22.5 19.6h0m-20.5-17.9h0m15.7 19.7h0m-11.4-21.2h0m-6.4 19.1h0m-2.7-37.9h0m1.4 19.3h0m4.9 21.7h0m13.6-14.4h0m-12.4-5.2h0m-5.3 13.2h0m3.9-39.9h0m1.9 25.7h0m-8.8-2.9h0m16.7 26.6h0m-12.3-11.4h0m20.5-9.9h0m-7 22.9h0m-2.7-34h0m1.3 5h0m6.1 30.8h0m-21.6-45.1h0m19.1-3.8h0m-10.2 15.5h0m5.9 28h0m6.5-9.9h0m-11 8.5h0m-1.6 5.6h0m10.2-43.7h0m1.8 31.9h0m1.9-20.3h0m-6.1 9.7h0m.5-3.3h0m2.1-5.3h0m-10.8 17h0m-10.3-.8h0m1.5-46.1h0m21.4 49.5h0m-12.1-4.5h0m12.3 9.8h0m-21.6-3.8h0m3.2 2.3h0m20.8-6.4h0m-6.7-12.7h0m.9 14h0m-14-5.2h0m17.4-8.8h0m4.2 9.2h0m-.4-13.4h0m-15.4-14h0m-9.4 15.2h0m20 12h0m1.5-5h0m-7.4-1.6h0m10.5 18.9h0m-17.1-7.9h0m-4.7 3.9h0m21.7-10.8h0m-1.4 7.6h0m.5-14.3h0m-13.6 14.6h0m3.6 5h0m-3.9 1.4h0m10.8-13.6h0m-21.3 11.7h0m13.7-19.1h0m-4.7 13.1h0m14.6-.7h0m-18.3 9.1h0m-.2-5.5h0m10.5 6.4h0m3.4-17.2h0m3 13.7h0m-14-18.6h0m4.1 13.8h0m9.3 13.1h0m-3.9-23.2h0m-7.1 19.2h0m11.7-4h0m-12 1.3h0m-1.2-4.9h0m-8.7-10.5h0m4 7.5h0m-.4-18.8h0m.4 29.4h0m5-38.2h0m7.3-66.8h0m-7.5 24.6h0m5.4 7.7h0" stroke="#e4231b" stroke-width="5" stroke-linecap="round" fill="none"/>
<path d="M129.75 1488.45V1484.25H172.05V1488.45M234.56 1586.35V1582.15H276.86V1586.35M339.37 1618.22V1614.02H381.67V1618.22M444.18 1607.18V1602.98H486.48V1607.18M548.99 1509.28V1505.08H591.29V1509.28M653.8 1642.59V1638.39H696.1V1642.59M758.61 1539.48V1535.28H800.91V1539.48M863.42 1586.35V1582.15H905.72V1586.35M968.23 1617.59V1613.39H1010.53V1617.59M1073.04 1601.97V1597.77H1115.34V1601.97M1177.85 1473.87V1469.67H1220.15V1473.87M1282.66 1569.68V1565.48H1324.96V1569.68M1387.47 1549.48V1545.28H1429.77V1549.48M1492.28 1682.17V1677.97H1534.58V1682.17M1597.09 1531.77V1527.57H1639.39V1531.77M1701.9 1558.23V1554.03H1744.2V1558.23" fill="none" stroke="#000" stroke-width="1.6"/>
<text x="146.9" y="1486.85" text-anchor="middle" font-size="16.5">***</text>
<text x="251.71" y="1584.75" text-anchor="middle" font-size="16.5">***</text>
<text x="356.52" y="1616.62" text-anchor="middle" font-size="16.5">***</text>
<text x="461.33" y="1605.58" text-anchor="middle" font-size="16.5">***</text>
<text x="566.14" y="1507.68" text-anchor="middle" font-size="16.5">***</text>
<text x="670.95" y="1640.99" text-anchor="middle" font-size="16.5">***</text>
<text x="775.76" y="1537.88" text-anchor="middle" font-size="16.5">***</text>
<text x="880.57" y="1584.75" text-anchor="middle" font-size="16.5">***</text>
<text x="985.38" y="1615.99" text-anchor="middle" font-size="16.5">***</text>
<text x="1090.19" y="1600.37" text-anchor="middle" font-size="16.5">***</text>
<text x="1195" y="1472.27" text-anchor="middle" font-size="16.5">***</text>
<text x="1299.81" y="1568.08" text-anchor="middle" font-size="16.5">***</text>
<text x="1404.62" y="1547.88" text-anchor="middle" font-size="16.5">***</text>
<text x="1509.43" y="1680.57" text-anchor="middle" font-size="16.5">***</text>
<text x="1614.24" y="1530.17" text-anchor="middle" font-size="16.5">***</text>
<text x="1719.05" y="1556.63" text-anchor="middle" font-size="16.5">***</text>
<rect x="88.1" y="1444.1" width="1690.4" height="282.4" fill="none" stroke="#000" stroke-width="1.5"/>
<path d="M88.1 1726.5h-6.5M88.1 1684.84h-6.5M88.1 1643.18h-6.5M88.1 1601.52h-6.5M88.1 1559.86h-6.5M88.1 1518.2h-6.5M88.1 1476.54h-6.5M150.9 1726.5v6.5M255.71 1726.5v6.5M360.52 1726.5v6.5M465.33 1726.5v6.5M570.14 1726.5v6.5M674.95 1726.5v6.5M779.76 1726.5v6.5M884.57 1726.5v6.5M989.38 1726.5v6.5M1094.19 1726.5v6.5M1199 1726.5v6.5M1303.81 1726.5v6.5M1408.62 1726.5v6.5M1513.43 1726.5v6.5M1618.24 1726.5v6.5M1723.05 1726.5v6.5" stroke="#000" stroke-width="1.4" fill="none"/>
<g font-size="17" text-anchor="end">
<text x="78.2" y="1732">0</text>
<text x="78.2" y="1690.34">2</text>
<text x="78.2" y="1648.68">4</text>
<text x="78.2" y="1607.02">6</text>
<text x="78.2" y="1565.36">8</text>
<text x="78.2" y="1523.7">10</text>
<text x="78.2" y="1482.04">12</text>
</g>
<g font-size="18.6" text-anchor="end">
<text transform="translate(154.9 1733.5) rotate(-30)" dy="0.72em">BGN</text>
<text transform="translate(259.71 1733.5) rotate(-30)" dy="0.72em">TREM2</text>
<text transform="translate(364.52 1733.5) rotate(-30)" dy="0.72em">FAP</text>
<text transform="translate(469.33 1733.5) rotate(-30)" dy="0.72em">OLR1</text>
<text transform="translate(574.14 1733.5) rotate(-30)" dy="0.72em">COMP</text>
<text transform="translate(678.95 1733.5) rotate(-30)" dy="0.72em">NOX4</text>
<text transform="translate(783.76 1733.5) rotate(-30)" dy="0.72em">CTHRC1</text>
<text transform="translate(888.57 1733.5) rotate(-30)" dy="0.72em">INHBA</text>
<text transform="translate(993.38 1733.5) rotate(-30)" dy="0.72em">MSR1</text>
<text transform="translate(1098.19 1733.5) rotate(-30)" dy="0.72em">ITGBL1</text>
<text transform="translate(1203 1733.5) rotate(-30)" dy="0.72em">COL1A1</text>
<text transform="translate(1307.81 1733.5) rotate(-30)" dy="0.72em">RCN3</text>
<text transform="translate(1412.62 1733.5) rotate(-30)" dy="0.72em">ASPN</text>
<text transform="translate(1517.43 1733.5) rotate(-30)" dy="0.72em">MS4A14</text>
<text transform="translate(1622.24 1733.5) rotate(-30)" dy="0.72em">SPP1</text>
<text transform="translate(1727.05 1733.5) rotate(-30)" dy="0.72em">THBS2</text>
</g>
<text transform="translate(26 1597.4) rotate(-90)" font-size="17.76" text-anchor="middle">The expression levels</text>
<text transform="translate(43.2 1599.4) rotate(-90)" font-size="16.6" text-anchor="middle">Log<tspan font-size="13.5" dy="5">2</tspan><tspan dy="-5" dx="1.5" font-size="19.5">(</tspan><tspan dx="3">TPM+1</tspan><tspan dx="5" font-size="19.5">)</tspan></text>
<rect x="1648.2" y="1460" width="15" height="14.6" fill="#2b4d8b" stroke="#000" stroke-width="1.2"/>
<rect x="1648.2" y="1476.8" width="15" height="14.6" fill="#e4231b" stroke="#000" stroke-width="1.2"/>
<text x="1671.7" y="1473" font-size="18">T2</text>
<text x="1671.7" y="1489.7" font-size="18">T3&amp;T4</text>
</g>
<g font-family="'Liberation Sans', Arial, Helvetica, sans-serif">
<path d="M108.6 2084.9v-173.06h42.3v173.06zM213.08 2084.9v-77.38h42.3v77.38zM317.56 2084.9v-28.29h42.3v28.29zM422.04 2084.9v-42.64h42.3v42.64zM526.52 2084.9v-101.71h42.3v101.71zM631 2084.9v-21.63h42.3v21.63zM735.48 2084.9v-64.69h42.3v64.69zM839.96 2084.9v-44.72h42.3v44.72zM944.44 2084.9v-43.26h42.3v43.26zM1048.92 2084.9v-32.66h42.3v32.66zM1153.4 2084.9v-144.14h42.3v144.14zM1257.88 2084.9v-94.02h42.3v94.02zM1362.36 2084.9v-79.04h42.3v79.04zM1466.84 2084.9v-11.65h42.3v11.65zM1571.32 2084.9v-86.53h42.3v86.53zM1675.8 2084.9v-51.79h42.3v51.79z" fill="#2b4d8b" stroke="#000" stroke-width="1.7"/>
<path d="M150.9 2084.9v-182.42h42.3v182.42zM255.38 2084.9v-88.4h42.3v88.4zM359.86 2084.9v-35.15h42.3v35.15zM464.34 2084.9v-51.79h42.3v51.79zM568.82 2084.9v-121.06h42.3v121.06zM673.3 2084.9v-28.08h42.3v28.08zM777.78 2084.9v-78.83h42.3v78.83zM882.26 2084.9v-56.99h42.3v56.99zM986.74 2084.9v-50.34h42.3v50.34zM1091.22 2084.9v-42.02h42.3v42.02zM1195.7 2084.9v-156.42h42.3v156.42zM1300.18 2084.9v-98.59h42.3v98.59zM1404.66 2084.9v-94.22h42.3v94.22zM1509.14 2084.9v-14.56h42.3v14.56zM1613.62 2084.9v-98.38h42.3v98.38zM1718.1 2084.9v-64.27h42.3v64.27z" fill="#e4231b" stroke="#000" stroke-width="1.7"/>
<path d="M129.75 1911.84v-1.04m-4.5 0h9M172.05 1902.48v-2.08m-4.5 0h9M234.23 2007.52v-1.04m-4.5 0h9M276.53 1996.5v-2.08m-4.5 0h9M338.71 2056.61v-1.04m-4.5 0h9M381.01 2049.75v-2.08m-4.5 0h9M443.19 2042.26v-1.04m-4.5 0h9M485.49 2033.11v-2.08m-4.5 0h9M547.67 1983.19v-1.04m-4.5 0h9M589.97 1963.84v-2.08m-4.5 0h9M652.15 2063.27v-1.04m-4.5 0h9M694.45 2056.82v-2.08m-4.5 0h9M756.63 2020.21v-1.04m-4.5 0h9M798.93 2006.07v-2.08m-4.5 0h9M861.11 2040.18v-1.04m-4.5 0h9M903.41 2027.91v-2.08m-4.5 0h9M965.59 2041.64v-1.04m-4.5 0h9M1007.89 2034.56v-2.08m-4.5 0h9M1070.07 2052.24v-1.04m-4.5 0h9M1112.37 2042.88v-2.08m-4.5 0h9M1174.55 1940.76v-1.04m-4.5 0h9M1216.85 1928.48v-2.08m-4.5 0h9M1279.03 1990.88v-1.04m-4.5 0h9M1321.33 1986.31v-2.08m-4.5 0h9M1383.51 2005.86v-1.04m-4.5 0h9M1425.81 1990.68v-2.08m-4.5 0h9M1487.99 2073.25v-1.04m-4.5 0h9M1530.29 2070.34v-2.08m-4.5 0h9M1592.47 1998.37v-1.04m-4.5 0h9M1634.77 1986.52v-2.08m-4.5 0h9M1696.95 2033.11v-1.04m-4.5 0h9M1739.25 2020.63v-2.08m-4.5 0h9" fill="none" stroke="#000" stroke-width="1.2"/>
<path d="M118.6 1867h0m-.4 34.4h0m16.2-3.6h0m-9.8-11.6h0m7.4 6.7h0m-11.7 4.7h0m15.6-1.2h0m7.9 9.9h0m-15.5-15.8h0m-5.1 16.4h0m5.5 3.3h0m-4.2 3.7h0m5.9-30.5h0m1 1.9h0m-6.7 29.3h0m-5.4-4.1h0m15.5-.3h0m3.1-13.3h0m-2.1-21.5h0m1.7 10.6h0m-11.8 9.7h0m-4.3-32.8h0m15.6 45.8h0m-6.4 1.3h0m-1.1-17.3h0m9.3 .7h0m-13.2 10.6h0m3.1-21.7h0m2.9 3.1h0m-2.2 .7h0m-7.4 13.1h0m-1.6 1.4h0m20.2-14h0m-16.3 23.2h0m17-39.7h0m-11 38.3h0m3.6-16.8h0m-12.3 8.3h0m8.5 5.8h0m-11.8-17h0m20.5 14.7h0m-17.8 4.8h0m15-37.5h0m-12.3 16.4h0m-1.6 17.1h0m8.3 3.9h0m9.4 0h0m1 6.4h0m-13.2-13.6h0m-1.8 13h0m-5.4-4h0m22.4 1.1h0m-26.5-3.6h0m6.4 7h0m16-3.6h0m-3.5-3h0m-8.7-3.7h0m-6.4-5.8h0m12.8-1.7h0m3.8 14.1h0m-20-9.8h0m11.6 1.9h0m13 8.8h0m-4.8-30.1h0m-7.5 12.6h0m-6.7-3.5h0m-3.8 14.9h0m9.8-5.7h0m3.9 7.6h0m-5.5 0h0m16-3.8h0m-19.9 10.3h0m-6.4-15.8h0m15 3.6h0m-15 8.8h0m3.7-1h0m9.9-18.5h0m13.1 7.5h0m-20.5-10.2h0m9.7 12h0m1 9.4h0m-10.4-4.7h0m4.8-20.7h0m-11.4 28.7h0m10.8 1.6h0m-4.3-24.8h0m-4 4h0m2.9 15h0m8.6-7.4h0m3.4-3.7h0m-12.2 13.3h0m14.1-39.9h0m-7.6 14.7h0m-10.3 2.2h0m9.7 25h0m-9-10.9h0m20.1 10.8h0m2.9-14.5h0m-8.6-1.9h0m-6.6 4h0m-7-16.5h0m5 27.2h0m-7.9-12.8h0m12.1-9.3h0m-6.6 5.8h0m10.4 7.5h0m-6-2.5h0m15.9 7.6h0m-20.5-23.1h0m10.1 14.6h0m5-1.8h0m-9.9 3.4h0m-9 6.8h0m21.9 .3h0m-4.9-25.6h0m-17.3-7.4h0m18.4 21h0m-6.2-10.7h0m8.4 15.8h0m-14.7-3.5h0m18.7-5.4h0m-3.6 19.2h0m-14.1-31.7h0m-2.1 19.4h0m5.4 .3h0m7.2 14.7h0m3.5-22.6h0m-19.9 10.4h0m2.3-30.9h0m-2.8 37.7h0m23.1 2.8h0m-21.2-25.8h0m4 27.4h0m11.1-1.3h0m-6.9-26.9h0m2.8 20.5h0m11.9 8.4h0m-12.6 1.1h0m5.6-8.9h0m-7.2 7.3h0m6.3-41.6h0m2.2 5.6h0m-9 27.7h0m-11.8 5.2h0m5.1-30h0m8.6 11.2h0m5.5 3.1h0m6.9 18.5h0m.5-4.2h0m-17.8-15.8h0m12.2 21.4h0m1.8-29.2h0m-12.1 25.6h0m7.2-23.8h0m-17.5-.6h0m12 24.7h0m5.3-6h0m3.8-31.1h0m-2.3-7.6h0m-2.7 43.6h0m-13.5-30.1h0m19 11.5h0m-1.5 22.4h0m-4.6-12.2h0m-12.6 .3h0m13.1-21.2h0m-1.1 20.2h0m-2.8 8.1h0m-10.9-8.7h0m-.5-36.5h0m16.4 12.5h0m3.3 35.4h0m-11.7-27.1h0m-2.4 27.8h0m-5.3-2h0m19.4 4.8h0m.5-15.7h0m-10.4-14.6h0m12.6 14h0m-19.7-15.8h0m8.7 21.7h0m-4.7-6.7h0m18.2-9h0m-16.4 24.5h0m2.3-17.9h0m12.2 14.8h0m-11.1-5.9h0m1.5-17.1h0m8.2 20.7h0m-14.9 2.9h0m9.8-18h0m-7-6.9h0m6.7 24.2h0m-6.9-2.8h0m10.7-31.6h0m-4 31.6h0m-4.9 2.3h0m-6.2-8.6h0m-3.5 5.1h0m18.9-42h0m-13 36.7h0m-6.8 .7h0m10.2 1.5h0m-4.3 8.7h0m4.4-33.3h0m5.3 8.1h0m-14.8 12h0m3.6 8.7h0m3.9-3.7h0m-.3-17.2h0m10.3-36h0m-12.3 .2h0m123.4 137h0m.5 8.8h0m-16 1.3h0m3.1-7.3h0m13.3 10.3h0m-24.7 7h0m21.7-27.5h0m-22.8 17.9h0m-1.9-.8h0m3.5-23.4h0m.2 28.9h0m14.8-3h0m-1.1-38h0m-15.5 17h0m11.3 18.8h0m2.2 3.5h0m-13.8-7h0m3.9-3.2h0m8.8-15.7h0m4.4 15.6h0m-5.2 11.4h0m-10.2 .1h0m2.2 .6h0m-4.5 .8h0m16.2 2.4h0m6.3-16.2h0m-9.6-7.9h0m11.2 9h0m-2.3 14.4h0m-5.5-3.5h0m-9.4 3.6h0m3.9-15.4h0m10.1 .8h0m.6 10.2h0m-14.6-13.3h0m13.3 13.5h0m-1.8-6.3h0m.1 14.4h0m-4.3-1.6h0m-10-1.6h0m12.6-5.3h0m-.7-17.3h0m-4.1 25.5h0m-11.1-32.4h0m21.4 28.4h0m-7.1-34.7h0m-13.4 26.3h0m14.8 10.6h0m8.8-10.1h0m1.1 9.7h0m-19.5-15.9h0m-2.4 5.3h0m2-.8h0m16.8-15.2h0m-13 9.9h0m8.6 11.1h0m-16.2-21.4h0m15.7 21.9h0m-13.9 2.2h0m4-40.9h0m4.8 26.4h0m11.5 16.1h0m-6.7-6.2h0m2-24.6h0m-11.6 13.1h0m3.4 15.1h0m0 7.3h0m-7.8-13.8h0m3.5-13.8h0m-4.4 22.6h0m2.2-28.9h0m10.3 7.7h0m1.8 1.9h0m-9.8-13.5h0m-.7 27.2h0m-6.8-29.2h0m7.2 30.3h0m.1-.6h0m.6 9.2h0m3-33.8h0m-11-1.1h0m14.7 16.1h0m.9 11.7h0m-6.6-.8h0m14.6-17.6h0m-7 15.3h0m6.6-27.8h0m-20.8 38.2h0m21.9-16.1h0m-1.2 7.3h0m-8.2-22.7h0m-9.9 24.8h0m-.2-17.7h0m-1.8-4.5h0m12.9 17.7h0m9.6-5.8h0m-16 3.3h0m-4.7-6.3h0m-.2 17.8h0m-2.6-36.2h0m23.2 31.3h0m-6.7 4.9h0m-8.8-3.1h0m3.1-3.6h0m.3 9.1h0m5.3-4.9h0m.4-22.5h0m-6.9 27.5h0m-10-4h0m11.7-7.3h0m2.1-2.9h0m-13.6-16.7h0m11.9-9.9h0m-3.1 13.7h0m-8.3 11.1h0m9.2 4.9h0m12.5-18h0m.1 17.7h0m-8.9-3.5h0m-6.6-14.3h0m15.7 6.1h0m-1.5-2.1h0m-10.3-3.8h0m-4.8 25h0m14.3 3.8h0m3.3-31.6h0m-6.8 31h0m-5.1-4h0m2-1h0m4.7-14.4h0m-17.4 12h0m21.9-19.2h0m-3.1 20h0m2.2-.3h0m-24.2-7.7h0m24.2 15.4h0m-14-37.7h0m5.3 29.6h0m-15.1 3.2h0m-2 4.3h0m11.7-12.7h0m6.8-3.7h0m-17.2 17.8h0m10.4-26.6h0m14.6 23.7h0m-13.1-13.2h0m-2.4-.4h0m4-11.6h0m-2.2 23.4h0m9.1-45h0m-3.3 29.1h0m-14.4 5.2h0m6.3-9.6h0m16.5-8.8h0m-8.5 28.9h0m-5.6-10.1h0m.6 8h0m-6.8-8.3h0m14.9 7.3h0m-3.9-30.8h0m-16.4 26.9h0m26.4-1.6h0m-11.9-26.2h0m-8 9.5h0m12.6 16.2h0m-6.9-14h0m5.3-3.8h0m-5.3 6.4h0m13.8 16.1h0m-12.6 8.7h0m10.6-22.2h0m2.5 22.2h0m-23.3-31.2h0m8.8 6.8h0m14 7.3h0m-9.6-3.6h0m4.5 16.9h0m.8-2.5h0m-12.6-12.7h0m8.2 .1h0m-6.5-6.3h0m11.4 25.4h0m-7.2-39.8h0m-4.3 13.6h0m13.3 3.5h0m-6.3-7.4h0m-17.4 19.5h0m11.7-8.2h0m-2.3-20.2h0m6.3 5h0m6.9 33h0m-14.5-12.2h0m2.2-12.3h0m14.3 11.6h0m-25.3 5.2h0m.1 5.8h0m1.8-31.3h0m6.8 33.2h0m16.7-44.9h0m-1.1 40h0m-18.3-12.1h0m10.7-3.5h0m6.3 12.6h0m-7.5-6.7h0m-8.2 12.4h0m6.4-20.6h0m9.5 9.6h0m4.1 7.4h0m-4.8 .4h0m-2.7-8h0m-12.2-48.2h0m7.9 8.3h0m96.2 88.3h0m-4-29.3h0m19.8 33.2h0m-4.7 9.2h0m-1.3-10.7h0m-8.7 6.5h0m5.4-19h0m-2.8 23.8h0m-7.9-21.6h0m7.5 21.2h0m4.8-17.3h0m-.1 19.2h0m-6.1-16.2h0m17.8 14.8h0m-1.2-9.9h0m-22 5.3h0m-1.2-5.1h0m-2.9 4.4h0m11.9-14.4h0m-6.5 6.4h0m-4.3-22.5h0m7.6 31.7h0m-4.1-14.2h0m2.4 18.1h0m-.4-14.8h0m2.5-22.2h0m2.5 34.6h0m9.2-36.5h0m7.1 36.6h0m-19.5-13.7h0m7.6-16.3h0m-6.8 6.7h0m-7.5 22.8h0m21.9-44.1h0m-10.7 46.4h0m1.2-32h0m-.9 12.6h0m-7.2 13.8h0m16.9-1.6h0m-10.8 3.7h0m2.1-38.1h0m10.9 36.1h0m-2.1 3.7h0m-19.2-2.7h0m14.9-27.8h0m-12.7 31.4h0m9.8 1.9h0m9.6-4.7h0m2.3-11.2h0m-7.2 12.1h0m5.7-6.5h0m-10.3-32.2h0m-8.8 32.6h0m.9-11.2h0m9.5 22.2h0m-6.3-4.5h0m10.9-1h0m-16.9 2.1h0m21.8-4.2h0m-8.9-8h0m-16.7 2.6h0m8.8 10.6h0m8.6-20.1h0m6.1 19.1h0m-13.2-14.2h0m-5.5 12.4h0m-2.1-18.4h0m15.2 2.3h0m-14.5 12.6h0m16.9-20.9h0m4.5-5.3h0m-10 15.6h0m10.8-.6h0m-8.6 17.5h0m8.4 1.4h0m-1.8-22.9h0m-21.8 2.6h0m-2.7 3.1h0m23.3 9.1h0m-2.7-23.3h0m-20.6 28.7h0m6.5 .6h0m18.5-24.7h0m0 24.9h0m-6.9-21.5h0m-.3 5.2h0m6.5 6.2h0m.7 5.1h0m-24.8 2.6h0m7.3-20.5h0m-2.2 25.1h0m12.9-14.9h0m6.8 10.3h0m-25.5-6.4h0m17.9-15.1h0m-10.1 19.4h0m-2-8h0m-1.2-25h0m-1.9 36.9h0m11.1-11.9h0m-6 10h0m-5.4-7.9h0m15.9 2.1h0m-9.9-13.5h0m19.8 16.4h0m-25.4-45.1h0m10.5 50.3h0m5.2-5.2h0m8.4-6.9h0m-9.4 3h0m.4-9.9h0m-15.5 22h0m4.5-29.6h0m10.6 23.2h0m-.5-9.2h0m-3.5-1.5h0m-3 9.5h0m7.8-3.3h0m-8.8-1.7h0m-1 7.2h0m4.7-12.6h0m-3.9-3.2h0m-6.7-25.7h0m.2 46.9h0m23.5-9.8h0m-5.6-26h0m-19.8 25.2h0m3.1-28.3h0m12.6 18.3h0m.9 3.3h0m2.9-16.1h0m-15.6 22.4h0m17.6-29.1h0m-19.7 15h0m12.4 19.7h0m-7.3-19.4h0m13.9 19.7h0m-12.8-32.8h0m10.3 37.5h0m-18.5-8.2h0m17.6-1h0m9.8 9.6h0m-11.8-29.6h0m7.5 23.8h0m-14.1-32.5h0m-7.9 31.3h0m19.4-6.1h0m3.1 2.8h0m-12.5 3.8h0m11.9-5.3h0m-15.5-27.9h0m2.5 9h0m5.6 .9h0m-3.9 23.5h0m1.3-34.8h0m9.1 31.1h0m-9.9-5.1h0m5.5-15.5h0m1.4 16.3h0m-8.3-12.7h0m6.4-.1h0m.7 22.8h0m-3.8-.7h0m-6.8-3.4h0m13.1 2.7h0m-.7-40.7h0m3.3 5.1h0m-4.3 35.8h0m5-5.4h0m-4.6 11.1h0m-8.8-16.9h0m7.7-14.4h0m-14.8 17.3h0m1.7 9.5h0m17.7-1.1h0m-1.9-8.1h0m-16.4 5.4h0m-2.4-11.2h0m9.5 19.5h0m-8.3-39.3h0m4.3 26.2h0m-.6-1.3h0m15.8 14.3h0m-9.8-13.4h0m1.2 8.1h0m12.3 2.5h0m-12.2-18.1h0m3.5 16h0m-14.6-33.6h0m9.2 31.3h0m-8.2 1.2h0m12.6-5.1h0m-13.7-5h0m1.9-4.8h0m11.6 2.4h0m-.2-13.4h0m10.3 17.3h0m-10.5-.5h0m-9.8 9.9h0m9.6-.2h0m-14.2-26.3h0m20.4 22.9h0m-17.5 2.4h0m-2.9-21.2h0m14.7 24.4h0m2.5-20.9h0m-10.4 6h0m5.8 6.1h0m8.1 11.9h0m-13.4-16.2h0m9.3-64.3h0m-.9 8.3h0m-4.8 11.5h0m92.8 29h0m25.6 3.6h0m-17.6 4.7h0m-4.2 2.9h0m21-11.2h0m-11.5-10.1h0m-5.4 13.5h0m-3.2 12.4h0m2.8-50.2h0m8.5 21.9h0m4.4 27.7h0m-9.1-31h0m-10.7-20h0m3.4 24.7h0m19.1 13.5h0m-16.4-11.1h0m-4.4 8.1h0m15.4 12.2h0m-.4-31.5h0m.2-7.6h0m.1 36.1h0m6.6-42.5h0m-9.3 44.2h0m5.7-22.8h0m-3.2 16.6h0m-2 9.9h0m-10.1-18.8h0m8.2 18.5h0m5.6 1.9h0m3.5-23.8h0m-18.5 9.7h0m4.2-17.4h0m1.2 31.2h0m12.5-33.9h0m-14.3 10.4h0m9.7-6.6h0m-2.6 14h0m-14.6-28.7h0m20.4 36.8h0m-3.2 2.1h0m-6.2-6.3h0m-11.5 8.8h0m6.2-3.1h0m-1.4-24.8h0m4.7 10.4h0m11.6-13.2h0m-4.7 16.8h0m-1.9 16.8h0m-5.5-11.2h0m9.3 11.3h0m-9.4-15.5h0m11.2 15.2h0m-7.2-13.3h0m-12.2-31.9h0m13.4 34.7h0m8 4.2h0m-16.4-8h0m-2.8-6.4h0m4.6 8.6h0m8.7-16.1h0m11.1 30.6h0m-1.8-22.4h0m-24 17.1h0m16.3-13.4h0m-2.5-6.8h0m-2.7-.3h0m-3.1 20.4h0m-8.6 3.1h0m11-40.8h0m5.4 28.5h0m7.8-28.9h0m-2.6 42.6h0m-6.7-24.9h0m3.8-2.7h0m-1.1 8.7h0m-7.7-24.7h0m8.8 33.1h0m-16.3-15.9h0m20.8 11.3h0m-24.4 12.5h0m10.9-13.5h0m-6.4-22.2h0m5.3 11.3h0m.8 28h0m-7.6-5.1h0m-.3 2.9h0m-.2-19.4h0m-.3 11.7h0m-1.1-29.5h0m18.7 39.6h0m.6-7.3h0m-19.9-15.7h0m18.8 18.6h0m7.9 3.3h0m-21-32h0m7.8 22.7h0m-3.5-15.5h0m-10.7 16.8h0m21.9-21.2h0m-9.2 29h0m3.2-22.9h0m-6 24.1h0m6.8-12.8h0m4.8-6.2h0m5.1 15.9h0m-22.8-16.5h0m8.9-5.9h0m-1.2 21h0m.4-17.6h0m-4.3 9.3h0m16.9-20.9h0m-23.4 22.2h0m-1-7.3h0m2.5 8.5h0m-1.6-14.9h0m24.4 22.3h0m-16.1-14.3h0m8.3 .7h0m-14.3-.6h0m-2.6 16.2h0m14.4-12h0m9.1 10.4h0m-17.1 2.9h0m1.9-3.4h0m-7.6-2.1h0m2.9-23.8h0m20.1 28.6h0m-17.9-38h0m12.9 16.4h0m-14.9 7h0m20.4-27.7h0m.3 32.7h0m-17.5 7.5h0m-6.4-11.4h0m12.4 3.3h0m3.3-26.9h0m-7.6 26h0m-6.4 10h0m12.5-30h0m-11.6 12h0m2.7-6.8h0m-7 23.1h0m11.5-35.5h0m-7.5-5h0m10.1 12.8h0m12.5 21.3h0m-19.6-15.3h0m.7 2.7h0m-6.5 22h0m22.1-5.9h0m-10.2-31.7h0m12.7 22.1h0m-10.6-19.4h0m8.7 32.9h0m-1.7-29.6h0m-21.1 1.7h0m2.9-.8h0m9.4 2.3h0m-13.6 27.1h0m20.4-12.2h0m6-16.2h0m-8.5 26.4h0m-3.4-40h0m-6.4 38.8h0m13.6-41h0m3.8 26.8h0m-19.2-7.1h0m13.9 2.8h0m-15.9 4.3h0m12.2 .2h0m8.6 12.8h0m-14.4-23.4h0m3.2 17h0m-4.3 .7h0m8.7-40h0m-17 40.5h0m9.9-5.1h0m1.3-7.9h0m8.8 4.5h0m-5.9-19h0m11.2 27.3h0m-5.2-2.5h0m-13.1-10.7h0m-4.3 18.5h0m11.1-16.2h0m-7.4 1.6h0m20.3 12.6h0m-16.2-33.4h0m3.5 40.8h0m8.2-2.5h0m-4.5-12.2h0m-3.4 6.7h0m-13.5-16.5h0m16.4-31.7h0m-3.5 44.1h0m1.2 10.3h0m-8.7-14.9h0m-3.6-34.4h0m20.3 19.9h0m-7.3 25.9h0m3.1-23h0m-2.4 8.4h0m8.6-21.5h0m-14.7 29.5h0m1.1 8.1h0m2.9-12.3h0m11.5 6.1h0m-15.7-16.6h0m6.8-4.9h0m-11.7 30.8h0m12.8-75.2h0m-12 10.4h0m117.9-28.4h0m-1.2-47.2h0m3.6 81.3h0m-3.9-55.7h0m-10 43.1h0m1.1 8h0m15.6-63.1h0m-4.5 35.9h0m1.6-25.9h0m4.6 44.8h0m-22.2-49.2h0m18.1 21.8h0m-10.6 27h0m5.1-14.2h0m-2.8-5.2h0m-6.6-50.1h0m-7.7 69.9h0m15.9-34.5h0m-13.6-.1h0m11-25h0m-14.2 64.6h0m13.2-8.5h0m6.8 11h0m.2-.2h0m-12.2-39.7h0m11.8 35.6h0m-13.3 .6h0m14.6-50.8h0m-9.9 28.4h0m2.7-43.3h0m14 71.2h0m-17-23h0m-7.9 5.6h0m8.8-58.2h0m15.9 71.7h0m-14.1 1.1h0m-3.4-6.9h0m-8.5-6.5h0m24.9 18.4h0m.6-1.7h0m-22.3-7.3h0m-3.8-24.3h0m22.9-19.9h0m-10.5 47.6h0m-9-13.8h0m-3-21.4h0m1.8-23.2h0m23 9.9h0m-10-23.7h0m-12 52.4h0m10.2-46.2h0m6.8 46.2h0m-15.8-21.8h0m3.8 33.2h0m7.3-3.2h0m-8.8-.1h0m13.9 8.8h0m-17 10.8h0m22.3-45.8h0m1 36.1h0m-3.7-33.8h0m-4.1 36.5h0m-2.4-8.8h0m-10 16.1h0m18.6-5.5h0m-7-23h0m-11.4-34h0m17.5 24.7h0m-8.5 2.2h0m9.9-3.5h0m-7.7-46.3h0m-10.2 40.7h0m-1.8 28.8h0m2.4-51.5h0m-2.1-4.2h0m17.6 9.6h0m-13.2 22.1h0m11.4-4.7h0m-11.7-19.9h0m3.3 20.5h0m3.7 37h0m7.9-29.9h0m-9.4 18.4h0m-9.5-67.8h0m7.7 63.7h0m7.7-52h0m-8.2 28.4h0m-7.6-3.1h0m18.7-14.4h0m-9.2 47.5h0m9-34.6h0m-1.5 14.2h0m-23.3 34h0m5.8-9.4h0m-4.9-24.6h0m16.5 27.5h0m4-33.9h0m-7.6 21.7h0m11.3 6.2h0m-20 8.9h0m3-65.1h0m5.9-13.3h0m-9.5 61.6h0m15.1 9.9h0m-4.9 6.8h0m-5.5-26h0m3.7-23.9h0m-7.6-14.9h0m20.2 28.4h0m-.9 25.7h0m-18-7h0m16.6 6.2h0m-.1-8.2h0m-3.5-39.1h0m-2.8 40.1h0m7.1-15.3h0m-9.9-28h0m-2.4 40.8h0m6.4-6.1h0m3.1-.1h0m-15.4-40.7h0m7.8-3.4h0m-12.5 22h0m11.2 45.7h0m12-17h0m-24.9 20.4h0m7.5-69.6h0m-.8-9.9h0m14.7 47.5h0m-2-23.2h0m-2.8 42.9h0m-15-66.8h0m26 65.7h0m-20.7-36.7h0m16.8 25.6h0m-21.8-7.7h0m16.5-7.2h0m3.7 11.3h0m-6.5-18.6h0m-9.6-29h0m4.8 52.8h0m14.3 4.7h0m-5.5-46.8h0m-13.3 40.7h0m14.6-26.9h0m-10.7 44.5h0m1.7-16.9h0m-9 29.1h0m22.7-16.6h0m-21.4 12.9h0m-3.6-42.1h0m2.3-8.8h0m19.6-23.7h0m-16.1 44.1h0m12.5-40.1h0m-12.5 68.9h0m7.3-48.8h0m-1.1 51.9h0m-.6-32.8h0m13 18.7h0m.2-48.7h0m1.4 9.9h0m-23.9 18.6h0m20.8 34.8h0m-17.8-47.2h0m.4-14.7h0m1 21h0m-.9-43.7h0m9.9 80.9h0m-2.9-28.1h0m-7.1 20.8h0m-2.1-38h0m2.9 34.6h0m9-10.2h0m-6.9-13.7h0m.3 27.6h0m6.6-13.8h0m-6.4-10.5h0m2.9 26.1h0m9.9-21.8h0m-14 12h0m-5.6-2.1h0m11.5-22.4h0m12.6 24.7h0m-15.6 14.4h0m-9.1 7.3h0m7.3-57.9h0m11.3 55.3h0m-12.8-36.3h0m8.1 38.2h0m-3.2-73.4h0m1.3 71.1h0m-4.7-18.2h0m-7.3 8.8h0m7-6.3h0m8-53.9h0m-10.1 50.3h0m-3.2-38.2h0m17.8 28.1h0m-9.4-38.8h0m.5 .5h0m11 57h0m-7.3-2.9h0m-8.9 10.5h0m-3.6-9.9h0m21.9-4.7h0m-12.9-19.7h0m-1.5-4.2h0m-9.7 26.1h0m3.9-4.6h0m13.8-92.1h0m-16.2 16.6h0m19 10.4h0m87.5 153.9h0m21.4-9.4h0m-15.2 7.2h0m8.4 13.8h0m2.4-12.4h0m3.6 3.4h0m-15.1-27.4h0m-3.2-2.1h0m19.3 13.4h0m-14.4 7.6h0m-10.4 4.8h0m11.4 10h0m-10.6-1.6h0m22.4-14h0m-2.7 4.1h0m-11.4-12.1h0m11 3.3h0m1.5-4.1h0m-5.3 1.5h0m7.9 25.8h0m-12.8 .9h0m-4.6-14.1h0m6.6 15.8h0m-6.2-1.4h0m-5.3-.3h0m16.1-7.6h0m1.4 9.2h0m-1.8-35.6h0m-2.4 35.9h0m-3.3-33.7h0m12.3 7.9h0m-18.1 5.7h0m9.1 9.9h0m-4.2-7.7h0m-1.6 11.7h0m-9.8-1.4h0m12.3-.4h0m-1.7 2.8h0m-9.2 3.8h0m-2.7-11.8h0m5.9-22.4h0m14.7-5.3h0m-6.7 37.9h0m.6-37.1h0m7.1 37.6h0m3.7-7.9h0m-20.1 6.3h0m8.1-25.7h0m-3.6 15.6h0m-7.6-7.8h0m12.5 13.4h0m-5.1 .8h0m2.4 5.1h0m-4.2-4.7h0m-6.7 2.3h0m10.5 2.5h0m13.4-21.1h0m-18.4 19.7h0m-2.3-3.8h0m7.5-18.3h0m-8.9 2.6h0m-.4 21h0m2.5-18h0m-1.3 15.1h0m22.9-6.1h0m-13.5 9.9h0m11.5-2.9h0m-13.3 1.1h0m-4 2.5h0m7.2-7.7h0m5.4 3.5h0m-6.4-15.9h0m10.3 12.8h0m-19.6 3.7h0m22-21.9h0m-12.1 5.5h0m8.2 20.7h0m-9.5-30.3h0m4.3 25h0m-12.8-21.4h0m6 6.4h0m2.9 7.4h0m13.8-.8h0m-18.4-1.7h0m-1 13.8h0m14.9 1.7h0m1.8-33.4h0m-5.2 32.9h0m-13-41.3h0m11 28.3h0m7-17.5h0m-4.1 26.9h0m1-17.3h0m-14.7 2.6h0m-3.4 17.2h0m18.5-7.4h0m-14-21.1h0m15.4 7.2h0m-7.1 16.8h0m2.6 5.1h0m-4.8-3.4h0m6 3.5h0m-4.8-11.7h0m-14.9 11.1h0m13.2-7.2h0m-3-8.9h0m-7.9 15.1h0m6.5-16.7h0m14.4-11.7h0m-5.7 16.2h0m-7-6.6h0m6.9 21h0m-16.5-33.1h0m19.4-2.6h0m-2.8 21.1h0m-15 10.5h0m.8-37.5h0m2.3 9.8h0m.3 25.2h0m20.7-3.5h0m-4.5-9.9h0m-4 3.8h0m-3.5-3.2h0m10.8 16.8h0m-15-15.2h0m2.2-28.1h0m-3 37.5h0m10 2.4h0m-18-10h0m14.5-6.6h0m-9 5.2h0m-5.1-7.1h0m20.7 8.4h0m1.4 13.8h0m-11.6-31.6h0m-.7 19.3h0m-8.3-27.6h0m22.6 31.3h0m.6-9.1h0m-4.5 9h0m-2.4 .5h0m-4-14h0m-4.2 21h0m-4.3-11.7h0m9.2-18.9h0m-10.3 34.5h0m14.9-13.6h0m-5.1-19.2h0m-9.1 22.1h0m7.7-19.7h0m9.4 20.3h0m-1.5-14.1h0m-14.8 2.9h0m5.1 16.2h0m-5.6-30.6h0m-5 14.5h0m6.9 8.1h0m7.9-2.3h0m-3.9 7.5h0m.9-5.2h0m1-8.4h0m12.7 19.8h0m-15.8-19.8h0m7.5-5.2h0m7.2-4.8h0m-7.2 7.5h0m-.3 24h0m.1-7h0m3.3-13.6h0m2.2-11.1h0m-19.3 19.9h0m-5.5 4.7h0m10.1 6.2h0m11.3-10.5h0m-11.7 9.9h0m9.7-7.3h0m-3.7-30.7h0m4.2 37.1h0m-4-9.1h0m-3.4-2.4h0m-10 .4h0m13.1-10.6h0m-2 17.7h0m13.7-14.8h0m-22.8 3.3h0m17.1-3.9h0m-16.4-7.3h0m12.3 27.6h0m-8.2-32.9h0m-2.2 24.8h0m5.9-12.1h0m14.1 13.6h0m-7.5-27.5h0m6.9 26.9h0m-2 4.3h0m-22.3-12.6h0m6.9-14.1h0m-2.9 1.3h0m18.7 27.4h0m-1.1-33h0m-17 33.9h0m-3.6-8.4h0m-1.9-17.4h0m21.3-10.3h0m-12 29.3h0m-1.8-19.8h0m.4 22.6h0m10.2-7.4h0m-4 1.8h0m5.4 3.6h0m-7.3-54.9h0m8.2 4.1h0m88.1 2.8h0m2.3 5.5h0m18.3-18.7h0m-24.2 21.6h0m19.7-38.4h0m-8.2 42.3h0m-5.4-11.7h0m16.1-.7h0m1-24.8h0m1 31.9h0m-12.9-31.3h0m1.7-1.2h0m11.8-2.3h0m-17.6-1h0m-7.1 .2h0m23.2 12.9h0m-5.2-15.8h0m-11.4 26.7h0m2.1-9.4h0m-3.8 11.9h0m18.9 7.6h0m.7-13.5h0m-22.5 7.7h0m12.2 5.2h0m11.5-4.6h0m-9.1 8.5h0m4-41.8h0m-3.1-18.1h0m.7 61.8h0m6.8-2.4h0m-24.1-48.9h0m19.1 9.6h0m.7 28.1h0m-1.8 1.7h0m5.8-17.2h0m-2.4 27.3h0m-23.6 .3h0m0-21.3h0m25.1 10.3h0m-11.8 2.9h0m-3 9.7h0m-10.9 2h0m24.9-60.7h0m-17.9 34.2h0m-2.3 14.5h0m4.7-36h0m.3 22h0m-5.4 2.6h0m-.4 4.4h0m14.7 12.2h0m-8.4-1.5h0m-8.6-5.7h0m25.6-15.5h0m-23.7 29.3h0m14.3-40h0m-15.2-6.6h0m16.1 37.2h0m-.7-42.6h0m-12.6 35.2h0m1.7-14.6h0m17.6-1.7h0m-11.6 30.9h0m12.3-8.4h0m-14.4 3.8h0m13.7-15.5h0m-11.1-8.1h0m-6 17.9h0m2-16.5h0m12.4-27.5h0m-2.2 10.1h0m-2 46.3h0m-15.9-36h0m17 32.6h0m-6.1-10.5h0m-10.3-4.1h0m-2.7 15.7h0m10.2-17.2h0m4.4-32.1h0m6.1 45.3h0m-20.2-17.3h0m8.6-1.2h0m-.4-18.5h0m-3.4 40.7h0m1.1 1.7h0m7.1-.5h0m11.2-6.5h0m-1.8 4.7h0m.3-8.9h0m-2.4 9.7h0m-10.9-26.2h0m-9.9 17.6h0m22.4-4.7h0m-10.7 6.5h0m7.5-48h0m-6.5 37.9h0m-9.5 5.5h0m-1.7-6.5h0m18-22.3h0m8.6 40.2h0m-.1-7.3h0m-27.3-19.1h0m21.1 26.9h0m-20.1-.8h0m9.8-17.8h0m5.3 13.2h0m2.4-18h0m-14.9 9.1h0m17.8-19.8h0m-9.6-27.9h0m-1.2 54.9h0m10.4-21.2h0m-13.2 18.7h0m-3.4-31.9h0m-1 39.5h0m2.6-14.5h0m18.6-10.1h0m-17.2 5.3h0m-5.9-39.6h0m-1.1 46.9h0m16.3-9.8h0m2 19.4h0m8-23.4h0m.7 23.5h0m-19.4-35.2h0m10.4 34.9h0m-4-4.8h0m5.1 11.1h0m-16.5-36.3h0m15.6 12.2h0m1.9-3.3h0m-1.6-32.7h0m-12.6 59.3h0m17.6-39.9h0m-14.9 15.1h0m16.9 6.5h0m-9.5-21.5h0m-3.4 9.7h0m-7.9 14.5h0m6.1-7.7h0m5.2-6h0m-6.8-18.6h0m-.4 4.4h0m17.4 14.9h0m-5.4 3.3h0m-2.1 24.2h0m-6.2-33.4h0m1.5 21.1h0m5.2 3.6h0m-7.6 9.9h0m.5-1.1h0m-12.6-2.9h0m9.4-44.1h0m-6.5 17.4h0m23.6 26.5h0m-7-14h0m-5.5 16.7h0m12.4-17.1h0m-2.1 12.9h0m.7-36h0m-18.5 5.8h0m-1.4 32.3h0m14.2-25.5h0m-5.1 7.3h0m-3.5 21.7h0m9.7-43.6h0m-12.8 19.8h0m18.6 11.4h0m.7-3.2h0m-12.9 13.2h0m-10.9-25.1h0m2.6 .9h0m2.3-6.3h0m-4.5 1h0m15.5-31.5h0m7.6 31.1h0m-19.6-3.2h0m5.4 7.6h0m3.3 14.5h0m-14.9-19.6h0m23 22.5h0m-22.4 6.6h0m16-6h0m.9-.4h0m2.7-4h0m-15.4-31.8h0m6.1 21.7h0m-3.4 8.3h0m16.5-16.6h0m-4.4-6.6h0m2.3 24.9h0m-14.1-23.3h0m9.5 23.7h0m-4.9-17.3h0m-6.1 22.5h0m8.5 .6h0m-5-39.1h0m5.5 7.9h0m2.5 28.7h0m-14.8-21.3h0m-.1-5.9h0m3.1 34.6h0m2.1-8.8h0m-6.8-14h0m3.8 12.3h0m-1.1-33.3h0m-1.8 27.1h0m15.8-22.8h0m-12.7 21.8h0m10 14.7h0m-15-3.5h0m10.7-112h0m-.4 28.7h0m-6.1 11h0m125.9 84h0m-22 15.4h0m20.1-38.2h0m-7.4 8.1h0m-17.4 31.8h0m9.5-56.1h0m1.9 25.1h0m-7.2-14.4h0m6.4 32.9h0m3.6-.9h0m2.2 15h0m11.4-3h0m-23.5-42h0m11.4 22.7h0m9.5 11.7h0m-6.3-3.9h0m7.4 11.1h0m-10.4-7h0m.8-8.2h0m-1.8 1.3h0m-3.2-5.2h0m7.9 21.9h0m5.8-17.3h0m-18.7-4.3h0m1.8 10.9h0m-3.7-17.5h0m7.7 1.7h0m-2.9 24.9h0m9.2-20.5h0m-18.3 .2h0m4.3 14.9h0m1.6-30.2h0m2 10.7h0m8.2 20.5h0m-2.6-6.3h0m-10.9 4.5h0m9.7-32.9h0m-1.6 28.1h0m13.7-2.2h0m-3-5.1h0m-2.7-12.8h0m-11.5 10.4h0m3 21.3h0m2.7-32h0m4.8 6.3h0m-.2 13.3h0m1.4-12.1h0m-14.2 17.8h0m8.2-10.9h0m-5.7 11.5h0m8.3-15.7h0m-14.6 19.9h0m16.9-61.2h0m-15.5 24h0m8.1 38.1h0m12.7-14.4h0m-13.7 4.3h0m3.5 7.1h0m8.8-1.8h0m-9.6-27.7h0m6-7.2h0m-6.6 11.1h0m7.5-2.3h0m-4.3-10h0m5.1 22.1h0m-3.9-27.8h0m2.4 15.1h0m-12 11.4h0m18.2 7.8h0m-12.9 13.6h0m-11.2-2.1h0m19.1-34.3h0m-3.8 8.5h0m5.8 .8h0m-16.5-.2h0m1.4 28.6h0m5.4-16.8h0m1.7-12.8h0m.3 19.3h0m-7.3-36.1h0m17.1 11.8h0m-20.7-19.4h0m7.7 29.5h0m13.3 3.2h0m-22.5-11h0m18.9 28.2h0m-7.3-11.2h0m-7.9-27.5h0m10 37.9h0m-9.3-42.3h0m6.9 8.4h0m8.4 26.2h0m-16.7 11.9h0m16.2-2.1h0m4.7-21.8h0m-5.8 2.4h0m-13.4 11.1h0m12.6 10.9h0m3.7-32.6h0m-10 19.7h0m-11.9-2.4h0m4.3-15.9h0m-4-12h0m23.8 15h0m-23.8-22.4h0m4.4 8.8h0m-4.2 7.3h0m10.2 29.7h0m-2.4-2.7h0m5.5-8.6h0m5.3 9.3h0m-3.7-2h0m-8 1.8h0m-3.7-17.6h0m8.8 13.3h0m2.9 2.7h0m-8.7 .7h0m-5-7.4h0m11.3 8.1h0m5.2 6.6h0m1.2-31.9h0m-9.4 13.2h0m-9.1-37.1h0m17.6 56.4h0m-6.7-55h0m-12.8 52.1h0m16.6 1.1h0m7.9-3.4h0m-4.8-26.5h0m-14.6 25.4h0m19.9 .9h0m-24.8 1.8h0m14.4-22.5h0m-6.5 4.5h0m-4.5 14.9h0m17.6-10.7h0m-20.3 13.9h0m19.3-6.8h0m-14.8-9.3h0m-1.9-25.4h0m22.4 6.5h0m-6.4 .7h0m-11.3 .1h0m19.5 36.5h0m-6-26.8h0m-3.7 17.2h0m-4.9-10h0m-6.6 20.8h0m2-16.8h0m8.3 15.4h0m4.2-26.1h0m-16.5 2.1h0m-3 12.3h0m15.5-8.7h0m-7.8 21.9h0m6.5-40.4h0m-14.7 13h0m9.1-14.2h0m2.1-19h0m10.5 9.8h0m-10.1 37.5h0m-8.5 6.4h0m3.8-20.9h0m18.5 28.5h0m-24.3-26.1h0m8.5 25.2h0m16.4-26.7h0m-5-13.2h0m-20.4 15.9h0m22.2 16.6h0m-5.3-4.7h0m-16.8-11.8h0m11.3-10.2h0m9.7-11.1h0m-20.4-19.3h0m15.1 32.7h0m-15.1 11.9h0m12.7-32.7h0m8 47.7h0m-15.3-16h0m-4.2 .3h0m14.5 21.3h0m3.1-43.4h0m-7.3 8.8h0m-7.2 20.2h0m1.1-30.3h0m-1.3 11.4h0m5.4 17.6h0m-5.9-4.4h0m2.4 2h0m-6.5 16.8h0m5.6-30.3h0m16.4-2.2h0m-16.7 16.3h0m-4.5 14.8h0m8.4-50.6h0m-9.3 17.5h0m.6 7.2h0m19.9 28.1h0m-16.4-26h0m15.8 20.6h0m-3.2-18.8h0m-17.3-6.8h0m15.4 11.2h0m-15.5 5.6h0m12.7-1.9h0m.1-40.6h0m10.2 33.2h0m-9.9 6h0m-13.4-14.6h0m4.1-62.8h0m11.4 1.1h0m87.9 83.6h0m22.3 7.1h0m-18.8-23.3h0m18.4-13.3h0m4.9 25.4h0m-19.2-7.3h0m-7.2 21.5h0m10.7-6.8h0m4.4-11.9h0m-8.7-4.1h0m16.4 8.3h0m-4.6 2.7h0m4.6 .5h0m-14.5-3.2h0m15.4-2.3h0m-1.4 18.4h0m-16.1-14.5h0m5.1 4.3h0m6.5-8.5h0m-7.5-1.8h0m-6.8 9h0m-.5-17h0m-2-13.3h0m2.7 29h0m17.6-3h0m-6.4 7.6h0m-6.5 3.7h0m-1.4 2.9h0m-7-11.5h0m23.5 11.6h0m-17.3-17h0m-4.9 14h0m23.2 3.3h0m-3.8-32.5h0m-6.2 .8h0m-4.8 3.8h0m1 4.7h0m6.3-2.9h0m-17.2 24h0m11.2-15.2h0m15.5 2.1h0m-8.2 2.8h0m-16.3 9.7h0m16.1-2.9h0m-11.3 4h0m12.9-5.7h0m.1-.7h0m-5.7-17.4h0m7.8 7.4h0m-20.6 13.7h0m1.4 .2h0m21.9-10.9h0m-3 3.4h0m-20.7 2.5h0m14.2 5.6h0m8.1-19.5h0m-3.6 12.5h0m1.2 9.8h0m-20.2-1.8h0m7.7-6.9h0m2.1-1.4h0m10.3-3.2h0m7 10.8h0m-26-14.2h0m1.3 5.6h0m18.9 7.3h0m-7.5-37.6h0m-15.2 43.4h0m16.8-13.7h0m11.1 2.2h0m-13 .6h0m5.8-.9h0m-9.8-1.8h0m-9-22.5h0m2.7 18.3h0m12.4 17h0m-9 0h0m9.3-16.4h0m1.9 10.3h0m2.4-16h0m0-.1h0m-6.9-16.8h0m2.7 25.2h0m-.6 7.6h0m-15.4-1.1h0m23.7-23.4h0m-8.4 30.7h0m-10.8-41.7h0m-4.5 38.6h0m10-10.3h0m-1.5 6.3h0m9 8.1h0m-17.1-10.3h0m9.2-21.3h0m16.6 24.2h0m-11.2-6.2h0m-6.2 4.6h0m14.5-2.5h0m-8.4-4.9h0m-13.6-15.6h0m3.7 21.7h0m4.9 7.6h0m3-15.5h0m5.5-.2h0m-10.8 7.1h0m12.4 5.8h0m-1.2-8.1h0m-10.7 13.5h0m-8.9-3.2h0m21.6-7.4h0m-5.2-13.9h0m-4.2-4.4h0m-11-2.6h0m15.8 18.8h0m-14.8-2.2h0m12-7.7h0m-14.5 17.9h0m5.9 2.5h0m-3.2-2h0m1.1 3.2h0m2.3-38.9h0m7.6 16.3h0m-8.9 15h0m13.4-.6h0m0-32.9h0m-16.4 33.1h0m21.1-8.9h0m4.6 13.1h0m-6.3-29h0m-19.8 29.5h0m21.6-19.5h0m-21.7-.5h0m24.4 4.4h0m-23.8 16.1h0m13.3-6h0m-8-8.1h0m19 7.7h0m-16.6-18.6h0m-3.9 12.6h0m21.6 6.5h0m-2.5-26.9h0m-7.6 6.8h0m10.5 29.2h0m-3.8-21.5h0m-12.6 15.5h0m5.3-11.7h0m10.4 13.8h0m-19-1.2h0m-2.8-6.5h0m8.5-20.1h0m-5.5 12.5h0m-3-.2h0m16.6 12.8h0m-20.1-8.9h0m13.8-6.9h0m-5.6 23h0m10.3-15h0m-8.1 13.4h0m13.3-31.8h0m-21.6 13.9h0m17.2 17.8h0m4.5-29.9h0m-16.8 21.6h0m15.7-13.9h0m1.1 4.7h0m-7.6 9.5h0m4.9-.4h0m-11.2 .8h0m3.7-1.7h0m-.6 11.4h0m-7.6-7.3h0m7.2-8.2h0m11.6 9h0m-25.2-6.5h0m17.1 3h0m9-12.7h0m-20.8-7.7h0m14.4 10.6h0m3.7 0h0m-12.4 14.1h0m3.7-5.1h0m11 10.8h0m-1.6-38.1h0m-13 22h0m7.7-7.3h0m-10.9-5.2h0m6-1.6h0m4.1 17.8h0m-11.4-7.7h0m11.6-3.9h0m-2.2 17.5h0m-4.4 5.1h0m1.7-7.7h0m-8-7.4h0m1.4-6h0m0 13.8h0m11.6-.8h0m-4.8-24.5h0m7.9 12h0m-11.9-1.3h0m-.7-12.5h0m2.7 18.3h0m10.6-4.5h0m-6.5 19.7h0m6.1-10.6h0m-6 11.8h0m9.1 .4h0m-16.3-2.2h0m19.1 .8h0m-24-6.1h0m12.8-55.5h0m-3.1 1h0m110.8 51.1h0m-19-14h0m1.3 15.4h0m22.3 7.3h0m-12.8-2.3h0m7.4 12.6h0m-1.2-16.1h0m-12-25.7h0m7.3 44.7h0m14.2-2.5h0m-6-36h0m-15.9 35h0m-2.5 3.7h0m19-7.5h0m-16.1-3.3h0m11 8.4h0m-.6-4.4h0m8.1-33.5h0m-16.3 30.4h0m-2.1 9.4h0m11.8-35h0m-10 3.9h0m16.6 24.3h0m-14.4-6.7h0m12.8 9.9h0m-3.3-21.6h0m7.9 22.1h0m-16.8 0h0m3-36.7h0m-.9 30.2h0m-2-27.5h0m14.6 1.8h0m-20.7-1.2h0m5.1 35.8h0m6.4-1.3h0m-8.2 2.4h0m-6.8-17.8h0m26.4 6.7h0m-14.9-5.7h0m-.1-14.8h0m12.2 11.2h0m-21.2 17.4h0m22-2.5h0m-18.7 2.2h0m-4.4-9.8h0m7.4-28.7h0m-7.1 21.3h0m20.5 13.9h0m.4 1.1h0m-21.7-18h0m22.6 21.7h0m-20.5-3.3h0m15.4-6.8h0m.3-7h0m-6.3 5.6h0m2.7 3.6h0m5.6 1.3h0m-21 5.3h0m20.3-2.2h0m-21-10.1h0m4.3 10.9h0m7.4-5h0m-5.2-12.7h0m12.6 2.5h0m-13.9 14.9h0m18.2-36.2h0m-15.2 33.5h0m-3.1 1.1h0m13.3-11.5h0m-16.4-29.8h0m9.4 44.4h0m11.2-.5h0m-21.7-39.4h0m5.9 17.4h0m10.4 10.5h0m-17.3 5.9h0m10.7-15.5h0m-6.3-2.2h0m14.2 15.7h0m-3.6-23h0m-8.4 27.4h0m-5-9.1h0m5.6-5.8h0m13 10.9h0m-14.4-12.9h0m7.9-.5h0m5.9 19.1h0m-19.1-11h0m24-6.1h0m-13.2-14.5h0m15.8 16.6h0m-15.9-21h0m5.3 .8h0m-4.1 33.8h0m-4.1-9.1h0m16.1 14h0m-22.5 .1h0m8.7-4h0m9.5-3.6h0m-19.5 6.2h0m23.6-26.4h0m-17.7-2.4h0m5.8 26.3h0m-10.3 0h0m0 4h0m8.7-10.4h0m-.8-36.4h0m8.5 23.8h0m-11.3 8.9h0m.4-35.1h0m16.5 13.9h0m-12.4 23.2h0m-2.6-7.9h0m.2-12.3h0m9.2 30h0m-1.4-24.4h0m-17.5 21.3h0m18.7-15.5h0m-13.9 0h0m22 2.3h0m-8.3 17.2h0m4-18h0m2.6-18.3h0m-12.2 35.5h0m-4.4-4.6h0m17.6 5.5h0m-21.2-9.2h0m-4.9 4.9h0m27.1 1h0m-23.3-10.3h0m3.9-16.3h0m5.7 20.7h0m-.4 1.7h0m-4.7-22.3h0m-8.2 27.5h0m21.8-16.1h0m-17.4-33.7h0m4.5 48.5h0m7.7-31.8h0m-16.4 30.6h0m4.6-41.9h0m10.5 19.1h0m5.1 29.9h0m6-19.9h0m-23.8 15.4h0m20.7-18.4h0m-21.2 7h0m-.8-11.8h0m6.8 25.6h0m2.1-42.9h0m8.4 42.7h0m-5-2.8h0m-10.6-22.2h0m.1 22.9h0m8.8 2.7h0m3.7-35.2h0m2.3 32h0m-16.8-13.8h0m19-32.2h0m-13 18.2h0m10.8 2.7h0m3.8 26.7h0m2.1-45.4h0m-14.1 33.7h0m-2.5-20.8h0m-4.2 22.3h0m12.9 5.6h0m-12.4-1h0m-.2-33.3h0m-.5 10.8h0m19.1-15h0m.8 10h0m-20.3 36.5h0m2.7-54.9h0m13.5 39.3h0m-16 4.1h0m8.7 2.6h0m3.8-1.6h0m5.6 6.9h0m-.2-17.2h0m3.8 20.5h0m-11.1-10.4h0m-2.2-13.7h0m16 12.2h0m-9.8-3.6h0m-9.8-15.5h0m7.3 15.8h0m1.6 15.9h0m6.7-5.5h0m-20.6-2.3h0m12.1-.7h0m-11.4-30.4h0m17.9 19h0m-11.5-17.1h0m8.1 14.5h0m-11.7 8.5h0m2.9 5.3h0m6.4 2.4h0m-2.1-27.2h0m4.9 33.2h0m-15.6-.8h0m11.9-32.3h0m-10.5 28.1h0m5.8-25.6h0m-7 18.1h0m8.6-10.3h0m-2.4 4.5h0m12.9 17.3h0m-11.5-23h0m13.7 3.3h0m.8-69h0m-18.5 18.1h0m101.8-73.5h0m-.2-3.3h0m.1-4.4h0m12.4 19.9h0m10.8-11.7h0m-22.6-3.6h0m15.8 5.9h0m-13.1 10h0m14 13.8h0m3.9-54.5h0m-.1 6.6h0m-6.5 26.5h0m-3.2 3.5h0m-.8-6.9h0m10.8 22.5h0m-17.8-18.5h0m-2-8.3h0m10.3 5.1h0m9.8-8h0m-21 29.9h0m20.8-7.3h0m-17.6-8.7h0m6.4 19.8h0m5.9-23.7h0m6.2-5.7h0m-13.7-19.3h0m-5.2 35h0m12.8-6.2h0m6.8 11.2h0m-7.9 12h0m-11.3-51.9h0m.2 3.5h0m3.3 28.7h0m6.7 5.4h0m1.9 10.8h0m-2.1 4h0m-4.8-11.4h0m-11.3-25h0m8 29.9h0m12.6-55.3h0m-15.1 18.8h0m12.7 25.4h0m8 16.2h0m-21.3-.8h0m19.3-3.7h0m2.3-4.3h0m-16.3-.5h0m15.4-14.9h0m-22.3-7.1h0m15.4-13.3h0m-19 28.3h0m22-24.4h0m-15.3 17.9h0m0-21.9h0m12.1 19.4h0m-18.4 11.8h0m5.9-24h0m17.5 29.7h0m-16-18.8h0m8.9 22h0m-7.5 1.3h0m13.4-42.7h0m-16.3 25.3h0m15.6-17.6h0m-12.1 34h0m13.4-27.5h0m-4.6 9.3h0m-13.6 11.3h0m8.5 12.2h0m5.8-31.7h0m-3-8.5h0m4 9.9h0m-21 14.6h0m9.5-14.9h0m-1.3 21h0m-8.5 8.3h0m14.3 2.3h0m-.6-44h0m-4.1 2.8h0m14.9 26.5h0m-14.2 3.9h0m7.2-19.7h0m-6.6 4.6h0m-6.3 15.7h0m19.8-4.5h0m-19.7-24.9h0m15.5 28.9h0m-4.5 2h0m-11.7-5h0m17 3.2h0m-16.8-7.3h0m6.7 8.9h0m8 1.9h0m-10.2-8.8h0m6.6 1.4h0m10.1-45.4h0m-15.7 37.9h0m-8.6-12h0m15.6 33.1h0m-15.4-.7h0m14.9-12h0m-5.9 12.9h0m4.4-8.8h0m-13 4.8h0m24.2-3.2h0m-4-17.5h0m.1 13.5h0m4.8-1.5h0m-26.2 9.3h0m5.3 4.1h0m4.5-3.3h0m-1-33h0m-1.9 26.4h0m13.9-44.6h0m-12 29.5h0m15.5-20.4h0m-8.9 42.9h0m-11.3-39.4h0m1.5 8.1h0m11.4 19.2h0m-6.6 7.9h0m-6.3-15.9h0m21.8 11.6h0m-14.1-9.8h0m-1.5 4h0m-1.3-6.2h0m7.8 13h0m-14.3 6.3h0m11.6-29h0m4.4 33h0m6.8-15.4h0m-17.6 7.7h0m6.9-16.7h0m-5.1-12.5h0m10.7-6.8h0m5-1h0m-17.6 14.6h0m12.2-27.5h0m-2.7 26.2h0m-17.1 9.3h0m11.4 3.5h0m12.4-32.5h0m-3 45.2h0m5.4 2.5h0m-13.7-20.4h0m-2.5 15.1h0m-7 2.8h0m-.5 2.8h0m-1-9.5h0m24.1 1.7h0m-.4 .3h0m-4-24h0m-2.7-28h0m-13.6 49.2h0m16.4 11.4h0m-14.3-32.7h0m18.1 19.5h0m-23.6-41.6h0m-.3 37h0m23.8 6.2h0m-23.3-13.9h0m25 2.2h0m-1-1.1h0m-15.9 10.7h0m-2.8 4.1h0m2.4-7.7h0m12.1 0h0m3.6 11.1h0m-11.9-29.6h0m8.5 .6h0m-7.4 29.8h0m-8.4-33.9h0m20.1 38h0m-6.4-1.9h0m-5.3-15.4h0m.4 13.9h0m10.8-9h0m-5.3 15.1h0m-1.9-45.5h0m.3 27.8h0m-2.7-9h0m-7.4 11.7h0m5.5-40.9h0m0 56.4h0m8.1-22.8h0m-7.4-31.7h0m4.9 42.3h0m-3.3-31.4h0m-8.4-2.8h0m-6.1 40h0m2.6-31.5h0m18.7 1.8h0m-.3 25.8h0m-11.2 7.4h0m-1.5-28.7h0m-5.1 28.6h0m19.3-6.9h0m-11.6 2.8h0m13.8 4.1h0m-5.5-2.7h0m-19.6-33.7h0m.7 11.8h0m7.7-6h0m5.9 25.5h0m-12.2-50.7h0m17.1 28.9h0m-10.7 28.1h0m10.9-6.1h0m-18.5-38.4h0m22 29.8h0m-13.7-89.2h0m116.4 145.6h0m-10.6-9.5h0m-.9 11.8h0m6.8-25.4h0m0 23.6h0m-3.3 6.1h0m6.1-.1h0m-2.1-18.1h0m-12.7 16.4h0m9.8-9.7h0m7.1-1.6h0m-5.9-13.4h0m-9.2-10.3h0m2.9 36.5h0m1.7 2.1h0m.4-37.7h0m-4.4-2.1h0m1.9 32.9h0m10.6-32.1h0m-16.8 30.3h0m3.3-20.5h0m10 13.7h0m-5.2-11.4h0m-9.6-3.4h0m3 19.3h0m2.6-4.6h0m1.8 18.5h0m9.8-25.2h0m-12.1 19h0m-3.7-28.6h0m4 25.9h0m8.6 6.3h0m-.8-8.2h0m-9.5 5.9h0m9.4-6h0m-9.7-5.8h0m-3.8 11.7h0m5.6-27.3h0m11.5 8h0m7.4 20h0m-2.5-7.4h0m-15.2-3.4h0m2.9-.6h0m-8.5-7.6h0m17.1-5.4h0m-8.7 16.6h0m5.9-3h0m-9.1 14.2h0m-8.7-12.8h0m25.7 6.4h0m-12.1-11.3h0m4 13h0m10.1-4.3h0m-6.7 7.2h0m-5.1-9.2h0m1.4-1.8h0m-13.4-9.7h0m-.8 21.9h0m7.3-24.1h0m14.7 20.7h0m-24.4-2.3h0m12.7-20.6h0m-11.6 5.6h0m14.9 19.3h0m9.1-29.5h0m-3 32.5h0m-8.8-26.9h0m-5.9 26.2h0m13.3-2.4h0m-5.5-8.6h0m-12.9-3.5h0m21.8 12.8h0m-23.2-13.5h0m15.1 11.9h0m-8.8-21.6h0m16.1 3.8h0m3.7 18.5h0m-18.6 .7h0m-8.9 1.4h0m18.1-27.2h0m9.4 28.2h0m-.8-12.2h0m1.3 11.2h0m-9.2-26.1h0m-.7 9.1h0m-16.8 7.1h0m10.7-28.3h0m-9.1 38.6h0m22.9-2.6h0m2.1 .2h0m-24.6-4.1h0m.6-13.8h0m0-9.2h0m22.5 1.5h0m-23.9 18.4h0m19.9-25.1h0m4.7 27.6h0m-14.3-2.8h0m9.6-.9h0m-21.9-2.5h0m24 6.7h0m-12.5-25.8h0m0 8.9h0m2.6 16.3h0m1.8-6.3h0m-5.2-21.5h0m-7.8 24.7h0m11.8-16.8h0m-3.1 12.4h0m4.1-16.6h0m-12.6 26h0m-.2-32.8h0m5.5 28.7h0m16.9 10.3h0m-8.4-12.3h0m-15.2 6.3h0m14.2-8.1h0m8.1 13.2h0m-1.9-5.9h0m2.6 4.3h0m-17.8-13.9h0m-7.3-.9h0m5.1 12.4h0m5.1-11.7h0m11.1-25.6h0m-4 29.1h0m-13.7 10.6h0m16.4-3.2h0m-15.5-13.7h0m12.2-12.3h0m-2.6 13.4h0m8-.1h0m-12.3-20.6h0m12.5 37.3h0m-11.4-11.9h0m16.2-3.8h0m-.9-14.4h0m-2.9 29.5h0m-17.5-20.6h0m8.5 17.8h0m-3.5-1.6h0m12.1-33.9h0m-2 32.1h0m.9-12.5h0m-15.8 17.8h0m5.7-18.1h0m-7.3-5.2h0m-4.3 8.4h0m9.2 11.3h0m14.7-5.6h0m-6.8-20.1h0m-3.2 10.8h0m1.1 14.1h0m-6.8-10.4h0m-.2 9.9h0m-7.6 3.5h0m26.3-10.2h0m-20.7 14h0m.3-1h0m5.7-7.9h0m12.1-7.5h0m-4.5 5.3h0m-2.8 10.2h0m-12.7-17.7h0m8.3 6.8h0m-3.6-6.2h0m11.1-3.9h0m-16 5.6h0m4.5 10.9h0m.8-5.5h0m16.5 9.7h0m-24.6-10.9h0m17.9-26h0m-14.7 22.3h0m3.4 11.7h0m6.6 .6h0m-9.4-37.1h0m-.5-3.4h0m8 5.7h0m-3.3 36.8h0m8.3-6.9h0m1.2 8.4h0m-16.3-4.5h0m7.6-12.3h0m-8 4.2h0m1.5-8.5h0m14.8-8.5h0m-17 14.7h0m9.8 15.1h0m-1.5-32.8h0m10.5 12.8h0m-10 10.3h0m3.9-3.2h0m-8.3 4.4h0m14.9-29.2h0m-16.1 24.3h0m13.9-5.3h0m-13.2 11.5h0m20.9-17h0m-6.2 22.6h0m-19.3-10.8h0m5.9-4.8h0m2.9-.4h0m7.8-13.2h0m6.3 3.6h0m-6.8 26.5h0m-15.7-24.1h0m3.9 14.6h0m14.5-24.9h0m-16.9 35.2h0m12.2-60.3h0m91 56.6h0m7.7 1.2h0m-1.2-12.6h0m19.9 22.8h0m-9.7-21.3h0m-10.2-17.2h0m1.3 27.8h0m4-7.8h0m5 11.3h0m-5.5-6.4h0m10.7-6.1h0m-6.5 1.8h0m-6.8 12.1h0m-.8-32.8h0m-.6 42.8h0m-1.2 1.3h0m9.9-16.9h0m-14.9 4.4h0m3.3 4.3h0m11.1-12.1h0m1.7-10.3h0m-14.6 11.6h0m9-19.8h0m-5.5 32.3h0m5.6-4.2h0m-5.9-27.7h0m10.9 33.6h0m-15.6 2.9h0m.7-6.4h0m8.8-19.3h0m9.3 5.1h0m4.3-2.1h0m-5.2 8.8h0m-19.3 6.9h0m15.1 3.3h0m3.8-19h0m2.3-5.8h0m-13.4 .8h0m5.2-10.7h0m10.4 16h0m-5.8-9.6h0m8.4 11.9h0m-25.5-6h0m22.2 17.5h0m-20.7-4.2h0m24.6 5.6h0m-18.3 3.6h0m5.1-13.1h0m1.9 14h0m-7-32h0m3.8 15.6h0m-.9-14.6h0m-6.5 7.5h0m22 21.6h0m-3.9-15.1h0m-13.6-4.5h0m13.7 17.2h0m-8.5-14.4h0m-11.1 23h0m13.6-9.2h0m-5.4-38.3h0m-1.6 28.3h0m7.7-26h0m-6 39.9h0m13.7-17.8h0m-14.4-9.4h0m-6.9 32.6h0m6.7-25.9h0m6-20.7h0m-14.9 22.9h0m22.1-4.3h0m-15-7.7h0m-9.5 29.2h0m16.2-1.7h0m7.9-15.5h0m-.4-16h0m-11.5 28.7h0m9.7-11.1h0m-.4 19.7h0m-2.8 3.7h0m-17.6-38.4h0m10.6-.8h0m7.1 8.6h0m5.1-2.2h0m-21.5 24.6h0m14.9-8.6h0m-15.5-30.2h0m13.7 41.9h0m7.5-32h0m-6.3-1.4h0m-16.2 33.6h0m13-3.2h0m-6.6-24.8h0m6.7-14.3h0m.5 46.6h0m-13.2-1.5h0m12-33.5h0m-6 36.6h0m3.4-9.5h0m1.9-11.6h0m8.8 6.2h0m3-17.4h0m-17.5 1.7h0m-3.3 15h0m3.8-37h0m10.8 4.9h0m-17.7 35.2h0m8.8-11.3h0m15.3 19.7h0m-22.7-8h0m5.5-5.4h0m-4.7 15.6h0m6.7-29.5h0m17.1 25.1h0m-7.7-9.7h0m-10.9-12h0m1 6.7h0m14.3 8.6h0m-16.2-34.8h0m15.4 25h0m-20.7-4.4h0m12.1-8.2h0m11.1-2.7h0m-14.8 18.4h0m10-15.4h0m-12.1 33.2h0m1.3-4.5h0m15.5-10.8h0m1-22.1h0m-24.4 20.9h0m6.4 5.6h0m15.8-19.2h0m-6.4 13.9h0m-5.5 14.1h0m-4.7 2h0m2.8-22.6h0m6.2-17.6h0m7.3-6.3h0m1.9 40.9h0m-2-7.9h0m-7.2 5.6h0m4.3-12.3h0m-9.9 19.4h0m.8 .1h0m10-24.1h0m-1.3 5h0m-12.5 5.7h0m1.6 13.5h0m-6.6-30.2h0m2.4-20.3h0m6 21.8h0m-8.4 10.1h0m16.2 6.1h0m-1.6-18.5h0m-10.8-5h0m20.1 25h0m-13.2 3.2h0m-1.4 7.3h0m12-17.1h0m-6.6-9.8h0m-1.7 16.8h0m4.7-6.2h0m2.3 14.6h0m-20.1-8.3h0m14.1-5h0m-11.3-9.8h0m-1-2.3h0m19-5.3h0m-18.4 26.2h0m.5-42h0m-1.7 42.4h0m7.9 8h0m7.1-12h0m8.5 10.9h0m-12.6-47.3h0m1.4 23.1h0m4.8-7.9h0m-2 9.5h0m-4.1-16.3h0m7.3 40.5h0m6-7.7h0m-15-40.3h0m.8 38.3h0m5.8 8.5h0m5.2-20.3h0m-18.3-25.7h0m-3.2 43h0m.5-7.2h0m-2.5-9.9h0m.2 17.5h0m23-27.8h0m-21.1 22.5h0m1.8-30.6h0m20.5-4.6h0m-3.5 43.2h0m-1.1-36.8h0m-17.7-.6h0m21.2 3.6h0m-8.4-5.7h0m1.4 34.2h0m8.7-35.9h0m-17.1-10h0m5.5 12.4h0m3.3-11.7h0m-11.3 50h0m-4.1-12h0m20.8-31.5h0m-9.7 24h0m4 16.1h0m-13.6-36.6h0m1.2-54.7h0m6.2 29.7h0m-7 1.5h0m107.7 130.6h0m4-9.2h0m-9.9 11.2h0m1.3 .2h0m-2.1-6.2h0m24.4 3.9h0m-2.8 .4h0m-12.3 .6h0m14.1-2.8h0m2.6-4.1h0m-21 8.1h0m21.5-11.2h0m-22.6 4.4h0m.4 5.6h0m7.9-16.9h0m-12 15.2h0m5.4-13.2h0m-6.4 4.3h0m11.7-.9h0m-3.4 2.3h0m11 9.6h0m-2.1-2.4h0m5.1-7.6h0m-12.6 1.1h0m-2.4 3.5h0m16.8-1h0m-4.9 2.8h0m-1.6 3.6h0m4.6-7.1h0m-17-5.3h0m15.4-.6h0m-17.9 7.6h0m8.6-2.5h0m-.1 5.8h0m5.5-10.2h0m-1.9 11.5h0m8.7-3.3h0m3.7 2h0m-24-.4h0m-1.7-1.4h0m22.8 2.9h0m-23.8-2.1h0m22.3-6.7h0m-14.4 2.8h0m17.4 .9h0m1-2.3h0m.1-.2h0m-1.6 3.2h0m-20.9 1.6h0m12-.2h0m8.1 .7h0m-24 4.2h0m8.5-8.7h0m-7.9-2.3h0m3.2 5.8h0m9.5-7.5h0m5.3-4.9h0m-12.1 4h0m11.6 1.9h0m-12.3 6.9h0m5.7 3.1h0m-2.2-8.5h0m-2.8 2.2h0m-5.8 4h0m17.7-20.4h0m.5 19.2h0m.7 3.6h0m-14.2-25.7h0m15.7 8.3h0m-6.9 16.6h0m.1-.7h0m4.3 1.4h0m-2.6-26.1h0m-8.3 22.5h0m-5.4-9.3h0m7.7 8.9h0m-6.8-4.4h0m11 2.6h0m-6.2 2.9h0m17.4 3.3h0m-26.2-4.6h0m12.7 3.1h0m-4-4.1h0m14.7-3h0m-13.6 9.4h0m-3.5-6.3h0m-2.7-9.2h0m-.1 3.5h0m.7 3.6h0m5.3 .2h0m-6.7-12.5h0m-1.6 14.3h0m17.4-17.3h0m2.8 22.3h0m-12-20.8h0m-5 22.5h0m21.3-19h0m-2.3 15.5h0m-11.9-26.8h0m2.1 17h0m-5.3 12.5h0m1.3-2.5h0m2.4-2.7h0m-11 4.5h0m6.4 .6h0m1.9-30.4h0m104.8-79.3h0m6.2-12.6h0m-8.4 20.5h0m14.4-23.2h0m-15.5 18.5h0m11 23.6h0m.2-17.1h0m-6.1-18.1h0m-6.6 24.9h0m13.7-24.1h0m6.6 21.9h0m-21.4-.4h0m6.7-8h0m3.5-19.6h0m6.2 31.6h0m-5.7-42h0m3.7 52.9h0m-16.1-47.2h0m4.5 42.5h0m-1-22h0m10.6-24.1h0m5.9 38.1h0m-12.3 4.1h0m13.9-2.3h0m-2.7 13.3h0m-17-3h0m3.8-3h0m16.8-15.9h0m-17.3-8.9h0m-3.4 25.1h0m4.8 9.8h0m-4.7-14.2h0m-1.7 .4h0m11 .7h0m-5.9-8.2h0m-4.6-15.1h0m2.9 27.9h0m3.9-39.1h0m4 11.9h0m2.3-15.2h0m3.2 29.7h0m-12.9-.9h0m18.8 14.7h0m-20 5.3h0m18.7-38.2h0m-1.2 32.3h0m-13.4-24.9h0m-7.9 29.5h0m1.8-.4h0m11.7-15.5h0m-1.6-6.5h0m2.1 24.1h0m-4.9-1.2h0m10.7-56.6h0m7.2 57.6h0m-2.3-29.9h0m-14.5 30.7h0m.2-4.6h0m14.4 4.6h0m-8.2-29.7h0m-6.2-12.2h0m13.7 33.5h0m-7.9-2.8h0m-6.8 12.5h0m-9.8-25.8h0m2.8-10.6h0m6.2 30.3h0m3.4 5.3h0m8.8-49.3h0m5.5 37.7h0m-.2-12.7h0m-1.7 10.3h0m-1.1-4.6h0m3-14.6h0m-20.9-35.4h0m8.4 63.5h0m5.9-53.5h0m3.8 50.8h0m-23.4-26h0m1.5-5.7h0m4.9-32.6h0m-1.1 42h0m15.8 14.9h0m3.9-28.6h0m-17.9 25.9h0m13.2-61.1h0m.3 22.4h0m-8.3 21.9h0m-12 12.8h0m22.1 4.2h0m-9.6-6.6h0m12.5-22.1h0m-11.7 43.2h0m.6 2.6h0m1.3-52.6h0m-3.5-5.9h0m-10.4 2.8h0m21.8 10.7h0m-17.8 19.1h0m5.1-6h0m-7.9 26.3h0m6.2-2.8h0m7-27.3h0m-6.2 18.4h0m5.8-11.5h0m-11.7 5.2h0m-2.8 24.8h0m10.8-22.7h0m0-22.7h0m-8.4 6.4h0m7.9-34.9h0m12.7 36.2h0m-10.1 14.7h0m9 22.4h0m-23.2-20.6h0m4.6 18.7h0m13-49.3h0m.8 30.8h0m-12-36.7h0m9.5 56.3h0m-2.4 1.8h0m.7-22.6h0m1.7-10.4h0m4.3 26.9h0m-1.1-9.5h0m-1.4 9.9h0m-2.1-16.2h0m-14.3-13.1h0m9.7 9h0m12.5 13.3h0m-21 3.1h0m-1.8-48h0m15.2 33.2h0m4-23.5h0m1 17.4h0m-8.3-10.6h0m-9.7 28.6h0m1.3-1h0m4.3-40.8h0m1.9-29.2h0m-.6 39.1h0m3.1 22.8h0m-6.2-9.9h0m17.9 28.2h0m-2.6-6.9h0m-11.7 2.9h0m13.9 5.2h0m-24.5-12.7h0m4.1-10.3h0m15.4-.8h0m-.5 17.1h0m-6.6-1.3h0m-5.8 8h0m-1-19.7h0m8.2 14.5h0m1.6-25.6h0m2.5 15.7h0m-1-31.8h0m-16.7 32.4h0m11.5-28.1h0m7.4 39h0m-8-14h0m-10.4-12.8h0m3.5 20h0m-2.8-30.7h0m11.7 31.2h0m-7.4-14.1h0m-.8-40.8h0m7.5 21.4h0m-11.4 25.5h0m6 7.5h0m8.1 2.1h0m-10.3-12.8h0m10.9 4.3h0m2-29.9h0m-1.7 46.7h0m-3.7-23.1h0m3.5-5.6h0m-2.3 19.4h0m8.9-6.7h0m2.4-22.2h0m-5.1 23.3h0m-2.8 8.5h0m.7-25.2h0m-1.3-5.6h0m3.6 21.3h0m4-6.7h0m-20.1 3.6h0m7.5 18.4h0m-6.1-31.7h0m16.7 18.4h0m-19.1-12h0m3-37.4h0m-5 43h0m10-19.8h0m.2 22.4h0m-3.8 19.3h0m-6.8-40.1h0m6.1 20.9h0m8 16.9h0m4.4-16.1h0m-18.3 10.8h0m14.3-25.9h0m2.1 12.3h0m-5.3-22.5h0m-9.4 26.8h0m4.1 7.2h0m-6.5-30.4h0m8 12.5h0m13.6 16.1h0m-2-93.8h0m112 121.4h0m-9.7-21.3h0m2.9-2.4h0m-18.2-5.1h0m17.9-12.3h0m-17 35.3h0m2.6 8.1h0m-3.9-20.5h0m5-15.6h0m9.4 45.4h0m-13.4-28.6h0m-.1 24.2h0m8.9-7.2h0m11-9.6h0m-19.7 6.7h0m-1.4-22.2h0m18.2 20.2h0m-7.8 18.3h0m-7-57.3h0m4.2 43.5h0m-1.5 14.2h0m.2 .6h0m-7.5-8h0m23.4-21.7h0m-17.7 10.5h0m4.8 15.3h0m4.6-1.8h0m8.2-27.2h0m-23.6 35.7h0m10.1-20.3h0m3.7-2.9h0m13.9 23.3h0m-16.9-27.9h0m.3 27.9h0m-7.5-33.1h0m22.4 34.6h0m-14.6-18.6h0m-9.6-7.7h0m4.2-19.2h0m-3.1 31.4h0m4.6 4.1h0m12.4-42.4h0m-18.7 33.6h0m25.6 9.2h0m-10.2-13.2h0m-1.2 14.4h0m-.3-37.8h0m-2.6 34.8h0m-6.5-.2h0m20.2-4.6h0m-25.8-2.9h0m12.5-15.5h0m2.7 11.9h0m2.5 15.6h0m2.5-41.7h0m-4.6 20.8h0m-9.1 19.1h0m-1.3-3.5h0m3.1 1.3h0m0-13.1h0m-6.5-15.4h0m7.6 40h0m10.8-34.9h0m-8.3 34.8h0m11.5-40.1h0m-15.5 39.4h0m10.9-2.8h0m-2.9-11.1h0m-.5 3.2h0m-5.5 8.6h0m-6-14.5h0m7 16.8h0m-6.4-7.6h0m9.6-19.8h0m5.8 6.1h0m-5.7 18.9h0m-12.1-31.8h0m16.7 17.2h0m-9.8 10.4h0m.3 1h0m.3 4.3h0m16.4-39.1h0m-27.2 36.7h0m24.6-35.1h0m.2 32h0m-1.2 6.5h0m-23.4-7.3h0m12.3-24.5h0m4.4 26.8h0m-16.2-5.5h0m27-3h0m-3.7-20.1h0m-17 32.3h0m2.8-23.7h0m-4.6 1.3h0m4.9-6.5h0m11 3.7h0m-9.7-15.6h0m8.6-14.9h0m3.4 49.6h0m.6-16.6h0m-3.1-18.6h0m-6.3 27.6h0m-1.3-45.9h0m-3.4 48.6h0m8.6-24.6h0m3.5 24.3h0m-12.1-24.9h0m17.7 35.2h0m-22.6-45h0m-1.2 33.3h0m5.4-38.9h0m1.1 43.1h0m10.6-22.5h0m6.4 3.6h0m-.9 15.4h0m-10.3-13.5h0m-7 14.9h0m10.2-12.2h0m-9.6 9.2h0m12.7 13.4h0m-17-5.9h0m5.3-43.3h0m14.4 10h0m1 17.3h0m-21.3 24.5h0m9.7-14.5h0m5.3-12.7h0m-11.9 21.9h0m9.5-32.7h0m-13 24h0m8.8-12.2h0m8.7 23.2h0m-11.1-2.1h0m-8.3-2.6h0m10.6-7.6h0m7.3 4.6h0m-8.6-29.3h0m4.1 1.1h0m-1.2-5h0m-1.5 18.5h0m-1.6 18h0m8.6 4.1h0m-7.4-30.3h0m6.3 10.2h0m3 17.2h0m-7.1-41.9h0m-11.5 38.3h0m19.3-33h0m-11.5 4.9h0m7.3-8.5h0m1.1 .9h0m6.6 37.8h0m-12.5-2.6h0m14.1-2h0m-13.2 9.8h0m-13.4-27.4h0m11.9-36.8h0m-7 63.6h0m-5.8-2.7h0m12.4-5.8h0m6.7-9.5h0m-18.4-4.1h0m6.2-37.2h0m18.4 59.3h0m-9.8-33.5h0m-2.3-25h0m11.5 26.7h0m-14.3-24.9h0m4.7 14.2h0m5.3 4.7h0m-18.4 39.6h0m5.8-3.6h0m6.4 3.2h0m1.5-22.6h0m-5-1.3h0m4.9-24.1h0m10.3 35.1h0m-14.2-5h0m16.4 19.6h0m-6-60.4h0m-16 49.4h0m2.5 9h0m-4.9-3.2h0m13.7-9.6h0m1.1 9.4h0m-12.4-20.8h0m18.4 5.8h0m-13.8 10.9h0m-7.1 4.2h0m15.3-23.1h0m-13.4 19.6h0m-.9-28.5h0m7.1 3h0m1.8-4.5h0m11.6 31.2h0m-19.2-1.3h0m18.7-5.9h0m-11 5.9h0m-3.7 7.4h0m13.5-23.8h0m-17.7-.7h0m17.1-21.3h0m-19.3 13h0m17.4 19.4h0m-13.5-.4h0m-.4-52h0m-5.4 37h0m4.9 19.7h0m.8 7h0m10.2-111.4h0m3.2 14.1h0" stroke="#2b4d8b" stroke-width="5" stroke-linecap="round" fill="none"/>
<path d="M169.2 1897.7h0m11.6-12.5h0m2.9 3h0m-11.6-9.2h0m6.7 12.7h0m-.4-21.2h0m.4 10.4h0m5.8-1.8h0m-7.7 20.9h0m-8.4-15.3h0m16.5 13.3h0m-17.1 1.7h0m-3.9-26.5h0m21.2 27.6h0m-17.5 2.2h0m.3 0h0m10.9-25.3h0m-8.6 12h0m11.1 4.9h0m-12.5 8h0m-6.9-1.8h0m5.1-16.7h0m-5.2 15.3h0m1.6 3.1h0m1.3 3h0m2.9-16.1h0m7.6 16h0m-7.8-11.3h0m-7.4-6.9h0m2.3-.6h0m17.5 9.3h0m-18-3.5h0m5.9-16.4h0m11.9 25.3h0m6.2-7.6h0m-16.9 2h0m-1.9-11.3h0m14.7 17.7h0m-7.6-39.8h0m104.8 133.5h0m-5-11.5h0m1.7 14.3h0m-7.6-9.5h0m14-1.9h0m-2.5-10.2h0m-11.4 19.1h0m13.9-9.8h0m2.2 2.5h0m-16.6 10.7h0m18.2-10.2h0m-22.2-13.4h0m14.8 7.9h0m-2.7 .5h0m10.8-5.6h0m-21.8 2.2h0m.3 1h0m19.5-6h0m-14.1 16h0m-2.1-1.5h0m10.5-2.4h0m-3.4 5h0m-3.7 4.3h0m12.8-4.6h0m-4.8-3.6h0m.4-4.8h0m6 2.9h0m-18.2-22.6h0m-2.3 29.5h0m-.6 2.6h0m23.5-1.9h0m0-25.4h0m-15.8-3.8h0m16.5 23.5h0m-11.2 8.7h0m-14.6-15.1h0m18.4-19.7h0m5 32.6h0m-3.4 3.7h0m6.2-13.7h0m-18.8 .9h0m-5.7-13.3h0m21.1-9.5h0m-13.5 4.3h0m-1.9 23.1h0m7.5-3.8h0m-12.7-10.9h0m22.2 1.3h0m-18.6 2.4h0m-1.7 13.8h0m7.2-3.9h0m10.1-22.4h0m-12.8 12h0m.6-13.5h0m-4.7 16.6h0m-2.7-19.4h0m16.4 26h0m1.9-9.1h0m-13.2-28.4h0m96.4 96.3h0m23.5-16.5h0m3 21.1h0m-9.3-21.3h0m7.2 7.5h0m2.7 6h0m-22.7 7.8h0m14-4.4h0m-15.5-7.9h0m22.7-5.5h0m-15.8 4h0m-.8-14h0m16.8 4.6h0m-11.9 15.1h0m1.7-8.5h0m.5 14h0m-1.4-16.1h0m-2.2-7.5h0m-1.4 10.1h0m.2 4.9h0m10.6 9.8h0m-10.2-2.6h0m1.2-4.9h0m12.9-1.7h0m-3-5.1h0m-7.7-12.4h0m2.9 24.7h0m5.3-8.8h0m-22.8 1.8h0m.4 1.1h0m21.8-6.9h0m-1.6-18.6h0m-9.8 28.5h0m11.9 6h0m-14.7-35.4h0m-.8 22.2h0m16.6 .1h0m-19.1 8.5h0m17.3 4.8h0m-3.5-36.7h0m5.7 19.5h0m-21.9 13.1h0m8.9 1.7h0m-3.6-12.7h0m19.4 1.2h0m-15.3-21.3h0m-.4 27.5h0m-7-16.1h0m10.3 12.6h0m4.9 1.5h0m2.5-12.5h0m-15.3 .4h0m17.8 9h0m-5.9-6.3h0m5.7 19.3h0m-16.8-23.4h0m-1 21h0m19.2-2.6h0m-9-33.6h0m113.8 2.5h0m-9.2 6.1h0m7.9 11h0m2.6-12.2h0m-22.9-2.3h0m19.5-6.3h0m-3.2-8.5h0m-9.9-4.3h0m-8.4 30.9h0m12.9-.5h0m-15.7 4.6h0m1.7-17.1h0m23.8 8h0m-6.2-8.3h0m.1-8.6h0m1.7 2.3h0m-4.7 18.2h0m1.4-29.6h0m5.5 12.4h0m-.5 23.1h0m-7.6-14.5h0m-12.1-25.3h0m9.1 29.3h0m.1-32.4h0m2.8 41.7h0m-2.7-12.4h0m-6.7-4h0m15.6-8h0m-15.7 5h0m11.6 14.5h0m5.7-9.5h0m-12.7-18.2h0m1 5.6h0m-11 20.2h0m13.1 2.4h0m11.1-40.1h0m-13 19h0m6.6 18.1h0m-11.9-13h0m2.3-4.5h0m3.4 7.4h0m14.7 7.4h0m-22.2-15.9h0m10.7 25.4h0m12.3 .1h0m-10.7-31.6h0m10 3.5h0m-.3-1.4h0m-21.3 7.2h0m2.8 3h0m8.9 14.3h0m-7.1-36.4h0m-1.9 25.1h0m-2.1 17h0m18.4-57.9h0m-.4 4.2h0m96-61.1h0m-10.9 19.6h0m9.4-18.3h0m-13.3 34h0m18.4-44.3h0m-8.8 40h0m8.5-39.8h0m3.6 16h0m-14.8 12.6h0m-5.4-33.5h0m16.1 31.6h0m-13.6-18.5h0m5.8 2.8h0m4.2-9.8h0m4.6 32.7h0m-7.5 3.7h0m-1.4 1.9h0m-6.3-39.8h0m4.4 45.3h0m9.5-18.9h0m-14.7 9.3h0m25 11.5h0m-17.8-24.5h0m1.6 25.7h0m10.3-11.3h0m-18.4-7.1h0m1.6-13.4h0m17.6-15.1h0m-11.4-3.4h0m8 47h0m1.1 4.7h0m-10.4-35.1h0m-8.6-9.3h0m12.1 49.1h0m-1.1-17.4h0m3.1-1.9h0m4.7 15.4h0m-18.2 .3h0m15.6-22.9h0m-4.4-7.9h0m12.2 30.9h0m-4.8-26.1h0m-.1 17.4h0m1.1 7.3h0m-20.3-15.2h0m21.5 1.5h0m-15.2 7.5h0m16-6.4h0m1.4-7.7h0m-22.3-7.4h0m3.4 31.1h0m5.8-7.4h0m13.5-41.1h0m-22.7 30.9h0m5.2-21.1h0m-7.3 33.9h0m4.1-19.2h0m11.4-16.7h0m2.7-17h0m105.8 146.8h0m-3.1-8.8h0m-3.9 6.5h0m15.1 9.2h0m-2.2-18.3h0m-20.1-5.1h0m6.5 20.8h0m-12.4-.7h0m7.1-31.4h0m-4.2 6h0m13.1 21.8h0m-12.8-1.7h0m14.8 6h0m-2.9-8.4h0m-3.4-3.6h0m8.2 12.8h0m-11.9-17.3h0m11.4 17.8h0m3.4-29.7h0m-1.8 22.2h0m-2-11.7h0m-2.2 10.9h0m3.5-4.4h0m-13.3-9.7h0m4.7 14.8h0m-9.6-13.6h0m15.5 7.8h0m-8-12.4h0m4.6-.3h0m-8.8 16.4h0m18.8 8.7h0m1.5-3.2h0m-.9-29.5h0m-2.3 19.7h0m-20.2-5h0m15.3 19h0m-16.7-1.9h0m14-32.8h0m-4.8 25.2h0m-2.4 10.1h0m-1.7-9.7h0m-.9 9.5h0m6.3-10.7h0m-2.7-19.3h0m12.5 8.2h0m-1.4-12.6h0m-9.7 20.9h0m13.9 11.8h0m-3.8-3.3h0m-15.3-13.7h0m15.5 9.6h0m-10.9-10.7h0m-1.5 14.8h0m14.6-1.1h0m-11.3-27.3h0m4.4 16.7h0m8.9 9.9h0m-4.6-8.2h0m-14.5-21.3h0m121.2-31.3h0m-14.1-26h0m-4.8 25.3h0m6.7-5.3h0m7.5 1.7h0m-11.6-5.4h0m10.8 21.9h0m-9.2-30.4h0m10.4 22.9h0m-15.5-13.6h0m18.7 23.7h0m2.8-30.7h0m1.4-9.2h0m-18.1-2h0m-5 8.4h0m11.2 21.9h0m-8.2-9h0m3.1-16.9h0m2 25.9h0m-4.8 5.4h0m9.2-11.6h0m2.5-5.4h0m-3.6 21.9h0m14.5 .3h0m-9.2-26.7h0m-9.4-4.6h0m16.1 12h0m-14.7 18.7h0m-9.7-22.4h0m14.2 23.8h0m.5-25.2h0m-14.3 11.5h0m3 1.7h0m6.5 7.1h0m-8.9-22.7h0m24.6 0h0m-21.7 19h0m6.1-18.2h0m8.7 29.5h0m-14.7-24.9h0m3.3-17.2h0m.5 40.2h0m16.3-24.1h0m-8.1 7.4h0m-1.3-8.1h0m6.1-1.4h0m-9.8-3.5h0m5.1-11.1h0m-14.4 41.3h0m14.1-19.7h0m-17.1 19h0m.2-1h0m4.5-5.3h0m12.1-.5h0m7.4-4.4h0m.7-2.4h0m2.3 2.1h0m-10.5-32.7h0m-13.6-1.5h0m123.1 54.9h0m-14.1-26.3h0m-2.3 7.4h0m13.9 25.3h0m-2.2 6.7h0m-5.4 1.7h0m13.3-7.9h0m-13.9-.5h0m-3.2-3h0m-1.2-32.9h0m20.3 22.6h0m-14.6 5.8h0m11.9-3.1h0m.6-16.2h0m-14 21.4h0m-3.7 1.6h0m3.2-.6h0m6.2-30.4h0m.2 37.3h0m-9.1 5.2h0m19.8-6.9h0m-4.8-.5h0m-19-4.3h0m.4-3h0m2.4-6.4h0m19.1 9.5h0m-3 1.6h0m-17.6 1.6h0m13.8-2.2h0m-5.9 2.3h0m-6.7-17.9h0m15.1 1.1h0m-20.7 23.8h0m7.9-16.2h0m-8.2 15.6h0m20.2-3.6h0m-20.4 6.5h0m24.6-13.5h0m-18.5-12.2h0m13.2 19.6h0m-15.1-21.6h0m8.2 2.3h0m11.7 18.7h0m-22.7-10.3h0m25.7-3.9h0m-9.2-4h0m-7.1 4.8h0m-.2-6.1h0m17.2 22.2h0m-14-4.5h0m5.9 1.4h0m2.6-6.1h0m-8.9 2.9h0m-8.8-7.9h0m15.3 12.3h0m3.7 2.8h0m-3.7-55h0m87.1 34.5h0m11.2 16.3h0m-6.6 13.9h0m-4.4-5.3h0m21.2-7.7h0m.9-.7h0m-23.4 12.8h0m3.4-8.7h0m15.7 7.3h0m.8-19h0m5.8 14.1h0m-3.5 2.6h0m3.1-8.4h0m1.8 12.8h0m-16.4-28.7h0m8.3-3.5h0m-7.6 17.8h0m-3.2-2.8h0m-5-17.1h0m-3.5 27.9h0m2.4-26h0m-1.4 24.6h0m1.6-12.9h0m.1-15.9h0m21.9 26.1h0m-17.4 10.4h0m3.1-20.8h0m-3.4 9.9h0m7.7-12.3h0m-5 19h0m-9.7-6.7h0m2.9-14.2h0m-1.5 12.6h0m23.5-8.5h0m-9.9 16.6h0m-6.3-18.2h0m4.5 16.7h0m-8.2-10h0m12.5 4.7h0m-2.8-.4h0m-14.9 10.9h0m9.6-18.3h0m15 8.5h0m-3.8-10.4h0m4.7 18.7h0m1.3-3.1h0m-8-4h0m7.2 3.6h0m-7.4-5.2h0m-8.5 4h0m2.2-6.5h0m2-23.4h0m106.2 37h0m-2.7-31h0m-13.2 31.5h0m19.4 7h0m-16.8-32.1h0m4.5 19.2h0m5.1 12h0m10.2-18.5h0m-12.5 20.6h0m-2.8-11.1h0m-3.9-32.2h0m9.2 9.7h0m-6.6 33.1h0m-2.9-4.5h0m21.7-22.7h0m-15 21.1h0m8 0h0m-7.2-12.3h0m-7.9-25.7h0m-2.1 32.5h0m10.5-14.9h0m6.6 20.7h0m7.6-25.7h0m-13.1 25.5h0m6.6-37.2h0m4.5 14.6h0m-16.5 21.3h0m4.9-6.3h0m1.4 2.8h0m-9.6-23.5h0m21.7 1.9h0m-16.3 26.3h0m14.4-.2h0m-21.2-11.7h0m21.5 16.9h0m2.4-1h0m-2.1-25.1h0m-15.4 3.8h0m11.8 5.4h0m-7.2 3.3h0m2-4.6h0m-1-4.2h0m-4.1 17.8h0m15.7-5.5h0m-15.1 4.3h0m-5.7-4.1h0m20.1-7.1h0m-9.9-5.3h0m-9.1-12.4h0m-1.3-1.8h0m17.2 14h0m-11.3 3.3h0m13 19.9h0m-6.1-17.8h0m-8.6 10.6h0m15-7.4h0m-23.3 3.2h0m12.2-54.8h0m116.7-63.7h0m-18-1h0m-5 12h0m13.9-6.2h0m-8.1-21.1h0m19.1 28.2h0m-24.9-24.3h0m7.6 3.3h0m-8.2 13.2h0m14.5-15.3h0m8.1 3.3h0m-13.5 8.8h0m-7.9 2.4h0m23 1.1h0m-1.2 11.8h0m-19.2-8.3h0m15 4.9h0m-16.4-10.1h0m1.1 13.2h0m-1.9-27.2h0m23.9 18.3h0m-21.1-17.8h0m.4 25h0m6.3-1.8h0m-10.7 2.9h0m15-41.2h0m10.3 32h0m-24.4-9.3h0m-.4 7.3h0m18.7-8.9h0m-7.3-.6h0m-11.3-5.4h0m12.2 19.6h0m1.5-16.6h0m5 18.1h0m5.6-16.8h0m-1.4 19.3h0m-19.4-4.4h0m-5.5-9.2h0m18-4.9h0m7.2 14.1h0m-13.5-11.3h0m12.6 1.7h0m-18.8 10.2h0m-.6 1.1h0m.5 3.9h0m9-12.9h0m-8.6-3.9h0m15.7-33.3h0m96 108.6h0m.8-16h0m8.7 12.7h0m1.7-3.8h0m-4.8-4.4h0m-6.2-24.7h0m13 35h0m-19.6-6.8h0m16-8h0m-5.2 6.1h0m-16.2-11.6h0m5.7-4.5h0m15.8 13.1h0m-.3-4.9h0m-12.7-4.9h0m15 20h0m1.6-8.3h0m-20.3-11.6h0m14.9 10.8h0m-4.5-5.3h0m-9.6-5.5h0m.9 2h0m-1.4 11h0m14.1 11h0m-4.9-17.6h0m-11.3-2h0m-.9 17h0m19.5-27.7h0m-14.9 17.3h0m-1.2 8.2h0m3.5-4.8h0m-3.1 0h0m-6.1-1.8h0m.7 6.9h0m10-14.1h0m-12.7 7.2h0m1.9-9.9h0m20.5 1.5h0m-20.2-2.6h0m-.5 15.9h0m25.4 4.6h0m-12.1-23.5h0m3.3 19.8h0m-8.4-29.2h0m-.3 14.1h0m1.1 5.1h0m-9.4 12.4h0m15.6-2.3h0m-11.5-34.4h0m101.7 42.2h0m16.1-30.2h0m-18.3 25.9h0m20.7-19.9h0m-.8 9.8h0m-19.2 .8h0m-.2 14.2h0m1.4-15.4h0m7.9-7.9h0m10.5 18.3h0m3.5 1.6h0m-1.4-19.2h0m-17.8 1h0m-2.3 7.5h0m20.9 3.6h0m.8-18.7h0m-16.4 27.4h0m-3-7.6h0m21.8-6.5h0m-25.4-21.6h0m5 18.5h0m-1.6-6.7h0m7.2 11h0m-12.1 9.3h0m.8-20.9h0m9.4 .6h0m4.8 4.4h0m6.5 13.6h0m-19.1 6.6h0m18.8 .3h0m-2.7-15.9h0m-9.9 5.5h0m10 12.9h0m-11.9-23.6h0m-.2 23.3h0m15.1-24.9h0m5.9 21.5h0m-18.8-4.5h0m1.3-6.2h0m13.6-3h0m-5.9-19.9h0m-7.4 22.3h0m-7.5-8.4h0m1.1 19.2h0m10.2-20.8h0m-8.8 18h0m22.2-4.7h0m-.1 6.7h0m-16.9 3.1h0m16.2-12.5h0m-7.1 4.1h0m-1.6-7.2h0m-14.4-31.4h0m114.2 127.2h0m-9.1 .6h0m21.3-5.9h0m-5.2 6.1h0m6.9-4.8h0m-24.2-11.1h0m23.3 12.7h0m-8.6-15.3h0m-5.8 15.8h0m7.6 2.4h0m-18.7 .3h0m21.5-9.4h0m-14.1 5.1h0m14.2-8.6h0m-2.8 4.1h0m-8.3-2.5h0m-.5 10h0m.6 1.5h0m7.3-3.8h0m-11.9-5.8h0m8.4 9.5h0m-13.5-8.6h0m0-1.8h0m1.8 10.5h0m6.7 .1h0m-3.2-8.7h0m-4.7 1.1h0m9.7-.3h0m3.1-1.2h0m8.7-13.1h0m83-88.8h0m7 4.1h0m-.3 3h0m17.2-4.4h0m-10.1 16.1h0m-1.4-32.1h0m-8.4 16.2h0m1.5 16h0m-3.2-8.5h0m20.1-22.6h0m-17.3 4.6h0m-4.9 27.5h0m1.1-18.7h0m12.8-14.5h0m-9.8 5.4h0m-5.3 6.5h0m24.3 2.5h0m-9 20.6h0m-3.4-13.2h0m-4.5 18.3h0m11.1-19.3h0m-3.7-14h0m.2 14.4h0m3.1-25h0m-11.4 23.5h0m-5.3 15.5h0m2.1-19.3h0m3.3-21.8h0m4.8 43.7h0m14.1-11.1h0m-21.6-2.4h0m16.8-1.7h0m-2-19.2h0m-18.1 15.3h0m1.2 13.8h0m16.1 0h0m-9.8-7.3h0m6.9-29.9h0m-3.9 7.4h0m8.5 .2h0m-18.9 29.4h0m13.2-16.9h0m8.4 12.2h0m-1 3.5h0m-1.7 8.2h0m-17.8-13.7h0m.8-12.7h0m3.7 14h0m13-40.7h0m-15.1 50h0m1.3-36.5h0m0 10.6h0m2.4-14.2h0m5.2-12.2h0m-11.2 13.7h0m9.1 33.4h0m7.4-21h0m1.6 3.4h0m-6.6-40.7h0m95.9 74.3h0m9.6 5.6h0m-6.8 17.8h0m5.8 0h0m-6.7-23.9h0m12.9 8.9h0m-8.3-27.9h0m14 32.5h0m-20.2 14.5h0m14.7-1.8h0m-10-6.3h0m-2.1 7.9h0m15.9-26.9h0m-5.4 17h0m1.1-30h0m-2.9 6.4h0m7 12h0m-5.2 3.3h0m-5.8 10h0m-8.7-17.1h0m20.2-11.2h0m-9.5-7.2h0m.2-5.1h0m11.3 34.6h0m-14.2 6.3h0m11.6-10.4h0m-8.2-6.3h0m6.9 5.7h0m-18.7-5.7h0m.6 15.3h0m20.3 3.8h0m-10.8-40.7h0m5.6 36h0m-14.5 .1h0m21 1.7h0m-22.4-29.2h0m1.4 25.6h0m15.6-19.6h0m-12.6 23.8h0m-6.4-29.3h0m4.4 14h0m3.7-4.4h0m7.1 19.5h0m6.4-20.2h0m-10.9 10h0m.5 5.6h0m7.3-15.3h0m-14.7 4.4h0m2.6-7.4h0m7.5 22.1h0m2.5-26.2h0m-11.5 18.2h0m-1.8 16.9h0m10-14.6h0m8.6-5.6h0m-1.2 20.6h0m-19.6-50.2h0m.8 11.9h0m19.3-31.5h0m-5.3 8.5h0" stroke="#e4231b" stroke-width="5" stroke-linecap="round" fill="none"/>
<path d="M129.75 1847.61V1843.41H172.05V1847.61M234.23 1944.96V1940.76H276.53V1944.96M338.71 1976.16V1971.96H381.01V1976.16M443.19 1965.76V1961.56H485.49V1965.76M547.67 1868V1863.8H589.97V1868M652.15 2001.12V1996.92H694.45V2001.12M756.63 1897.53V1893.33H798.93V1897.53M861.11 1944.96V1940.76H903.41V1944.96M965.59 1978.24V1974.04H1007.89V1978.24M1070.07 1962.22V1958.02H1112.37V1962.22M1174.55 1834.09V1829.89H1216.85V1834.09M1279.03 1930.4V1926.2H1321.33V1930.4M1383.51 1909.6V1905.4H1425.81V1909.6M1487.99 2042.09V2037.89H1530.29V2042.09M1592.47 1892.75V1888.55H1634.77V1892.75M1696.95 1918.54V1914.34H1739.25V1918.54" fill="none" stroke="#000" stroke-width="1.6"/>
<text x="146.9" y="1846.01" text-anchor="middle" font-size="16.5">***</text>
<text x="251.38" y="1943.36" text-anchor="middle" font-size="16.5">***</text>
<text x="355.86" y="1974.56" text-anchor="middle" font-size="16.5">***</text>
<text x="460.34" y="1964.16" text-anchor="middle" font-size="16.5">***</text>
<text x="564.82" y="1866.4" text-anchor="middle" font-size="16.5">***</text>
<text x="669.3" y="1999.52" text-anchor="middle" font-size="16.5">***</text>
<text x="773.78" y="1895.93" text-anchor="middle" font-size="16.5">***</text>
<text x="878.26" y="1943.36" text-anchor="middle" font-size="16.5">***</text>
<text x="982.74" y="1976.64" text-anchor="middle" font-size="16.5">***</text>
<text x="1087.22" y="1960.62" text-anchor="middle" font-size="16.5">***</text>
<text x="1191.7" y="1832.49" text-anchor="middle" font-size="16.5">***</text>
<text x="1296.18" y="1928.8" text-anchor="middle" font-size="16.5">*</text>
<text x="1400.66" y="1908" text-anchor="middle" font-size="16.5">***</text>
<text x="1505.14" y="2040.49" text-anchor="middle" font-size="16.5">***</text>
<text x="1609.62" y="1891.15" text-anchor="middle" font-size="16.5">***</text>
<text x="1714.1" y="1916.94" text-anchor="middle" font-size="16.5">***</text>
<rect x="88.1" y="1804.6" width="1689.9" height="280.3" fill="none" stroke="#000" stroke-width="1.5"/>
<path d="M88.1 2084.9h-6.5M88.1 2043.3h-6.5M88.1 2001.7h-6.5M88.1 1960.1h-6.5M88.1 1918.5h-6.5M88.1 1876.9h-6.5M88.1 1835.3h-6.5M150.9 2084.9v6.5M255.38 2084.9v6.5M359.86 2084.9v6.5M464.34 2084.9v6.5M568.82 2084.9v6.5M673.3 2084.9v6.5M777.78 2084.9v6.5M882.26 2084.9v6.5M986.74 2084.9v6.5M1091.22 2084.9v6.5M1195.7 2084.9v6.5M1300.18 2084.9v6.5M1404.66 2084.9v6.5M1509.14 2084.9v6.5M1613.62 2084.9v6.5M1718.1 2084.9v6.5" stroke="#000" stroke-width="1.4" fill="none"/>
<g font-size="17" text-anchor="end">
<text x="78.2" y="2090.4">0</text>
<text x="78.2" y="2048.8">2</text>
<text x="78.2" y="2007.2">4</text>
<text x="78.2" y="1965.6">6</text>
<text x="78.2" y="1924">8</text>
<text x="78.2" y="1882.4">10</text>
<text x="78.2" y="1840.8">12</text>
</g>
<g font-size="18.6" text-anchor="end">
<text transform="translate(154.9 2091.9) rotate(-30)" dy="0.72em">BGN</text>
<text transform="translate(259.38 2091.9) rotate(-30)" dy="0.72em">TREM2</text>
<text transform="translate(363.86 2091.9) rotate(-30)" dy="0.72em">FAP</text>
<text transform="translate(468.34 2091.9) rotate(-30)" dy="0.72em">OLR1</text>
<text transform="translate(572.82 2091.9) rotate(-30)" dy="0.72em">COMP</text>
<text transform="translate(677.3 2091.9) rotate(-30)" dy="0.72em">NOX4</text>
<text transform="translate(781.78 2091.9) rotate(-30)" dy="0.72em">CTHRC1</text>
<text transform="translate(886.26 2091.9) rotate(-30)" dy="0.72em">INHBA</text>
<text transform="translate(990.74 2091.9) rotate(-30)" dy="0.72em">MSR1</text>
<text transform="translate(1095.22 2091.9) rotate(-30)" dy="0.72em">ITGBL1</text>
<text transform="translate(1199.7 2091.9) rotate(-30)" dy="0.72em">COL1A1</text>
<text transform="translate(1304.18 2091.9) rotate(-30)" dy="0.72em">RCN3</text>
<text transform="translate(1408.66 2091.9) rotate(-30)" dy="0.72em">ASPN</text>
<text transform="translate(1513.14 2091.9) rotate(-30)" dy="0.72em">MS4A14</text>
<text transform="translate(1617.62 2091.9) rotate(-30)" dy="0.72em">SPP1</text>
<text transform="translate(1722.1 2091.9) rotate(-30)" dy="0.72em">THBS2</text>
</g>
<text transform="translate(26 1956.85) rotate(-90)" font-size="17.76" text-anchor="middle">The expression levels</text>
<text transform="translate(43.2 1958.85) rotate(-90)" font-size="16.6" text-anchor="middle">Log<tspan font-size="13.5" dy="5">2</tspan><tspan dy="-5" dx="1.5" font-size="19.5">(</tspan><tspan dx="3">TPM+1</tspan><tspan dx="5" font-size="19.5">)</tspan></text>
<rect x="1700" y="1828.5" width="15" height="14.6" fill="#2b4d8b" stroke="#000" stroke-width="1.2"/>
<rect x="1700" y="1845.3" width="15" height="14.6" fill="#e4231b" stroke="#000" stroke-width="1.2"/>
<text x="1723.5" y="1841.5" font-size="18">N0</text>
<text x="1723.5" y="1858.2" font-size="18">N1</text>
</g>
<g font-family="'Liberation Sans', Arial, Helvetica, sans-serif">
<path d="M114.9 2443.2v-168h42.3v168zM219.29 2443.2v-74.51h42.3v74.51zM323.68 2443.2v-24.63h42.3v24.63zM428.07 2443.2v-39.03h42.3v39.03zM532.46 2443.2v-93.29h42.3v93.29zM636.85 2443.2v-17.74h42.3v17.74zM741.24 2443.2v-57.18h42.3v57.18zM845.63 2443.2v-37.77h42.3v37.77zM950.02 2443.2v-40.28h42.3v40.28zM1054.41 2443.2v-27.97h42.3v27.97zM1158.8 2443.2v-137.74h42.3v137.74zM1263.19 2443.2v-91.62h42.3v91.62zM1367.58 2443.2v-72.63h42.3v72.63zM1471.97 2443.2v-10.44h42.3v10.44zM1576.36 2443.2v-85.15h42.3v85.15zM1680.75 2443.2v-45.71h42.3v45.71z" fill="#2b4d8b" stroke="#000" stroke-width="1.7"/>
<path d="M157.2 2443.2v-181.36h42.3v181.36zM261.59 2443.2v-84.94h42.3v84.94zM365.98 2443.2v-34.44h42.3v34.44zM470.37 2443.2v-48.63h42.3v48.63zM574.76 2443.2v-116.25h42.3v116.25zM679.15 2443.2v-27.97h42.3v27.97zM783.54 2443.2v-77.22h42.3v77.22zM887.93 2443.2v-54.68h42.3v54.68zM992.32 2443.2v-49.46h42.3v49.46zM1096.71 2443.2v-42.37h42.3v42.37zM1201.1 2443.2v-157.78h42.3v157.78zM1305.49 2443.2v-99.34h42.3v99.34zM1409.88 2443.2v-92.25h42.3v92.25zM1514.27 2443.2v-15.03h42.3v15.03zM1618.66 2443.2v-95.58h42.3v95.58zM1723.05 2443.2v-63.24h42.3v63.24z" fill="#e4231b" stroke="#000" stroke-width="1.7"/>
<path d="M136.05 2275.2v-1.04m-4.5 0h9M178.35 2261.84v-1.04m-4.5 0h9M240.44 2368.69v-1.04m-4.5 0h9M282.74 2358.26v-1.04m-4.5 0h9M344.83 2418.57v-1.04m-4.5 0h9M387.13 2408.76v-1.04m-4.5 0h9M449.22 2404.17v-1.04m-4.5 0h9M491.52 2394.57v-1.04m-4.5 0h9M553.61 2349.91v-1.04m-4.5 0h9M595.91 2326.95v-1.04m-4.5 0h9M658 2425.46v-1.04m-4.5 0h9M700.3 2415.23v-1.04m-4.5 0h9M762.39 2386.02v-1.04m-4.5 0h9M804.69 2365.98v-1.04m-4.5 0h9M866.78 2405.43v-1.04m-4.5 0h9M909.08 2388.52v-1.04m-4.5 0h9M971.17 2402.92v-1.04m-4.5 0h9M1013.47 2393.74v-1.04m-4.5 0h9M1075.56 2415.23v-1.04m-4.5 0h9M1117.86 2400.83v-1.04m-4.5 0h9M1179.95 2305.46v-1.04m-4.5 0h9M1222.25 2285.42v-1.04m-4.5 0h9M1284.34 2351.58v-1.04m-4.5 0h9M1326.64 2343.86v-1.04m-4.5 0h9M1388.73 2370.57v-1.04m-4.5 0h9M1431.03 2350.95v-1.04m-4.5 0h9M1493.12 2432.76v-1.04m-4.5 0h9M1535.42 2428.17v-1.04m-4.5 0h9M1597.51 2358.05v-1.04m-4.5 0h9M1639.81 2347.62v-1.04m-4.5 0h9M1701.9 2397.49v-1.04m-4.5 0h9M1744.2 2379.96v-1.04m-4.5 0h9" fill="none" stroke="#000" stroke-width="1.2"/>
<path d="M132.3 2276.2h0m6.5-25.7h0m-16.6 22.1h0m23.5-.1h0m4.7 4.9h0m-15.2-15.3h0m4.7 3.1h0m-13.3-8.5h0m10.1-8h0m5.6-4h0m1.2 29.8h0m-4.9-3.3h0m8 5.4h0m-11.3-3.6h0m6.8-3.6h0m4.4-35.9h0m-11.9 13.2h0m13.1 7.1h0m-22 17.2h0m2.3 .4h0m11.5-16.3h0m-9.1 18.1h0m1.6-16.8h0m6.5 20.9h0m2.1-40.6h0m6.9 17.3h0m-7.2-18h0m8.2 19.4h0m-2.1-14.8h0m-17.9 5.8h0m16.7 17.1h0m-21.2-1.5h0m22.1 8.2h0m-1.6-1.4h0m-11.1 8.9h0m10.2-10.2h0m2.8-4.2h0m-22.3-14.5h0m18.1 21.1h0m6.8-13.9h0m-12.8-17.8h0m-11.7 21h0m14.5 18.9h0m-5.5-14.2h0m5.7 11.5h0m7.4-.7h0m-15.9-1.8h0m2.3-40.4h0m1.9 33.6h0m3.6-19.5h0m-.7 27.7h0m-1.6-34.5h0m-1.9 2.3h0m-4 33.2h0m18.9-13.1h0m-26.1-11.7h0m10.5 24.1h0m5.8-.2h0m.5 1.8h0m-4.7-26.9h0m5.9 17.5h0m1.4-9.4h0m-19.1-7h0m24.7-3.1h0m-19 18.6h0m2.2-16.3h0m.9 20.6h0m6.6-.1h0m-8.2-11.5h0m-7.1-7.7h0m14.4 .7h0m-9.9 24.9h0m16.3-17.3h0m-10.1 18.1h0m7.3-13.3h0m-10-1.4h0m13.9 4h0m-17.7-28.8h0m3.9 24h0m3.2-10.6h0m-5.8-10.4h0m-1.4 17.7h0m16.8 1h0m-14.6 11.3h0m14.8-4.5h0m-12.7-13.3h0m-5.5-6.1h0m3.2 21.1h0m2.5-27.9h0m1.5 18.1h0m14.2 8.5h0m1.1 10.4h0m-1.9-.6h0m1.1-21.9h0m.3 21.8h0m-2.8-4.5h0m-5.4-29.8h0m-8.5 18h0m-3.5 16h0m2.2-24.8h0m14.3 14.7h0m-3.9-33.9h0m7 32.8h0m-9.8-24.6h0m-14.8 9.1h0m7 28.5h0m10.4-13.2h0m7.3-9.1h0m-8.6 19.1h0m7-5.6h0m-10.9-5h0m-8 10h0m9.6-16.1h0m7.4 14.8h0m3.4-6.9h0m-25.4-1.9h0m16.9-24.6h0m-9.8 34.3h0m-.1-.8h0m5.9-17.6h0m8.7 19h0m-18.5-3.4h0m-.4 7.3h0m20.4-25h0m-14.4 2.6h0m-.2 9h0m7.5-5.6h0m-6.1-6.7h0m-6.9 18.6h0m12.2-11.3h0m-13.6 13.9h0m3.4-16.7h0m16.3 .1h0m-10.9-.4h0m1.3 11.8h0m-1.4-19.7h0m1.3-5.1h0m7.7 33.8h0m-4.7-15.4h0m4.7 12.2h0m-7.7-17.1h0m12.7 10.9h0m.2-9.6h0m-2.6 11.5h0m-19.1 6.4h0m19.2-22.9h0m-.5 .5h0m-3.6-15.3h0m-15.7 36.7h0m13.8-25.6h0m5.3 16.1h0m-20.9 12h0m24-8.1h0m-19.9 3h0m-.3-36.7h0m19.3 35.9h0m2.5-13.2h0m-10.3-18h0m5.7 35.7h0m-7.4-3.9h0m6.8 3.4h0m5.1-8h0m-10.5-7.9h0m7.6 10.8h0m-16.6 6.7h0m10.5-13.3h0m-7.1 13.5h0m1.1-21.7h0m-8.8 8.6h0m11.6-5.1h0m6.6-3.9h0m-16.4 18.8h0m14.6-9.8h0m-4.4-21.2h0m9.9 3h0m-20.4 28.6h0m21-27.2h0m-10.5 9.5h0m-8.6-12.3h0m1.7 20.8h0m1.2 3.2h0m-1.8-18.8h0m1.5 8.1h0m15.6 13.6h0m-7.8-15.8h0m-16.1 20.4h0m13.3-13.8h0m-3.4 5.4h0m-1.1 .9h0m19.3 7.3h0m-14.7-58h0m2.6 10.9h0m89.2 124.7h0m1.7 3.5h0m10.6 11.2h0m-3.5-11.7h0m-5.9-10.2h0m4.2-6.9h0m14 21.1h0m-13.1-36.5h0m-2 36.9h0m10.8 6.6h0m-7.8-34.3h0m16.6 11.8h0m-10 8.8h0m-14.3 12.3h0m2.2 5.1h0m13.9-6.6h0m7.2 5.1h0m-12.2-15.6h0m8.1-36.4h0m-19.3 10.6h0m6.6 18.5h0m-5.4-15h0m5.2 8.1h0m2.3 25.4h0m-1.6-2.3h0m-4.2-12.1h0m15-23h0m-4.5 39.4h0m9.3-35.4h0m-18.4 25.4h0m15.3-2.4h0m-16.9 0h0m15.5 14.4h0m-9.4-23.9h0m2.7 5.7h0m-12.8 1.6h0m12.3-8.4h0m-10.8 25.4h0m4.7-29.7h0m17.4 14.7h0m-.4-8.3h0m-4.1-17.4h0m-10.6 28.6h0m1.8 8.2h0m15.9-.4h0m-23.7-15.5h0m-.9 4.8h0m-1.2 7.5h0m3-3.4h0m-3.7-4.5h0m6.1-4.8h0m9.1 7.4h0m-4.1 11.4h0m10.6-2.5h0m-7.3-22.4h0m-13 23h0m21.2-7.2h0m4.3 8.6h0m-22.1 .5h0m7.6-3.9h0m-6.9 1.4h0m11.9-8.3h0m3.1-11.5h0m-4.2 12h0m-4.4-.6h0m4-16.5h0m6 5h0m-9.5 18.3h0m7.2-17.9h0m-6.6 8h0m-11.7 8.1h0m10.1-23.3h0m6.2 21.2h0m-8.4-.4h0m18.3 2.5h0m-25.7-2.4h0m3.9-7.7h0m13.8-5.5h0m3.5-17.1h0m1.9 13h0m-10.4 26.2h0m9.1-41.9h0m2 19.5h0m-14.6-11h0m16.7 32.3h0m-2.2-11.7h0m-21 6.9h0m3.4-19.2h0m6.1 8.6h0m6.5 15.1h0m-13.5-.8h0m13.1-12.9h0m.3 9.6h0m-12.8 5.7h0m3.3-7.3h0m9.9-1.1h0m-1.6 5h0m4.9-3h0m-16 0h0m4.3-.3h0m-2.7-16.8h0m13.9 21.5h0m.9-.9h0m-2.7-17.6h0m.4 18.2h0m-22.4-10.3h0m14.6-2.6h0m-10.1-1.5h0m16.7 5.5h0m-8.5 9h0m13.4-31.9h0m-25.8 31.6h0m11.4 3.4h0m-2.7-1.8h0m-6.3-21.8h0m5.6 16.6h0m3 7.7h0m-3.9-36.9h0m9.7 16.3h0m1.5 15.2h0m-11.6-26.3h0m-3.3 12.5h0m10.2 17.9h0m8.3-34.9h0m-17.7 20.8h0m-4.7 10.6h0m24.7-22.3h0m-11.7-7.1h0m9.3 10.5h0m-5.8-17h0m-11.6 19.7h0m.1 8.7h0m10.1-13.3h0m-2.5 9.9h0m9.8 5.7h0m-17.1-39.8h0m3.4 34.9h0m14.7-5.8h0m-.1 18.4h0m-22.1-23.2h0m14.7 14.1h0m-8-10.9h0m11.9 15.5h0m-1.2-.8h0m-8.4 3.1h0m15.3-39.1h0m-7.5 40.1h0m-13-11.8h0m5.9-28.3h0m-3.6 35.6h0m19-7.4h0m-15.4-1.1h0m-3.3 10.8h0m19.8-4.4h0m-25.4-.9h0m-.3 9.9h0m12.9-12.1h0m3 12.1h0m4.4-38.1h0m4.6 22.8h0m-25.3 16.5h0m5.8-2.1h0m8-21.2h0m11.5 9.2h0m-23 10.2h0m24.1-6.4h0m-8.9 3.5h0m-17.6 .4h0m20-2.3h0m1.9 3.2h0m1.2-6.1h0m-9.6-38.5h0m-4.1 34.6h0m16.7-.2h0m-19.6 3.3h0m-4.5 5h0m6.5-.7h0m-4.6 1.4h0m21.4 3h0m-20 3.1h0m6.9-30.1h0m5.6-9.4h0m-9.6 38.9h0m11.6-2.3h0m-8.2-1.4h0m2.1-21.1h0m7.9 2.4h0m-17.4 15h0m17.4-31.1h0m-17.5 13.1h0m18.7-38.6h0m101.8 113.8h0m-6.1-4.2h0m9.3-3.7h0m-9.7-18.6h0m5.4 1.4h0m-12.5 24.9h0m12.3-19.3h0m-10.6 19.9h0m-2.5-16.8h0m12.5 15.8h0m-16.5-10.5h0m12.4 7.5h0m-10.8-4.3h0m6.4-10.9h0m5 15.8h0m-13-8.9h0m2.6-1.6h0m8.4 9.8h0m.9 2.3h0m11-2.5h0m-14.9-5.9h0m-9.2-1h0m24.8 10.6h0m-23.4-10.2h0m8.8-3.1h0m-5 10.1h0m8.8-3.7h0m-1.7 6.8h0m13.7-1h0m-5.8-6.5h0m-19.7 6.4h0m16.8-27.3h0m-6.5 30.5h0m14.5-10.1h0m-22.6-1.1h0m13.8-10.1h0m-8.2 19.2h0m13.8-14.7h0m-4.6 16.3h0m-7.4-16.3h0m3.2 13.1h0m1.1-6.6h0m-11.9 7h0m13.6 .5h0m-3.9-2.9h0m11.9-17.5h0m-15.6 10h0m-8.8-5.5h0m23.6-3.3h0m-19.7 13.8h0m14.8-13.5h0m-6.8-11.7h0m1.7 32.8h0m3.5-7.4h0m-15.1 1.3h0m13.9 1.6h0m-17.6-.7h0m2.1 .7h0m10.7 2h0m14.9-10.7h0m-8 5.3h0m-19.8 1.4h0m4.7 2.8h0m-3.1-17.2h0m25.6 8.9h0m-24.6 11.2h0m20.3-3.1h0m-10.3-8.8h0m-6.3 7h0m6.5-4.7h0m-6.4 7h0m5.4-8.4h0m4.4 2.2h0m-.8 3.2h0m-14.6-2.6h0m-.1 2.9h0m15.4 1.7h0m-8.6-3h0m11.3 6.6h0m1.7-17.8h0m-11.6 4.4h0m-7.4 12.8h0m1.2-2.6h0m23.1-11.5h0m-13.3-1.2h0m-8.9 7.5h0m6.8 1.2h0m18.3 8.6h0m-15.1-12h0m-6.5 .4h0m-6.5-1.5h0m12.8 6.4h0m10.6-15.6h0m1.9 21.6h0m-17-19.6h0m4.5 14h0m-9.8 2.5h0m14-7.7h0m-15.2-19.6h0m24.3 11.8h0m-5.5 17.2h0m-6.2-3.4h0m2.9 3.5h0m-15.2-14.8h0m24.5 9h0m-26.6-7.3h0m25-4.3h0m-13.7 10.5h0m-.9 4.5h0m2.2-13.2h0m-4.7 14.8h0m12.5 .8h0m-13.9 1.2h0m3.1-15.2h0m16.6 2.3h0m-13.3-5.3h0m-12.1 15.2h0m5.5-8.5h0m.2-4.5h0m-1.9 6.9h0m9 2.6h0m-7.1 2.2h0m2.6-8.5h0m2.5 1.4h0m8.6-10.1h0m-10.6 16.6h0m-4.2 4h0m.5-9.5h0m11.7 4.8h0m2.1-11.9h0m-6.8-.9h0m-2.7 4.5h0m-4.9-.4h0m5.2 14.8h0m14.5-13.4h0m-19.8-4.2h0m14.1-1.8h0m7.4 3.6h0m-21.1-41.7h0m14 6.3h0m87.3 19.4h0m6.8 9.5h0m16.4-13.3h0m-8 5.7h0m-1.6-23.9h0m.7 29h0m-3.5-23.3h0m9.8 33h0m-15.2-16.5h0m14.4-28.3h0m-10.3 16.9h0m7.4 14.7h0m-16.4 7.8h0m12.2-14.4h0m-11 20h0m.6 .4h0m10.5-29.3h0m-7.8 21.5h0m10.6-19.3h0m-17.3-15.7h0m.6 13.1h0m20.3 18.1h0m-4.6 2.2h0m-1.3-11.4h0m-1.8-34.2h0m-5 54.2h0m.9-31.4h0m4.6 18.6h0m-14.3 12.1h0m3.5-.8h0m11.9-42.7h0m-9 15h0m-5.5 20.7h0m18.9-28.8h0m-16.5 25.7h0m20.4 8.1h0m-1.7-15.9h0m-10.7 6.7h0m7.8 6.3h0m3.5-14.8h0m-6.2-17h0m10 21.4h0m-24 15.5h0m2.3-21.2h0m15.6 20h0m-9.9-8.2h0m7.8-22h0m4.2 1.1h0m-12.7 11.6h0m1.6 15.4h0m8.5-21.8h0m4.2-22.8h0m-10.5 41.7h0m6.5-16.1h0m-10.8 14.1h0m7.2-14h0m-17.3 16.9h0m5.8-11.4h0m10.3-6.7h0m8.9 14.3h0m-1.2-36.9h0m-18.5 19.2h0m22.2 4.6h0m-6.7-22.1h0m-2.3 32h0m-12.4 2.9h0m17.5 10.2h0m-13.1-34.8h0m8.2 16.7h0m-6.2-6.1h0m5.6 1.1h0m9.2 2h0m-2 20.4h0m-19.9 1.2h0m15.1-21.3h0m-14.2 4.6h0m13.7-18.6h0m-3.4 9.8h0m-3.9 22.8h0m14.5-23.8h0m-23.1-9.8h0m14.3 8.4h0m-16-18.9h0m19.7 21.7h0m-13-.2h0m8.3 .6h0m-9.7 1.8h0m18.2-.1h0m-4.5 13.5h0m-10.2-19.1h0m12.9 13.4h0m-2.3 14h0m1.7 1.7h0m-23-10.9h0m2-18.1h0m9.5 16.8h0m-2.7-16.8h0m13.4 4.2h0m-11.1-11.2h0m-8-10.3h0m3.7 36.4h0m14.8 8.7h0m1.8-24.4h0m-7.2 3.1h0m6.3-4h0m-6.7-11.2h0m-4.6 21.2h0m16.1-.5h0m-22.4 16.1h0m.8 1.3h0m-1.5-4.7h0m16.9-13h0m-8.5-19.6h0m-6.4-4h0m15.1 10.8h0m-20.1 13.7h0m18.3 7h0m3.3-11.9h0m-17.7 13.1h0m4.4-2.3h0m15.3 7.1h0m-18.4-12h0m11.5 16.1h0m-16.6-10.1h0m21.1-16.4h0m-12.6-2.1h0m7.4 13h0m-17 8.4h0m23.3-30.4h0m-.3 6.4h0m.9 12.6h0m-5.1-11.7h0m-18 2.7h0m1.1 17.2h0m.6 10.3h0m23.5-31h0m-2.4-9.6h0m-17.6 19.5h0m1.8-32h0m-3.7 7h0m17.6 28h0m-10.4-37.6h0m-5.3 44.8h0m5.2 2.8h0m14.8 7.8h0m-25.7-11.6h0m22-8.2h0m.4 16.3h0m-3.9-26.3h0m-11.2 21.3h0m16.9 2.2h0m-8.4-4.9h0m-7.5-13.7h0m-8.1 5.6h0m6.8 10.7h0m9.8-11.8h0m2.1-10.8h0m-8.6-9.7h0m4.3 41.1h0m-9.6-16.1h0m10.5 14.7h0m-1-22.9h0m-8.1 13.2h0m12.1-.4h0m7.9 2.1h0m-16-31h0m14.4 3.1h0m-10.8 28.3h0m-9.6 8.5h0m9.3-41.7h0m3.8 15.1h0m7.1 12.1h0m-21.3 .9h0m15-34.8h0m-17.7 3.1h0m4.4-1.4h0m13.7 20.7h0m-2.8 22.6h0m-1-20h0m11.7 6.1h0m-18.3-30.3h0m10.9 38h0m3.9-26.2h0m-21.1 8.3h0m5-9.4h0m5.2 29.7h0m10.4-8.7h0m-3.4 5h0m-17 .5h0m7.6-1.3h0m3.3-59.4h0m101.2-31.3h0m-7.9 28.5h0m18.3-13h0m-6.3 15.9h0m-2.2-7h0m-10.7-9.9h0m10.2 14.2h0m5.8-43.1h0m-12.1 42.7h0m4.7-9.4h0m3.2 23.2h0m-1.8-1.2h0m-.6-40.7h0m5.2-29.4h0m1.4 70.6h0m-15.5-46.1h0m3.5-4.2h0m.9 52.7h0m-1.3-15.4h0m2.8-20.2h0m1.8-8.5h0m-1.2 42.6h0m7.9-5.6h0m-13.4-44.8h0m23.5 21.5h0m-.8 12.7h0m-16.1-28.7h0m-6-4.2h0m17.1-20.6h0m-3.7 .6h0m1.1 13.7h0m-.1 53.3h0m-9.4-52.6h0m-2.2-13.6h0m3.5 12h0m13.8 44.2h0m-9.2-24.9h0m4.1-17.4h0m-15.2 30.8h0m4.5-26.4h0m-2.6 17.3h0m13.5-5.2h0m-16.1 12.3h0m9.3-4.7h0m8 .1h0m-11.9-5.1h0m4.6 8.8h0m9.7-4h0m-19.6 29.7h0m7.5-41.7h0m8.8-15.2h0m-10.6 52h0m15.2 12h0m-15.6-1.4h0m12.3-27.8h0m-10.2-.2h0m12.4-4.9h0m-1.4 8.6h0m4.6 1h0m-18.6-53.7h0m18.7 37.1h0m-1.3-16.7h0m-17-3.6h0m14.2 53.9h0m-8-32.6h0m4 15.6h0m1.6 20.6h0m-17.6 .6h0m5-10.7h0m18.2 12.7h0m-14.7 1.7h0m15.7-26.3h0m-5.3-6.6h0m3.3-37.1h0m-15.7 58.5h0m-8.6 6h0m7.5-3.8h0m0-55.6h0m6.8 26.6h0m2.1 12.4h0m-9.3 8.4h0m-5.3 11h0m16.1-56.3h0m4.6 33.3h0m-13.4 27.9h0m11.4-32.9h0m-11.9-1.6h0m11.7 29.7h0m-7.6-30.2h0m3.1 10.8h0m-5.3-12.3h0m7.1-13.7h0m6.7 38.6h0m1.4-26.4h0m-23.5 29.2h0m19.1 8.5h0m-7.2-51.1h0m.8-5.3h0m12.1 8.8h0m-20.9 5.5h0m11.5-29.6h0m-7.5 12.4h0m16 55.1h0m-5.6-29.6h0m1.8 1.2h0m-11.3-23.9h0m-4.8 .3h0m13.9-20.7h0m-19.4 78.6h0m5.4-39.6h0m14.3 23.5h0m-5.1-7.7h0m-5.2-36.5h0m4.1 28.3h0m4.1-9.4h0m8.1 15.6h0m-5.4 8.2h0m-4.1-37.3h0m-8.7 38.9h0m16-39.1h0m-21.3 28.1h0m24.1-19.9h0m-5.4 41.5h0m3.5 .9h0m1.8-28.9h0m-11.8 11.6h0m6-39.2h0m-12.8 20.2h0m7.5-15.7h0m2.2 25.1h0m-6.3 29.8h0m7.3-59.3h0m-14.5 26.4h0m19.7-41.6h0m1.1 64.3h0m2.3 7h0m-24.2-52.7h0m16.8 29.7h0m-11.2 14.7h0m13.4-10.9h0m-1.1-48.4h0m-1.7 54h0m-2.8-40.9h0m6.3-8.8h0m-15.1 45.8h0m18.3 16h0m-2.2-22.1h0m-5.3-18.8h0m-4.7 33.4h0m-11.2-39.5h0m12.1 44.6h0m-.4-18.5h0m-10.8-35.2h0m7 32.1h0m-6.1-24.4h0m21.7 45.7h0m-14-50.5h0m-2.8-10.7h0m4.7 49.4h0m3.4-12.2h0m-14.8-43.3h0m9.7 73.7h0m-2.3-25.7h0m10.7 1.6h0m-15.8-1.1h0m13.9-2h0m.2 5.8h0m-1.7 21.4h0m-9.6-56.5h0m17.4-8.3h0m-17.6 53.8h0m8.8-13.1h0m-3-24.9h0m.5 23.7h0m-1 11h0m-.5-.2h0m-1.9-33.9h0m16.2 30.3h0m-.2 11.5h0m-23.8-37h0m23.9 31.2h0m-12.7 5.6h0m10.5-10.8h0m3.3 11.3h0m-12.2-32.1h0m-7.3 29.7h0m-4.1-17.1h0m-3.4 18.3h0m24.3-.9h0m-15.1-40.9h0m2.7-56h0m2.1 9.6h0m101.6 160.7h0m-10.1-20h0m16.8-1.2h0m-8.5 29.3h0m-9.8-10.2h0m19.6-16.3h0m4.8 26.4h0m-21.1-19.3h0m18.3 14.9h0m-20.8-.9h0m3.9-6.1h0m8-19h0m10.2 10.4h0m-17 19.7h0m1.7-8.1h0m.7 8.6h0m10-12.7h0m-.1-19.9h0m4.4 24.6h0m-10.5-4.3h0m15 8.9h0m-13.9-15.1h0m-11.8 15h0m9.6-8.1h0m-6.5-4h0m3-9.3h0m-.8 24.5h0m-6.3-17.2h0m.3 21.2h0m9.6-19.9h0m-9.7-.3h0m20.5 21.3h0m-15.2-12.3h0m-1.2-3.2h0m-5.2 14.1h0m21.3-21.5h0m-2.5 22.1h0m7.2-4.9h0m-19.4 4.5h0m9.9 .5h0m1.7-10.8h0m-18.2 6h0m16.5-7.8h0m-10.1 11.4h0m14.5-7.2h0m7.1 7h0m-8-7.6h0m7.3 6.5h0m-15-13h0m9.9-19.5h0m-16.6 31.6h0m-2.4-4.6h0m10.1-9.1h0m-3 2.2h0m9.6-4.8h0m-8.5 20.5h0m12.1-24.9h0m-3.2-2.7h0m3.1 18.4h0m-13.4-8.4h0m12.9 5.9h0m-13.7 6.2h0m-6.1-17.3h0m-1.9-4.2h0m2.3 8.6h0m7.4 9.2h0m15.1 4.7h0m-16 2.8h0m2.4-5.2h0m-4.1-26.1h0m13.6 27.4h0m-12.5-.9h0m3.1-6.8h0m-.9 12.7h0m-5.5-1.8h0m14.8 1.8h0m-9.2-33.3h0m-3.8 1.6h0m-5.4 27.6h0m4.3 4.4h0m7.6-10.7h0m-13.9 4.8h0m24.4-2.6h0m-6.8 4.5h0m-12.8-6.7h0m14.3 11.1h0m-4.8-18.6h0m3.2-3.1h0m-16.6 9.5h0m18.6-2.5h0m7.6 11.5h0m-8.5-32.9h0m-11.5 23.8h0m5.9-22.9h0m.6 22.9h0m-1.4 10.6h0m1.8-8.9h0m-6.5-16.4h0m5.2 15h0m8.8 3.5h0m5.2 6.6h0m-16.8-16.4h0m2.2 11.2h0m13.8-3.2h0m-16.2-.7h0m-10.3 4.7h0m10.2-21.2h0m-1.1-5.6h0m-7.4 20h0m9.9 10.5h0m2.7 2.3h0m-7.3-17.6h0m.8 16.7h0m17.5-6.2h0m-10.9 0h0m4.4 6.1h0m6.5-14h0m-17.4 9.7h0m5.1-3.5h0m-.7-8.4h0m13.7 9.6h0m-22 3h0m11 1.3h0m8 .3h0m-14-2.1h0m-3.6-9.6h0m6.5 4.7h0m3.8-8.9h0m-7.8-17.9h0m2.3 22.4h0m-10.4 12.4h0m21.8-2.6h0m-20.9 4.1h0m21.8-25.8h0m-10.3 3.3h0m.1 3.4h0m-10.3 13.3h0m1.5-8.7h0m-1.5 2h0m13.8 5.8h0m5.7-6.3h0m-14.8-.8h0m17.1-6.4h0m3.8 17.7h0m-11.9-.3h0m-11.2-29.5h0m-2.6 28.5h0m11.3 4.4h0m9.3-19.6h0m-19.2 3.8h0m23.8 13.7h0m-9.7-14.3h0m8.5 13.1h0m-17.8-5.9h0m13.9 4.5h0m-12.7-14.5h0m-1.9-6.4h0m-4.3 21.3h0m15.5-20.8h0m-12.4 8.5h0m13.2-3.2h0m-13.5-10.7h0m13.8 16.1h0m-3.4 10.2h0m1-27h0m-6.5 13.4h0m.1-4.1h0m13 8.1h0m-15.3-14.1h0m12.5 15.1h0m-11.2 6.6h0m2.5-30.7h0m-10.9 34.9h0m22.6 2.1h0m-1.3-22.8h0m-11.9 5.2h0m10.8-18.1h0m-15 7.8h0m10.9 27.4h0m-11.6-33.7h0m9.9 17.3h0m7.6-2.7h0m-11.4-10.6h0m-3.2 6.4h0m3.5 11h0m2.7-1.9h0m1.1-17.4h0m-11.5 22.9h0m19.3 1.1h0m-19.4 6.7h0m6.4-50h0m5 .2h0m101.2-10.6h0m-6.1-1.9h0m-1.8 10.4h0m9.3-6h0m12.2 17.5h0m-1.7-16.7h0m-21.6-7.4h0m-2.2 1.6h0m1 19.3h0m-.3-45.3h0m14.8 36.3h0m6.9 11.2h0m.4-46.5h0m-5.2 47.8h0m-2.8-10.2h0m-2.5 6.3h0m-1.4-12.8h0m-4.4-42.8h0m15.9 20.9h0m-10.8 12.9h0m-1.3-8.2h0m-5 20.4h0m5.2 13.7h0m7.8-18.4h0m-2-33.6h0m-17.2 48.2h0m2.3-10.8h0m24.5-9h0m-17.6 2.7h0m14-9.5h0m-11.2 3.9h0m-5.1 .7h0m18.8 25.1h0m-21.5-23.7h0m20.1 8.5h0m-12.4-30.4h0m-9.8 37.5h0m24.6 10.7h0m-22-13.9h0m1.2 12.9h0m12.4-.8h0m-16.7-10.2h0m-1.4 4.3h0m20.7-13.3h0m-1.8 19.3h0m8.5-.1h0m-8.2-16.2h0m-13.4-30.2h0m13 46.8h0m6.5-6.1h0m-7.2-19.2h0m-6.7-10.7h0m-2.8 15.3h0m13.8 3.7h0m-12.8-38.9h0m14.1 3.2h0m-8.6 49.4h0m-13 1.6h0m17.2-25.1h0m-14.5 12.9h0m10.2 .6h0m-11.3-16.1h0m4.9 28.8h0m19.2-2.1h0m-9.9-15.2h0m5.1-26.8h0m-14.1 42.9h0m14.3-6.6h0m-21.8-25.8h0m21.1-10.9h0m-6.6 4.8h0m-6 9.9h0m16.3 25.4h0m-1.6 5.7h0m-4.4-24.7h0m-8-9.1h0m15.6 32.9h0m-4.5-41.5h0m-14.9 38.1h0m-.7-11.9h0m9.1-42.1h0m-.7 33.9h0m-8.8 8.7h0m20.2 8.5h0m-8.8-28.3h0m-12.4 12.7h0m-6.3 17.2h0m5.2 5.7h0m1.3-38.2h0m-4.4 34.5h0m1.2-.2h0m5.7 4.3h0m8.3-11.5h0m-13.8-5.9h0m4.5-16h0m9.2-5h0m-17.3 28.8h0m8-35.2h0m9.7 28.9h0m-11.8-2.4h0m6.8-5.9h0m-11.6 5.1h0m9-11.4h0m11.2 25.5h0m-12.7-17.9h0m12.8 3.6h0m-4.2 17.9h0m-7.5-34h0m14.4 29.7h0m-15.4-32.7h0m7.3-16.1h0m6.1 30.5h0m-12.2 23.4h0m13.2-50.5h0m-18.3 28.9h0m-2 2.1h0m6.2 17.4h0m8.2-23h0m1-11.2h0m-18.2 27.8h0m21.7-2.7h0m-11.8-22.7h0m11.7 12.8h0m-9.5-6h0m2.6 .8h0m-.8-26.5h0m13.3 44h0m-1.8-25h0m-21.6-10.9h0m21.8 45.2h0m-25.7-4.4h0m23.9 .4h0m-12.6-3.6h0m-4-32.6h0m10.4 34.1h0m-15.2-12.9h0m21.9 14h0m-12.2-33.5h0m-2.8-17.1h0m.3 34.9h0m1.1 12.7h0m12.9-17.1h0m-12.9-15.3h0m-3.4 30.8h0m14.7-12.5h0m5.8 12.7h0m-14.7 3.7h0m10.9-37.2h0m-13.6 15.7h0m14.6 22.4h0m-13.5-9.4h0m-10 10.9h0m9.2 .5h0m16.4-29.7h0m-18.9 3.9h0m9.1 28.4h0m3.8-39h0m-15.7-16.3h0m13.7 50.7h0m-12.7-14.2h0m20.4 16h0m-12.9-19.4h0m9.4-3.6h0m2.9 12.4h0m-2.6-1.6h0m-4.8 6.7h0m-9.4-37.2h0m-4.1-.6h0m17.4 40.2h0m2-2.8h0m-18.7 4.8h0m8.5-7h0m.5 5.4h0m9.2-26.1h0m2 17.6h0m-19.7-11.7h0m3.7 10.9h0m5.5-19.8h0m-15.1 18.7h0m11.3 1.7h0m-5 11.6h0m-.7-51.7h0m17.4 51.1h0m-8.9-15.3h0m12.6-9.6h0m-18.5-7.7h0m17 1.1h0m1.8 22.7h0m-5.4-14.5h0m-10.6 16.3h0m2.5-51.8h0m116.5 69.9h0m-17.1 5.4h0m5.7 2.4h0m4.8-1.7h0m2.8 6.2h0m2.1-3.5h0m-21.1-41.9h0m18 28.9h0m-17.1-8.8h0m-3.9 23.2h0m11.5-1.3h0m-6.1-12.8h0m21.6-7.1h0m-17.4-3.6h0m14.5 10.9h0m-18.9-15.2h0m17.8-22.1h0m-16.6 20.9h0m16 16.5h0m-4.4 7.5h0m5.8-37.7h0m-18.7-1.8h0m17.5 44.6h0m2-35.7h0m-20.9 9.9h0m5.9-18h0m8.9 35h0m-4.5-14.6h0m8-31h0m-11.9 18.8h0m14.8 14.7h0m-14.4-26.3h0m2.6 23.1h0m12.4 15.1h0m-13.3 9.6h0m7.8-1h0m-5.9-26.3h0m3.2 15.6h0m-13.3-3.8h0m11.3 9.4h0m8.9 5.5h0m-22.1 1.6h0m17.2-13.1h0m-16.4 4.7h0m15.3 3.6h0m7.4-15.2h0m-19.3 18.3h0m-1.4-.2h0m-4.3-1.3h0m20.6 .8h0m.7-30.2h0m-9.6 32.2h0m-12-10.4h0m12.1 5h0m11.8-17.2h0m-13.7-11.6h0m13.7 34.3h0m-12-8.3h0m13.8-5h0m-12.9-43.6h0m-9.3 53.1h0m12.6-8.2h0m-6.1 2.6h0m-.3-3.2h0m13.1-6.3h0m-20.3 6.7h0m10.6-13h0m10.7-2.2h0m-11.3 21.3h0m-6.6 6.3h0m17.5-13.1h0m-20.3-31.2h0m23.4 29.8h0m-23.3 9.5h0m1.8-17.9h0m10.4-9.7h0m-8.4 28.1h0m-5.9 .3h0m23.3-31.4h0m-17.9 22.6h0m1.8-25.5h0m-.6 34.2h0m1.8-28.5h0m10.8-2.2h0m-13 23h0m-1.7-4.4h0m16.4 3.6h0m-4.4-7.8h0m-9.8-.8h0m-2.1 22.2h0m16-12.7h0m-10.7 13.1h0m.3-30h0m-6.8 22.4h0m22.7-4.7h0m-11.3-24.6h0m-7.8 37.2h0m-2.3-6.5h0m1.4-19h0m-3.5 12.3h0m15.1-45.3h0m6 31.2h0m-13.2-12.3h0m6.1 21.8h0m3.6-5.9h0m-5.1-10.2h0m7.7 7.3h0m-17.7-12.9h0m-.4 38.2h0m-1.8-1.2h0m3.9-2h0m-4-10.5h0m-4.5 5.5h0m25.9 7.4h0m-17-30.3h0m-8.2 2.9h0m1.8-28.9h0m9.7 44.5h0m-2 11.2h0m11.7-35.2h0m5.6 30.8h0m-12.9-24.9h0m10 24.2h0m-14 5.7h0m-3.2-39h0m14.2 40.7h0m-1.1-15.5h0m-15.7-12.2h0m1-19.4h0m15.2 29.7h0m2.8 .9h0m-13.7 14.1h0m17.7-1.3h0m-18.3-52.5h0m12.5 44.3h0m-5.8 10.6h0m-7.7 1.1h0m10-25.9h0m-.2 1.9h0m-8.8 11.7h0m14.2-13.8h0m-17.2 11.6h0m-2.3 8.1h0m21-51.3h0m-5 52.7h0m4.4-11.3h0m-21.1-3.5h0m-3.9 16.4h0m9-8h0m4.5-29.7h0m5.9 38.2h0m5.7-37.2h0m-7.3 37.9h0m-9-13.8h0m3-19.7h0m5.1 15.2h0m5.3-22h0m-19.8 25.8h0m24-2.2h0m-23-7.1h0m11.9 16.3h0m-1.2 9.3h0m-2.7-5.7h0m7.5-20.7h0m-16-22.2h0m1.9 32h0m19.2-5.9h0m-17.8 7.8h0m9-3.4h0m-1 14.9h0m-5.7-7.6h0m9.4-12.7h0m-.5 14.6h0m8-31.3h0m-4.6 40.4h0m3.4-21.6h0m-3.5-29.7h0m3.8 42.3h0m-23.5-9.1h0m7.7-20h0m5.4 6.7h0m9.1 10.6h0m-20.8-9.3h0m9.5-13.1h0m15.2 16.1h0m-22.3 24h0m19.3-27.1h0m-5.1-18.1h0m-11.6 43.2h0m19 .2h0m-6-59.5h0m86.6 53.8h0m21.5-10.6h0m1.7-6.4h0m-3.2 15h0m-18.3-7.6h0m8.2 10.3h0m12-5.2h0m-1.8-3.4h0m-11.4 16.4h0m-4.3-23.9h0m7 7.5h0m6 .1h0m-5.8-5h0m-8.2-11.4h0m11.8 16.3h0m-16.3 7.8h0m14-9.4h0m-9.6 9.3h0m-1.1 2.7h0m7.8-21.1h0m14 13.1h0m-17.3-.4h0m5.9 7.7h0m-3.1 .1h0m-1.2-5.9h0m10.4 9.8h0m-20.6-2h0m11.2-6.5h0m8.1 5.6h0m-2.3-4.9h0m-9-25.2h0m16.2 25.7h0m-14.2 10.1h0m-1.1-12.1h0m-4 .6h0m7.3 8.1h0m-10.6-16.9h0m11 17.6h0m5.1 .5h0m-1.3-11.1h0m5 .9h0m-17.3-9.9h0m14.6 17.7h0m-.6 2.9h0m-12.6-13.6h0m9.3 2.8h0m-4.5 2.5h0m9 10.4h0m.4-1.1h0m5.8-5.8h0m1.3 1.7h0m-8.2-22.8h0m-8 13h0m5 .3h0m3.5 .4h0m-11.7-7.7h0m10.9 9.9h0m-5.7 .1h0m-11.5-8.3h0m0 15.3h0m20 2.2h0m-7.8-4.7h0m9.8-3.2h0m-8.5-5.1h0m1-2.5h0m-3.4 7.9h0m-4.9 5.8h0m-4.1-13.9h0m1.8 7.3h0m-.9 8.1h0m9.7-22.4h0m-6.1-6.8h0m-6.3 11.9h0m20.9 17.2h0m-5 .7h0m-15.1 .7h0m1.4-3.3h0m-.4-3.8h0m9.9 .6h0m-9.8 2.4h0m6.4 3h0m-2.4-4.5h0m-2.6-1h0m21.6-17h0m-25.2 20.1h0m12.4-5.2h0m5.5-5.2h0m3.4 9.6h0m-6.7-11.2h0m-11 16.1h0m17.4-10.9h0m-6 5h0m-14.6-1.2h0m13.5-17.9h0m-3.5 15.5h0m-1.4-8.2h0m-2.7 10.9h0m8.6 1.6h0m-11.8 3.8h0m-1-.8h0m13.4-.6h0m-.1-15h0m-1 15.3h0m-6.8-11.9h0m13.2 4h0m-.6-5h0m-10.2-2.1h0m12.5-10.8h0m-19.8 25.6h0m15.2-5.4h0m4.8-16.9h0m-8.6 25.1h0m-9.6-8.1h0m7.4-31.5h0m9.2 32.8h0m-7.4-23.4h0m-9.1 4h0m-2.9 12.7h0m18.8 14.1h0m-15.6-21.1h0m18.4-9.1h0m-24.4 17.9h0m20.5-10.7h0m-11.9 16.6h0m17.6-.2h0m-1.4-1.1h0m-5.6-10.9h0m-4.4 7.5h0m-.3-.4h0m-10.1 8h0m18.9-22.6h0m-19.9 19.8h0m8.8-14.1h0m-3.8 11.4h0m10.4-1.7h0m-8.4 9.4h0m9-33.6h0m-.4 34.9h0m-13-5.2h0m3-6.1h0m14.1 .4h0m-14.5 3h0m-5.4-7.9h0m3.2 12.3h0m-1.2-20h0m22.8 24h0m-21.2-5.3h0m-7.5-1.5h0m.5-.9h0m17.1 .3h0m-4.3 2.5h0m-8.1-2.9h0m1.9-11.8h0m2.7 9.2h0m7.5 8.3h0m-4.2-12.2h0m-5.6 7.9h0m15.6-18.3h0m-11.2-10.9h0m10.7 32.8h0m4-12.5h0m1.8 11.8h0m-12.2-3.3h0m6.6-1h0m-18.7-27.7h0m20.9 35.7h0m-4.5-18.1h0m2.2 16.1h0m2-8.1h0m-21.2-6.6h0m8.7 14.4h0m-7-16.3h0m-3.9 16.7h0m24.8-8.7h0m-5.4 8.6h0m-10.1-8.5h0m-2.6-4.5h0m8.7 6h0m-2.8 4.5h0m-5.5-13.4h0m12.2-3h0m-4.3-.8h0m4.3 2.5h0m-18.9 14.2h0m13.9-46.5h0m114.5 37.6h0m-9.7-10.2h0m-13.3 23.2h0m21.8-30.7h0m-17.9 17.9h0m16.5-18.4h0m1 31.3h0m-13.9-22.7h0m-6.1 23.5h0m4.5 2.2h0m3.6 9.8h0m1.6-17.5h0m.6 4.9h0m-4.9 2.4h0m-8.6-4.2h0m6.1 7h0m5.8-10.1h0m9.1 1.8h0m3.4-11.3h0m-23.2 16.8h0m12-9.2h0m1.5 12h0m10.7 0h0m.2-11.7h0m-3.9 13.5h0m-20-27.7h0m6.8 13.8h0m9.7 1.1h0m-15-18.6h0m4-.5h0m-4.6 24.4h0m15.8 11.2h0m.7 1.2h0m4.1-12.3h0m-15.7-13.3h0m16.8 4h0m-9.9 12.9h0m-7.9-34.5h0m10.1 20h0m-13.6 20h0m.1-5.3h0m1.3-20.7h0m17.4 4h0m5.2 19.1h0m-15.7-26.6h0m4.9 21.4h0m-2.7-23.6h0m-6.8 .3h0m-5.2-6.5h0m25 18.5h0m-19.6 23.6h0m-.2-29.6h0m10.1 6.9h0m-3.6-10.5h0m-9.7 14.1h0m6.4 1.3h0m16.2 16.1h0m-26.7-2.6h0m14.8-15.3h0m-7.7 12.8h0m18.1 1h0m.7 1.4h0m-21.7-22.2h0m13-1.4h0m-4.3-11.6h0m8.7 18.8h0m-17.7 18.6h0m24-3.6h0m-23.6-.4h0m22.2-5.7h0m-25.2 2.3h0m20.6-15.4h0m-9.9-16.6h0m-2.2 40.8h0m13.6-35.8h0m-11 33h0m-3.4-7.8h0m2.9 .2h0m2.4-18.4h0m-9.5-6h0m4.8 35.5h0m-2.3-9.1h0m16.3-11.6h0m-23.1 15.9h0m16.4-28h0m-8.1-8.9h0m15.3 26.9h0m-10.3 5.5h0m7.7-28.6h0m3.7 20.9h0m-12.9-4.7h0m-8.9 14.7h0m-.8-20h0m8.5 24.2h0m-2.5 1.1h0m3.6-5.1h0m5.3-15.7h0m-12.1 8.6h0m5.8-10.8h0m14.9 3.6h0m-14.4 19.1h0m-1.7-4.8h0m8.7-13h0m-18.3 .4h0m20.5 12.4h0m5.4 2.5h0m.6-16.8h0m-2.5-16.1h0m-11.1 29.3h0m1.1-25.2h0m-5.4 29.3h0m-8.8 2h0m2.2-31.2h0m15.2 4.4h0m.5 3.2h0m-4.7 1.6h0m-10.9 6.9h0m6 2.7h0m1.8 8h0m-1.6-19.1h0m2.1 7.6h0m12.4 17.2h0m-7.6-4.4h0m-6.2-.7h0m-.3-.5h0m5.1-15.1h0m-12.6 12.4h0m19.7-.2h0m1.6 9.3h0m-15.8-9.9h0m-7.2 7.9h0m19.9-25.7h0m-9.8 11.7h0m8.6-26.2h0m-4.6 13.6h0m-13.3 2h0m24 13.6h0m-14.4-7.2h0m13.5 7.6h0m3.1-12.7h0m-2.5 6.7h0m-18 2.2h0m17.8-4.5h0m-12.9 5.5h0m-3.4 5.9h0m18.8 6.8h0m-17.1 .5h0m-3.4-13.2h0m10.4-10.5h0m-5.4-2.3h0m14.2 7.5h0m-4.9 12h0m-9.4-18.7h0m-10.4 8.6h0m-.7 12.8h0m9.9-14.7h0m1.6 10.1h0m9.9-12.7h0m-5.7 15.4h0m3.3-4.2h0m-14.5-12.3h0m15.6 7.7h0m-19.6-1.2h0m14.8-25.9h0m-4.5 32h0m-9.7 1.4h0m9.2 6.5h0m-7.8-6.7h0m12.6-7.6h0m-15.2 17.6h0m.3-5.9h0m23.9-18.4h0m-11.7 20.9h0m-9.3-1.2h0m3.3-32.9h0m16.4 18.1h0m3.4-14.9h0m-21.8 32h0m9.4-4.5h0m-1.2 2.1h0m-10.4-37.6h0m18.5 31.5h0m-16.1 3.6h0m3.3-21.2h0m7.9 20.4h0m1.1-13.2h0m9.7 20.4h0m-1.7-29.7h0m-7.8-10.1h0m-10.7 22.3h0m7.8-45.5h0m-6.9 .2h0m16.1 7.7h0m107.9-79.6h0m-15.3 20.9h0m13.3-10.9h0m-5.2 3h0m-9.1 12.2h0m3.2-13.6h0m4.5-4.7h0m-2 18.4h0m11-10.5h0m-12.8 1.9h0m-9.3 7.1h0m19.8-15.9h0m-14 17.4h0m3.6-7.6h0m2 3.9h0m6.2-12h0m-20.4 6.6h0m20.2-15.2h0m-5.1-16.8h0m-10.6 19.7h0m.4 8.2h0m-7.7 6.5h0m19.1 6.6h0m-15.8-34.9h0m-.1 27.7h0m17.8-21h0m-7.9 17.4h0m8.1-41.5h0m-15.9 36h0m3.7-17.1h0m6.8-6.4h0m-9.7 19.1h0m20.8 21.1h0m-5.7-1.3h0m-17.4-15.7h0m19.3-4.7h0m3.2 12.9h0m-13.7 3.6h0m-1.4-12.4h0m-4.2 9.1h0m1.2-15.8h0m-3.2 16.3h0m.3 5.5h0m9.7 1h0m2.9-4.2h0m-9.1-8.6h0m5.4-38.7h0m11.9 32.9h0m-24.1-5.6h0m1 18.8h0m7.6 3.3h0m13-34.4h0m-6.7 27.3h0m-10.4-13.7h0m-.4 19.8h0m11.7-2h0m-10.7-1.9h0m14.2-11.4h0m-13.9 16.1h0m7.9 1h0m11.6-21.5h0m-24.7 22.4h0m22.3-2.1h0m-18.2-45.9h0m19.2 27.3h0m-12.4-6.1h0m-2.2-12.9h0m2.1 18.6h0m13.7 22.2h0m-13.8-43.9h0m5 40.5h0m-1.1-4.5h0m3.5 2h0m-15.5-5.5h0m7.2 5.5h0m-4.8-17.8h0m6.6 17.9h0m-10.4 5.5h0m10-44.2h0m-.3 26.8h0m-7.9 12.8h0m1.4-22.4h0m14.5-1.7h0m-15.5 21.5h0m17.4-1.8h0m-5.6-3h0m-4.8 5.2h0m-11-5.8h0m18.4 1.2h0m-14.2-10.8h0m20.5 8h0m-16 12.8h0m-6.5-14.2h0m7.8 5h0m-5.8 10.4h0m2-30h0m8.8 28.4h0m11.3-4.7h0m-16.9-6.6h0m-1.5-39.1h0m-8.8 30.1h0m1.6 23.7h0m23.5-10.5h0m-14.8 1.7h0m-.3-2.3h0m-9.9-2.4h0m25.4 1.5h0m-3-15.4h0m-7.2 19.3h0m-1-28.8h0m-5.6 30.5h0m7.2 5.9h0m-11.9-9.5h0m10.2-4.6h0m-5 13.9h0m-6.9-7.1h0m14.1-11h0m.8-13h0m-16.9 11.4h0m25 16.8h0m-9.7 1.4h0m-14.4-17.2h0m6.9 9.1h0m19.1 6.4h0m-20.4-9.8h0m16.3-3.4h0m-21 16.4h0m4.7-13h0m5.1 11.6h0m10-1.5h0m-21-5.4h0m-.4 8.4h0m9.5-2.9h0m2 2.2h0m-2.8 1h0m7-8.9h0m-1.5 7.8h0m10.2-4.9h0m-4.2-18.8h0m4.7-2h0m-6.8 15.2h0m-12.4 4.1h0m17.5-4.3h0m-5.8 2.1h0m-5.3 .8h0m1.6-3.9h0m5.8-23.2h0m7.7 34.1h0m-12.7-27.8h0m-3.4 16.6h0m-9.8 4.5h0m23.9-10.9h0m-16.5 19.8h0m-.1-45.4h0m-3.4 18.9h0m4.2 19.8h0m-8.9 .3h0m17.9-48.7h0m2.9 19.3h0m-.8 7.2h0m-16 21.4h0m17.2 7.3h0m-3.3-20.6h0m-8 3.8h0m14.9 15.3h0m-13.5-17.7h0m-3.2 18.5h0m1.9-35h0m5.1 7.3h0m-10.9 28.2h0m2.5-36.1h0m4 22.4h0m4.2 9.9h0m-13-30h0m0 16.6h0m2.2-17.3h0m16.6 14.2h0m-20.3 4.6h0m4.7-9h0m12.7 5.7h0m8.4 2.4h0m-27.2 14.6h0m24-18.7h0m-18.7-19.4h0m4.1 30.2h0m12.6 7.4h0m-11.1-10.6h0m2.8-3.7h0m-1.4 4.3h0m-.1 .2h0m4.6-46h0m91.1 99.4h0m-.2-.4h0m22.2-5.9h0m-8.5 11.7h0m-3-2h0m-5.7-44.4h0m6.9 26.9h0m1.6 14.4h0m-8.7-7.2h0m-3.3 6.7h0m15.6 3.7h0m-11.1-22.4h0m8.4 9.1h0m7.7-4h0m-20.8-4.5h0m-3.6 7.9h0m8.9 9.9h0m.2-7.8h0m-10 11.8h0m14.2-2.4h0m11.1-15.6h0m-19.2 15.7h0m18.9-23h0m.4 8.5h0m-21.4 17.2h0m4.3-17.5h0m-3.4 14h0m4-.4h0m10.4-7.3h0m4.1 9.2h0m-9.7-22h0m-10.8 13.4h0m4.5 3.6h0m4.7 3.2h0m-10.6-24.5h0m10.6-12.9h0m2.7 21.5h0m10.8 .5h0m-24.4 13.9h0m2.1-34h0m21.7 19.6h0m-.2 1.2h0m1.9 12.4h0m-25.7-1.2h0m8-2.3h0m8.6-6.4h0m-17.7 12.7h0m8.4-16.1h0m2.7 16.7h0m-10.1-12.3h0m1-2.8h0m23.1-13.1h0m-1.9 27.8h0m-7.6-27.3h0m-14 21.4h0m12.4-18.6h0m3.6 13.5h0m-12 3.9h0m8 1.2h0m-.8-13.6h0m7.6 18.9h0m-14.7-30.7h0m5.4 14.7h0m-10.2 20.9h0m-1.7-2.5h0m18.3-7.7h0m-1.9 10.5h0m-8.1-10.5h0m11.8 .5h0m6 .7h0m-2.7-26.5h0m-4.5 12.7h0m7.4 21.6h0m-23.7-14.4h0m3.1 12.5h0m-1.3-13.7h0m19.4 3.9h0m-14.9-3.1h0m-.1-5.1h0m13.6 13.8h0m-7.1-11.5h0m-6.1 5.4h0m15 12.6h0m-2-24.1h0m-6.8 12.2h0m4.3 5.7h0m-1.2-4.9h0m4.7 3.2h0m-21.3-6.1h0m4.4-5.8h0m19.9 3.7h0m-12.7 2.3h0m-9-8.9h0m16 17.5h0m6.3-2.9h0m-14.1-3h0m3.7 7.5h0m11.1-21h0m-23.6 11.6h0m14.5 2.3h0m2.9-7.4h0m5.5-21.4h0m-1 40.5h0m-9.5-40.3h0m5.5-.1h0m7 39h0m-5.8-1.9h0m-12.4-13.3h0m5.2-8.6h0m-3.9 14.3h0m-.3-1.1h0m-7.4 4.2h0m17.3-11.6h0m-2.6 8.2h0m-17.2-30.7h0m16.9 8.3h0m-6.2 1h0m11.2 26.5h0m-17.5 .8h0m17.3-31.5h0m-23.1 30.8h0m24.3-14.3h0m-8.6-23.4h0m-1.1 24.9h0m10.1-11.2h0m-14 24.4h0m13.7-6h0m-10.5-1.7h0m13.6 3.2h0m-25 4.9h0m2.2-1.9h0m20-.5h0m-11-3.8h0m-12.7-6.6h0m24.6-8.8h0m-22.1 23.4h0m16.9-22h0m-8.8 2.5h0m7.6 7h0m1.3-23.6h0m-1.7 29.6h0m-12.7-14.5h0m15.3 22h0m-10.5-7.1h0m10.6-7.6h0m-10.7 15.7h0m-8.6-20.1h0m11.1 19.9h0m-6.1-28.7h0m-6.5 19.9h0m0-3.4h0m5.1-14h0m2.7 22h0m8.2-10.4h0m-15.4-6h0m10.1 3.6h0m5.2-9.1h0m2.5 24.7h0m5.4 2.5h0m-19.5-4.7h0m-4.2-8.6h0m3.5 10.2h0m7-27.4h0m.5 27h0m6.8-11h0m-1.8-7.3h0m-8.4 17h0m-1.6-41.8h0m14.1 29.4h0m-6.9 5.9h0m-4.2 8.7h0m2.4-15.8h0m-6.9 16.8h0m14.4 .7h0m1.8-13.2h0m-15.2 14.2h0m9.3-42.2h0m-3.6 6.4h0m-9.8 14.5h0m13.1 4.2h0m6.6-1.4h0m-14-7.8h0m2.5 .6h0m11.7 6h0m-5 8.2h0m5.7 5.4h0m4.7 2.8h0m-6.3-31.2h0m-12.6 15.3h0m.8 13.1h0m1.5-44.3h0m108.1 54.8h0m-1.1 2.2h0m4.5-33.1h0m3.6-10.3h0m1.2 52.4h0m-12.2-45.3h0m12.7 23.5h0m-11.9 20.4h0m-9.2-31.9h0m-1 6.8h0m15.6 16.6h0m-5.6 .2h0m6.6-9.4h0m-16.9 17.4h0m19.4 1.4h0m-4.8-53.7h0m-12.3 57.7h0m23.7-3.6h0m-8.4-26h0m-6.3 24h0m12-10.3h0m-22.7-13.5h0m26.1 22.9h0m-21.4-24.1h0m7.3 1.1h0m-8-1.9h0m16.3 12.9h0m-6-7.5h0m1.1 17.3h0m-16.3-9.7h0m2.5 8.6h0m21.8 9.8h0m-15.8-36.3h0m1.8 20.1h0m2.3 10h0m4.6-37h0m-12.7 30.7h0m21 12.4h0m-3-11.2h0m-3.2-6.3h0m-11.3 8.8h0m2.9-37.7h0m15.6 31.9h0m-22.7-11.5h0m21.3 10.1h0m-12.3-20.2h0m-4.2 8.6h0m1.4-4.9h0m1.7 30.9h0m-6.6-10.5h0m-2-7.8h0m1.6-2.3h0m5.6 22.2h0m4.2-20.1h0m-7.1 3h0m17.4 5.9h0m.2-38.9h0m-4.1-.5h0m.4 36.4h0m-7.8-23h0m7 36.2h0m-2.8-43.8h0m-9.7 40.2h0m11.4-6.4h0m-12.5 8.3h0m-1.4-2h0m-4.6-4.1h0m8.5-11.7h0m-4 17h0m3.7-11.5h0m1.9-12.4h0m-9.1-4.2h0m8.6 22.9h0m12.8-23.7h0m-19.7 12.6h0m21-34.6h0m1.1 1.6h0m-16.3 15.9h0m13-4.3h0m-15 21.7h0m-7.6 9.4h0m18.4-21.8h0m-7.3 2.5h0m3.8 11h0m6.7-26.2h0m-.2 37.1h0m4.5-38.2h0m-8.3 40.2h0m9.5-3.8h0m-15.8-31h0m8.8 28.3h0m-18.6-8h0m1.4-5.5h0m15.7-1.5h0m7.3-20.5h0m-6.7 4.8h0m1.1 6.4h0m-5.8 32.8h0m-2.2-18.4h0m-3.9-2.3h0m1-7.8h0m-6.1 29.4h0m1.2-2.9h0m-1.9-7.9h0m21.5-19.2h0m-4.2 21.1h0m-10.4 4.7h0m-10 6.7h0m7.2-41.5h0m4.5 35.1h0m-10 2.9h0m15.1-41.5h0m-.5 22.7h0m7.1-22h0m.1 36.7h0m-12-50.8h0m13.9 18.5h0m-6.2 19.2h0m-5.7-7.7h0m6.1-15.8h0m-2.5 26.1h0m.2 10.9h0m-6.7-24.7h0m-7.6-15.6h0m18.2 22h0m4.1-15.1h0m-14.7 29.4h0m0-37.7h0m-5.8 28.3h0m3.4-2.9h0m3.1-8.6h0m-8.5-9.7h0m12.9 3.4h0m-9.5 14.5h0m-2.3 23.1h0m8.2-9h0m-10-8.2h0m21.5-3.4h0m-12.1-1.7h0m15.9 4.6h0m-12.2 11.9h0m7-5.5h0m3.9-25.1h0m-12.4 33.7h0m8.4-8.8h0m-10.5-12.9h0m13.3 .9h0m-9.3 20.9h0m.6 1.8h0m-15.2-23.8h0m6.8-7.1h0m-2.8 15.6h0m19.2-10.4h0m-4.5-12.6h0m-18.8 9.7h0m13.8 23.4h0m0-14.8h0m11.8-15.5h0m-16.4-14.9h0m-.9 50.7h0m4.8-.5h0m5.2-17.2h0m-9.3-16.6h0m.1 26.1h0m-8.8-17.5h0m15.9 12.2h0m-2.5 4h0m8 6.3h0m-4.2 2.1h0m-1.4-26.3h0m-4.9 8.5h0m-7.1 5.5h0m17.1-15.9h0m-6.5 30.2h0m-8.1-56.3h0m-5.8 18.2h0m.2 15.1h0m1.7 14.1h0m9.8-14.1h0m-.2-20.5h0m-10.7 33.8h0m21-41.4h0m-3.1 18.5h0m-10.9 31.4h0m-7.4-26.3h0m11-4.7h0m-10.7-18.9h0m20.2 26.9h0m-9 10.4h0m-11.5 6.8h0m6.5-53.7h0m106.5 116.6h0m6.8-3.4h0m2.9 5.4h0m-.9 .9h0m-8.5-5h0m-3 7.1h0m-4.1-2.6h0m15.5 2.3h0m-10.9 .9h0m16.7-1.6h0m-11.7-10.5h0m-.2 8.7h0m1.7-7h0m3.7-11.2h0m-6 16.1h0m-10.4-9.6h0m16.9 6.6h0m-1.4 7.7h0m-4.2 .1h0m12.9 .4h0m-16.8-14.7h0m6 8.8h0m-4.6 5.2h0m14.8-5.3h0m-13.9 7.1h0m-3-4.9h0m9.5 2h0m-12.6-5.6h0m1.9 7.7h0m6.4-19.9h0m-10.7 18.2h0m4.7 2h0m-7.6-7.9h0m7.7 4.7h0m.8-5h0m2.5 7.7h0m9.4 .7h0m-3.7 .2h0m9.2-9.5h0m.5 5.8h0m-3.7-.8h0m-7.9 1.7h0m6.7 .6h0m-8.9-10.9h0m-11.1 5.2h0m6.7-6.9h0m4.4 11.2h0m13.5-2.9h0m-6.1 .5h0m-11.5-4.8h0m-4.1-1.3h0m6-.9h0m15.2 7.4h0m-1.9 5.6h0m-10.1-9.4h0m-14 7.3h0m6.1-1.4h0m2.6-4.8h0m18.7 1.4h0m-14.7-3h0m9.1-6.9h0m-9.4 10.9h0m10.3 3.9h0m5-3.4h0m-18.7 1.9h0m-5.5-4.6h0m-3.3 1.6h0m15.8 1.8h0m10.2 1.5h0m-4.4-7h0m-3.9 9.8h0m-18.1-2.2h0m16.9-1.2h0m-3.7 3.5h0m-2.9-14.2h0m-.4 13.9h0m-4.8-1h0m1.6-1.5h0m18 2h0m-1.6 .8h0m-21.3-17.6h0m18.3 15.5h0m1.5-9.2h0m3.4-3.9h0m-13.3 9.2h0m7 1.8h0m-16.3-6.6h0m7.5 2.4h0m1.8 6.2h0m2.5-10.6h0m7.7 8.4h0m-14.3-8.5h0m14 10.3h0m-18-20.8h0m123.5-80.3h0m3.1 1.3h0m-4.9 6.1h0m7.3 17.5h0m-23.3-8.4h0m4.7-10.3h0m-4.4 20h0m1.2-35.7h0m-2.9 18.9h0m3.3-18.2h0m17.7-3.4h0m-12.7 7.1h0m-5 27.9h0m3.8-12.2h0m9.8-18.7h0m-13.7 10.3h0m-2.5 12.2h0m12.4 3.3h0m4.5-41.6h0m-5.5 29h0m2.6 22.5h0m8.4-67.8h0m-21.3 53.5h0m19.4 6.8h0m-12.1-9.4h0m-2.4-8.4h0m-5.7-37h0m22.9 50.3h0m-3.3-1.6h0m-13.6 10h0m3.9-16.5h0m-6.6 16.3h0m2.8-8.8h0m1.5 12.4h0m7.8-14.2h0m-13.5-15.4h0m18.7 31.8h0m-.4-39.4h0m-5.1 8.7h0m6.2 4.5h0m-2.7 5.8h0m-18.5-10.2h0m13.6-10.9h0m-17.6 39.4h0m6-32.2h0m21.6 23.6h0m-5.3-17.2h0m3.1 16.3h0m-17.5 10.6h0m-1.5-6h0m-3.6-56.8h0m6.5 54.2h0m13.8 3.6h0m-15.1-51.8h0m9.8 36.4h0m-15.3-3.9h0m16.7-1h0m-1.9-12.9h0m-3.4 35.2h0m10-23.9h0m-6 11.4h0m-.6-38.5h0m-10.5 20.5h0m-.8 6h0m.7-21.4h0m.9 31.7h0m12.5-58h0m-.1 68.9h0m-15.3 4.5h0m2.8-39.6h0m9.2 34h0m-15.8-3.3h0m17.4 3.3h0m-8.3 0h0m16.2-25.2h0m.3 12.3h0m-5.8-33.1h0m-3.2 28.8h0m7.5 6.7h0m-6-5.3h0m2.4-5.7h0m.1-41.3h0m5.4 35.9h0m-.3 2.5h0m-10.1 14.2h0m0-14.1h0m-9.4 5.2h0m18.9 19.7h0m-13.4-39h0m7.9 6h0m-.8 35.6h0m-15.5-42h0m3.7 23.8h0m-7.2-16.2h0m24.8 7.8h0m-7.8 22.7h0m8.6-8.5h0m-17.1 11.8h0m8.4-24.4h0m.6 29.5h0m-15.4-23.4h0m20.8-12.7h0m-12.8-.7h0m5.9 17.2h0m-6.2-4.9h0m-3-21.7h0m18.5 18.5h0m-17.3 6.5h0m-4.5 21.1h0m-3-2.4h0m9.6-24.9h0m-11.3 17.1h0m11.4-17.3h0m-4.6-19h0m.3 39.6h0m19.9-38.4h0m-12.9 42.9h0m-12.2-18.8h0m12.7-3.3h0m-5.7 17.6h0m7.9-9.8h0m-5.2-6.5h0m10.5 9.4h0m-10.8 12.2h0m4.5-1.2h0m-3.7-22.2h0m15.4 19.8h0m-17.9-55.8h0m2.9 57.8h0m14.3 4.4h0m-16.3-32.7h0m-8-.6h0m6.9-27.1h0m17.8 56.2h0m-9.7-32.7h0m-7.9 13.6h0m-9.8 19.2h0m19.8-1.1h0m-17.2-1.1h0m13.1-50.1h0m10.2 43.2h0m1.5-21.2h0m-1-31.9h0m1.2 49.7h0m-9.4-15.7h0m-11 28.6h0m-1.3-4.2h0m.1 7.2h0m13.7-43.7h0m-16.8 8.5h0m16.9 35.8h0m7.2-25.2h0m-.6 20.1h0m-11.1-21.9h0m3 26.9h0m.3-2.2h0m-1-69.7h0m-4.8 49.6h0m-1.8 22.3h0m-9.2-5.7h0m14.5-12.1h0m6.5 5.2h0m-11.5-28.5h0m6.7 28.7h0m-13 6.4h0m7.8 1.3h0m8-31h0m-18.7 3.5h0m10.8 29.7h0m9.7-14.9h0m-20.3 5.1h0m9.4-23.4h0m.9 26.6h0m-.7-6.7h0m3.2 9.9h0m10.2-25.7h0m.6 12.8h0m-8.6-12h0m9 13.7h0m-11.3-21.5h0m-.9-.8h0m-4 3.5h0m-8 10.1h0m12.9-12.4h0m12.7 12.2h0m-26 11.1h0m11.3-40h0m-.4 36.4h0m6.7-15.5h0m2.5 3h0m-14.5-50.4h0m108.8 114h0m6.8-17.6h0m-6.5-23.9h0m-7.7 29h0m4-32.1h0m6.8 22.2h0m11.9 16.1h0m-9 11.7h0m.6-10.9h0m-2.4-.7h0m-14.9-9.1h0m24.5-33h0m-21.5 37.9h0m18.9-2.5h0m-20.3-24.7h0m-.4 28.1h0m3.2-.8h0m20.8-4h0m1.4 1h0m-18.1 20h0m.4-9.8h0m7.6 4.4h0m9.5-1.9h0m-7.9-38.8h0m-9.3 11.6h0m-4.5 11.9h0m5.3 22.9h0m.5-17.9h0m-.3-4.9h0m-7.3-22.7h0m11.8 36.1h0m-12.7-2.6h0m-1.3 8.7h0m4.2-37.2h0m9.9 14.1h0m-2.5 6.4h0m2.8 5.1h0m-13.4-3h0m1.5-2.7h0m23.2 10.8h0m-22.5-5h0m-.7 14.2h0m11.8-25.2h0m10.2 15.5h0m-9.2-5h0m2.5-12.1h0m7.8-21.1h0m-1.6 13h0m-2.1 14.5h0m-.4-12.2h0m1.5-10.4h0m-8.3 .9h0m3.2 30.5h0m-11.6-2.3h0m16 11h0m-.9-12.6h0m-13 7.9h0m5.9-19.6h0m4.6 9.1h0m5.9 8.9h0m-8.4-32h0m-8 32.8h0m9.3 3.9h0m-11.4-4.5h0m19.9-16.8h0m-7.8-20.9h0m2.3 39.3h0m1.7-9.2h0m-8-17.2h0m-7.4 27.4h0m-1.7-43.8h0m-5.1 15.6h0m16.2 19.9h0m3.3-25.8h0m-12 11.1h0m12.3 .1h0m6 27.7h0m-15.6-10.9h0m7.6 12.5h0m-2.2-24.9h0m-4.2 5.2h0m8.8 8.6h0m5.8-4.4h0m-22.2-34.8h0m10.4 37.3h0m7.6 7.1h0m-14.7-21.7h0m11.9 22.2h0m-5.9-15.9h0m12.2 20.3h0m-6.9-46.2h0m5.3 22.7h0m-17.6 8.6h0m10.7 14.2h0m6.6-9.3h0m-4.9-43.5h0m-10.2 45.8h0m7.5-24.4h0m-12.8-12.8h0m9.4 15.4h0m6.6 17.7h0m-18.7-46.4h0m25.4 20.2h0m-14.4-13h0m-9.1 43.2h0m2.6-18.1h0m.5-29.8h0m6.8 23.9h0m3.9 26.8h0m-2.5-17h0m-15.1 19.9h0m17-.2h0m3.8-19.2h0m3.3-1.9h0m-21.4 13.4h0m1.1 10h0m23.8-8.1h0m-2-37.5h0m-23.3 34.1h0m12.6 8.3h0m8.8-50.5h0m-3.6 6.5h0m-2.6 45.9h0m-5.6-36.6h0m-9 8.7h0m4.8-21.3h0m5.8 43.7h0m12.7-27.7h0m-22.4 22.6h0m16.4-7.4h0m-17.7 8.6h0m6.8-42.3h0m11.3 42.6h0m-2.1-.6h0m1.7 1.1h0m4-20.2h0m-17.4-29.3h0m2.1 49h0m9.5-23.7h0m-1 35h0m4.6-65.2h0m-.9 54.3h0m-10.9-28h0m-4.5 32.1h0m9.9-52.7h0m5.4 56.1h0m2.5 4.1h0m-15.9-59.5h0m-1.9 44.2h0m19.1-20.6h0m-2.9 34.8h0m-10.1-33.8h0m-10.1 9.8h0m9.6 8.7h0m3.1-44.8h0m12.6 34.5h0m-.7 9.3h0m-8.8-19.3h0m-6.1 2h0m.5 17h0m8.1-21.3h0m2.8 30.6h0m-19-19.2h0m15.8 12.5h0m-4.8 2.7h0m8.9-7.5h0m-2.9 19h0m-5.3-4.7h0m-9.2-41.4h0m20.4 37.1h0m-10.4-6.9h0m-10.3 7.8h0m8.6-10.9h0m-1.6-5.1h0m.2-36.6h0m-1.8 26.2h0m6.7 17.7h0m-14.1-34.8h0m11.7 11h0m-15 9.3h0m9.6-16.9h0m-4.9 15.2h0m19.3 4.8h0m-9 20.2h0m-5.9 7.1h0m16.1-30h0m-6.2 17.1h0m-14.4-38.9h0m21.5 3.5h0m-23.5-8.2h0m8-16.4h0" stroke="#2b4d8b" stroke-width="5" stroke-linecap="round" fill="none"/>
<path d="M177.5 2253.4h0m2.4-8.2h0m-2-13.9h0m-2.4 26.1h0m8.6-33.1h0m-13 17.8h0m-.3 17h0m20.6-.5h0m-3.9-24.5h0m-16.2 30.2h0m-1.6-12.9h0m19.8 1.9h0m-17.2-28.2h0m3.9 27.8h0m8.5-1.6h0m3.1 5.7h0m-15.4 3.2h0m10.7-12.4h0m-18-4.5h0m12.9 10.2h0m-7.5-7.9h0m5-7.3h0m-3.5 16.5h0m11.1 7.3h0m5.7-30.5h0m-21 4.9h0m17.9 9.5h0m-.1 11.6h0m-2.9-1.5h0m3.6-21.4h0m5.3 26.8h0m-8.9-31.6h0m-4.5 25h0m-4.1 7.7h0m6.1-3.9h0m-10-24.7h0m-.6 12.9h0m19.1-5.4h0m2 17.4h0m-22.5-2.9h0m12.8-7.5h0m-1.2-12.8h0m-6.6 15.3h0m-3.6-4.6h0m15.3-11.7h0m-5.4 16.3h0m-7.9 12.7h0m3.6-18.5h0m3.3 15.5h0m-7.4-.2h0m2.4 2.1h0m2.2-17.1h0m-1.1-15.4h0m13.5 25.6h0m-20.9-3.4h0m.3 1.9h0m1.9 4.6h0m1-27.1h0m16.1 3.3h0m-1.4 12.6h0m-9.6 7.5h0m-5.9 3.4h0m.9-20.4h0m.7 22.2h0m16 3.6h0m2.3-4h0m-9.7-14.5h0m.9 13.1h0m2.3-32.1h0m-9.6-4.4h0m7.7 27.6h0m3.4-3.3h0m-2.1-17.4h0m-4.3 35.5h0m-7.9-22.5h0m9 19.6h0m3-20.6h0m-5.4 18.4h0m12.1-15.7h0m-7.3-3.2h0m-15-3.5h0m-.1 18.3h0m12.9-2h0m9.1-5h0m-4.6 8.8h0m-2.9-19.6h0m8.4-3.5h0m-15.5 23.8h0m12.3-26.4h0m-9.4-4.3h0m8.6 20.6h0m-19.9 7.3h0m.6 9.1h0m12.2-2.9h0m5.6-8h0m-1.5-9.5h0m-9.6 16.2h0m3-29.3h0m-6.5 26.6h0m5.6-19.2h0m0 7.3h0m-3.8-8.1h0m-7 22.7h0m4.2-4.2h0m9-26.2h0m-8.4 30.7h0m6.8-8.7h0m-8.6 11.1h0m1.7-1.9h0m-4-3h0m12 6.9h0m-10.2-26.9h0m9.6-29h0m-.1 0h0m100 145.6h0m-1.7-4.2h0m5.9-8.8h0m-11.4 12.5h0m24.3-.2h0m-5.4-10.9h0m-15.5-18.7h0m11.6 31.5h0m1.7-5.7h0m-7.9 7.2h0m.1-17h0m.8 20.6h0m14.8-49.4h0m-1.3 13.2h0m4.1 27.8h0m-19.8-6.5h0m12.7-3h0m-10.7 .4h0m17.5 7.3h0m-14.5-3.3h0m11.3-12.8h0m4 23.4h0m-10.8-19.9h0m-15.5 19.4h0m19.4-34.2h0m-19.1 19h0m25.5 6.1h0m-17.1-4h0m14.6 11.2h0m-12.8-21.2h0m-1.9 3.8h0m-1.6-2.4h0m1.9 3.5h0m7.8 21.7h0m-14-20.1h0m2 0h0m-2.2-.3h0m-1.5-1.1h0m-2 14.5h0m14.4-8.6h0m5.3-7.8h0m2.8 11.1h0m-10.7-12.7h0m6.2-16.1h0m-7.8 8.6h0m2.5 1.8h0m-8 17.4h0m17.7 2.5h0m-22.5 4h0m9.2 2.1h0m-3.8-36.5h0m1.5 40h0m4.7-18.4h0m5.4 3.2h0m-14.8 4.4h0m24.3-7.3h0m-14.7 16.7h0m8.8-5.3h0m-21.1 .5h0m13.4 7.8h0m8.8-41.3h0m-12.8 19.5h0m14.8-3.5h0m-18.5 11.3h0m12.3 6.9h0m-17.6 1.5h0m15.5-18.9h0m-13.6 14.1h0m21.9 8h0m-9.2-22.1h0m3.4 11.3h0m-10.1-1.1h0m17.2 12h0m-8.3-15.7h0m-7.2-1.9h0m14.2 14.6h0m-4.4-42.8h0m-7.8 46.2h0m-3.4-5.2h0m-2.5-8.1h0m16-26.7h0m3.5 31.9h0m-14.6 6.1h0m-10.4 .9h0m13.3-10.5h0m8.7-18.6h0m-20.4 3.6h0m2.9 10.9h0m1.9 5.1h0m2.3 10h0m-5.5-31.3h0m12 29.7h0m-8.7-19.1h0m11.7 18.8h0m-1.8-9.9h0m-6-2h0m4-16.5h0m-2.6 7.6h0m-10.6 7.5h0m11.9 8h0m2.2-32.9h0m3.3 37.5h0m-12.2-41.8h0m2.8 20.5h0m-4.5 1.2h0m14.9 24.9h0m-4-18.5h0m-12.6-11.5h0m9.8-12.1h0m1.7 35.2h0m-1.4-8.2h0m2.5-2.6h0m4.9-32.5h0m99.9 95.1h0m10.1 1.7h0m-1.3-3.4h0m-13.1-21h0m11 22.5h0m-11.6-1.9h0m14.4 1.8h0m-18.9-8.6h0m2.2-21.9h0m1.2 32.8h0m-8.2-8h0m22.8 10.4h0m1.5 1.5h0m-20.3-10.4h0m2-.4h0m-2.5 3.2h0m5.3-10.9h0m2.9 13.7h0m12.1-3.5h0m-5.7-19.2h0m-13.8 25.4h0m-1.2-2.8h0m19.2-17.4h0m-.3-10.6h0m-12.5 26.2h0m-10.8 4.4h0m6.9-7.2h0m18.6 3.1h0m-17.9-3.8h0m9.4-22.4h0m-6.8 7.4h0m-1.5 5.3h0m-2.8 8.7h0m-3.3-5.3h0m20.9 13.9h0m-15.2 1.4h0m-6.4-5h0m5.8-5.3h0m.6-3.2h0m-1.5 10.9h0m4.4-22.3h0m9.4 24.2h0m-17.1-5.4h0m19.4 6.9h0m-9.6-14.1h0m9.5 12.9h0m-13.7-8.3h0m-10 .1h0m13.6-6.6h0m-1.3 11.9h0m-6.9-19h0m22.1 19.7h0m-22.4-18.9h0m16.6 2.8h0m-6.8 19.9h0m8.5-5.8h0m3.4-11.5h0m-24.8-8.2h0m19 20.6h0m-8.7 .3h0m15.9 4h0m-9.9-26.3h0m-16.1 13.6h0m22.3 .1h0m-1.3 8.1h0m-15.8 2h0m-2 1.6h0m14.5-1.2h0m5.7-14.7h0m-20.1 13.5h0m11.6-2.8h0m3.7-17.2h0m-16 23.5h0m10-1.7h0m1.4-8h0m-13.2 8.5h0m11.3-7.5h0m4.1-4.1h0m3.5-2.6h0m1.6-2.5h0m-19.5 16.5h0m20.9-8.8h0m-10.6-3.1h0m5.1 8.3h0m1.9 0h0m.1-6.8h0m4.7 10.9h0m-5.8-4h0m-4.5-68.8h0m-4.2 7.7h0m12.2 11.7h0m101.1 36.5h0m-4.4-13.2h0m-14.5 8.5h0m14.6-27.8h0m-3.1 34.5h0m1.2-3.5h0m11.4-10h0m-4 2.3h0m5.3 12.4h0m-15.8-.5h0m8.2-9h0m-14.9 2.4h0m5.2-14.3h0m8.2-.6h0m-.8-13.1h0m.2 24.1h0m.6 .9h0m-1.8-17.4h0m-10.2-7.2h0m14 33.8h0m-13.3-3.7h0m21.2 5h0m-11.9-33.8h0m-14.1 14.9h0m22 17.9h0m-15.8-.1h0m-3.8-39h0m6.9 19.7h0m-8.5 .3h0m-.3-8.8h0m4.7-2.1h0m1.9 3.4h0m2.5 2.6h0m15 16.7h0m-2.5-4.1h0m-17.2-7.4h0m1.9 1.7h0m15.5-17.5h0m-15.1 27.3h0m-6.3-9.6h0m6.6 2.4h0m-4.6-.3h0m-1.5 10h0m11.9-36.8h0m-1.3 24.9h0m-2.9 .1h0m13.9 4.1h0m-9.4-23h0m-10.3 36.8h0m.2-47.1h0m10.4 19h0m-12.5-.3h0m6.1 16.4h0m18.5 10.8h0m-26.1-7.8h0m21.3-25.4h0m-.9 32.3h0m4.1 .7h0m-1.5-20.8h0m-15.8 15.7h0m3.2-5.2h0m14.8-23.2h0m-7.6 9.1h0m-13.7-7.2h0m7.6 22.6h0m2.3-15.3h0m10 21.3h0m-15.5-8.6h0m4-33h0m4.4 10.1h0m-9.5 29.9h0m14.2-3.9h0m-15 3.3h0m15.8-39.9h0m-20.7 36.9h0m.9-11h0m10.7 .8h0m-9.3 17.4h0m19.6-4.1h0m-23-10.6h0m13.5-19h0m-8.6 15.3h0m-3.5 11h0m-3.8 10.1h0m8.3-39.4h0m-.3 23.7h0m-7.9 13.3h0m18.6-5.7h0m-14.4-14.1h0m12.6 8.5h0m-9.2-.2h0m9.7-4.9h0m-10.9 16.7h0m4-4.7h0m7.9-10.2h0m-11.5 16.6h0m-.6-16h0m-4.2 5.3h0m22.7 .8h0m-13.1-.2h0m14.1-40.5h0m-4.4 32.1h0m-7.2 17.9h0m-6.9-18h0m-.6 10.7h0m14.3-3.7h0m-7.8-6.4h0m4 4.4h0m6.7 12.4h0m-11-2.4h0m8-25.5h0m-10.7-15.9h0m-6.6-25.1h0m122.2-57h0m-6 44.2h0m7.6-29.4h0m-11.8 43.4h0m13.9-.7h0m-21.2-23h0m4.1-24.5h0m4.7 36.9h0m3.8 0h0m6.5-38.2h0m-14.8 7.9h0m8.6 38.9h0m-.5-62.5h0m2.6 7.2h0m-11.2 32.7h0m5.3-9.9h0m11.3-14h0m-8.4 31.1h0m.8-26.6h0m-13.3 22.6h0m11.5-30.5h0m8.3-4.4h0m4.3 40.2h0m-14.3 7.5h0m11-.4h0m-18.1 11.3h0m.3-5.6h0m1.9-27.8h0m1.7 21.9h0m10.7-36.2h0m-10 9.9h0m9.5 11.4h0m-8.8-32.7h0m6.9 35.5h0m-8.1-39.2h0m11.9 55.6h0m3.2-5.5h0m-6-6.4h0m2.8 15.7h0m-16.5-31h0m.9-8h0m17 10.6h0m-7 26.4h0m-12-25.3h0m13.4-17.9h0m-8-20.9h0m.6 50.4h0m-2.9-19.1h0m-.2 12.4h0m-1.9-24.5h0m12.7-12.5h0m-.1 62.7h0m-5.6-53.4h0m8.1 13.1h0m-15.9 22h0m6-12.8h0m-2.2 18.2h0m6.6-52.2h0m-2.4 17.3h0m8.7 23.7h0m5.9 16h0m-22.6-1.6h0m1.7-16.1h0m19.4 20.4h0m-4.7-15.9h0m-10.6-49.4h0m11.2 55.8h0m-9.7-6.9h0m7.5-6h0m-3.6 7.4h0m5.9-26.2h0m-6.3 5.9h0m-2.6 33.3h0m-8.2 5.6h0m-3.6-16.8h0m15.4-47.5h0m1.1 26h0m-8.8-27.9h0m-2.4 39.1h0m10.2 1.2h0m-14.6 21.3h0m5.6-42.8h0m-2.9 9h0m20.9 40.3h0m-8.5-26h0m-3.4-11.6h0m-6.3 6.1h0m-1-3.6h0m8.6-10h0m4.7-33h0m-12.1 34.5h0m11.5 31.8h0m-12.2-45.2h0m-5.7 57.2h0m20.8-47.7h0m-5.7 35.2h0m.3-6.6h0m5.3-16.8h0m-9.1 13.5h0m15.5 18.3h0m-9.7-24.7h0m-8.7 23.3h0m-10.3 3.4h0m7.3-21h0m1.6 13.8h0m5.6-10.7h0m-10.1-5.7h0m16-10.5h0m-1.5 17.9h0m-11.9 12.9h0m13.3-37.5h0m1.8 24.3h0m-15.8-83.2h0m-.7 14h0m121.2 154.3h0m-12.4-11.8h0m4.7 5.7h0m3.5 14.6h0m-1.2 .7h0m8.3-8.4h0m-18.7 .9h0m2.2-7.1h0m-6 22.4h0m6.2-38.4h0m9.7 14.1h0m-15.1 23.3h0m1.1-17.5h0m-.7 4.2h0m-1.8 18.9h0m3.1-.2h0m7.1-8.5h0m3.1-6.1h0m-9.9 10.8h0m6 .8h0m.9-2.9h0m3.9-1.5h0m-14.2-7.7h0m23.9 8.8h0m-8.5-4.4h0m-11 10.4h0m21.4-14.7h0m-11.7 7.6h0m-2.4 .7h0m8.2-2.4h0m-7.2 3.3h0m11.1-22.6h0m.9 9.6h0m-4.4 5.2h0m-1-19.2h0m-13 27.7h0m2.5-20.2h0m-.7 7h0m-2.7 11.4h0m20.9 5.6h0m-28.4 1.5h0m9.2-34h0m17.4 17.9h0m.9 14.8h0m-1.1-1.5h0m-3.8-6.8h0m-22.3 3.3h0m19.5 5.8h0m-10.2-7.6h0m-1.5-11.1h0m9.3 5.9h0m-5.5-.7h0m7 7.2h0m7.7-4.4h0m-8.2-1.6h0m-11.2-16.7h0m-2.4 6.1h0m-.7-3.4h0m7-2.2h0m-10.5 10.6h0m13 14.3h0m-8.9-18.1h0m3.3 5.5h0m1.4-6.8h0m8.1 23.6h0m-9.7-3.8h0m1.6-15.2h0m-.8-11.4h0m-6.9 16.3h0m9.5-1.8h0m12.7 12.5h0m-4-4.9h0m.9 1.1h0m-10 6.8h0m-3.6-19.5h0m14 1.6h0m1.3 3.6h0m-13 5.2h0m8.1 6.2h0m-9.8-1h0m14.4 1.2h0m-14.2-1.7h0m14.9-20.3h0m-15.9-5.7h0m16.7 6.2h0m2.1 15.5h0m-.2 1.6h0m-17.1-9h0m7.4 12.4h0m-7.2 1.2h0m2.7 .5h0m9 1.7h0m-2.1-27.1h0m6.1 5.6h0m-7.4-14.5h0m-5.6 29.3h0m-4-5.5h0m7.5 10.5h0m-12.1-14.8h0m25.2 10.3h0m-18-3.6h0m5.8-8.2h0m1.4 10.4h0m8.3-35.4h0m-15.7 29.5h0m17.4-1.6h0m-5.3 6.6h0m-15-.4h0m-2.2-46.4h0m100.7 3.3h0m24.8 2h0m-9.9-19.9h0m5.3 5h0m-3.2 8.4h0m-17.9 1.5h0m13.6-37.6h0m-3.1 31.2h0m14.9-10.7h0m-10.1-6.6h0m-1.5 16.4h0m-12.6-22h0m16.7-7.6h0m-15.4-2.5h0m-1.4 45.4h0m25.5-41.5h0m-6.5 28.4h0m-6.2-12.7h0m3.9 9.9h0m8.6-6.8h0m-4.7-28h0m3.6 28.1h0m1 19.9h0m-16.3-10.6h0m-7.1-27.8h0m12.1-11.1h0m8.1 43.6h0m-14.4-15.1h0m16.1-13.2h0m-21.8 11.9h0m7.9 10.5h0m16.1-19.5h0m-11.2 4.5h0m-2 15.2h0m12.1 13h0m-17-24.4h0m13-15.2h0m-18.1 18.1h0m17.8-5.2h0m-1.6 12.8h0m-13.6-17h0m3.1 10.7h0m-8.4 17.8h0m5.2-13.1h0m3.6-15.7h0m7.4 24.2h0m-16.3-13.2h0m20.2-17.7h0m-3.3 13.2h0m9.5 7.2h0m-13 12.5h0m6.1-1.9h0m-8.1-19.3h0m.7 21.7h0m5.5-.4h0m-16 .2h0m20-4.2h0m-13.4-5.5h0m17.5-3.6h0m-13.3-2.4h0m-5.8-7.2h0m19.3 27.3h0m-21-5.6h0m14.4-4.2h0m6.1-15.5h0m-19.8 8.3h0m.1-13.1h0m-3.4 4.2h0m10.6 5h0m6.5 11h0m-11 9.5h0m-4.5-16.4h0m3.3-12.6h0m-4.2 19.4h0m20.6 10.9h0m-7.2-9.3h0m6.8 10.1h0m-23.8-2.9h0m19.3 2.6h0m-13.4-30.1h0m10.5 28.6h0m10.1-16.8h0m-19.9 6.9h0m4.6 3.8h0m-.4-13.1h0m5.2-17.7h0m-7.3 21.5h0m17.1-5.4h0m-8.6 7.9h0m-11.2-.5h0m16.7-5h0m-12.6 3.1h0m6.7 13.4h0m-9.3-16.1h0m-5.9-9h0m7.1 23.1h0m12.2-1.2h0m-18.9-8.1h0m15.8-10.7h0m-18.3 24.3h0m25.8-16.4h0m-11.5 .6h0m13.3-2.1h0m-24.7-3.8h0m3.5 10.5h0m8.6-1h0m10.4-26.1h0m-18.8 37.1h0m6.1-15.5h0m-6.8 11h0m1.8-8.3h0m1.1 12.3h0m15.4-107h0m-2.5 7.3h0m-4.8 20.9h0m7.4 11.5h0m87.1 85.2h0m6.4-14.5h0m13.5 11.1h0m-24.6-23.1h0m-.5 24.3h0m24.1-18h0m-9.6 24.2h0m9.6-23.3h0m-16.5 4.4h0m8.9-22.2h0m-12.7 37.9h0m20.1 .9h0m-6.9-23.9h0m-8.6-2.2h0m1.1 17.8h0m-10.2-2.5h0m13.8-21.4h0m6.7 25.8h0m3 4.9h0m-4.3 3.8h0m-18.9-32.3h0m1.5 27.4h0m24.9 9h0m-20.1-26.5h0m19 22.8h0m-11.1-14.8h0m1.1 18.2h0m-16.1-9.6h0m21.1-.4h0m2.8-1.9h0m-4.9 3.4h0m-6.5-26.5h0m-5-13.2h0m7.9 18.7h0m10.7-5.8h0m-15.4 34.1h0m-.6-.6h0m.7-22.1h0m-9.7 6.5h0m13.9 1.1h0m-2.2-15.9h0m-4.7 14h0m-1.3 14.2h0m-2-15.9h0m13.7 2.9h0m-7.8 10.7h0m-3.7-12.5h0m12 14h0m0-8.8h0m7.8 8.4h0m-21-50.4h0m15.8 39.7h0m-19.2 1.5h0m-2.7 2.6h0m10 10.9h0m10.3-24.2h0m-15.4 24.8h0m20.9-53.7h0m.1 31.9h0m-2.5-.8h0m-11.8 1.4h0m-3.3 15h0m15.2-26h0m-14.3 21h0m3.3-8.9h0m-11.3 13.3h0m15.2-29.3h0m8 27h0m1.9-12.1h0m-15.1 19.1h0m8.5-8.4h0m-11.9-19.6h0m7.8 29.6h0m-5.1-10.2h0m6.7 6.8h0m-13-10.9h0m13.9 11.2h0m2.4-8.4h0m1.2-34.5h0m2.3 26.8h0m-12.3 1.9h0m10.3-5.1h0m6.2 17.9h0m-2.2-14h0m-24-9.7h0m19-13.5h0m-13.1 23.7h0m11.1 6.5h0m-16.9-26.3h0m14.2 15.5h0m-14.9 13.4h0m14.8-6.8h0m-2.2 14h0m10.8-21.8h0m-6.6 18.9h0m2.5-29.7h0m3.5 24.1h0m-22-4.7h0m22.1-27.3h0m-14.6 32h0m-8.2-7.1h0m19-19.9h0m-11.6 30.6h0m3.2-5.1h0m-6.7-13.5h0m-4 15.3h0m4.5 2.5h0m.6-46.3h0m10.8 31.4h0m6.2 4h0m-20.7-3.2h0m23 20.8h0m-5.3-83.4h0m-7.6 .2h0m105 79.3h0m5.7-6.5h0m-2.3 14.1h0m5.7-13h0m5.3 6.8h0m-18.4 1h0m9.7 5h0m-3.7-1.4h0m-14.9-6.4h0m8.5 3.9h0m-.2-18.4h0m12.6 13.6h0m6.5 9.5h0m-26.5-1h0m21.2 3.4h0m4.1-7.4h0m.6 5.1h0m-6.2-21.6h0m4.9 23.2h0m-2.1-19.9h0m-21.5-3.7h0m8.5 22.2h0m-5.8 .7h0m10.6-3.2h0m5.2-6.8h0m-16.1 10.5h0m9.7-43.1h0m4.8 43.4h0m-4.6-20.2h0m-1.3 12h0m3.8 2.3h0m-7.7 6.1h0m16.2-3.3h0m-12.9-9.7h0m-5 2.5h0m4.3-8.6h0m-2.2 15.5h0m-2.3-18.4h0m6.6 22.3h0m3.1-31.6h0m-5.8 18.2h0m-8.8-20h0m8.6 33.3h0m-10.2-20.5h0m11.1 9h0m14.9 .5h0m-20.6-1.1h0m-.5-11h0m.6-.7h0m-.6 1.6h0m1.1 10.3h0m3.7-1.3h0m5.7 8.2h0m5.5-.8h0m-14-15.7h0m18 15.8h0m-5.9-24.9h0m-9.5 13.8h0m13.9-3h0m-21.3 13.8h0m10.9-10h0m-13.3-5.6h0m23.6 6.7h0m-11.1 3.9h0m-13.1 7.4h0m26.8-3.4h0m-9.3-20.1h0m-8.9 15.4h0m8.7 6.5h0m-2.9-.2h0m3.5-4.5h0m-10.5 7.1h0m2.3-26.1h0m-8.8 16.8h0m8-31.9h0m-2.8 27.6h0m7.7 2.5h0m-1.6-8.8h0m-8.1 19.2h0m18.3-1.3h0m-13.3-10.5h0m8.7 6.4h0m9.1-1h0m-11.8 0h0m-14.3-22h0m1 17.1h0m20.4 5.6h0m-18.7-4.7h0m6.7-27.5h0m-6.9 26.5h0m6.7 7.7h0m2.1-12.2h0m-.7 11h0m-4.3-19.7h0m6 28.7h0m8.4-18.1h0m3.4-9.2h0m-3.8-8.6h0m-11.6 33.1h0m6.1 .8h0m-11.1-19.6h0m7.1 20.2h0m2.8-15.5h0m9.9 13.4h0m-9.4-4.3h0m2.2-5.7h0m-8.5-11.3h0m5.7-8.2h0m9.8-26.8h0m-16.8 1.8h0m124.2 60h0m-15.4-33.2h0m2.5 17.4h0m-.4-.3h0m2.3 14.4h0m-6.1 .1h0m-5.1-8.9h0m15.3-4.8h0m-2.7-1.3h0m-6.2 9.6h0m-8.8 .2h0m15.7-3.4h0m-4.4-35.1h0m7.5 38.6h0m-7.7-15.2h0m-7.9 18.9h0m9.5 3.2h0m-1.4-8.7h0m-5 .1h0m10-1.3h0m-8.8 2h0m6.4-14.6h0m.6 18.5h0m.7-9.4h0m-2.3-27.8h0m-.9 24.8h0m-12.6 7.2h0m23.6-6.8h0m-23.6-2.3h0m20 21h0m-3.7-37.6h0m-2.9 35h0m7.1-48.5h0m-8.5 37.2h0m4.1-14.8h0m7.3 2.9h0m-8.6 .5h0m1.5 3.8h0m-14.3-7.2h0m2.5 9.2h0m8.7-14h0m-5.1 21.7h0m3.5 3.1h0m7.4-.3h0m-11.9-44.2h0m6 50.8h0m-4.7-4.8h0m7.8-13.3h0m2.9 13.2h0m-2.5-14.5h0m-13.4 10.6h0m3 5.7h0m3.9-.5h0m11.8-15.2h0m-16.7 22.7h0m-1.7-12.5h0m2.5-22.4h0m8.8 29.3h0m6.7-23.7h0m4.2 21.7h0m-19.3-4h0m-5.1-2.2h0m19.3 2h0m-20.6 12h0m19.2-19.1h0m-14.7 13.2h0m20.2-33.1h0m-20.7 25.7h0m11.2-2.4h0m-2.2 13.7h0m10.9-9.4h0m-6.4-17.9h0m-11.4 6.6h0m4.7-9.5h0m-7 5.7h0m9.8-7.9h0m-1.3 3.7h0m-9.7 28.5h0m-3.4 1.1h0m10.4-41.5h0m5.4 8.1h0m8.9-18.1h0m-21.9 18h0m5.9 5.1h0m12 17.3h0m1.7-29.2h0m-21.6 31.7h0m24.4 3h0m-9.8-60h0m-5.3 57.8h0m12.6 6.9h0m-19.9-17.6h0m12.3 13.7h0m6.4-21h0m-21.5 25.3h0m24.3-51.9h0m-18.6 24.8h0m19.2 19.4h0m-23-6h0m9.2 14.4h0m9.3-19h0m-8.4-21.4h0m9.9 37.6h0m-12.8-15.1h0m1.1-6.3h0m-1.8 5.6h0m15.7-22.2h0m-.3 35.9h0m-1.4-2.9h0m-.1-6.1h0m-15.8 4.8h0m-5.1-29.9h0m7.7-41.8h0m115.6-39.1h0m-4 .7h0m-16.1-5.5h0m3-29.2h0m5.5 9.6h0m10.8 13.3h0m-1.4 4.3h0m-5.3 8.1h0m-5.8-43.4h0m6.1 37h0m-2.5-2.1h0m4.1-9.5h0m7.8 9.5h0m1 8.2h0m-7.1-36.8h0m-11.8 20.9h0m10.8-16.9h0m-4.9 36h0m-10-42.3h0m21.8-1.7h0m-7 19.4h0m-11.1 6.1h0m17.4 18.8h0m-14.7-29h0m2.8 25.2h0m9.5-5.4h0m-.1 10.3h0m-12.5-17.7h0m-3.4 11.4h0m21.8-32.8h0m-10.8 5.4h0m-6.6-2.7h0m6.5 24.7h0m-3.3 .8h0m3.2-20.6h0m-3.8-4h0m-1.7 19.5h0m-8-11.4h0m15.9 6.1h0m7.4 9.7h0m-6.6-4.1h0m8-.7h0m-19.3-8.7h0m1.5-9.4h0m4.5 27.5h0m7.5 2h0m-16.8 3.6h0m10.4-41.7h0m8.8 32.7h0m-16.8 8.8h0m14.2-4.2h0m-19.4-3.4h0m4.3-23.6h0m14.8 18.6h0m-13-17h0m3.2 6.3h0m12.8-7.5h0m-16.9 25.9h0m14.1-42.3h0m2.5 24.8h0m-12.6 16.4h0m-8.9 .9h0m7.2-25.9h0m-8.7 30.2h0m16.3-12.4h0m-5.8-28.9h0m-10.2 43.9h0m22.7-30h0m-10.9-7h0m-10.2 34h0m6.5-10.6h0m18 9.5h0m-23.8-21h0m11.7 2.2h0m-11.4-24h0m4.7 15.2h0m2.9 22.2h0m5.4 8.9h0m11-3.4h0m-18.8-44.4h0m-2.7 3h0m9.2 41.4h0m1.4-45.2h0m8.3 25.8h0m-2.9 20.3h0m-7.6-12h0m2.3-15.8h0m-4.5 19.3h0m-5-39.3h0m3.8 24.7h0m-8.3 24.8h0m10.9-.1h0m-5.6-35.3h0m-6.7 34.6h0m7.8-12h0m-5.6-7.6h0m21.9-10.6h0m.2 25.3h0m-7.7 4.6h0m-5.3-22h0m-5.9 8.8h0m12-24.9h0m-12.1 1.6h0m-.9-.4h0m18.8 33.9h0m2.1-44.6h0m-11.2 29.9h0m3.9-2h0m0 19.2h0m-15.2-45.1h0m8.2 11.3h0m-2.7 21.6h0m9.8-79.6h0m88.2 134.7h0m12.9 1.1h0m-8.2 .1h0m20.2 6.4h0m-7.8 .4h0m-16.5-28.6h0m18.7 29.1h0m-16.4-24.5h0m17.1 4.2h0m-19.1 8.9h0m23.6 17.6h0m-25-25.2h0m20.9 22.4h0m4.3 4.7h0m-11.4-21.7h0m-2.3 2.1h0m-11.6 15.7h0m21.3-26.5h0m-17.5-2.2h0m-.1 14h0m4-23.4h0m9 27.1h0m3 10.5h0m5-25.1h0m-20.5 1.1h0m13.6 25.7h0m-18.5-5.2h0m16.7-15.8h0m-6.7-1.5h0m4.5 5.5h0m-9.2-12.9h0m12 12.5h0m-6.5-6.8h0m-6.1 28.2h0m12.7-11h0m-18.2-5.5h0m5 9.9h0m11.9 6.7h0m-6.5-6.4h0m15.1-9.9h0m.9 4.3h0m-12.6-28h0m9 36.2h0m-7-14.9h0m-8.4 14.8h0m16 1.6h0m2.1-13.8h0m-24.5-1.5h0m-.1-9.8h0m21.9 5.9h0m-20.9 8.8h0m3.5-6.3h0m12.4 5.6h0m-5.5 6.2h0m10.6-16h0m-6.1 14h0m9.6 2.9h0m.1-2.3h0m-8.5 1.7h0m8.9-11.2h0m-6.2 7.1h0m-20.5 7.4h0m19-23.2h0m-4 11.4h0m9.5 7h0m-16.8 6.5h0m14.3-21.8h0m-4.6 2.2h0m-8 4.5h0m-3.6 17.3h0m-4.4 .2h0m21.5-9.2h0m-6.1-6.6h0m-9.8-26.8h0m-2.8 41h0m2-39.4h0m-.1 25.1h0m-.1-25.1h0m11.8 25.1h0m8 13.1h0m-11-8.8h0m-10 5.1h0m19.7-19.7h0m-5.5 24.9h0m-5-.5h0m-2-14.4h0m-4 .1h0m.3 9.5h0m7.6 5.5h0m-10.8-33.5h0m16.4 14.4h0m-12.3 0h0m-9.5 4.1h0m24.1-23.3h0m-12.1 34.4h0m-4-33.6h0m-4.3 27.4h0m21.2-17h0m-2.8 12.9h0m1.3 .3h0m-22.3-25.5h0m20.8 2h0m-3.4 8.2h0m-12.7-13.8h0m.6 23.4h0m-1.8-.7h0m-.6 9h0m7.3-18.5h0m6.2-3.9h0m7.5 32.8h0m-9.7-15.8h0m-9.9-7.9h0m-2.3-31.1h0m105.5 38.4h0m9.2 10.9h0m13.8 5.9h0m-5.5-25.7h0m-1.8 13.9h0m3.2 8.1h0m-13.1 12.1h0m12.8-32.6h0m-21.9 27.3h0m24-31h0m-5.4 13.1h0m-2.5 6.3h0m-13.4-8.7h0m3.2-20.5h0m-1 45.3h0m-4-8.1h0m-2-5.9h0m26.2 5.7h0m-22.5-3.1h0m.2-2h0m-1.6-.1h0m14.6-13h0m-10.4-1.4h0m9.7-3h0m8.3 25.9h0m-6.8-11h0m-5.8 5.2h0m15.1-13.3h0m-3.4 23.7h0m-8.8-6.4h0m-6.1 1.7h0m17.8-8.4h0m-12.6-11.1h0m-6.9-2.8h0m5.1 5.7h0m1.4-1.3h0m5.4-3.6h0m-4 22.9h0m-5-9.1h0m14-2.5h0m3.6 .2h0m-12.5 5h0m-11.2 7.1h0m12.7-7.9h0m-8.8 6.4h0m-1.1-.2h0m14.2-12.6h0m-17.9 6.1h0m12.6-2.7h0m5.3 10.3h0m-3.7-8.9h0m-2.9-30.6h0m2.3 .4h0m8.6-3.9h0m-20.5 34.9h0m17.7-29.3h0m.3 33.4h0m-.3-6.2h0m-14 10.2h0m6.2-23.4h0m-4.9 9.3h0m7.5-9.7h0m-12.4 22.3h0m11.5 6.3h0m.6-36.1h0m-4.6 4.3h0m14-6.3h0m-3.1 33h0m2.8-2.3h0m-8.4 6.1h0m-.8-28.4h0m9.3-16.3h0m-11.4 33.8h0m-5.5 11.5h0m.6-14.7h0m16.7-15.3h0m-15.7 25.7h0m-9.8-14.3h0m18.6-7h0m-1.4 21.8h0m3.1-13.1h0m2.2 14.2h0m2-22.8h0m-16.4 12.4h0m13.9-16h0m-8.5 16.9h0m-3.8-5.2h0m-7.3-10h0m3.2-12.2h0m6 31.5h0m-5.8-23.3h0m17.8 13.4h0m-.8-8.8h0m-5 26.9h0m-2.5-34.5h0m5.9-10.7h0m-1.1 27.1h0m-8.6-8.9h0m12.9 16.2h0m.3 1h0m-22.5-2.9h0m-2.9 5.9h0m12.1 2.7h0m-8.4-3.5h0m17.9-9h0m1 1h0m-14.6 14h0m12.5-18.5h0m6.4-1.3h0m-5 5h0m-11.9-4.2h0m13.4-20h0m-6.5-42.8h0m113.1 150.6h0m-8.7-9.4h0m-6.4 17.9h0m-8.3 1.1h0m15.2-.5h0m-16.1 1.6h0m19.9-8.2h0m-20.5-.3h0m19.2-2.8h0m-16 9.9h0m5.1-8.9h0m17.7 9.4h0m-5.9-5.6h0m-17.9-3.4h0m12.5 9.3h0m-11.7-10.2h0m8.1-4.1h0m-3.3 .1h0m-.5 12h0m7.1-2.2h0m-.7-11.1h0m-13.1 15.8h0m-1.2-3.1h0m21.4 3.4h0m.8-9.8h0m-22.3 5.7h0m21.8-13.1h0m-8.1-6.6h0m-3.5 23.2h0m-6.9-25.2h0m20.9 19.4h0m-6.3-5.6h0m-2 11.9h0m-3.7-2.3h0m-1.9-7.6h0m11.7-3.9h0m-12.3 11.8h0m-5.8 1.2h0m22.2-12.1h0m-18.3 3.8h0m15.3-8.7h0m-2.9-7.2h0m-17.5 8.8h0m7-1.1h0m17.3 15h0m-10.1-2.8h0m-6.6-3.1h0m12.5 1.5h0m.6-11.8h0m.1 14.9h0m-2.2 1.7h0m-20.2-22.4h0m4.9 20.5h0m20.4-5.4h0m-20.1-.1h0m-3.7-.8h0m4.1 3.4h0m17.1 4.6h0m-7.4-2.4h0m10.1-7.5h0m-13.9 9.7h0m-3.7-6.1h0m6.6 5.5h0m-5.9-15.6h0m7-10.2h0m91.9-55.2h0m16.7-2.5h0m-15.8-21h0m8.6-26.2h0m3.9 44.9h0m-17.9 1.6h0m9-35.3h0m3.4 35.7h0m1.7-5.5h0m11.7-5.3h0m-16.3 14.4h0m0-6.9h0m18.1-10.9h0m-25.3-35.1h0m19.7 47.4h0m.7-52.8h0m-4.2 58.7h0m-18.7-4.1h0m5 2.7h0m4.1-15.2h0m13.6 14.4h0m-10.4-19.2h0m4.2 4.6h0m9.1-1.2h0m-4.2 16.9h0m6.5-16h0m-13.9 7.5h0m-12.9 7.2h0m5.9-3.4h0m-4.4-8.2h0m16.5 3.4h0m-.3-64.9h0m5.4 77.7h0m1.6-23.1h0m-11.8 11.6h0m5.1 10.2h0m8.8 .7h0m-23.8-46.4h0m12.1 20.9h0m-.5 13.1h0m7.4-9.7h0m-13 6.8h0m-1.5 14.8h0m1-18.4h0m-.4-9.5h0m2.9 26.4h0m-2.1-17.1h0m9 5.9h0m2.1-1.7h0m-9.9-21.6h0m-8.3 33.7h0m16.7-30.4h0m-16.3 4.5h0m16.6-.7h0m7.1 23.4h0m-15.5-2.3h0m6.2-15.3h0m9.2 11.3h0m-22.5-27.4h0m-.5 14.8h0m17.2-5h0m.3 5.4h0m-7.7 14.7h0m-2.8-25.2h0m-4.3-19.9h0m.2 43.8h0m-5.7-12.5h0m14.1-1.6h0m-13.8 15h0m9.1-15.3h0m10.6 17.5h0m-10.1-28.7h0m5.5 36h0m-7.8 1.1h0m9.2-24.5h0m-12.3 5.8h0m1.9-4.1h0m2.1-2.4h0m-8.2-6.6h0m6.2 .6h0m7.8-18.6h0m-3.4 28.6h0m-5-3.1h0m-1.5 17.2h0m1.4-43.2h0m8.5-.2h0m-9.9 38.7h0m-3.1 2.7h0m17.6-5.1h0m6.6 11.6h0m-6.5-50.4h0m-15.8 46.3h0m3.9-14.1h0m1.5 8.3h0m3-12.3h0m-9 17.9h0m3.9-9.3h0m-.2 .9h0m3.4 7.2h0m6.7-3.1h0m9.4 2.8h0m-22.2-28.2h0m20.1 14.6h0m-19.8-.3h0m1.5-24.7h0m18.1 16.6h0m-.8 13.5h0m-18.1-31.8h0m16.6 23.1h0m-16 6h0m-.8-5.4h0m3.9 9.9h0m15.6-83.2h0m106.9 111.8h0m.3 15.1h0m-13.5-25.3h0m6.4 27.5h0m-7-30.9h0m-.9-14.6h0m1.7 40.9h0m-10.2-13.6h0m.6 6.5h0m15.9 1.9h0m-14.7-49h0m12.2 3.2h0m-4.7 43.3h0m-12.4 7.3h0m3.7-30.5h0m7.7 32.8h0m-8.5-17.1h0m9.1-19.9h0m-2.7-9.5h0m-7 34.9h0m-1 16h0m4.1-48.1h0m19.4 19.8h0m-10 27.2h0m12 .6h0m-16.4-5.4h0m5.9-15.3h0m9.1 17.5h0m-1-23.2h0m-23.9 20.6h0m10.2-54.4h0m-2.4 52.6h0m10.6-19.3h0m-7.6-3.8h0m13.3 29h0m-14.7-35.4h0m-3.5-11.7h0m-2.4 14.9h0m9.2-23.7h0m-5.9 32.4h0m17.6 16.6h0m-20.9-21.5h0m18.2-26.3h0m-8.2 1.1h0m-12.7 30h0m6.8 24.8h0m-2.6-36.3h0m-2.4-15.7h0m21.5 36.6h0m-17.5-10.7h0m-2.6 17.3h0m-4.9-9.5h0m9 5.9h0m9.4-6.2h0m-17 10.8h0m23.2-4.9h0m-24.6-7.1h0m14.9-1.5h0m10.8-22.7h0m-15.6 13.7h0m14.4 21.7h0m-20.7-4.8h0m3 1h0m19 8.3h0m-21.6-8.6h0m-3.3 11h0m5.5-41.5h0m-5.1 38.1h0m20.5-7.1h0m-15.5-.3h0m-7.4 12.7h0m17.7-4.5h0m2.9-3.5h0m-14.5 7h0m3-24.9h0m-5.7 14.1h0m23.4 8h0m-24.6-13.2h0m12.3-33.3h0m12.3 27.5h0m-12.3-5.3h0m2-.3h0m-9.8 22.9h0m-5.9 6.1h0m7.5-.1h0m8.9-37.3h0m-13.6 21.1h0m19.7-2.6h0m-21.2-24.3h0m6.4 5.4h0m19.6 28.6h0m-10.7-23.3h0m-8.5 2.1h0m-4.3-2.9h0m8.1-2h0m11.7-2.8h0m1.6 8.3h0m-16 25.7h0m-5.9-7.6h0m7.3-7.8h0m-.8 9.2h0m-7.2 8.4h0m-1.4-26.8h0m4.8 14.1h0m1.3-7h0m9.8-6.4h0m5.6-29.6h0m-13.9 24.1h0m18.2 30.6h0m-16.9-6.1h0m5.9-1.3h0m2.5 9h0m1.8-103.2h0m1.1 13.8h0m-17.7 13.4h0" stroke="#e4231b" stroke-width="5" stroke-linecap="round" fill="none"/>
<path d="M136.05 2205.93V2201.73H178.35V2205.93M240.44 2303.4V2299.2H282.74V2303.4M344.83 2334.7V2330.5H387.13V2334.7M449.22 2324.27V2320.07H491.52V2324.27M553.61 2225.55V2221.35H595.91V2225.55M658 2359.54V2355.34H700.3V2359.54M762.39 2255.81V2251.61H804.69V2255.81M866.78 2303.61V2299.41H909.08V2303.61M971.17 2334.28V2330.08H1013.47V2334.28M1075.56 2319.05V2314.85H1117.86V2319.05M1179.95 2190.91V2186.71H1222.25V2190.91M1284.34 2287.33V2283.13H1326.64V2287.33M1388.73 2267.29V2263.09H1431.03V2267.29M1493.12 2399.82V2395.62H1535.42V2399.82M1597.51 2249.55V2245.35H1639.81V2249.55M1701.9 2275.64V2271.44H1744.2V2275.64" fill="none" stroke="#000" stroke-width="1.6"/>
<text x="153.2" y="2204.33" text-anchor="middle" font-size="16.5">***</text>
<text x="257.59" y="2301.8" text-anchor="middle" font-size="16.5">***</text>
<text x="361.98" y="2333.1" text-anchor="middle" font-size="16.5">***</text>
<text x="466.37" y="2322.67" text-anchor="middle" font-size="16.5">***</text>
<text x="570.76" y="2223.95" text-anchor="middle" font-size="16.5">***</text>
<text x="675.15" y="2357.94" text-anchor="middle" font-size="16.5">***</text>
<text x="779.54" y="2254.21" text-anchor="middle" font-size="16.5">***</text>
<text x="883.93" y="2302.01" text-anchor="middle" font-size="16.5">***</text>
<text x="988.32" y="2332.68" text-anchor="middle" font-size="16.5">***</text>
<text x="1092.71" y="2317.45" text-anchor="middle" font-size="16.5">***</text>
<text x="1197.1" y="2189.31" text-anchor="middle" font-size="16.5">***</text>
<text x="1301.49" y="2285.73" text-anchor="middle" font-size="16.5">***</text>
<text x="1405.88" y="2265.69" text-anchor="middle" font-size="16.5">***</text>
<text x="1510.27" y="2398.22" text-anchor="middle" font-size="16.5">***</text>
<text x="1614.66" y="2247.95" text-anchor="middle" font-size="16.5">***</text>
<text x="1719.05" y="2274.04" text-anchor="middle" font-size="16.5">***</text>
<rect x="94.2" y="2161.5" width="1684.3" height="281.7" fill="none" stroke="#000" stroke-width="1.5"/>
<path d="M94.2 2443.2h-6.5M94.2 2401.46h-6.5M94.2 2359.72h-6.5M94.2 2317.98h-6.5M94.2 2276.24h-6.5M94.2 2234.5h-6.5M94.2 2192.76h-6.5M157.2 2443.2v6.5M261.59 2443.2v6.5M365.98 2443.2v6.5M470.37 2443.2v6.5M574.76 2443.2v6.5M679.15 2443.2v6.5M783.54 2443.2v6.5M887.93 2443.2v6.5M992.32 2443.2v6.5M1096.71 2443.2v6.5M1201.1 2443.2v6.5M1305.49 2443.2v6.5M1409.88 2443.2v6.5M1514.27 2443.2v6.5M1618.66 2443.2v6.5M1723.05 2443.2v6.5" stroke="#000" stroke-width="1.4" fill="none"/>
<g font-size="17" text-anchor="end">
<text x="84.3" y="2448.7">0</text>
<text x="84.3" y="2406.96">2</text>
<text x="84.3" y="2365.22">4</text>
<text x="84.3" y="2323.48">6</text>
<text x="84.3" y="2281.74">8</text>
<text x="84.3" y="2240">10</text>
<text x="84.3" y="2198.26">12</text>
</g>
<g font-size="18.6" text-anchor="end">
<text transform="translate(161.2 2450.2) rotate(-30)" dy="0.72em">BGN</text>
<text transform="translate(265.59 2450.2) rotate(-30)" dy="0.72em">TREM2</text>
<text transform="translate(369.98 2450.2) rotate(-30)" dy="0.72em">FAP</text>
<text transform="translate(474.37 2450.2) rotate(-30)" dy="0.72em">OLR1</text>
<text transform="translate(578.76 2450.2) rotate(-30)" dy="0.72em">COMP</text>
<text transform="translate(683.15 2450.2) rotate(-30)" dy="0.72em">NOX4</text>
<text transform="translate(787.54 2450.2) rotate(-30)" dy="0.72em">CTHRC1</text>
<text transform="translate(891.93 2450.2) rotate(-30)" dy="0.72em">INHBA</text>
<text transform="translate(996.32 2450.2) rotate(-30)" dy="0.72em">MSR1</text>
<text transform="translate(1100.71 2450.2) rotate(-30)" dy="0.72em">ITGBL1</text>
<text transform="translate(1205.1 2450.2) rotate(-30)" dy="0.72em">COL1A1</text>
<text transform="translate(1309.49 2450.2) rotate(-30)" dy="0.72em">RCN3</text>
<text transform="translate(1413.88 2450.2) rotate(-30)" dy="0.72em">ASPN</text>
<text transform="translate(1518.27 2450.2) rotate(-30)" dy="0.72em">MS4A14</text>
<text transform="translate(1622.66 2450.2) rotate(-30)" dy="0.72em">SPP1</text>
<text transform="translate(1727.05 2450.2) rotate(-30)" dy="0.72em">THBS2</text>
</g>
<text transform="translate(32.1 2314.45) rotate(-90)" font-size="17.76" text-anchor="middle">The expression levels</text>
<text transform="translate(49.3 2316.45) rotate(-90)" font-size="16.6" text-anchor="middle">Log<tspan font-size="13.5" dy="5">2</tspan><tspan dy="-5" dx="1.5" font-size="19.5">(</tspan><tspan dx="3">TPM+1</tspan><tspan dx="5" font-size="19.5">)</tspan></text>
<rect x="1669.2" y="2185.4" width="15" height="14.6" fill="#2b4d8b" stroke="#000" stroke-width="1.2"/>
<rect x="1669.2" y="2202.2" width="15" height="14.6" fill="#e4231b" stroke="#000" stroke-width="1.2"/>
<text x="1692.7" y="2198.4" font-size="18">6&amp;7</text>
<text x="1692.7" y="2215.1" font-size="18">8&amp;9&amp;10</text>
</g>
</svg></body></html>
